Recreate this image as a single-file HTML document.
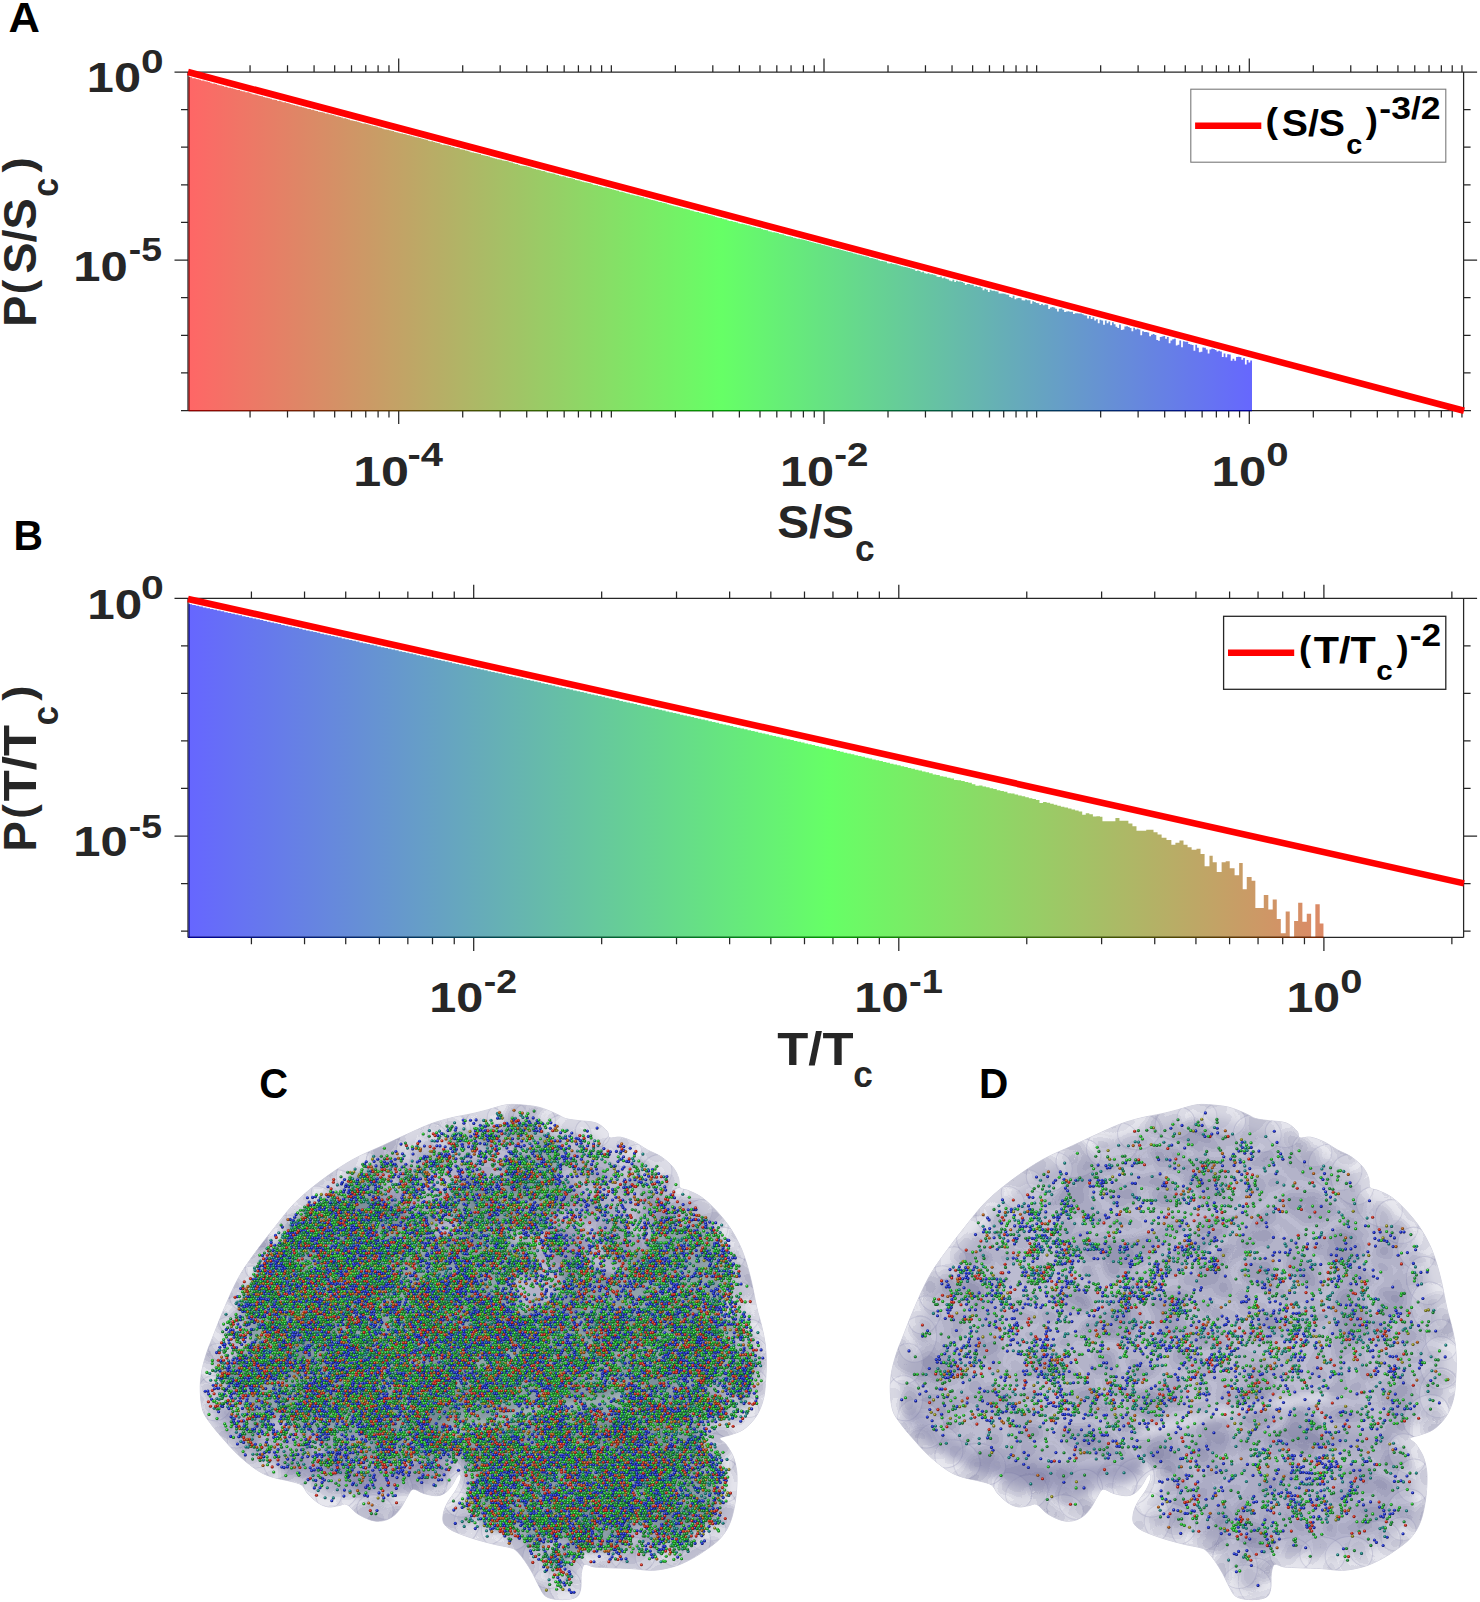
<!DOCTYPE html><html><head><meta charset="utf-8"><style>html,body{margin:0;padding:0;background:#fff}svg{display:block}text{font-family:"Liberation Sans",sans-serif;font-weight:bold;font-kerning:none;letter-spacing:0}</style></head><body><svg width="1480" height="1602" viewBox="0 0 1480 1602"><defs><linearGradient id="gA" gradientUnits="userSpaceOnUse" x1="188" y1="0" x2="1256" y2="0"><stop offset="0" stop-color="#ff6666"/><stop offset="0.5" stop-color="#66ff66"/><stop offset="1" stop-color="#6666ff"/></linearGradient><linearGradient id="gAe" gradientUnits="userSpaceOnUse" x1="188" y1="0" x2="1252" y2="0"><stop offset="0" stop-color="#990000"/><stop offset="0.5" stop-color="#009900"/><stop offset="1" stop-color="#000099"/></linearGradient><linearGradient id="gB" gradientUnits="userSpaceOnUse" x1="188" y1="0" x2="1470" y2="0"><stop offset="0" stop-color="#6666ff"/><stop offset="0.5" stop-color="#66ff66"/><stop offset="1" stop-color="#ff6666"/></linearGradient><linearGradient id="gBe" gradientUnits="userSpaceOnUse" x1="188" y1="0" x2="1470" y2="0"><stop offset="0" stop-color="#000099"/><stop offset="0.5" stop-color="#009900"/><stop offset="1" stop-color="#990000"/></linearGradient></defs><path d="M188.6 410.6V76.99H190.37V77.36H192.14V78.13H193.92V78.25H195.69V79H197.46V79.37H199.23V79.65H201.01V80.39H202.78V80.58H204.55V81.29H206.32V81.54H208.1V82.03H209.87V82.7H211.64V83.41H213.41V83.46H215.19V83.99H216.96V84.7H218.73V85.36H220.5V85.61H222.27V85.97H224.05V86.79H225.82V86.7H227.59V87.66H229.36V87.79H231.14V88.18H232.91V88.63H234.68V89.21H236.45V89.99H238.23V90.08H240V90.79H241.77V91.3H243.54V91.61H245.31V92.18H247.09V92.36H248.86V92.83H250.63V93.39H252.4V94.14H254.18V94.46H255.95V94.87H257.72V95.5H259.49V95.89H261.27V96.27H263.04V97.04H264.81V97.45H266.58V97.65H268.36V98.32H270.13V98.76H271.9V99.44H273.67V99.82H275.44V100.03H277.22V100.91H278.99V100.87H280.76V101.52H282.53V102.19H284.31V102.3H286.08V102.97H287.85V103.17H289.62V104.02H291.4V104.55H293.17V104.9H294.94V105.55H296.71V105.69H298.48V106.39H300.26V106.8H302.03V107.26H303.8V107.66H305.57V108.36H307.35V108.89H309.12V109.08H310.89V109.66H312.66V109.77H314.44V110.63H316.21V111.07H317.98V111.74H319.75V112.11H321.52V112.26H323.3V112.79H325.07V113.43H326.84V113.51H328.61V114.25H330.39V114.54H332.16V114.98H333.93V115.42H335.7V116.31H337.48V116.4H339.25V116.94H341.02V117.5H342.79V118.26H344.57V118.25H346.34V118.95H348.11V119.48H349.88V120.15H351.65V120.58H353.43V121.08H355.2V121.2H356.97V121.75H358.74V122.19H360.52V122.97H362.29V123.49H364.06V123.47H365.83V123.96H367.61V124.46H369.38V124.93H371.15V125.56H372.92V126.09H374.7V126.36H376.47V126.68H378.24V127.4H380.01V127.84H381.78V128.43H383.56V129.13H385.33V129.44H387.1V129.81H388.87V130.34H390.65V130.85H392.42V130.94H394.19V131.92H395.96V132.32H397.74V132.85H399.51V133.27H401.28V133.5H403.05V133.97H404.82V134.27H406.6V135.06H408.37V135.18H410.14V135.66H411.91V136.21H413.69V136.66H415.46V137.23H417.23V137.53H419V137.97H420.78V138.53H422.55V138.97H424.32V139.6H426.09V139.87H427.87V140.85H429.64V141.16H431.41V141.35H433.18V141.89H434.95V142.41H436.73V142.9H438.5V143.22H440.27V144.13H442.04V144.68H443.82V144.84H445.59V145.32H447.36V145.55H449.13V146.03H450.91V146.65H452.68V147.07H454.45V147.88H456.22V147.95H457.99V148.34H459.77V149.36H461.54V149.58H463.31V149.82H465.08V150.53H466.86V150.69H468.63V151.46H470.4V152.2H472.17V152.61H473.95V152.98H475.72V153.19H477.49V153.72H479.26V154.07H481.04V154.9H482.81V155.23H484.58V155.85H486.35V156.05H488.12V156.46H489.9V157.28H491.67V157.86H493.44V158.25H495.21V158.69H496.99V159.17H498.76V159.59H500.53V159.75H502.3V160.4H504.08V160.77H505.85V161.05H507.62V161.52H509.39V162.14H511.16V162.6H512.94V163.33H514.71V163.96H516.48V164.12H518.25V164.89H520.03V165.39H521.8V165.84H523.57V165.95H525.34V166.34H527.12V166.81H528.89V167.26H530.66V167.74H532.43V168.46H534.21V169.1H535.98V169.53H537.75V169.79H539.52V170.36H541.29V170.92H543.07V170.96H544.84V171.78H546.61V172.4H548.38V172.79H550.16V173.24H551.93V173.55H553.7V173.84H555.47V174.68H557.25V174.88H559.02V175.63H560.79V176.2H562.56V176.33H564.33V176.8H566.11V177.6H567.88V177.93H569.65V178.07H571.42V178.52H573.2V179H574.97V179.93H576.74V180.34H578.51V180.41H580.29V181.29H582.06V181.85H583.83V182.13H585.6V182.42H587.38V183.01H589.15V183.23H590.92V183.63H592.69V184.67H594.46V184.95H596.24V185.35H598.01V186.06H599.78V186.23H601.55V186.96H603.33V187.41H605.1V187.51H606.87V188H608.64V188.5H610.42V188.94H612.19V189.62H613.96V189.89H615.73V190.46H617.5V190.75H619.28V191.69H621.05V191.83H622.82V192.36H624.59V192.91H626.37V193.57H628.14V193.75H629.91V194.52H631.68V194.74H633.46V195.23H635.23V195.7H637V195.86H638.77V196.59H640.55V196.9H642.32V197.27H644.09V198.21H645.86V198.31H647.63V198.96H649.41V199.58H651.18V199.95H652.95V200.28H654.72V200.87H656.5V201.36H658.27V201.97H660.04V202.03H661.81V202.78H663.59V203.06H665.36V203.55H667.13V204.32H668.9V204.63H670.67V205.13H672.45V205.72H674.22V206.28H675.99V206.47H677.76V207.04H679.54V207.45H681.31V207.92H683.08V208.5H684.85V208.83H686.63V209.35H688.4V209.79H690.17V210.54H691.94V210.86H693.72V211.44H695.49V211.95H697.26V212.01H699.03V212.66H700.8V213.36H702.58V213.77H704.35V213.82H706.12V214.28H707.89V214.94H709.67V215.19H711.44V215.76H713.21V216.13H714.98V216.96H716.76V217.5H718.53V218.04H720.3V218.06H722.07V218.87H723.84V219.31H725.62V219.47H727.39V220.38H729.16V220.9H730.93V220.93H732.71V221.84H734.48V221.97H736.25V222.5H738.02V223.27H739.8V223.65H741.57V223.71H743.34V224.35H745.11V224.87H746.89V225.23H748.66V225.62H750.43V226.16H752.2V226.87H753.97V226.92H755.75V227.71H757.52V228.12H759.29V228.33H761.06V228.99H762.84V229.64H764.61V230.04H766.38V230.24H768.15V231.27H769.93V231.62H771.7V232.2H773.47V232.15H775.24V232.72H777.01V233.05H778.79V233.97H780.56V234.13H782.33V234.52H784.1V235.16H785.88V235.93H787.65V236.34H789.42V236.48H791.19V236.88H792.97V237.82H794.74V238.08H796.51V238.63H798.28V238.73H800.06V239.15H801.83V239.62H803.6V240.09H805.37V240.56H807.14V241.03H808.92V241.51H810.69V242.01H812.46V242.45H814.23V242.97H816.01V243.4H817.78V243.86H819.55V244.37H821.32V244.93H823.1V245.36H824.87V245.81H826.64V246.26H828.41V246.87H830.18V247.16H831.96V247.9H833.73V248.35H835.5V248.73H837.27V249.06H839.05V249.57H840.82V250H842.59V250.52H844.36V250.96H846.14V251.41H847.91V251.89H849.68V252.36H851.45V252.84H853.23V253.39H855V253.78H856.77V254.39H858.54V254.78H860.31V255.32H862.09V255.79H863.86V256.13H865.63V256.62H867.4V257.03H869.18V257.88H870.95V258.01H872.72V258.44H874.49V258.99H876.27V259.42H878.04V260.14H879.81V260.89H881.58V260.98H883.35V261.45H885.13V261.84H886.9V263.26H888.67V263.47H890.44V263.16H892.22V263.88H893.99V264.31H895.76V264.6H897.53V265.19H899.31V265.76H901.08V266.16H902.85V266.67H904.62V266.99H906.4V267.57H908.17V268H909.94V268.53H911.71V269.03H913.48V269.45H915.26V270.97H917.03V270.4H918.8V270.94H920.57V272.35H922.35V271.74H924.12V273.33H925.89V273.84H927.66V273.25H929.44V274.36H931.21V274.32H932.98V274.74H934.75V275.19H936.52V276.81H938.3V276.96H940.07V276.44H941.84V278.15H943.61V277.61H945.39V278.81H947.16V279.19H948.93V280.6H950.7V281.29H952.48V279.63H954.25V281.94H956.02V280.81H957.79V281.52H959.57V281.62H961.34V282.05H963.11V283.02H964.88V284.93H966.65V283.93H968.43V284H970.2V284.63H971.97V284.8H973.74V286.45H975.52V286.11H977.29V287.06H979.06V286.68H980.83V287.73H982.61V290.21H984.38V288.73H986.15V289.63H987.92V291.93H989.69V289.76H991.47V290.79H993.24V290.75H995.01V291.13H996.78V291.57H998.56V293.45H1000.33V293.5H1002.1V293.5H1003.87V293.77H1005.65V294.5H1007.42V294.8H1009.19V297.12H1010.96V297.69H1012.74V295.86H1014.51V299.29H1016.28V298.21H1018.05V298.08H1019.82V298.37H1021.6V300.33H1023.37V300.47H1025.14V299.53H1026.91V300.15H1028.69V300.32H1030.46V303.76H1032.23V301.22H1034V302.01H1035.78V303.07H1037.55V303.15H1039.32V304.94H1041.09V303.9H1042.86V305.3H1044.64V304.47H1046.41V304.81H1048.18V309.06H1049.95V307.62H1051.73V306.89H1053.5V307.6H1055.27V308.64H1057.04V311.55H1058.82V308.81H1060.59V308.47H1062.36V309.8H1064.13V311.92H1065.9V311.52H1067.68V311.15H1069.45V311.8H1071.22V311.66H1072.99V314.08H1074.77V313.21H1076.54V313.33H1078.31V313.58H1080.08V313.55H1081.86V314.26H1083.63V315.24H1085.4V315.55H1087.17V318.59H1088.95V315.99H1090.72V319.01H1092.49V317.29H1094.26V320.39H1096.03V319.31H1097.81V323.27H1099.58V319.85H1101.35V320.41H1103.12V324.81H1104.9V320.51H1106.67V323.29H1108.44V321.61H1110.21V325.22H1111.99V322.29H1113.76V324.35H1115.53V326.8H1117.3V327.95H1119.08V324.58H1120.85V329.97H1122.62V329.6H1124.39V326.57H1126.16V326.17H1127.94V326.95H1129.71V328.02H1131.48V331.18H1133.25V327.84H1135.03V329.4H1136.8V328.78H1138.57V329.4H1140.34V335.14H1142.12V331.13H1143.89V331.92H1145.66V332.1H1147.43V332.58H1149.2V336.17H1150.98V334.77H1152.75V333.91H1154.52V335.12H1156.29V340.1H1158.07V340.67H1159.84V337.08H1161.61V336.54H1163.38V335.95H1165.16V338.65H1166.93V336.89H1168.7V343.28H1170.47V340.38H1172.25V339.32H1174.02V338.69H1175.79V345.48H1177.56V344.75H1179.33V340.46H1181.11V347.29H1182.88V341.27H1184.65V341.85H1186.42V341.76H1188.2V343.91H1189.97V344.44H1191.74V344.91H1193.51V350.87H1195.29V344.82H1197.06V347.86H1198.83V352.19H1200.6V351.73H1202.37V347.57H1204.15V347.63H1205.92V349.43H1207.69V353.59H1209.46V349.43H1211.24V348.82H1213.01V349.07H1214.78V349.92H1216.55V351.54H1218.33V350.75H1220.1V351.47H1221.87V357.04H1223.64V353.57H1225.41V357.29H1227.19V354.13H1228.96V354.44H1230.73V360.67H1232.5V358.83H1234.28V360.8H1236.05V357.05H1237.82V356.72H1239.59V357.12H1241.37V359.81H1243.14V357.91H1244.91V364.45H1246.68V359.95H1248.46V362.47H1250.23V360.57H1252V410.6Z" fill="url(#gA)"/><path d="M188.6 937.4V604.2H192.16V605H195.72V605.79H199.28V606.59H202.84V607.38H206.4V608.18H209.96V608.97H213.52V609.77H217.08V610.56H220.64V611.36H224.2V612.15H227.76V612.95H231.32V613.74H234.88V614.54H238.44V615.33H242V616.13H245.56V616.92H249.12V617.72H252.68V618.52H256.24V619.31H259.8V620.11H263.36V620.9H266.92V621.7H270.48V622.49H274.04V623.29H277.6V624.08H281.16V624.88H284.72V625.68H288.28V626.47H291.84V627.27H295.4V628.06H298.96V628.86H302.52V629.66H306.09V630.45H309.65V631.25H313.21V632.04H316.77V632.84H320.33V633.64H323.89V634.43H327.45V635.23H331.01V636.03H334.57V636.82H338.13V637.62H341.69V638.42H345.25V639.21H348.81V640.01H352.37V640.81H355.93V641.6H359.49V642.4H363.05V643.2H366.61V643.99H370.17V644.79H373.73V645.59H377.29V646.39H380.85V647.18H384.41V647.98H387.97V648.78H391.53V649.58H395.09V650.37H398.65V651.17H402.21V651.97H405.77V652.77H409.33V653.57H412.89V654.36H416.45V655.16H420.01V655.96H423.57V656.76H427.13V657.56H430.69V658.36H434.25V659.15H437.81V659.95H441.37V660.75H444.93V661.55H448.49V662.35H452.05V663.15H455.61V663.95H459.17V664.75H462.73V665.55H466.29V666.35H469.85V667.15H473.41V667.95H476.97V668.75H480.53V669.55H484.09V670.35H487.65V671.15H491.21V671.95H494.77V672.75H498.33V673.55H501.89V674.35H505.45V675.15H509.01V675.95H512.57V676.76H516.13V677.56H519.69V678.36H523.25V679.16H526.81V679.96H530.38V680.76H533.94V681.57H537.5V682.37H541.06V683.17H544.62V683.98H548.18V684.78H551.74V685.58H555.3V686.39H558.86V687.19H562.42V687.99H565.98V688.8H569.54V689.6H573.1V690.41H576.66V691.21H580.22V692.02H583.78V692.82H587.34V693.63H590.9V694.43H594.46V695.24H598.02V696.04H601.58V696.85H605.14V697.66H608.7V698.46H612.26V699.27H615.82V700.08H619.38V700.89H622.94V701.69H626.5V702.5H630.06V703.31H633.62V704.12H637.18V704.93H640.74V705.74H644.3V706.55H647.86V707.36H651.42V708.17H654.98V708.98H658.54V709.79H662.1V710.6H665.66V711.41H669.22V712.22H672.78V713.04H676.34V713.85H679.9V714.66H683.46V715.48H687.02V716.29H690.58V717.1H694.14V717.92H697.7V718.73H701.26V719.55H704.82V720.37H708.38V721.18H711.94V722H715.5V722.82H719.06V723.63H722.62V724.45H726.18V725.27H729.74V726.09H733.3V726.91H736.86V727.73H740.42V728.55H743.98V729.37H747.54V730.19H751.1V731.02H754.66V731.84H758.23V732.66H761.79V733.49H765.35V734.31H768.91V735.14H772.47V735.96H776.03V736.79H779.59V737.62H783.15V738.44H786.71V739.27H790.27V740.1H793.83V740.93H797.39V741.76H800.95V742.59H804.51V743.43H808.07V744.26H811.63V745.09H815.19V745.93H818.75V746.76H822.31V747.6H825.87V748.44H829.43V749.27H832.99V750.11H836.55V750.95H840.11V751.79H843.67V752.63H847.23V753.47H850.79V754.32H854.35V755.16H857.91V756.01H861.47V756.85H865.03V757.7H868.59V758.55H872.15V759.4H875.71V760.25H879.27V761.1H882.83V761.95H886.39V762.8H889.95V763.66H893.51V764.51H897.07V765.37H900.63V766.23H904.19V767.12H907.75V767.99H911.31V768.81H914.87V769.68H918.43V770.54H921.99V771.41H925.55V772.27H929.11V773.14H932.67V774.55H936.23V774.89H939.79V776.26H943.35V776.64H946.91V777.87H950.47V778.6H954.03V779.94H957.59V780.15H961.15V781.05H964.71V781.92H968.27V782.81H971.83V784.16H975.39V785.82H978.95V785.48H982.51V786.55H986.07V787.27H989.64V788.17H993.2V789.07H996.76V790.3H1000.32V790.88H1003.88V791.78H1007.44V793.37H1011V793.61H1014.56V794.52H1018.12V795.43H1021.68V796.35H1025.24V797.27H1028.8V798.2H1032.36V799.12H1035.92V800.05H1039.48V803.04H1043.04V801.93H1046.6V802.85H1050.16V803.79H1053.72V804.73H1057.28V805.68H1060.84V806.63H1064.4V807.58H1067.96V808.58H1071.52V809.49H1075.08V810.45H1078.64V811.41H1082.2V814.67H1085.76V813.35H1089.32V814.32H1092.88V816.4H1096.44V816.28H1100V816.76H1102.43V821.3H1115.41V818.05H1119.46V820.81H1128.38V823.57H1132.43V826.16H1136.49V830.86H1146.22V829.73H1153.51V832.16H1157.57V834.59H1161.62V837.84H1166.49V839.95H1171.35V844.65H1175.41V842.7H1179.46V840.43H1183.51V844.65H1187.57V847.24H1191.62V849.68H1196.49V848.86H1200.54V854.05H1204.59V866.22H1209.46V855.68H1212.7V862.16H1216.76V871.89H1221.62V862.16H1225.68V861.35H1229.73V868.32H1234.59V875.14H1239.14V862.97H1242.7V889.24H1246.76V877.08H1251.62V880.81H1255.35V908.05H1263.78V895.08H1268.32V909.51H1272.7V899.46H1276.76V918.92H1280.81V933.19H1285.68V911.62H1289.73V937.4H1294.11V921.03H1298.16V902.7H1302.38V921.68H1306.76V913.73H1311.14V937.4H1315.35V904.32H1319.73V923.46H1323.46V937.4Z" fill="url(#gB)"/><path d="M188 72H1477M188 410.6H1471M188 72V410.6M1463.6 72V410.6M398.7 410.6v13.5M398.7 72v-13.5M824 410.6v13.5M824 72v-13.5M1249.3 410.6v13.5M1249.3 72v-13.5M250.06 410.6v6.8M250.06 72v-6.8M287.51 410.6v6.8M287.51 72v-6.8M314.08 410.6v6.8M314.08 72v-6.8M334.69 410.6v6.8M334.69 72v-6.8M351.52 410.6v6.8M351.52 72v-6.8M365.76 410.6v6.8M365.76 72v-6.8M378.09 410.6v6.8M378.09 72v-6.8M388.97 410.6v6.8M388.97 72v-6.8M462.71 410.6v6.8M462.71 72v-6.8M500.16 410.6v6.8M500.16 72v-6.8M526.73 410.6v6.8M526.73 72v-6.8M547.34 410.6v6.8M547.34 72v-6.8M564.17 410.6v6.8M564.17 72v-6.8M578.41 410.6v6.8M578.41 72v-6.8M590.74 410.6v6.8M590.74 72v-6.8M601.62 410.6v6.8M601.62 72v-6.8M611.35 410.6v6.8M611.35 72v-6.8M675.36 410.6v6.8M675.36 72v-6.8M712.81 410.6v6.8M712.81 72v-6.8M739.38 410.6v6.8M739.38 72v-6.8M759.99 410.6v6.8M759.99 72v-6.8M776.82 410.6v6.8M776.82 72v-6.8M791.06 410.6v6.8M791.06 72v-6.8M803.39 410.6v6.8M803.39 72v-6.8M814.27 410.6v6.8M814.27 72v-6.8M888.01 410.6v6.8M888.01 72v-6.8M925.46 410.6v6.8M925.46 72v-6.8M952.03 410.6v6.8M952.03 72v-6.8M972.64 410.6v6.8M972.64 72v-6.8M989.47 410.6v6.8M989.47 72v-6.8M1003.71 410.6v6.8M1003.71 72v-6.8M1016.04 410.6v6.8M1016.04 72v-6.8M1026.92 410.6v6.8M1026.92 72v-6.8M1036.65 410.6v6.8M1036.65 72v-6.8M1100.66 410.6v6.8M1100.66 72v-6.8M1138.11 410.6v6.8M1138.11 72v-6.8M1164.68 410.6v6.8M1164.68 72v-6.8M1185.29 410.6v6.8M1185.29 72v-6.8M1202.12 410.6v6.8M1202.12 72v-6.8M1216.36 410.6v6.8M1216.36 72v-6.8M1228.69 410.6v6.8M1228.69 72v-6.8M1239.57 410.6v6.8M1239.57 72v-6.8M1313.31 410.6v6.8M1313.31 72v-6.8M1350.76 410.6v6.8M1350.76 72v-6.8M1377.33 410.6v6.8M1377.33 72v-6.8M1397.94 410.6v6.8M1397.94 72v-6.8M1414.77 410.6v6.8M1414.77 72v-6.8M1429.01 410.6v6.8M1429.01 72v-6.8M1441.34 410.6v6.8M1441.34 72v-6.8M1452.22 410.6v6.8M1452.22 72v-6.8M1461.95 410.6v6.8M1461.95 72v-6.8M188 72h-13.5M1463.6 72h13.5M188 260.11h-13.5M1463.6 260.11h13.5M188 109.62h-7M1463.6 109.62h7M188 147.24h-7M1463.6 147.24h7M188 184.87h-7M1463.6 184.87h7M188 222.49h-7M1463.6 222.49h7M188 297.73h-7M1463.6 297.73h7M188 335.36h-7M1463.6 335.36h7M188 372.98h-7M1463.6 372.98h7M188 410.6h-7M1463.6 410.6h7" stroke="#262626" stroke-width="1.25" fill="none"/><path d="M188 598.3H1477M188 937.4H1463.6M188 598.3V937.4M1463.6 598.3V937.4M473.7 937.4v13.5M473.7 598.3v-13.5M898.8 937.4v13.5M898.8 598.3v-13.5M1323.9 937.4v13.5M1323.9 598.3v-13.5M251.42 937.4v6.8M251.42 598.3v-6.8M304.54 937.4v6.8M304.54 598.3v-6.8M345.73 937.4v6.8M345.73 598.3v-6.8M379.39 937.4v6.8M379.39 598.3v-6.8M407.85 937.4v6.8M407.85 598.3v-6.8M432.5 937.4v6.8M432.5 598.3v-6.8M454.25 937.4v6.8M454.25 598.3v-6.8M601.67 937.4v6.8M601.67 598.3v-6.8M676.52 937.4v6.8M676.52 598.3v-6.8M729.64 937.4v6.8M729.64 598.3v-6.8M770.83 937.4v6.8M770.83 598.3v-6.8M804.49 937.4v6.8M804.49 598.3v-6.8M832.95 937.4v6.8M832.95 598.3v-6.8M857.6 937.4v6.8M857.6 598.3v-6.8M879.35 937.4v6.8M879.35 598.3v-6.8M1026.77 937.4v6.8M1026.77 598.3v-6.8M1101.62 937.4v6.8M1101.62 598.3v-6.8M1154.74 937.4v6.8M1154.74 598.3v-6.8M1195.93 937.4v6.8M1195.93 598.3v-6.8M1229.59 937.4v6.8M1229.59 598.3v-6.8M1258.05 937.4v6.8M1258.05 598.3v-6.8M1282.7 937.4v6.8M1282.7 598.3v-6.8M1304.45 937.4v6.8M1304.45 598.3v-6.8M1451.87 937.4v6.8M1451.87 598.3v-6.8M188 598.3h-13.5M1463.6 598.3h13.5M188 836h-13.5M1463.6 836h13.5M188 645.84h-7M1463.6 645.84h7M188 693.38h-7M1463.6 693.38h7M188 740.92h-7M1463.6 740.92h7M188 788.46h-7M1463.6 788.46h7M188 883.54h-7M1463.6 883.54h7M188 931.08h-7M1463.6 931.08h7" stroke="#262626" stroke-width="1.25" fill="none"/><path d="M188.6 410.6H1252" stroke="url(#gAe)" stroke-width="1.4"/><path d="M188.6 937.4H1323.5" stroke="url(#gBe)" stroke-width="1.4"/><path d="M189.1 410.6V76.6" stroke="#8a0000" stroke-width="1"/><path d="M189.1 937.4V603.6" stroke="#00008a" stroke-width="1"/><path d="M188 72L1464 410.8" stroke="#ff0000" stroke-width="6.6" fill="none"/><path d="M188 599L1464 883.4" stroke="#ff0000" stroke-width="6.6" fill="none"/><rect x="1190.8" y="89.2" width="255" height="73" fill="#fff" stroke="#7a7a7a" stroke-width="1.1"/><path d="M1195.1 125.7H1261.3" stroke="#ff0000" stroke-width="6.4"/><rect x="1223.6" y="616.3" width="222.2" height="73" fill="#fff" stroke="#262626" stroke-width="1.3"/><path d="M1228 652.7H1294.2" stroke="#ff0000" stroke-width="6.4"/><text transform="translate(86.83,92) scale(1.1485,1)" font-size="42.4" fill="#262626">10</text><text transform="translate(140.99,72.6) scale(1.2297,1)" font-size="33" fill="#262626">0</text><text transform="translate(73.31,280.9) scale(1.1555,1)" font-size="42.4" fill="#262626">10</text><text transform="translate(128.84,261.4) scale(1.1314,1)" font-size="33" fill="#262626">-5</text><text transform="translate(353.13,485.9) scale(1.1859,1)" font-size="42.4" fill="#262626">10</text><text transform="translate(407.44,466.2) scale(1.2089,1)" font-size="33" fill="#262626">-4</text><text transform="translate(779.93,485.6) scale(1.1485,1)" font-size="42.4" fill="#262626">10</text><text transform="translate(834.2,466.2) scale(1.1671,1)" font-size="33" fill="#262626">-2</text><text transform="translate(1211.61,485.7) scale(1.1578,1)" font-size="42.4" fill="#262626">10</text><text transform="translate(1266.21,466.1) scale(1.2170,1)" font-size="33" fill="#262626">0</text><text transform="translate(87.29,619) scale(1.1649,1)" font-size="42.4" fill="#262626">10</text><text transform="translate(141.08,599) scale(1.2425,1)" font-size="33" fill="#262626">0</text><text transform="translate(73.31,856.2) scale(1.1555,1)" font-size="42.4" fill="#262626">10</text><text transform="translate(128.84,837.5) scale(1.1314,1)" font-size="33" fill="#262626">-5</text><text transform="translate(429.14,1012.4) scale(1.1461,1)" font-size="42.4" fill="#262626">10</text><text transform="translate(483.83,992.8) scale(1.1372,1)" font-size="33" fill="#262626">-2</text><text transform="translate(854.31,1012.4) scale(1.1578,1)" font-size="42.4" fill="#262626">10</text><text transform="translate(909.01,992.9) scale(1.1535,1)" font-size="33" fill="#262626">-1</text><text transform="translate(1286.46,1012.4) scale(1.1368,1)" font-size="42.4" fill="#262626">10</text><text transform="translate(1340.22,992.8) scale(1.2106,1)" font-size="33" fill="#262626">0</text><text transform="translate(777.23,538.4) scale(1.0363,1)" font-size="46" fill="#262626">S/S</text><text transform="translate(854.92,560.6) scale(0.9403,1)" font-size="37.5" fill="#262626">c</text><text transform="translate(777.23,1064.9) scale(1.1050,1)" font-size="46" fill="#262626">T/T</text><text transform="translate(853.22,1086.8) scale(0.9403,1)" font-size="37.5" fill="#262626">c</text><text transform="translate(36,326.72) rotate(-90) scale(1.0141,1)" font-size="46" fill="#262626">P</text><text transform="translate(33.12,294.27) rotate(-90) scale(1.0416,1)" font-size="41.84" fill="#262626">(</text><text transform="translate(36,273.85) rotate(-90) scale(1.0208,1)" font-size="46" fill="#262626">S/S</text><text transform="translate(58,196.82) rotate(-90) scale(0.9020,1)" font-size="37.5" fill="#262626">c</text><text transform="translate(33.12,172.54) rotate(-90) scale(1.0925,1)" font-size="41.84" fill="#262626">)</text><text transform="translate(36,851.55) rotate(-90) scale(0.9911,1)" font-size="46" fill="#262626">P</text><text transform="translate(33.12,818.67) rotate(-90) scale(1.0416,1)" font-size="41.84" fill="#262626">(</text><text transform="translate(36,801.37) rotate(-90) scale(1.1079,1)" font-size="46" fill="#262626">T/T</text><text transform="translate(58,725.15) rotate(-90) scale(0.9184,1)" font-size="37.5" fill="#262626">c</text><text transform="translate(33.12,700.84) rotate(-90) scale(1.0925,1)" font-size="41.84" fill="#262626">)</text><text transform="translate(1265.53,133.45) scale(1.0906,1)" font-size="34.44" fill="#000">(</text><text transform="translate(1281.77,136.1) scale(1.0523,1)" font-size="37.3" fill="#000">S/S</text><text transform="translate(1346.17,153.7) scale(1.0287,1)" font-size="28.1" fill="#000">c</text><text transform="translate(1365.86,133.45) scale(1.0598,1)" font-size="34.44" fill="#000">)</text><text transform="translate(1379.31,118.6) scale(1.1647,1)" font-size="30.5" fill="#000">-3/2</text><text transform="translate(1298.98,660.61) scale(1.0532,1)" font-size="34.65" fill="#000">(</text><text transform="translate(1313.84,662.6) scale(1.1086,1)" font-size="37.3" fill="#000">T/T</text><text transform="translate(1376.25,680) scale(1.0506,1)" font-size="28.1" fill="#000">c</text><text transform="translate(1396.46,660.61) scale(1.0532,1)" font-size="34.65" fill="#000">)</text><text transform="translate(1409.72,645.8) scale(1.1576,1)" font-size="30.5" fill="#000">-2</text><text transform="translate(8.62,31.8) scale(1.0145,1)" font-size="42.9" fill="#000">A</text><text transform="translate(13.47,549.9) scale(0.9517,1)" font-size="42.9" fill="#000">B</text><text transform="translate(259.26,1098.3) scale(0.9305,1)" font-size="42.9" fill="#000">C</text><text transform="translate(979.08,1098.1) scale(0.9464,1)" font-size="42.9" fill="#000">D</text><defs><clipPath id="bclip"><path d="M504.9 1105.1C510.1 1104.2 512.8 1104.3 518.4 1104.7C524.0 1105.1 532.3 1105.7 538.6 1107.2C544.9 1108.7 551.7 1112.0 556.2 1113.9C560.7 1115.8 561.9 1117.5 565.7 1118.6C569.5 1119.7 574.1 1120.0 579.2 1120.7C584.3 1121.4 591.6 1121.3 596.2 1123.0C600.8 1124.7 604.8 1128.6 607.0 1131.1C609.2 1133.6 607.5 1136.8 609.7 1137.8C612.0 1138.8 616.5 1136.5 620.5 1137.2C624.5 1137.9 629.5 1139.8 634.0 1141.9C638.5 1144.0 643.1 1147.5 647.6 1150.0C652.1 1152.5 656.8 1153.9 661.1 1156.8C665.4 1159.7 670.3 1164.0 673.2 1167.6C676.1 1171.2 677.5 1175.0 678.6 1178.4C679.7 1181.8 678.4 1185.8 680.0 1187.8C681.6 1189.8 684.5 1188.9 688.1 1190.5C691.7 1192.1 697.1 1194.1 701.6 1197.3C706.1 1200.5 710.6 1204.8 715.1 1209.5C719.6 1214.2 724.5 1219.9 728.6 1225.7C732.7 1231.5 736.6 1238.5 739.5 1244.6C742.4 1250.7 744.2 1255.9 746.2 1262.2C748.2 1268.5 749.8 1274.8 751.6 1282.4C753.4 1290.0 755.1 1300.6 756.8 1307.8C758.4 1315.0 760.1 1319.7 761.5 1325.6C762.9 1331.5 764.3 1337.5 765.1 1343.4C765.9 1349.3 766.2 1355.3 766.3 1361.2C766.4 1367.1 766.1 1373.1 765.7 1379.0C765.3 1384.9 765.0 1391.5 763.9 1396.8C762.8 1402.1 761.1 1406.8 759.1 1411.0C757.1 1415.2 754.8 1418.5 752.0 1421.7C749.2 1424.9 746.0 1427.8 742.5 1430.0C739.0 1432.2 734.5 1433.3 730.7 1434.7C727.0 1436.1 720.8 1436.7 720.0 1438.3C719.2 1439.9 723.7 1441.2 725.9 1444.2C728.1 1447.2 731.3 1452.1 733.0 1456.1C734.7 1460.1 735.5 1464.0 736.2 1468.0C736.9 1472.0 737.1 1474.6 737.0 1480.0C736.9 1485.4 736.5 1493.6 735.4 1500.5C734.3 1507.4 732.9 1515.4 730.5 1521.6C728.1 1527.8 725.1 1532.9 720.8 1537.8C716.5 1542.7 710.0 1547.0 704.6 1550.8C699.2 1554.6 693.8 1557.8 688.4 1560.5C683.0 1563.2 678.2 1565.4 672.2 1567.0C666.2 1568.6 659.5 1570.0 652.7 1570.3C645.9 1570.6 638.6 1569.0 631.6 1568.6C624.6 1568.2 616.7 1568.1 610.5 1567.8C604.3 1567.5 598.6 1567.5 594.3 1567.0C590.0 1566.5 586.8 1563.4 584.6 1564.5C582.4 1565.6 582.0 1569.3 581.3 1573.5C580.6 1577.7 581.6 1585.7 580.5 1589.7C579.4 1593.8 578.5 1596.2 574.9 1597.8C571.2 1599.4 563.5 1599.8 558.6 1599.5C553.7 1599.2 548.9 1598.4 545.7 1596.2C542.5 1594.0 541.4 1590.3 539.2 1586.5C537.0 1582.7 535.1 1577.8 532.7 1573.5C530.3 1569.2 527.3 1564.3 524.6 1560.5C521.9 1556.7 518.9 1553.0 516.5 1550.8C514.1 1548.6 513.7 1548.7 510.0 1547.6C506.3 1546.5 499.6 1545.6 494.3 1544.3C489.0 1543.0 483.5 1541.6 478.1 1540.0C472.7 1538.4 466.6 1536.4 461.9 1534.6C457.2 1532.8 453.1 1531.2 450.0 1529.2C446.9 1527.2 444.6 1525.4 443.5 1522.7C442.4 1520.0 442.8 1516.4 443.5 1513.0C444.2 1509.6 445.6 1506.2 447.8 1502.2C450.0 1498.2 454.3 1493.2 456.5 1489.2C458.7 1485.2 460.3 1480.9 460.8 1478.4C461.3 1475.9 460.4 1474.3 459.7 1474.1C459.0 1473.9 457.8 1475.5 456.5 1477.3C455.2 1479.1 454.0 1482.4 452.2 1484.9C450.4 1487.4 448.2 1490.6 445.7 1492.4C443.2 1494.2 440.6 1495.5 437.0 1495.7C433.4 1495.9 428.0 1494.6 424.0 1493.5C420.0 1492.4 415.9 1488.8 413.2 1489.2C410.5 1489.6 409.9 1492.5 407.8 1495.7C405.7 1498.9 403.0 1505.0 400.3 1508.6C397.6 1512.2 394.9 1515.2 391.6 1517.3C388.4 1519.4 384.5 1520.7 380.8 1521.1C377.1 1521.5 373.7 1521.0 369.7 1519.7C365.7 1518.4 360.8 1515.9 356.9 1513.3C353.0 1510.7 349.6 1505.6 346.6 1504.3C343.6 1503.0 341.9 1505.2 338.9 1505.6C335.9 1506.0 332.0 1507.3 328.6 1506.9C325.2 1506.5 321.8 1505.2 318.4 1503.0C315.0 1500.8 310.9 1497.0 308.1 1494.0C305.3 1491.0 304.7 1487.2 301.7 1485.1C298.7 1483.0 294.8 1482.5 290.1 1481.2C285.4 1479.9 278.3 1478.9 273.4 1477.4C268.5 1475.9 264.9 1474.6 260.6 1472.2C256.3 1469.8 252.1 1466.6 247.8 1463.2C243.5 1459.8 239.2 1456.0 234.9 1451.7C230.6 1447.4 226.2 1442.3 222.1 1437.6C218.0 1432.9 213.7 1427.9 210.5 1423.4C207.3 1418.9 204.5 1415.9 202.8 1410.6C201.1 1405.2 200.5 1397.7 200.3 1391.3C200.1 1384.9 200.5 1378.5 201.6 1372.1C202.7 1365.7 204.9 1358.4 206.7 1352.8C208.5 1347.2 209.3 1345.8 212.3 1338.3C215.3 1330.8 220.1 1317.9 224.5 1307.8C228.9 1297.7 233.6 1286.5 238.7 1277.4C243.8 1268.3 248.8 1261.5 254.9 1253.1C261.0 1244.7 268.4 1235.2 275.1 1226.8C281.9 1218.3 287.6 1210.2 295.4 1202.4C303.2 1194.6 312.3 1187.2 321.8 1180.1C331.3 1173.0 342.1 1165.6 352.2 1159.9C362.3 1154.2 372.9 1150.2 382.6 1145.7C392.3 1141.2 402.3 1136.4 410.3 1132.8C418.3 1129.2 423.8 1126.5 430.5 1124.0C437.2 1121.5 444.0 1119.7 450.8 1118.0C457.6 1116.3 465.0 1115.2 471.1 1113.9C477.2 1112.6 481.7 1111.4 487.3 1109.9C492.9 1108.4 499.7 1106.0 504.9 1105.1Z"/></clipPath><filter id="sblur" x="-10%" y="-10%" width="120%" height="120%"><feGaussianBlur stdDeviation="4"/></filter><filter id="ublur" x="-5%" y="-5%" width="110%" height="110%"><feGaussianBlur stdDeviation="3"/></filter><filter id="bblur" x="-5%" y="-5%" width="110%" height="110%"><feGaussianBlur stdDeviation="5"/></filter><filter id="mottle1" x="0" y="0" width="100%" height="100%" filterUnits="objectBoundingBox" color-interpolation-filters="sRGB"><feTurbulence type="turbulence" baseFrequency="0.022 0.026" numOctaves="2" seed="7"/><feColorMatrix type="matrix" values="0 0 0 0 0.46  0 0 0 0 0.46  0 0 0 0 0.6  1.5 0 0 0 0"/><feComponentTransfer><feFuncA type="discrete" tableValues="0.04 0.17 0.30 0.43 0.56"/></feComponentTransfer></filter><filter id="mottle2" x="0" y="0" width="100%" height="100%" filterUnits="objectBoundingBox" color-interpolation-filters="sRGB"><feTurbulence type="turbulence" baseFrequency="0.022 0.026" numOctaves="2" seed="14"/><feColorMatrix type="matrix" values="0 0 0 0 0.46  0 0 0 0 0.46  0 0 0 0 0.6  1.5 0 0 0 0"/><feComponentTransfer><feFuncA type="discrete" tableValues="0.04 0.17 0.30 0.43 0.56"/></feComponentTransfer></filter><radialGradient id="rgg" cx="0.42" cy="0.38" r="0.62"><stop offset="0" stop-color="#90ec90"/><stop offset="0.45" stop-color="#1eb42a"/><stop offset="1" stop-color="#064806"/></radialGradient><marker id="mg" markerWidth="4" markerHeight="4" refX="2" refY="2" markerUnits="userSpaceOnUse" overflow="visible"><circle cx="2" cy="2" r="1.55" fill="url(#rgg)"/></marker><radialGradient id="rgG" cx="0.42" cy="0.38" r="0.62"><stop offset="0" stop-color="#70c880"/><stop offset="0.45" stop-color="#1a8c36"/><stop offset="1" stop-color="#083a0c"/></radialGradient><marker id="mG" markerWidth="4" markerHeight="4" refX="2" refY="2" markerUnits="userSpaceOnUse" overflow="visible"><circle cx="2" cy="2" r="1.55" fill="url(#rgG)"/></marker><radialGradient id="rgt" cx="0.42" cy="0.38" r="0.62"><stop offset="0" stop-color="#70c8c0"/><stop offset="0.45" stop-color="#1a7e7a"/><stop offset="1" stop-color="#033638"/></radialGradient><marker id="mt" markerWidth="4" markerHeight="4" refX="2" refY="2" markerUnits="userSpaceOnUse" overflow="visible"><circle cx="2" cy="2" r="1.55" fill="url(#rgt)"/></marker><radialGradient id="rgb" cx="0.42" cy="0.38" r="0.62"><stop offset="0" stop-color="#7080f4"/><stop offset="0.45" stop-color="#1c30c4"/><stop offset="1" stop-color="#000650"/></radialGradient><marker id="mb" markerWidth="4" markerHeight="4" refX="2" refY="2" markerUnits="userSpaceOnUse" overflow="visible"><circle cx="2" cy="2" r="1.55" fill="url(#rgb)"/></marker><radialGradient id="rgr" cx="0.42" cy="0.38" r="0.62"><stop offset="0" stop-color="#f08070"/><stop offset="0.45" stop-color="#c42a1c"/><stop offset="1" stop-color="#580600"/></radialGradient><marker id="mr" markerWidth="4" markerHeight="4" refX="2" refY="2" markerUnits="userSpaceOnUse" overflow="visible"><circle cx="2" cy="2" r="1.55" fill="url(#rgr)"/></marker><radialGradient id="rgo" cx="0.42" cy="0.38" r="0.62"><stop offset="0" stop-color="#e0a060"/><stop offset="0.45" stop-color="#aa5a1a"/><stop offset="1" stop-color="#482400"/></radialGradient><marker id="mo" markerWidth="4" markerHeight="4" refX="2" refY="2" markerUnits="userSpaceOnUse" overflow="visible"><circle cx="2" cy="2" r="1.55" fill="url(#rgo)"/></marker><radialGradient id="rgy" cx="0.42" cy="0.38" r="0.62"><stop offset="0" stop-color="#d0d070"/><stop offset="0.45" stop-color="#8c8a20"/><stop offset="1" stop-color="#383800"/></radialGradient><marker id="my" markerWidth="4" markerHeight="4" refX="2" refY="2" markerUnits="userSpaceOnUse" overflow="visible"><circle cx="2" cy="2" r="1.55" fill="url(#rgy)"/></marker><radialGradient id="rggd" cx="0.42" cy="0.38" r="0.62"><stop offset="0" stop-color="#90ec90"/><stop offset="0.45" stop-color="#1eb42a"/><stop offset="1" stop-color="#064806"/></radialGradient><marker id="mgd" markerWidth="4" markerHeight="4" refX="2" refY="2" markerUnits="userSpaceOnUse" overflow="visible"><circle cx="2" cy="2" r="1.55" fill="url(#rggd)"/></marker><radialGradient id="rgGd" cx="0.42" cy="0.38" r="0.62"><stop offset="0" stop-color="#70c880"/><stop offset="0.45" stop-color="#1a8c36"/><stop offset="1" stop-color="#083a0c"/></radialGradient><marker id="mGd" markerWidth="4" markerHeight="4" refX="2" refY="2" markerUnits="userSpaceOnUse" overflow="visible"><circle cx="2" cy="2" r="1.55" fill="url(#rgGd)"/></marker><radialGradient id="rgtd" cx="0.42" cy="0.38" r="0.62"><stop offset="0" stop-color="#70c8c0"/><stop offset="0.45" stop-color="#1a7e7a"/><stop offset="1" stop-color="#033638"/></radialGradient><marker id="mtd" markerWidth="4" markerHeight="4" refX="2" refY="2" markerUnits="userSpaceOnUse" overflow="visible"><circle cx="2" cy="2" r="1.55" fill="url(#rgtd)"/></marker><radialGradient id="rgbd" cx="0.42" cy="0.38" r="0.62"><stop offset="0" stop-color="#7080f4"/><stop offset="0.45" stop-color="#1c30c4"/><stop offset="1" stop-color="#000650"/></radialGradient><marker id="mbd" markerWidth="4" markerHeight="4" refX="2" refY="2" markerUnits="userSpaceOnUse" overflow="visible"><circle cx="2" cy="2" r="1.55" fill="url(#rgbd)"/></marker><radialGradient id="rgrd" cx="0.42" cy="0.38" r="0.62"><stop offset="0" stop-color="#f08070"/><stop offset="0.45" stop-color="#c42a1c"/><stop offset="1" stop-color="#580600"/></radialGradient><marker id="mrd" markerWidth="4" markerHeight="4" refX="2" refY="2" markerUnits="userSpaceOnUse" overflow="visible"><circle cx="2" cy="2" r="1.55" fill="url(#rgrd)"/></marker><radialGradient id="rgod" cx="0.42" cy="0.38" r="0.62"><stop offset="0" stop-color="#e0a060"/><stop offset="0.45" stop-color="#aa5a1a"/><stop offset="1" stop-color="#482400"/></radialGradient><marker id="mod" markerWidth="4" markerHeight="4" refX="2" refY="2" markerUnits="userSpaceOnUse" overflow="visible"><circle cx="2" cy="2" r="1.55" fill="url(#rgod)"/></marker><radialGradient id="rgyd" cx="0.42" cy="0.38" r="0.62"><stop offset="0" stop-color="#d0d070"/><stop offset="0.45" stop-color="#8c8a20"/><stop offset="1" stop-color="#383800"/></radialGradient><marker id="myd" markerWidth="4" markerHeight="4" refX="2" refY="2" markerUnits="userSpaceOnUse" overflow="visible"><circle cx="2" cy="2" r="1.55" fill="url(#rgyd)"/></marker></defs><g transform="translate(0,0)"><path d="M504.9 1105.1C510.1 1104.2 512.8 1104.3 518.4 1104.7C524.0 1105.1 532.3 1105.7 538.6 1107.2C544.9 1108.7 551.7 1112.0 556.2 1113.9C560.7 1115.8 561.9 1117.5 565.7 1118.6C569.5 1119.7 574.1 1120.0 579.2 1120.7C584.3 1121.4 591.6 1121.3 596.2 1123.0C600.8 1124.7 604.8 1128.6 607.0 1131.1C609.2 1133.6 607.5 1136.8 609.7 1137.8C612.0 1138.8 616.5 1136.5 620.5 1137.2C624.5 1137.9 629.5 1139.8 634.0 1141.9C638.5 1144.0 643.1 1147.5 647.6 1150.0C652.1 1152.5 656.8 1153.9 661.1 1156.8C665.4 1159.7 670.3 1164.0 673.2 1167.6C676.1 1171.2 677.5 1175.0 678.6 1178.4C679.7 1181.8 678.4 1185.8 680.0 1187.8C681.6 1189.8 684.5 1188.9 688.1 1190.5C691.7 1192.1 697.1 1194.1 701.6 1197.3C706.1 1200.5 710.6 1204.8 715.1 1209.5C719.6 1214.2 724.5 1219.9 728.6 1225.7C732.7 1231.5 736.6 1238.5 739.5 1244.6C742.4 1250.7 744.2 1255.9 746.2 1262.2C748.2 1268.5 749.8 1274.8 751.6 1282.4C753.4 1290.0 755.1 1300.6 756.8 1307.8C758.4 1315.0 760.1 1319.7 761.5 1325.6C762.9 1331.5 764.3 1337.5 765.1 1343.4C765.9 1349.3 766.2 1355.3 766.3 1361.2C766.4 1367.1 766.1 1373.1 765.7 1379.0C765.3 1384.9 765.0 1391.5 763.9 1396.8C762.8 1402.1 761.1 1406.8 759.1 1411.0C757.1 1415.2 754.8 1418.5 752.0 1421.7C749.2 1424.9 746.0 1427.8 742.5 1430.0C739.0 1432.2 734.5 1433.3 730.7 1434.7C727.0 1436.1 720.8 1436.7 720.0 1438.3C719.2 1439.9 723.7 1441.2 725.9 1444.2C728.1 1447.2 731.3 1452.1 733.0 1456.1C734.7 1460.1 735.5 1464.0 736.2 1468.0C736.9 1472.0 737.1 1474.6 737.0 1480.0C736.9 1485.4 736.5 1493.6 735.4 1500.5C734.3 1507.4 732.9 1515.4 730.5 1521.6C728.1 1527.8 725.1 1532.9 720.8 1537.8C716.5 1542.7 710.0 1547.0 704.6 1550.8C699.2 1554.6 693.8 1557.8 688.4 1560.5C683.0 1563.2 678.2 1565.4 672.2 1567.0C666.2 1568.6 659.5 1570.0 652.7 1570.3C645.9 1570.6 638.6 1569.0 631.6 1568.6C624.6 1568.2 616.7 1568.1 610.5 1567.8C604.3 1567.5 598.6 1567.5 594.3 1567.0C590.0 1566.5 586.8 1563.4 584.6 1564.5C582.4 1565.6 582.0 1569.3 581.3 1573.5C580.6 1577.7 581.6 1585.7 580.5 1589.7C579.4 1593.8 578.5 1596.2 574.9 1597.8C571.2 1599.4 563.5 1599.8 558.6 1599.5C553.7 1599.2 548.9 1598.4 545.7 1596.2C542.5 1594.0 541.4 1590.3 539.2 1586.5C537.0 1582.7 535.1 1577.8 532.7 1573.5C530.3 1569.2 527.3 1564.3 524.6 1560.5C521.9 1556.7 518.9 1553.0 516.5 1550.8C514.1 1548.6 513.7 1548.7 510.0 1547.6C506.3 1546.5 499.6 1545.6 494.3 1544.3C489.0 1543.0 483.5 1541.6 478.1 1540.0C472.7 1538.4 466.6 1536.4 461.9 1534.6C457.2 1532.8 453.1 1531.2 450.0 1529.2C446.9 1527.2 444.6 1525.4 443.5 1522.7C442.4 1520.0 442.8 1516.4 443.5 1513.0C444.2 1509.6 445.6 1506.2 447.8 1502.2C450.0 1498.2 454.3 1493.2 456.5 1489.2C458.7 1485.2 460.3 1480.9 460.8 1478.4C461.3 1475.9 460.4 1474.3 459.7 1474.1C459.0 1473.9 457.8 1475.5 456.5 1477.3C455.2 1479.1 454.0 1482.4 452.2 1484.9C450.4 1487.4 448.2 1490.6 445.7 1492.4C443.2 1494.2 440.6 1495.5 437.0 1495.7C433.4 1495.9 428.0 1494.6 424.0 1493.5C420.0 1492.4 415.9 1488.8 413.2 1489.2C410.5 1489.6 409.9 1492.5 407.8 1495.7C405.7 1498.9 403.0 1505.0 400.3 1508.6C397.6 1512.2 394.9 1515.2 391.6 1517.3C388.4 1519.4 384.5 1520.7 380.8 1521.1C377.1 1521.5 373.7 1521.0 369.7 1519.7C365.7 1518.4 360.8 1515.9 356.9 1513.3C353.0 1510.7 349.6 1505.6 346.6 1504.3C343.6 1503.0 341.9 1505.2 338.9 1505.6C335.9 1506.0 332.0 1507.3 328.6 1506.9C325.2 1506.5 321.8 1505.2 318.4 1503.0C315.0 1500.8 310.9 1497.0 308.1 1494.0C305.3 1491.0 304.7 1487.2 301.7 1485.1C298.7 1483.0 294.8 1482.5 290.1 1481.2C285.4 1479.9 278.3 1478.9 273.4 1477.4C268.5 1475.9 264.9 1474.6 260.6 1472.2C256.3 1469.8 252.1 1466.6 247.8 1463.2C243.5 1459.8 239.2 1456.0 234.9 1451.7C230.6 1447.4 226.2 1442.3 222.1 1437.6C218.0 1432.9 213.7 1427.9 210.5 1423.4C207.3 1418.9 204.5 1415.9 202.8 1410.6C201.1 1405.2 200.5 1397.7 200.3 1391.3C200.1 1384.9 200.5 1378.5 201.6 1372.1C202.7 1365.7 204.9 1358.4 206.7 1352.8C208.5 1347.2 209.3 1345.8 212.3 1338.3C215.3 1330.8 220.1 1317.9 224.5 1307.8C228.9 1297.7 233.6 1286.5 238.7 1277.4C243.8 1268.3 248.8 1261.5 254.9 1253.1C261.0 1244.7 268.4 1235.2 275.1 1226.8C281.9 1218.3 287.6 1210.2 295.4 1202.4C303.2 1194.6 312.3 1187.2 321.8 1180.1C331.3 1173.0 342.1 1165.6 352.2 1159.9C362.3 1154.2 372.9 1150.2 382.6 1145.7C392.3 1141.2 402.3 1136.4 410.3 1132.8C418.3 1129.2 423.8 1126.5 430.5 1124.0C437.2 1121.5 444.0 1119.7 450.8 1118.0C457.6 1116.3 465.0 1115.2 471.1 1113.9C477.2 1112.6 481.7 1111.4 487.3 1109.9C492.9 1108.4 499.7 1106.0 504.9 1105.1Z" fill="#dfdfe9" stroke="#cdcddb" stroke-width="1"/><path d="M504.9 1105.1C510.1 1104.2 512.8 1104.3 518.4 1104.7C524.0 1105.1 532.3 1105.7 538.6 1107.2C544.9 1108.7 551.7 1112.0 556.2 1113.9C560.7 1115.8 561.9 1117.5 565.7 1118.6C569.5 1119.7 574.1 1120.0 579.2 1120.7C584.3 1121.4 591.6 1121.3 596.2 1123.0C600.8 1124.7 604.8 1128.6 607.0 1131.1C609.2 1133.6 607.5 1136.8 609.7 1137.8C612.0 1138.8 616.5 1136.5 620.5 1137.2C624.5 1137.9 629.5 1139.8 634.0 1141.9C638.5 1144.0 643.1 1147.5 647.6 1150.0C652.1 1152.5 656.8 1153.9 661.1 1156.8C665.4 1159.7 670.3 1164.0 673.2 1167.6C676.1 1171.2 677.5 1175.0 678.6 1178.4C679.7 1181.8 678.4 1185.8 680.0 1187.8C681.6 1189.8 684.5 1188.9 688.1 1190.5C691.7 1192.1 697.1 1194.1 701.6 1197.3C706.1 1200.5 710.6 1204.8 715.1 1209.5C719.6 1214.2 724.5 1219.9 728.6 1225.7C732.7 1231.5 736.6 1238.5 739.5 1244.6C742.4 1250.7 744.2 1255.9 746.2 1262.2C748.2 1268.5 749.8 1274.8 751.6 1282.4C753.4 1290.0 755.1 1300.6 756.8 1307.8C758.4 1315.0 760.1 1319.7 761.5 1325.6C762.9 1331.5 764.3 1337.5 765.1 1343.4C765.9 1349.3 766.2 1355.3 766.3 1361.2C766.4 1367.1 766.1 1373.1 765.7 1379.0C765.3 1384.9 765.0 1391.5 763.9 1396.8C762.8 1402.1 761.1 1406.8 759.1 1411.0C757.1 1415.2 754.8 1418.5 752.0 1421.7C749.2 1424.9 746.0 1427.8 742.5 1430.0C739.0 1432.2 734.5 1433.3 730.7 1434.7C727.0 1436.1 720.8 1436.7 720.0 1438.3C719.2 1439.9 723.7 1441.2 725.9 1444.2C728.1 1447.2 731.3 1452.1 733.0 1456.1C734.7 1460.1 735.5 1464.0 736.2 1468.0C736.9 1472.0 737.1 1474.6 737.0 1480.0C736.9 1485.4 736.5 1493.6 735.4 1500.5C734.3 1507.4 732.9 1515.4 730.5 1521.6C728.1 1527.8 725.1 1532.9 720.8 1537.8C716.5 1542.7 710.0 1547.0 704.6 1550.8C699.2 1554.6 693.8 1557.8 688.4 1560.5C683.0 1563.2 678.2 1565.4 672.2 1567.0C666.2 1568.6 659.5 1570.0 652.7 1570.3C645.9 1570.6 638.6 1569.0 631.6 1568.6C624.6 1568.2 616.7 1568.1 610.5 1567.8C604.3 1567.5 598.6 1567.5 594.3 1567.0C590.0 1566.5 586.8 1563.4 584.6 1564.5C582.4 1565.6 582.0 1569.3 581.3 1573.5C580.6 1577.7 581.6 1585.7 580.5 1589.7C579.4 1593.8 578.5 1596.2 574.9 1597.8C571.2 1599.4 563.5 1599.8 558.6 1599.5C553.7 1599.2 548.9 1598.4 545.7 1596.2C542.5 1594.0 541.4 1590.3 539.2 1586.5C537.0 1582.7 535.1 1577.8 532.7 1573.5C530.3 1569.2 527.3 1564.3 524.6 1560.5C521.9 1556.7 518.9 1553.0 516.5 1550.8C514.1 1548.6 513.7 1548.7 510.0 1547.6C506.3 1546.5 499.6 1545.6 494.3 1544.3C489.0 1543.0 483.5 1541.6 478.1 1540.0C472.7 1538.4 466.6 1536.4 461.9 1534.6C457.2 1532.8 453.1 1531.2 450.0 1529.2C446.9 1527.2 444.6 1525.4 443.5 1522.7C442.4 1520.0 442.8 1516.4 443.5 1513.0C444.2 1509.6 445.6 1506.2 447.8 1502.2C450.0 1498.2 454.3 1493.2 456.5 1489.2C458.7 1485.2 460.3 1480.9 460.8 1478.4C461.3 1475.9 460.4 1474.3 459.7 1474.1C459.0 1473.9 457.8 1475.5 456.5 1477.3C455.2 1479.1 454.0 1482.4 452.2 1484.9C450.4 1487.4 448.2 1490.6 445.7 1492.4C443.2 1494.2 440.6 1495.5 437.0 1495.7C433.4 1495.9 428.0 1494.6 424.0 1493.5C420.0 1492.4 415.9 1488.8 413.2 1489.2C410.5 1489.6 409.9 1492.5 407.8 1495.7C405.7 1498.9 403.0 1505.0 400.3 1508.6C397.6 1512.2 394.9 1515.2 391.6 1517.3C388.4 1519.4 384.5 1520.7 380.8 1521.1C377.1 1521.5 373.7 1521.0 369.7 1519.7C365.7 1518.4 360.8 1515.9 356.9 1513.3C353.0 1510.7 349.6 1505.6 346.6 1504.3C343.6 1503.0 341.9 1505.2 338.9 1505.6C335.9 1506.0 332.0 1507.3 328.6 1506.9C325.2 1506.5 321.8 1505.2 318.4 1503.0C315.0 1500.8 310.9 1497.0 308.1 1494.0C305.3 1491.0 304.7 1487.2 301.7 1485.1C298.7 1483.0 294.8 1482.5 290.1 1481.2C285.4 1479.9 278.3 1478.9 273.4 1477.4C268.5 1475.9 264.9 1474.6 260.6 1472.2C256.3 1469.8 252.1 1466.6 247.8 1463.2C243.5 1459.8 239.2 1456.0 234.9 1451.7C230.6 1447.4 226.2 1442.3 222.1 1437.6C218.0 1432.9 213.7 1427.9 210.5 1423.4C207.3 1418.9 204.5 1415.9 202.8 1410.6C201.1 1405.2 200.5 1397.7 200.3 1391.3C200.1 1384.9 200.5 1378.5 201.6 1372.1C202.7 1365.7 204.9 1358.4 206.7 1352.8C208.5 1347.2 209.3 1345.8 212.3 1338.3C215.3 1330.8 220.1 1317.9 224.5 1307.8C228.9 1297.7 233.6 1286.5 238.7 1277.4C243.8 1268.3 248.8 1261.5 254.9 1253.1C261.0 1244.7 268.4 1235.2 275.1 1226.8C281.9 1218.3 287.6 1210.2 295.4 1202.4C303.2 1194.6 312.3 1187.2 321.8 1180.1C331.3 1173.0 342.1 1165.6 352.2 1159.9C362.3 1154.2 372.9 1150.2 382.6 1145.7C392.3 1141.2 402.3 1136.4 410.3 1132.8C418.3 1129.2 423.8 1126.5 430.5 1124.0C437.2 1121.5 444.0 1119.7 450.8 1118.0C457.6 1116.3 465.0 1115.2 471.1 1113.9C477.2 1112.6 481.7 1111.4 487.3 1109.9C492.9 1108.4 499.7 1106.0 504.9 1105.1Z" fill="#bfbfd3" clip-path="url(#bclip)" stroke="#e4e4ec" stroke-width="24" filter="url(#bblur)"/><rect x="190" y="1095" width="590" height="507" clip-path="url(#bclip)" filter="url(#mottle1)"/><g clip-path="url(#bclip)" fill="#ffffff" fill-opacity="0.14" stroke="#8a8ab0" stroke-opacity="0.28" stroke-width="1"><ellipse cx="507.0" cy="1116.8" rx="19.9" ry="15.9" transform="rotate(-10 507.0 1116.8)"/><ellipse cx="534.3" cy="1119.3" rx="21.2" ry="17.0" transform="rotate(12 534.3 1119.3)"/><ellipse cx="567.4" cy="1133.5" rx="23.8" ry="19.0" transform="rotate(9 567.4 1133.5)"/><ellipse cx="592.6" cy="1132.9" rx="17.6" ry="14.1" transform="rotate(20 592.6 1132.9)"/><ellipse cx="622.1" cy="1150.1" rx="20.1" ry="16.1" transform="rotate(18 622.1 1150.1)"/><ellipse cx="645.3" cy="1167.2" rx="27.5" ry="22.0" transform="rotate(25 645.3 1167.2)"/><ellipse cx="662.5" cy="1179.7" rx="25.9" ry="20.7" transform="rotate(65 662.5 1179.7)"/><ellipse cx="689.3" cy="1206.7" rx="23.9" ry="19.1" transform="rotate(27 689.3 1206.7)"/><ellipse cx="706.8" cy="1221.6" rx="23.8" ry="19.1" transform="rotate(47 706.8 1221.6)"/><ellipse cx="726.5" cy="1249.1" rx="22.7" ry="18.2" transform="rotate(64 726.5 1249.1)"/><ellipse cx="736.2" cy="1280.4" rx="24.2" ry="19.4" transform="rotate(76 736.2 1280.4)"/><ellipse cx="741.2" cy="1307.0" rx="25.1" ry="20.1" transform="rotate(78 741.2 1307.0)"/><ellipse cx="752.0" cy="1339.8" rx="20.5" ry="16.4" transform="rotate(79 752.0 1339.8)"/><ellipse cx="750.6" cy="1362.8" rx="26.2" ry="20.9" transform="rotate(90 750.6 1362.8)"/><ellipse cx="749.6" cy="1392.9" rx="24.7" ry="19.8" transform="rotate(100 749.6 1392.9)"/><ellipse cx="736.2" cy="1416.4" rx="24.6" ry="19.7" transform="rotate(143 736.2 1416.4)"/><ellipse cx="717.0" cy="1453.9" rx="21.4" ry="17.2" transform="rotate(56 717.0 1453.9)"/><ellipse cx="723.8" cy="1481.0" rx="21.9" ry="17.6" transform="rotate(92 723.8 1481.0)"/><ellipse cx="716.2" cy="1514.8" rx="26.3" ry="21.0" transform="rotate(109 716.2 1514.8)"/><ellipse cx="708.6" cy="1533.9" rx="18.9" ry="15.1" transform="rotate(140 708.6 1533.9)"/><ellipse cx="684.6" cy="1544.1" rx="27.2" ry="21.7" transform="rotate(151 684.6 1544.1)"/><ellipse cx="658.9" cy="1555.4" rx="23.8" ry="19.0" transform="rotate(171 658.9 1555.4)"/><ellipse cx="632.5" cy="1555.1" rx="22.6" ry="18.1" transform="rotate(-176 632.5 1555.1)"/><ellipse cx="600.9" cy="1554.9" rx="21.0" ry="16.8" transform="rotate(-177 600.9 1554.9)"/><ellipse cx="567.0" cy="1581.6" rx="23.3" ry="18.7" transform="rotate(90 567.0 1581.6)"/><ellipse cx="556.9" cy="1584.7" rx="24.3" ry="19.5" transform="rotate(-172 556.9 1584.7)"/><ellipse cx="545.0" cy="1563.5" rx="26.1" ry="20.9" transform="rotate(-120 545.0 1563.5)"/><ellipse cx="505.5" cy="1531.8" rx="24.2" ry="19.4" transform="rotate(-169 505.5 1531.8)"/><ellipse cx="480.0" cy="1524.2" rx="26.1" ry="20.9" transform="rotate(-163 480.0 1524.2)"/><ellipse cx="458.7" cy="1518.4" rx="26.5" ry="21.2" transform="rotate(-95 458.7 1518.4)"/><ellipse cx="443.6" cy="1481.9" rx="24.6" ry="19.7" transform="rotate(-61 443.6 1481.9)"/><ellipse cx="465.7" cy="1492.6" rx="25.8" ry="20.7" transform="rotate(123 465.7 1492.6)"/><ellipse cx="427.2" cy="1481.7" rx="20.3" ry="16.3" transform="rotate(-160 427.2 1481.7)"/><ellipse cx="390.5" cy="1494.5" rx="26.0" ry="20.8" transform="rotate(119 390.5 1494.5)"/><ellipse cx="375.1" cy="1509.8" rx="18.4" ry="14.7" transform="rotate(-167 375.1 1509.8)"/><ellipse cx="336.8" cy="1492.7" rx="21.6" ry="17.3" transform="rotate(161 336.8 1492.7)"/><ellipse cx="322.6" cy="1490.9" rx="20.4" ry="16.4" transform="rotate(-141 322.6 1490.9)"/><ellipse cx="289.6" cy="1464.9" rx="26.2" ry="21.0" transform="rotate(-168 289.6 1464.9)"/><ellipse cx="267.5" cy="1459.8" rx="23.6" ry="18.9" transform="rotate(-151 267.5 1459.8)"/><ellipse cx="250.2" cy="1445.8" rx="24.7" ry="19.7" transform="rotate(-138 250.2 1445.8)"/><ellipse cx="231.0" cy="1423.8" rx="26.3" ry="21.0" transform="rotate(-130 231.0 1423.8)"/><ellipse cx="214.3" cy="1398.3" rx="22.6" ry="18.0" transform="rotate(-96 214.3 1398.3)"/><ellipse cx="216.2" cy="1363.9" rx="20.6" ry="16.5" transform="rotate(-74 216.2 1363.9)"/><ellipse cx="227.1" cy="1339.3" rx="23.5" ry="18.8" transform="rotate(-69 227.1 1339.3)"/><ellipse cx="234.2" cy="1314.9" rx="19.5" ry="15.6" transform="rotate(-67 234.2 1314.9)"/><ellipse cx="248.8" cy="1288.6" rx="23.6" ry="18.9" transform="rotate(-63 248.8 1288.6)"/><ellipse cx="260.7" cy="1263.5" rx="17.9" ry="14.3" transform="rotate(-54 260.7 1263.5)"/><ellipse cx="284.8" cy="1234.5" rx="20.6" ry="16.5" transform="rotate(-52 284.8 1234.5)"/><ellipse cx="310.3" cy="1210.1" rx="26.5" ry="21.2" transform="rotate(-43 310.3 1210.1)"/><ellipse cx="332.0" cy="1189.0" rx="22.1" ry="17.7" transform="rotate(-36 332.0 1189.0)"/><ellipse cx="359.2" cy="1172.4" rx="23.9" ry="19.2" transform="rotate(-29 359.2 1172.4)"/><ellipse cx="388.4" cy="1158.3" rx="23.1" ry="18.5" transform="rotate(-25 388.4 1158.3)"/><ellipse cx="422.6" cy="1144.9" rx="26.9" ry="21.5" transform="rotate(-25 422.6 1144.9)"/><ellipse cx="449.1" cy="1131.9" rx="21.8" ry="17.4" transform="rotate(-15 449.1 1131.9)"/><ellipse cx="484.9" cy="1122.8" rx="19.9" ry="15.9" transform="rotate(-14 484.9 1122.8)"/></g><g clip-path="url(#bclip)" fill="#6e6e9a" filter="url(#sblur)"><path d="M212 1418C240 1450 290 1478 340 1488C380 1496 420 1492 452 1478L452 1458C420 1470 380 1472 340 1466C290 1456 250 1436 222 1402Z" fill-opacity="0.32"/><path d="M300 1440C350 1465 400 1470 450 1455L455 1470C405 1485 350 1482 298 1458Z" fill-opacity="0.15"/><ellipse cx="600" cy="1505" rx="125" ry="45" fill-opacity="0.10"/><path d="M455 1455C520 1430 600 1425 700 1438L705 1450C600 1440 520 1445 460 1470Z" fill-opacity="0.18"/><ellipse cx="560" cy="1575" rx="18" ry="20" fill-opacity="0.08"/></g><path clip-path="url(#bclip)" d="M445 1436C500 1418 560 1405 640 1396" stroke="#ececf3" stroke-width="7" fill="none" filter="url(#sblur)" opacity="0.9"/></g><path d="M325 1458L326 1462L344 1461L339 1454L327 1454ZM584 1202L589 1207L594 1208L598 1206L595 1200ZM654 1176L650 1176L644 1181L629 1178L627 1183L630 1186L652 1185L656 1182ZM447 1153L435 1153L425 1156L421 1160L415 1175L403 1177L401 1186L404 1192L409 1196L418 1196L420 1194L420 1181L428 1170L443 1167L448 1161ZM500 1130L495 1127L486 1126L478 1130L473 1136L461 1132L453 1132L446 1135L445 1140L453 1144L462 1144L474 1137L479 1139L489 1149L498 1138ZM293 1221L279 1243L257 1269L250 1284L242 1294L241 1309L244 1318L251 1325L248 1333L251 1345L237 1357L231 1366L224 1365L220 1370L220 1378L233 1395L245 1399L250 1404L247 1414L253 1424L248 1427L242 1427L243 1435L248 1442L253 1441L257 1427L269 1426L273 1418L280 1414L295 1428L312 1430L319 1445L323 1448L326 1446L329 1434L333 1429L337 1429L340 1432L343 1440L347 1440L352 1435L371 1440L374 1447L370 1451L356 1453L353 1462L358 1464L382 1463L396 1468L412 1457L432 1459L438 1456L449 1457L459 1454L477 1470L477 1478L468 1499L468 1506L487 1526L502 1532L522 1532L531 1546L539 1549L547 1540L565 1537L570 1541L571 1546L568 1550L550 1551L544 1554L544 1560L554 1569L562 1567L569 1560L571 1554L577 1550L598 1548L608 1552L622 1552L630 1527L638 1522L657 1526L656 1538L651 1547L652 1550L656 1550L666 1540L670 1542L674 1549L683 1547L689 1541L693 1532L714 1519L716 1506L723 1493L725 1477L717 1457L704 1444L700 1435L700 1427L707 1420L726 1417L731 1410L723 1398L708 1393L703 1387L709 1382L721 1380L726 1389L738 1397L739 1407L743 1407L746 1403L748 1389L753 1376L754 1361L749 1347L746 1346L738 1351L726 1336L728 1333L744 1336L746 1329L739 1314L729 1322L725 1322L721 1317L719 1309L724 1303L724 1297L733 1285L733 1274L730 1258L718 1236L703 1221L693 1217L690 1223L683 1227L672 1219L664 1219L654 1232L648 1248L632 1258L624 1257L617 1243L614 1240L610 1240L604 1247L604 1251L621 1264L622 1272L619 1275L608 1275L593 1266L583 1266L576 1257L567 1255L565 1259L565 1273L561 1280L559 1293L548 1303L533 1303L528 1314L521 1312L518 1307L523 1301L514 1291L512 1281L517 1276L535 1273L535 1251L529 1238L519 1243L514 1243L510 1239L510 1233L517 1228L524 1230L529 1235L545 1230L549 1235L551 1247L562 1251L564 1248L562 1237L551 1228L550 1223L558 1216L559 1202L571 1195L560 1185L560 1141L545 1134L530 1122L510 1123L503 1128L503 1130L513 1134L539 1137L540 1140L530 1154L517 1153L503 1163L500 1180L495 1186L488 1185L477 1175L471 1175L455 1185L449 1194L441 1199L439 1203L440 1212L454 1216L460 1224L460 1229L449 1237L437 1237L432 1233L434 1221L432 1214L420 1210L407 1218L399 1207L389 1206L384 1202L380 1194L383 1185L382 1176L388 1167L397 1168L398 1164L396 1162L368 1168L357 1177L349 1180L340 1194L323 1198L308 1206Z" fill="#336a55" fill-opacity="0.3" filter="url(#ublur)"/><path d="M502.3 1118.1l-16.8 2.6l28.9 4.8l1.4-.2l-18.6 2.4l32.3 2.7l25.8-.1l1.5 0l-86.8 1.1l-18.5 6.9l11.2-2.1l44.4 2l3.1 0l38.8-1.9l-64.9 2.6l39-.2l24.7 0l-54.7 2.8l51.8-.1l8.2 1.5l-3.7 3.3l-119 5.1l-.3 4.9l23.5 2l139.9 .6l-221.1 .3l70 2l71.1 0l35.7 0l-65.5 .9l46.1 2l-102.8 2.1l34.9-2l8.7 1.8l48.2-.1l8.6-1.7l23.3 .3l-130.2 4.5l100.4-1.7l10.7 0l82.6 1.6l-39.4 2.6l-224.6 .8l3.6-.2l21.8-.1l98.8 2.1l53.6-.5l21.9-1.6l26.3 2.2l39.6-2.2l32.2 2.2l-289.4 2l1.1-1.7l56.6 0l167.1-.1l45.2 1.7l-266.2 2.9l49.3-2l185.6 2.3l-194.5 .5l24.6 1.9l29.3-1.7l17 1.3l48.5 .1l64.7-1.8l-226.5 2.5l19.4 2.1l61.5-.2l43.4 .3l64-.4l64.1-1.5l-168.5 2.5l3.8 1.9l-49.2 .4l144.5 2.5l11.4 1.9l108.1-1.5l-341.6 4.4l56.5 .1l4.3-.3l85.2-2l17.1 2.4l46.7-.6l122.2 .1l-248.7 3l147.3-.3l22.5 .2l-162.8 .5l40.4 .1l45.3 2l35.1-.6l8 .1l58.6 .4l-96 2.1l41.4 .5l42.4-1.9l-239.1 2.5l54.6 1.6l109.7 .3l6 .1l130.9-2.2l-294.1 2.9l52.5 1.8l73.4-.5l30.8 .2l40.5 0l-229.3 .9l58.3 .1l4.3 1.3l90.4-1.4l66.8-.3l54.5 1.9l83-1.8l-368 4.7l1.1-1.8l6.7 1.6l25.6 .2l109.3-.6l219.2-1.4l16.3 2.1l-334.4 .6l76.4-.4l147.3 2.1l-254 2.2l181.5-1.4l-197.8 4.1l262.4 .2l84-.3l34-1.8l-164.9 4.4l6.5 0l3.7-1.6l93.9 1.9l38.6-.4l14-1.6l-369.1 2.8l14.3 1.3l22.1-1.6l13.6 1.8l27.2 .3l42.4-1.9l54.6 1.4l160.3-1.4l52.2 1.5l-184 .7l152.2 2.3l-318.4 2.1l8.2 .3l98.4-2.1l-102.2 5l-12.3 .4l19.8-.2l61.4 .2l-117.2 4.4l226.6-.2l-117.9 2.9l91.3-.3l8.8-1.7l-195.4 2.7l37.7 1.2l2.5 .6l.9-2l83.3 1.8l19.3-2l23.1 .1l-198.4 2.6l144.1 1.5l3.5-1.7l6.5 2.1l112.4-.4l-184.1 3l2.1-.2l47.2-2l35.7 .4l32.2 1.3l48 .5l-165.2 2.2l120.8 .1l34.3-1.9l130.8 2.2l-351.5 .6l2.5-.2l14.5 1.8l10.4-1.8l70.1 2l40.6-2l66.3 .1l8 1.6l104.7 .4l26.4-2.2l11.3 0l18.6 2.3l-346 .4l24.2 .4l65.1 1.5l29.3 .3l65.7-.5l102.7-1.5l12 1.5l87.1 .6l-318.1 1.9l118.2-1.5l4.9 1.6l12.3 .1l69-.1l32.1-1.8l-293.1 4.4l21.3-1.7l173.9 1.7l136.9-1.7l29.7 1.9l-291.9 2.2l78.3 .7l35.6-.3l35.7-.1l98 .2l-381 .7l96.4 1.9l23.4-1.8l45.4 1.8l51.9-2.3l28.7 .4l38.7 1.7l24.4-1.9l-262 4l133.5-1.3l14.5 2.1l167.7 0l64.2-.4l-429.6 2.7l78.3 .2l83.3-2.1l36.6 1.7l39-1.5l53.5 1.5l63.4 .1l26.3-1.6l-394.6 4.1l87.3-2l2.1 2l294.1-1.6l-362.3 4.3l9.7-1.7l0 1.3l92.7 .2l48.2-.2l97.4 0l-232.4 .7l34.7 2.3l39.8-.4l48.3 .2l40.2-1.8l40 1.8l8.1-1.9l140-.2l21.3 .2l29.7 2.3l-447.9 2.4l49.8-1.8l42.5-.5l85.4 2.2l158.5-.4l10.9-1.3l52.1-.2l3.5 1.5l60.4-1.5l-455.1 3.9l135.8 .8l177.8-2.2l-250.7 4.3l45.5-.1l81.7 .2l89.3 0l37.4-1.9l48.6-.2l-365 4.6l124.7-.3l52.6-1.3l34.6 1.7l106-2.2l75 2l-409.2 3l53.4-.2l92.6-1.8l173.9 0l-267.8 4.6l20.4-.3l26-.2l5.7-1.5l358.8 1.6l-407.6 2.4l3.4-.2l107.8-1.3l52.1 1.7l-219.6 2.7l60.5-.1l67-.4l40 .4l18.8 .3l12.8-2.4l93 2.2l65.1-1.9l84.2 1.6l-354.1 2.4l45-1.7l79.8 1.8l27.7-1.6l138.9 2l102.7-1.9l-382.7 4.2l204.9 .1l-226.3 2.2l114.1-1.6l17.9 1.7l47.8-1.4l93.5 1.5l-337.2 .6l43.1-.1l4.6 1.9l5.2 .3l27.4 .1l297.2-2l17 1.8l-378.9 2.3l96.7 .4l12.9-.2l287.6 .2l38.5-.4l16.8-1.4l-443.2 3.9l2.6 .6l1.5-.2l18 0l26.5-1.9l149.5 2.1l5 0l14.6-2.1l146.4 1.7l-344.9 3l46.1-2.3l68 1.9l102-.2l53.9 .6l131.4-2.4l-455.4 2.9l331.7-.3l90.7 2.4l26.8-2.3l-414.6 2.8l12.9 0l29 1.5l77.2-1.9l4.9 2l95.2-1.7l-233.5 2.6l233.4 1.5l159.9 0l7.6-1.4l1.1 1.2l-438.3 2.6l90.9-1.4l223.4 2l133.5-2.3l11.1 .3l-386.3 4.3l6.2 .1l127.4-.3l45.2 .1l38 .5l36.8-.3l17.7 .3l15.5 0l37-.4l80.3-.1l22 .5l-286.5 2l191.7 .1l101.8-.3l-491.5 3.2l16.9-2.2l118.8 1.5l49 .7l16.6-.5l29.5-1.4l9.4 1.6l46.4 .3l16.8-.6l-291 2.7l27.4 .5l114.1-2.2l110.8 1.6l23.2 .6l28-.3l18.6-1.8l9.9 .2l107.6-.4l-437.9 2.8l9.9 0l51.8-.4l11.8 1.8l47.2-1.6l14.3 .1l58.3 1.5l122.6-1.3l108.9 1.8l8.4-.4l28.1-1.7l-484.7 2.4l50.6 .3l24.5 1.5l35.1 .1l51.1-.2l50.6 .7l2.7-.5l69.8-.1l105.5-1.6l-358.6 2.8l8.6 1.9l16.1 0l100.7-2.4l42.2 2l9.1 .4l10.4-.2l128.5-2l37.5 1.9l127.6 .4l-312.4 1.9l35.8-.1l14.6-1.7l12.7 .4l47.5 0l8.8 1.9l120.3-.5l18.8-1.4l-313.9 4.5l8-.7l3.3 .2l5 .1l14.9 .3l168.9 .2l-341.6 .2l97.5 1.9l88.5-1.7l117.5 2l48.3-2.2l46.9 2.2l74.7-2.2l-428.7 4.9l53.4 0l46-.5l18.8 .4l71-.4l125.6-.1l8.2 2.9l25-.5l43.3-1.4l-423.2 2.3l58 2.2l85.2-1.8l297.6 1.4l-443.8 .8l32.3 .1l46.2 .1l49.9 1.7l41.6-.1l34.3 .4l43.1-2.1l3.5 1.6l-206.5 .9l212.1-.1l156.4 2.4l-355.1 1.8l26.2-1.4l62.6 2l196 0l-368.9 .4l30.6 2.2l54.4-.3l178.1-.3l15.9 .1l58.7 0l17.1 .3l15.6-.3l113.4-1.7l-468.7 4.8l221.6-.3l85.1-1.9l-263.7 2.5l38.7-.2l39 2.3l67.4-1.9l52 2.1l50.1-2.4l33.3 0l119.6 .2l12.2 2l-396.9 2.7l9.9-.6l45.1-1.6l93.5 .2l81.5 .1l-242.9 2.4l40.5-.1l21.2 2.1l22.9 .1l9-.6l24.3 .3l4.9-1.7l1.8-.1l105.7 1.4l-194.6 3l13.3-1.7l162.2 1.9l56.6-.5l153.2 .2l-447.3 2.7l74.5-2.2l15.2 .2l50.4 1.6l194.2-1.6l24.5 1.8l8.5-1.8l133.7 .2l-535.4 4.5l128.5-2.2l50.7-.2l26.2 2l108.2 .4l-237 1.9l23.7 .4l56.5-.2l115.5-1.9l148.4 .1l-372 2.8l29.1 2l109.3-2.2l77.5 1.9l235.6-1.9l-426.7 2.7l33.4 .1l159 1.7l53.9-.2l15.5-1.5l36.1-.4l97.8 2.2l11.8-1.8l-267.7 3.8l8.5 .2l9.2 .2l220-.2l11.9-1.9l-323.9 4.8l83.6-.4l15.1 0l46.1 0l-286.7 2.7l45-1.7l124.9 2.1l9.7-2.2l36.2-.2l46.9 1.9l2.2 .4l212.2-.3l-460.9 2.6l55.3-1.8l57.7-.1l45.9 1.8l2.5-1.9l308.1 2l8.8-1.7l-380.8 2.4l51.2 2.1l7.2-2.1l38.6 1.9l35.3-1.9l1.1 1.9l30.2 .1l45.6-.5l9.9-1.3l2.6 0l194.5 1.8l-511.1 2.1l75.6-1.4l77.1 2.1l63.4-.1l161-.4l20.3 .3l-387.2 .3l114.9 0l29.5 1.9l12.5 .1l44.6-1.6l212.5 2l-102.8 2l11.7-1.9l14.3 2.1l-337.2 .9l118.6 1.4l8.2 0l39.5-1.5l51.6 2.1l114.1-2.2l-262.2 2.7l46.1-.1l93.6 2.2l36-.4l29.8-.2l14.5-1.9l182.8 .3l-347.8 2.5l105.9 2.2l20.4-.2l39-.4l15.1 .4l32.8-.5l45.8 .5l18.7-2.2l-233.9 4.9l130.4-.3l.5-1.8l37.6 1.4l10.4-1.4l5 2.2l35.8-2l-341.5 4.2l193.5-1.9l83 1.7l-321.3 .8l32.2 .2l145.7 0l79.5-.3l92.4 1.8l12.5 0l11.3-1.8l30.8 .2l26.2-.2l-290.2 2.6l136.9 1.6l14.8 .3l45.2-1.8l49.7 1.5l36.8-1.7l-216.2 4.7l-177.4 2.4l239.1-.3l25.1-1.2l12-.4l19.3 1.7l23.1 .1l45.9 .2l21.2-1.6l-418.1 4.4l295.4-.7l28.8 .2l111.6 .4l-320.1 2.2l25.3-1.7l47.1 1.6l50 .6l108 0l-343.5 1.9l183.2 .3l26.3-.1l51 0l119.8 .2l10.4-.4l11.3-1.6l14.6 0l20.2 .1l14.7 1.7l4.1-1.6l-387.4 4.5l35.3-.5l14.5-1.8l17.2 .1l60.8 .4l19.9 1.3l42.7 .4l79.9-.2l-186.5 .7l106.1 1.8l27.7 .4l23.6-2.2l96.3 2l-348.8 .8l103.6-.4l160.5 .1l14.1 1.9l47.3-1.9l50.1 2.3l12.9-.2l-387.7 .6l22.7-.2l32.1 1.8l58.7 .1l113.5-2l49.6 2.2l42.2-2l78.4-.2l-419.2 2.9l61.4-.2l47 2.3l194.5-.5l75.5-.2l23.6 .3l-356 3l8-.7l153.9-1.7l56 .4l24 1.4l81.7 .4l41.6-.2l-375.6 .5l36.6 2.1l161.4 .2l-192.2 2.2l171.5-1.8l83.8-.2l117.7 0l-301.8 2.6l69.9 2.3l88.9 .1l17.6-.2l46.7 .2l68.8-.1l37.7-.5l-378.3 2.5l15.6 .7l40.1-.5l78.1-1.8l134.8 .2l41.6 0l-334.9 3.9l35.8 .1l136.1 .6l108.9-.6l69.4 .5l-167.8 2.7l155.4-2.1l42.3-.3l-366.6 4.7l197.9-2.2l3 1.9l34.8-1.5l22.3 2l108.4-.5l-210 2.9l24.5-2.3l7.7 .1l69.6 2.3l55-2.1l-66.9 2.7l32 2l11.6-2.4l74.9 2.1l-110.1 .4l41.5 2.5l-40.3 .5l-245.2 4.2l145.3-.1l19.2-1.8l111.8 1.8l101.2 .3l-5.8 2.7l5-.5l-348.7 3l92.3 0l10.1-.7l3.6-1.3l52.9 1.8l110.8-2l28.5 0l-90.8 2.7l-118.9 2.4l4 1.5l1.8 .4l78.5-1.8l9.1 1.9l32-1.9l15.4-.3l46 1.8l10.6 .4l56.3 .1l-89.1 .3l-149.8 2.9l7.9-.2l63.2 1.8l17-.2l38-1.7l41.2 2.3l-180.5 .5l54.8 1.9l61.5-.1l50.2 .1l41.1 .1l18.9-2.1l-76.9 4.6l52.8-2l-116.7 4.5l1.2-2l16.1 1.8l7.9-.2l53 .2l79.7-.2l-91.5 2.4l10.8 .7l-136.4 2.5l42.6-2.2l33.9 1.9l47.8 0l8.4-.3l82.7 3.2l-225.8 2.1l90.8-1.9l21.7 1.9l-36.4 .7l144.2 2.3l10.1-.6l-108.4 .9l91.8 1.8l-75.7 .9l2.8-.1l26.1 1.7l14.4-1.5l37.3 2.6l-45.9 4l-105.4 .8l102.7-.1l-119.4 3l130.8-.5l-35.9 5.2l-47.5 2.7l37.2 2.2l50.2 2.4l-116.4 2.2l6.2-1.7l.8 4.5l-2.7 16.1l5.2 14.3l-16.5 .7" fill="none" marker-start="url(#my)" marker-mid="url(#my)" marker-end="url(#my)"/><path d="M497.4 1113.4l1.1 1.8l22.5 .1l-21.1 2.8l23-.7l-39.2 3l7.3-.1l24.3-2l-60.7 4.4l64 2.8l3.2-.1l3.1-1.6l9.6 1.6l-50.9 .7l-54.2 4.5l19.3-1.9l15.2 .2l15.8-.2l35.8 0l4.1 .1l47.4 1.4l-127.5 .9l20.2 1.9l45.3 .3l4.8 0l25.5 0l-91.9 .7l9.3 1.7l3.8-1.9l51.7 1.7l36.6-.3l3.3-1.3l17.4 2.1l-125.9 .3l42.6 1.5l10.1 .7l58.3-.3l12.4-.1l-131 2.6l2.6 .3l22-2.2l6.9 1.5l70.5 .5l48.7-.2l12.1 .2l-83.9 .8l19 1.9l20.6-.3l-94.1 .7l30.3 .2l19.1 1.5l92.2 0l-190.5 2.5l9.5-1.8l70.3 1.7l5.2 0l64.1-1.7l23.3 0l2.6 0l11.1 1.8l-129.8 1l58.4-.1l5.3 0l13.8 2.1l6.8-2.1l16.9 2.3l12.4-.3l-122.4 .5l55.5 2.1l9.7-.1l11-2l8.4 0l.8 1.9l7.3 .3l35-2l14.6 1.8l23-.2l-246.6 3l30.4-.6l38.3 .7l10.8-.6l5.9-1.7l6.7 2.1l3.1-2.1l22.5 1.5l3.8-1.5l18.8 1.5l1.7-1.5l68.4 .1l58.8-.1l-179.3 4.3l134.4-1.6l34.6 1.7l-220.4 2.6l13.4-1.7l44.9 1.9l7.8-.5l46.6-1.4l1.3 1.8l75.7-2l18.2 0l13.7 1.6l-157.3 3.2l17.9 0l27-2.4l30 .4l6.2-.2l12.5 .2l39.6 1.8l-243.6 2.8l25.8-.5l4.4 .2l38.9 0l1.2-1.9l1.6-.3l44.5 .3l20.5 1.5l10.7 .6l22-2.4l22.5 .4l18.3-.4l38.8 1.8l30.5-.1l-290.7 3.3l84.8-2.1l17.5-.1l11.6 1.6l38.7 .2l1.6-1.7l1.1 1.6l9.2 .3l6.1-.4l25.8 .5l5.8-1.9l16.8 1.5l-205.8 2.4l22.1-1.7l24.6 1.6l9-1.6l8.2 1.7l4.2-1.5l72.6 1.9l38.5-.3l.4-1.6l39.2 0l2.2 .2l53.2-.1l5.6 0l-278.9 4.6l35.8-.5l16.7-1.8l87.8 2.1l24.1-1.9l8.6-.2l50.1 1.6l45.8 .5l-271.8 2.2l43.6 0l13.8-1.9l91.6 .1l11.2 1.7l26.4-1.8l35.1 2.5l75.7-.1l-311.1 2.1l7.9-1.7l13.8 1.6l30.6-.1l73.4-1.4l17.3-.2l2.2 1.8l19.5 .1l29.8-1.6l4 2l91.4-.3l12.2-2.1l-298.8 4.9l1.8-.2l54.4 .3l41.2-.1l43.3 .1l3-2.1l18.9 1.8l10 0l8.2 .3l2.5-.4l7.2-1.6l19.6-.3l51.2-.1l-244.5 4.6l5.6-2.1l59.2 .4l13.9 1.3l2.1 .1l3.2-.1l56.2 .6l27.2-.2l14.8-2.1l13.2 .1l13.6 1.9l19.5 .2l23.5 0l20.8-.5l6.1-1.3l-314.3 2.5l27.4-.4l27.9 .1l4.7-.1l15.1 2l47.3 .4l18.1-.4l1.7-1.9l45.9 .1l10.1 .1l11.9 1.5l16.7-1.7l22.1-.1l73.6 .1l-306.8 2.5l9.5 2.3l69.6-2.2l4.2 2l16.2-1.9l5.5 .2l3.4 1.9l3.1-.2l15.2-.2l9.6-.2l8.7 0l28.3-1.6l3.3 .3l34.1 1.5l23.5 .3l9.6 .1l31.5-2.2l-277.7 4.4l3.3-1.5l41.7-.3l18.5 2.3l6.2-2.1l25.1 1.9l25.5-.4l17.7 .3l4.7-.3l10.1 .6l2.5-.2l28.7 .2l30.9-2l1.9 2l2.3-.6l81.8 .4l-301.8 2.7l24-2.3l11.9 1.7l30.6 .5l38-.3l10.6-.1l46.8-1.4l38.6 1.9l132.6-.4l-244.3 1l80.1 1.9l13.5 .1l-211.8 .3l14.6 0l14.9 1.5l14.7 .4l57-1.8l29.2-.2l1.1 1.9l57.7 .1l30.4-1.6l11.2 1.2l3.1-1.6l51.5 .2l24.5 1.6l-298.9 .6l19.3 1.7l13.2 .3l31.4-1.9l88.2 2.1l15.4 .2l126.8-.2l41.3 .1l-347.4 .6l11.6 1.9l1.3-2.1l3.6 1.7l3.3 .6l7.7-.2l21.1-2.2l2.2 2.1l87.7-1.7l18.1-.2l74.2 2l17.6-1.7l75.5-.2l25.4 .1l-350.8 4l11.6-1.9l.7 2.3l64.8-2.1l30.8 .1l26.3 1.8l3 .1l89.7-.3l9.8 .1l45.6 .1l6.8-1.7l-300.6 4.2l37.4 .1l63.6 .2l32-2.3l66.1 .3l30 1.6l9.6 .1l21 .2l10.4-.1l21.9-2.1l2.7 1.7l15.1-1.5l-284.1 4.4l10.6 .2l20.5-.4l19.6-1.8l9.6 .2l74.1 .1l18.9 2l122.3-.1l8.9-2.1l60 1.8l-371.5 .7l57.1 1.7l2.3 .3l16.3-2.1l10.2 .1l4.8-.1l3.1 .2l24.1 1.8l71.9 .2l10-.1l17.6 .3l9.6-2l56.1 .1l14.1 1.8l-285.8 .7l6 1.4l7 .1l13.3 .1l29.3-1.8l19.4 2l6.7-2.2l11.4 2.1l10.4 .1l6.4 .2l6.4-.6l18.6-1.8l5.1 .4l9.9 0l8.8 1.4l4.2-1.8l1.2 2l54 0l5.2-.2l11-1.5l30.2-.4l39.7 2.1l7.1 .4l16.7-.2l29.8-.6l-368.8 3l4.1-2l8.7 1.8l67.1 0l6.7 .2l49.3-.4l13.6-1.5l2.9-.2l2.6 .5l43.9 1.7l21 .1l17.9 .1l1.8-.7l58.5 .6l80.4-2l22.1 1.8l-414.6 2.7l2.6-.2l3.5-.4l20 .7l13.7-2.1l24.2 2.1l12.6-.2l13.7-2.1l3.9 2.3l3.8-.3l25.7-1.6l55 2l3.3-.2l20.8-2.2l18.2 .4l21.9 2l9.3-.1l19-.5l12.5 .3l32.2 .1l6.5 .2l2.9-2l23.5 0l33.5 1.7l-382.8 2.5l22.5 .1l9.4-1.9l25.8 1.4l16.8-1.4l48.4 .1l65.5 1.9l3.8-2.3l2.4 0l10.9 1.7l24.2 .7l7.7-.6l11.4-1.5l10.3 0l23.1 2.1l64.8-.6l83.6 .4l-418.3 .8l14.2 1.5l52.9-1.7l58.9 2.2l48.6-.4l18.4 .4l2.9-2.1l55.5 1.8l63.4 .3l6.8-2.2l31.4 2.2l14-2.2l25.9-.1l10.7 2.2l-415.1 .6l29.4 1.6l45.5 0l18.7 .2l34.6-2l25.3-.1l67 1.8l20.1 0l8.6 .2l2.9-1.7l17.5 1.4l99.6 .3l-382.3 2.7l20.4-.4l10.8 0l14.6 .3l133.6 0l10.9-2.1l35.1 2l27.1 .1l26.8-1.9l20.9-.3l31.8 1.9l41.7-1.4l15.2 0l44.6 1.5l7.9 .2l-437.3 2.1l15.1 .4l4.2-1.9l9.8-.1l22.9 .3l7.1 1.8l4-1.9l8.5 1.9l3.5-1.8l8-.4l17.6 .3l30.7 0l61.9 1.6l5.4 .4l7.4-.4l15.3 .3l10.9-.1l23.5 .2l1-1.9l34 1.6l21.1-1.8l9.6 1.9l12.6-.4l12.2 .4l61.7-.3l-408.4 2.5l4.5 .5l33.7-2l29.5 1.5l18.9-1.6l14.1-.2l8 2.3l50.8 0l6 0l19.9-.2l10.9-.1l22.4 .5l5-.5l29.4-1.9l26.6 1.7l7.9 .3l42.8 .3l14.3-2.2l12.3 2.1l57.9 .2l3.3-2.5l-429.7 4.7l13.3-2.1l42.9 .2l2 2l23.3-1.8l3-.4l37.9 1.9l98.7 .4l1.5-2.1l106.7 .2l11 1.9l39.3-.1l27.4-.2l3 .4l1.4-2.2l4.8 0l-361.7 4.6l28-.2l9.2-1.7l.2 1.3l15.5 .6l31.6-2.2l2.3 2.3l72.9-.6l15.2 .7l57.9-2.5l35.1 2.5l2.9-2.5l13.8 .2l46.9 1.7l2.3 .5l25.3-.1l40.9 .1l-443.1 2.3l8.7 .3l19.5-.5l24 0l6.6 .2l2.8 .2l5.9 .1l2.1 0l15.6-.2l1.9-.1l46.2-.1l31.3-.1l37.2-.2l13 .6l.7-2.1l19.1 2.2l77.2-.4l-287.3 2.7l8.5 0l32.7-.2l118-1.5l12 1.9l100.7-2.2l23.8 2.1l56.3-.2l2-2.1l6.9 .1l23.7 .4l21.5 1.2l-446 1.1l9 1.7l10.3 .1l16.4-1.7l8.2 1.6l7.3 .1l8.1 .2l13.9-1.7l2.5-.2l40.4 1.9l7.3-.3l9.6-.1l6 .4l3.5-1.8l22.2 1.8l105.9 .1l67.4-.2l4 0l42.3-1.6l17.6-.1l40.4 1.3l-425.1 3.1l6.3-2.2l8.6 2.3l68.5-1.9l16.7 1.4l10.3-1.7l13.2 .1l6-.3l49.1 2.3l23.7-2.2l7.3 2.2l6-1.9l10.1-.1l8.7 1.9l34.9-1.9l101 1.5l25.6 .4l3-2l41.9 1.5l-456.2 1.2l31.4 2.1l3-.5l23.3 .4l40-.3l20.7-.3l2.3 .3l20.2-1.8l36.4 1.6l37.9 .3l8 .3l2-.2l26.7 .1l40.3-.4l26.7-1.6l22.2 1.9l22.1-.4l4.4-1.4l36.4 1.6l27.8-.1l-428.8 2.5l2.1 0l13.3 .2l3.7-1.9l32.1 2.1l27.4-.2l17.9-.1l1.4-1.6l27.5-.3l6.9 2l13.8-1.6l33.2-.5l26.8 1.9l23.2 .1l7.8 .4l18.9-2.4l1.1 2l89.2 0l1.2-1.6l27.3 1.7l22.5 .1l15.3 .2l14.3-2.1l-421.9 2.7l6.5 1.3l11.1-1.4l11.5 1.9l12.2 .2l8.2-.1l3.1 0l1.1-2.3l4.2 .4l9.4 1.6l11.9-2l3.9 2.1l11-1.6l10.5-.4l10.3 .2l11.5 1.9l26.5-1.8l19.5 1.6l41.3-2l20.3 .2l3.7 1.8l50.8-.2l8.6 .3l10.3-.4l45 .7l18.3-.6l7.2-1.4l42.6-.2l22.5 .1l3-.3l-462.7 2.6l9.4 2.4l5.2-.3l60.5-.2l1.3-1.5l47.4 1.4l29.1-1.4l4.4 1.5l112.6-1.9l44.4 2.3l17.2-2.2l54.6 1.8l3.3 .1l61.9-2.1l-438.1 4.4l58 .3l17.6-.3l31.8-1.3l95.7 1.7l10.8-.4l7.5 .5l15.7-.5l20.1 .1l114.1 .2l2.9-.2l10 .2l19-1.8l13.3-.3l-435.5 4.5l33-.2l7.1 .7l26.3-2.1l10 1.5l12.1 .5l19.8-.5l6.5-1.4l22.7 1.6l119-.3l4-1.8l14.9 1.9l46.6-1.6l4.1 2.2l2.4-.6l2.4 .4l45.5 .2l2.3-2.5l8.9 .4l9.9 1.7l25.7-1.8l8.8-.2l25.8 1.9l3.1 .2l2.2-.2l10.6 .1l-473 2.2l16.5-1.3l6.7 1.4l1.6-1.4l59.6 1.5l5.5 0l29.2-1.7l57.6 0l1.1 2.1l9.6-1.8l3.9 1.8l1.6-2.3l43.5 2.2l28.5-.5l1.5-1.7l11.4 1.7l8.5-1.6l101.8 2.3l20.1 0l10.9-2l21.9 1.5l25.5 .2l5.1 .3l-452.2 2.6l6-2.5l15.9 0l16.4 2.4l2.2-.6l5.9-1.8l4.2 1.9l.8-1.5l6.2 .1l3.7 1.5l24.4-2l3.8 2.2l9.7-.4l12.9 .6l29.3-1.9l5.1-.4l24.5 2.2l4.8-.5l14.8 .2l1.3-1.8l14 2.1l50.9-.5l16.7-1.8l3.2 .2l2.5 .2l24.5 1.6l16.8 .1l1.2-1.6l25.1 1.2l19.4 .2l12.2-1.4l28.2-.5l18 0l9.2 1.7l29.9 .3l-479 .9l21.6 1.7l16.2-1.8l6.1 1.9l4.4-2l31.9 2.2l22.8-.5l6.8-1.6l30.7 2.2l36.7-.4l1.5 .1l1.4-1.8l64.1-.2l2.1 1.8l6.9 0l6-1.4l52.2 1.6l21.4-.4l28 0l27.6 .7l1.7-2.1l6.7 1.7l6.9 .3l33.2-.4l-427.1 2.5l4.3-1.7l6.6 2l1.8-.5l4.3-1.4l14.8 0l21.4 2l46.1-.5l4-1.8l31.3 2.5l2.2-2.2l24 1.6l67-1.9l39.5 2.4l6-.1l24.7 0l48.1-2.2l2.6 2.3l15.9-.3l2.1 .3l6-.6l1.8 .3l25.7 .4l11.3-2l8.9 1.9l9.2-1.9l-435.9 4l7.7 0l14.5 .2l5.8-.3l1.3-1.6l3-.1l25.7 2.2l4.3-1.8l11.8 1.8l.6-2.1l89.1 2l1.8-.5l10.3 .2l58.9 .1l2.3-.2l4.7 .3l9.8-2l58.4 0l6.8 .1l17.9 .3l78.2 1.2l12.9 .1l-405.9 1l25.6-.1l12.5 1.6l11.3-1.4l21 1.8l2.4 .1l3.7-2.3l4.1 2.2l8.4-2.1l2.3 1.8l3.7-1.8l7.3 .4l2.6-.4l6.5 2.2l38-.3l17.5-.2l6.9-1.6l8.5 1.8l11.2 .5l88.4-.4l63.6 .4l5.9-.6l33 .5l12.8 .1l33.4-.5l-422.6 2.8l28.8-.4l9.6 .3l35.5 .3l65.2-2.2l18.5 1.5l16.2 .1l20.8-1.6l25.4 2.1l33.8-2l28 0l13.9 1.9l21.4-1.8l6.2 0l4.4 .1l36.1-.2l4.8-.1l37.3 1.7l41.5-1.5l-486.2 4.4l1-2.3l1 2.2l32.5 .1l10.5-.4l24.9-1.4l26.5 1.6l31.8-1.9l1.8 2.2l11.8-.3l1.7-2l7.2 .4l31.1-.4l1.7 2.3l10.6-2.3l19.3 1.7l85.3-1.7l22.7 .2l64.2-.1l25.6 .2l.7 1.9l2.1-2.3l-384.7 4.3l9 .2l30.6-1.9l2.1 0l1 2.2l71.1 .2l35.9-.4l16.3-1.8l44.4 1.5l133.8 .1l76.2 .2l-439.5 .5l4 2.1l10.4-.1l28.7-.1l16.6-1.7l38.5 2.2l3.7-.2l6.1-1.9l1 2.1l16.7-2.2l.7 2.3l4.6-2.2l23.3 2l30.7-.1l56 .1l51.8 .2l11.4-2.4l8.2 .3l.6 1.4l9.5-1.7l69.7 2.2l-389.3 2.4l16.7-2l13.3 0l3.1 1.6l36 0l12.8 .2l20.7-.2l24.8 .5l4-2.2l49 0l6.3 1.9l4.1-1.7l39.5 1.8l9.1 .2l7.8-.3l7.8 0l14.6-1.4l24.1 1.5l51-.2l66.1 .4l5.7-.3l38.4 .2l-475.3 .9l10.2-.2l1.9 1.9l20.1-.2l52.8-1.9l21.2 2.3l3.3-2.1l1.3 1.5l13.4 .2l4.1-1.5l1.5-.1l5-.3l4.8 1.7l31.5-1.7l30.1 2.2l2.5-2.3l33.3 .4l22.3 1.3l42.3-1.2l87.1 1.2l11.8-1.3l9.6 2l12.4-.4l20 0l25.7 .2l26.1-1.8l-498.7 3.9l7 .7l13.6-.3l50.5-.3l31.7-1.4l1 1.4l3.9-1.8l68.6 .1l18.8 .2l13-.2l.9 2.1l1.2-2l4.1 1.5l34.9 .1l64.9-1.6l106.7 2.1l4.5 0l8.1-.4l35.9-.1l4.3 .5l10.5-.3l6.2-1.6l-494.3 3.9l1-1.6l7.6 0l22.6-.1l5.5 .4l13.9 1.3l22.5-1.5l17.4 .1l2.3 0l28.8 1.5l18.9 .1l.8-1.5l14.6 1.5l32.7 .1l20.2-.2l22.4-.2l9.8-1.7l96.9 .5l11.4 1.6l13.2-1.7l113.6 1.8l-473.1 2.6l10.7-.2l4.9-.3l8.2 .1l18.2 .5l7.4-.1l16.8-1.7l12.4-.4l8.5 2l29.2-1.7l2.3 1.3l8.5-1.7l86.7 .1l54.4 2.3l13-.5l41.4-1.7l90.6 1.5l2.5-1.2l6.2 1.5l-410.3 2.9l27.4-2.3l17 2.1l6.5 0l22.7-1.8l15 .1l6.3 1.8l18.2 .1l5.3-2.1l5.6 .2l23.7 0l13.1 1.4l2.4 0l27.6-1.5l31.6 2l5.4-.3l35.1 .2l8.6-.6l26.7-1.2l17.8-.2l32-.3l23.9 .3l8.5 2.2l13.2-.4l3.7-1.9l11 2.1l4.9 .1l-414.6 .6l5.7 2l3.3-.1l50.3-.2l57.3-1.7l2.5 .1l24.8 1.3l10.9-1.8l18.4 .3l2.9 1.7l15.1-1.7l.3 1.5l175.1-1.8l9.6 .3l2.9 .1l18.1 .1l29.9 1.2l6.8 .6l16.1 .1l-473.3 2.3l22.4-.2l40.3-2l23.7 2.5l32.1-2.2l4.2 .1l31.1 .1l11 1.9l52.4-2.1l29.1 0l2.8 1.5l21.1 .5l.5-2.3l11.6 2.5l46-.3l6.2-2l20 1.6l3-1.3l11.8 1.6l14.6-1.9l40.1 .3l4.4 1.7l34.9-.3l39.2 .3l15.8-1.9l-473.2 2.3l1.5 2.1l20.6 0l12.2-.2l1.2-1.5l1.7 1.7l31.7-1.9l1.2 2.1l53-1.9l24.1 1.5l54.7-1.8l52 1.8l3.1 .1l5.5 .4l2.5-.7l15.2 .5l30.6-.5l8.7-1.6l15.9 1.8l18.8 0l6.1-1.6l8.9 1.5l5.4 .5l2.9-1.9l4.3 1.6l6.6-1.8l16.8 1.6l6.7 .6l34-.1l5.3-1.9l-480 2.2l37.9 .1l9.8 .2l17.3 1.4l2.4-.1l8.1 .2l5.5-1.7l43.2 1.8l48.5 .4l10.5-2l11.3-.1l8.4 1.5l8.7-1.8l1.2 2l22.1-1.5l5.5 1.5l3.4-.1l6.1-1.6l4.8-.3l45.5 2.2l1.8-.3l13.9-1.6l9.2 1.7l52.9 .3l14.1-1.9l38.7-.3l40.5-.1l-422 3l14.6 1.3l65.6 .4l28.6 .3l1.9-.1l61.4-.4l20.2-.2l4.2-1.3l55.6 2l72.3-2.2l9.6 .1l3.3 0l28.7 2l6-.5l28.6-1.5l10.7-.2l5.2 .4l7.7-.4l6.2 2.1l3.2-1.7l15.2-.4l2.9 .2l-493.7 2.2l9.2 2l12.8-.1l2.8 0l11.8-.1l74.3 0l6.1 .4l14.1 .2l12.6-2.2l26 1.7l11.3-1.4l8.5-.3l9.5 .3l3.4 1.6l4.3-1.7l13.8 1.9l3.4 .1l17.9-.5l.7-1.5l34.7 1.5l4.6 .3l31.8-2.2l6 .5l26.9 1.4l14.1 .2l9.2-2l5.5 0l47.9 .1l34.2 1.8l-448.9 2.9l11.8-.5l36.8-1.6l10.5 .3l7.9-.1l45.3 1.7l21.4-1.7l22.2-.3l61.4 0l8.4 .3l1.2 1.8l25.2 0l29.8-2l11.5 0l1.6 1.7l11.8-1.8l3.2 1.9l23.4 .1l2.7 .2l4.1-2.3l19.5 1.7l33.6-1.7l21.6 1.7l10.9 .5l14.4 0l12.1-2.1l-457 4.6l13.3-.4l4.9 .2l20.1-.2l35.3-1.3l31.6 1.3l13.7-1.6l4 2.3l2.4-.4l13.3-.3l2.2 .7l8.8-2.3l10.9 1.8l14.1-2l17.6 .5l22.9 1.5l16.7 .1l17-1.9l17.4 1.6l17.5 .3l1.9 .1l20.5-.2l60.9 .5l2.6-.4l11.4-1.9l21.8 1.8l5.9 .1l14.8 .4l16-.3l10.8-1.9l35.2 1.5l-501.8 3.2l2.7-.6l23.7-1.8l13.2 .2l4.1 1.6l6.9 .1l28.6 .4l1.8-.2l4.6-2.1l1 1.8l20.7 .2l16.8-2l13 .2l3.5 2.1l37.6-.1l27.3-2.1l3.5 1.7l10 .2l31.3-.2l18.6-1.7l49.6 2.3l3.2-.4l84.2 0l34.9-.1l33.2-.2l7.3-1.3l.8 2l-445.6 1.9l10-1.7l7.3 .1l17.5 0l14.1 2l5.8 .1l1.8-.2l60.4-1.6l1.2 1.8l39.3-2.3l24.3 1.8l23.3-.1l2.4 .3l20.5-.1l11.7-1.7l3 2.3l.9-2.2l35 1.8l20.2 .2l21.2-.3l14.1-2l31.6 2.1l9.3 .1l45.9-.4l13.6 .4l6.8-.2l12-1.6l31.1-.2l-518.9 2.4l.8 2.4l2.3-.1l36.9-2l24.3 1.6l8.6-1.6l30.6-.1l9.5 1.8l3.2-2l2.7 .5l39-.2l1.6 1.5l24.8 .3l10.4-.1l20.7-.3l120.5-1.3l8.4 2l5.8 0l29.8-2l46 1.3l25.5 0l18.2 .2l8.7-1.5l24.2-.1l-485.5 4.2l64.3-.1l30.4 .6l8.9-2.4l6.4 2.2l1.5-1.9l28.9 1.4l15.7 0l7.3 .2l17.6 .3l2-1.9l41.6 2.1l25.7-.2l35.2-.1l20.8 .3l55.5 0l24.6-2l25.6-.2l60.4 1.6l4.5 .4l15.8-.6l-524.9 2.8l36.6 .3l11-1.7l6.2 1.4l2.8 .1l14.3-2l4.4 1.9l19 0l20.3-1.8l44.5 2.1l24.4-1.9l22.7-.3l1.5 2.2l12.9 .2l19.2-.2l22.1-2l13.5 1.9l5.9-.4l13 .7l3.2-2.3l5.3-.1l12.8 .4l20.3-.3l20.4 .3l6.7 2l6.8-2.4l5.2 2.3l22.2-2.1l2.8 0l12.1-.1l24.3 1.6l12-1.2l6 1.6l-375.2 .7l9.1 1.5l10.6 .3l3.9-1.9l1 1.6l7-1.6l3.4 2.1l32.2-2.1l85.8 .1l1.6 1.4l4.6 .7l22-2.2l8.6 .2l30.4-.2l6.3 1.5l2.6 .4l116.5-.1l75.2-1.6l17.2 2l-447.4 2l10.3 .1l56.5-1.7l43.6 .2l10.4-.4l1.6 2.4l.3-2l7.7 1.5l16-1.6l5.9 2.1l1.5-2.2l19.9 .1l17 1.9l45.9 .1l81.8 0l19.8-2l.5 1.6l1.5-1.9l29.7 2.2l27.8 0l15.9-2l26.6 .2l-467.9 4.2l6.3 .4l6-2.4l6.2 2.3l5.1-.3l23.9-2.1l7.5 0l35.5 2.1l7.7-1.6l19.4 1.8l17.6-.3l5.4-.1l11-1.5l29.6 1.6l1.9-1.7l8.2 .2l4.5-.2l6.9 1.7l7.1 .2l14.8 .1l2.8-.4l3.1 .5l7.4-.5l20.5 .2l9.6 0l7.4-2.1l21.9 .4l9.2 1.3l6-1.5l31.1 .3l5.9 1.8l66.9-.4l4.5 .2l14-1.7l17.4 1.8l1.5-1.7l-501 2.5l1.2-.4l19.5 2.1l18.2 0l8 .3l3.1-2.1l62-.3l2.8 1.9l2.3-1.5l10.7 1.4l13.7-1.5l5 2l.9-1.9l1.1 1.4l6.4-1.6l16.6 2.1l3.2-2.1l12.5 1.5l20.6-1.7l43.7 .4l6.9 1.4l10.3 0l13.5-1.8l10.7 .1l13.7 2.1l63.9-.3l4.5-.2l8.4 .1l33.4 .1l.4-1.5l20.6 0l10.7-.4l3.7 1.9l33.3 .5l21.7-2l2.7-.1l8.9 1.6l15.3 .5l-490.3 .3l5.7-.1l24.4 2l63.3 .1l1.8-.4l3.5 .2l2.1 .5l2.1-.5l5.6 .1l2.1 .4l21.7-2.1l22.4 2l1.9 .1l4.2-2.2l4.9-.1l17.7 0l6 0l7.6 .2l12-.3l18.9 1.6l16.3 .4l16.7-1.6l8.1 1.7l6-.1l4.8 .1l10.4-2.2l3.3 .5l19.8-.3l1.4 1.6l14.8-1.3l18.6 1.9l29-2l12.2 1.9l38.7 .2l3.2-2.1l33.7 2.1l-499.8 .1l6.6 2.4l30.7 0l10.5-.2l5.3-.1l2.7 .2l5.3-.2l6.1-1.9l44 1.5l47.4-1.6l42.8 1.8l17.6-.2l41.6-1.3l11.4 1.3l37.8 .5l10.6 .2l23.8-.6l7.2 .2l13.6-1.9l2.2 0l4.5 1.7l2.2 .2l38.9-.3l12.6 .4l2.9-.2l27.8 .1l12.1 0l35.4-1.6l-462.5 4.3l44.4-1.7l30.7-.1l21.4 0l1.7-.1l13.1 .1l3.4 2.1l16.6-2l2.2 1.3l23.3-1.3l36.4-.1l23.8 1.5l12-1.7l.3 2.2l9.3-2l30 1.8l7.6 0l51.3-1.9l9.4 1.5l8.7-1.4l6.7 2.1l23.1 0l2.9 0l1.4-2l1 1.4l16.5-1.6l42.7-.1l46.9 1.6l-534.1 2.8l7.1-1.8l16.9 2.1l20.4-.5l23.6-1.7l21.5 2.2l31.1-.6l16-1.5l4.2 2l30.3-.4l49.3-1.4l1.5 1.7l85.2-2l11.4 1.6l1.7-1.5l16.9 1.6l23.6 0l6-1.5l13.6 1.9l20.8-.5l43.5 .7l25.1-.3l26.1 .3l3.3-2.3l28.1 .3l4.3 2l1.2-.1l-529.6 .3l28.5 .3l13.3 2l9.4-1.9l5.5 1.6l32.4-1.6l52.7 1.6l10.1 .4l1.7-.3l5.8-.5l6-1.5l4.5 1.5l7.9-1.5l6.4 1.9l23.7 .1l15.8-1.7l18.2-.3l6.4 2.3l19.6-2l21 1.3l7.4 0l6.8-1.3l11.5 1.5l35.2-1.9l21.6 1.8l1.3-1.8l41.2 2.1l26.2 .2l19-2.4l17.7 .2l32.7 .1l12.7 .1l-521.9 4.1l27.2 .2l28.3 .1l9.7-1.9l4.2 .1l26.6 2l77.7-2.2l9 2.1l20.5-.4l67.9-1.8l20.7 .3l24.7 1.8l7-.3l6.8-1.8l1.2 2.1l10.3 .1l56.7-2l4.5 2.1l69.4-2.2l2 1.7l61.5-1.7l-542.9 4l37.4-1.5l.7 2.2l20.2-.1l13.2 .2l12.9-.4l10.3-.3l4.3 .6l25.7-.6l12.9 .4l20.6-.2l24-1.9l29.6 2.3l30.1-2.4l34.6 .1l76.2 2.4l12.6-.7l89 .1l59.2-1.6l15.3-.1l-531.1 2.6l59.3 .2l3.9 1.3l8.3-1.4l36.8 2l6.8-2.1l62.2 1.9l11.3-1.8l.8 2l6.4-2l9.7 1.4l19.3-1.3l11.1 1.7l41.4-1.8l5.2 1.6l6.7 .4l4-2.2l23.9 2.3l13.2-.6l86.2 .2l28.8-.1l62.7-1.4l9.5-.3l3.3-.2l15.1 .2l1.2 2l-542.8 .6l46.2 2.2l1.5-2l16.4 1.7l58.3-2.2l3.8 2.4l33.3-2l8.8 1.5l5.6 .6l5.6-.8l11.8 .3l7.9 .5l46.3-.4l34.9-1.9l2.6 0l8.8 1.7l22.4 .5l14.9 0l9.8-1.9l68.1-.4l5.8 .4l5.9 1.9l11.4-1.9l16.3 2l18.2-.2l10.7 .2l45.1-.5l13.2-.1l-526 2.6l9.9 .1l5.1-.1l7.5-.1l12.2-.1l73.3-1.4l4.6-.3l11.9 2.4l50.8-.2l.8-2.2l9.7 1.7l10.8-1.5l25.1 1.6l13.6-1.7l26.1 2.1l23.5 .1l7.4-.4l9.5-1.8l56.4 1.8l20.7 .3l9.4-2.1l13.8 1.9l17.8-.3l2.6 .1l33.9 0l20.9-1.7l-484 4.4l10.3-.1l8.6-1.9l14.1 1.8l9.9 .7l20.8-.6l63.1 .1l20.3-.1l5.1 0l34.2 0l27 .4l37.2-1.8l15.1 0l17.9-.5l4.9 .3l7.7 .1l2 1.7l8.6-1.6l4.3 1.4l10.6-.2l4.6 .6l18.9-1.9l65 1.9l1.9-2.1l18.6 1.7l6.8-1.8l68.8 .4l6.9-.1l6.1-.1l8.3 1.5l-521.6 3.2l87-.5l68.5 0l1.7-1.7l12.3 0l3.6 1.7l1.2-1.7l9.3 1.5l8.4-1.6l32.3 1.6l8.1 .7l23.2-.7l7.1 0l1-1.2l2.2 1.4l2 .5l15.6-.3l15.4 0l27 .2l22.4-2.3l14.6 .2l9 1.8l5.3-.2l15.7-.1l67.8-1.4l1.3 2l33.8-1.9l16.1-.1l-495.1 4.5l.7-1.9l40.4 1.5l17.6-.1l9.2-1.4l26.2 1.4l3.1 .2l103.6 .1l29.2 .2l11.3-1.9l13.5 1.8l20.6-.4l4.5 .1l3.6-.1l18-1.6l8.8 1.8l12.7-1.8l45.6 .3l54.3 2l23.7-.3l.6-1.7l4.8-.4l29 0l3.6 2l19.6 .3l-457.5 1.9l74.6 .7l12.1-.1l14.9-1.9l3.1 1.4l30.7 .1l3.6-1.8l2.2 2.2l48-.2l23.5-1.6l5.3-.4l1.4 1.7l19.5-1.8l4.5 .4l28.7 0l1 1.8l5.1-.4l10.8 .1l56.8-1.5l33.9 1.8l3-.4l2.9 .1l32.4 .4l25.4-.6l3.1 .3l5.8 .1l-494.1 2.8l16.6-2.4l2.7 .5l17.6 0l16.4 1.9l2.4-.3l31.8-1.8l14.9 1.7l2-.1l17.6-.2l2.6 .2l51.7-.1l5.1 .3l13.5-2.1l5.9 1.9l19.4-1.6l46.7 .2l44.8 1.5l4.3 .1l7.3-1.8l35.1 0l1.4 2.2l18-.1l30.1-.1l18.2 0l17.7 .1l7.4-.6l5.3 0l11-1.4l38.7 0l-471.7 4l5.8 .5l2.3-.6l37.4 .4l6.6-1.9l16.9 1.7l43.9-1.8l31.4-.1l11.3 2.1l4.4-2.1l17.7 0l11.8 .3l23.1-.1l7.3 1.7l1.2-1.8l15.7 2.3l8.4-.4l33.9-1.9l8.8 2l4-1.9l38.3 0l19.3 1.8l10.4 .3l22.5-.2l28.8-.2l8.3-1.8l42.7 .2l-515.6 2.3l25.4 .4l17 1.6l9.1-.1l39.8-1.8l61.7 0l20.8-.2l5.2 .2l28.8 1.7l7.6 0l7.5 .3l3.9-2.1l49.3 2.4l2.7-.2l6 .1l120.3-2l14.6 1.5l39.6-1.7l51.8 2.1l17.8 .1l-531.5 2.5l6-2.1l12.4 1.8l34.8-.3l12.7 .2l21.3 .5l2.2-.7l2.9 .3l.9-2l3.1 2.2l1.7-1.8l24 1.7l3.5-2l24.1 .2l34.6 .2l7.8-.3l35.9 .1l58.3 1.4l19.3 .1l17.8 0l9.7-1.4l6.5 1.6l2.8-1.6l35.2 1.7l101.2-.2l20.4 .5l25.4-.5l-522.3 1.1l68 1.2l31.9-1.6l22.8 0l34.9 2.2l9.3-.3l31.6-1.7l11.4 2.2l3.6-.1l46.2-2l5.7 0l5.4-.1l54.2 1.8l2.4-.3l34.2-1.5l33.2 1.6l7.3 0l30.4 .3l30.8 .2l6.8-2.2l23.6 1.8l-434.2 2.4l57.9 .6l17.7-.4l21.3-.3l25.4 .4l13.6-1.8l6.2 1.6l16-1.6l36.3-.3l8.3 .2l22.8 .2l2.7 1.9l8.6-.1l23.1 0l15.4-.5l30.7 .4l57.7 .1l1.6-1.8l2-.4l9.2 2.1l25.9 0l12.2-.3l29.8-1.3l18.2-.1l4.3-.2l-500.4 2.4l3.7 2.4l30-.5l29.2-1.5l15.2 1.8l17 .2l2.6-.1l35.9-.3l20.8 .2l42.9 .1l4.8-.6l8.7-1.4l2.7 0l10.4 0l21.6 1.5l50.6-1.9l22.1 0l41.5 0l42.2 2l1.4-1.5l.9 1.7l17.6 0l6.9-1.9l28.7 1.4l34.1-1.7l-522.4 4.4l13.5-1.5l36.4 0l8.1 2l5.6 0l18.2-.4l6.1-1.5l22.4-.4l3.6 .4l17 .1l8.7 1.4l3.5 .1l6.7-1.8l16.8 .2l11.3 1.6l7.9 .2l53.2-1.9l2.8 1.6l18.3 .5l5.4-.6l121.9 .3l13.1-.3l48.5-.1l10.3 .7l9.3-.5l7.1-1.9l2.9 .1l1.5 .3l5 2l18.5-2.1l17.3-.1l-480.4 2.4l45 2.4l7.6-.4l16.5-1.9l27 1.8l30.1 .5l30.7-.3l13.4-.4l4.8 .6l80.8-.5l41.8-.2l11.5-1.2l8.4 1.3l27.2-1.6l66.8 2.1l29.8-2.2l-430.7 4.4l5.7-1.8l23.6 .1l10.7-.2l8.9 2.3l9.4 0l20.9-.5l9.7 .6l44.8-2.3l34.1 2.2l10.7-.2l7.9 .2l7.7-.1l86.1-.4l16.4-1.8l54.8 2l14.2-1.9l17.9 .4l20.8-.3l16.1 1.7l30.5 .5l8.7-1.9l8.8-.4l12.5 .2l.6 1.5l-504.4 1.2l57.6 1.3l9.8 .2l15.4 .4l32.8-.4l117.4-.2l17-1.5l26 2l1.4-2.2l16.4 1.7l3.4 .1l21.6-1.4l27.7-.4l16.5 2.1l19-2.2l8.7 2l9.5-1.7l8.3-.2l6.4 .2l29.3 1.7l11.5-1.9l20.2 2.3l27.1-.3l-513 2.2l6.5-1.2l47.2 1.6l9.3-.3l69.9-1.8l5.4 .5l12.4-.2l30.2 1.4l2.6 0l22.9 .4l19.3-1.8l48.2-.3l9.4 0l6.3 1.8l8.5 .5l1.6-2l.2 1.5l25.5 .4l10.4-.2l44.3-.2l2.8-1.6l7.8-.2l35.1 1.8l56.3 .6l12.9-2.4l1.6 2.4l3.5-2.3l8.3 .1l-488.9 2.5l2.9-.2l6 2.2l2.5 0l63.6-2l6.3 1.7l28.2-1.9l33.9 .5l8.2 1.6l1.6-2.1l106.1 2.5l.7-2.5l4.9 2.2l26.5-2l47 2l50.2-1.9l.4 2.2l35.9-.4l42.6-2.1l-430.7 4.4l.8-1.6l23.1 .1l71.8 2l2.5-2.2l19.2-.1l58.2 1.7l.8-1.5l113.8 2.2l12.1-.4l29.7-1.7l19.5 1.8l38.4 0l-434 .6l46.2-.2l15.8 1.8l29.2 .3l68.7 .3l3-2.3l1.8 2.3l47.1-2l1.3 2l39.6-1.9l21.5 1.3l8.4-1.3l18.7 0l17.7-.1l18-.4l10.6 2.4l25.8-.5l2.2-1.5l11.5 1.7l72-1.6l22.7-.4l-425.6 4.7l3-.1l19.2-1.7l15 .1l51.6 1.7l73.7-1.8l51-.3l120.7 1.7l4.9 .2l51.1-.2l23.1 .1l-459.8 2.6l5.7-1.5l27.6-.2l17 2.2l13-.3l14.7 .3l5 0l8.2-.1l4.9-.7l44.2-1.2l10.7-.1l8.4 1.6l22.1-1.9l6.1 1.7l24.7-1.6l35.6-.2l9.7 .5l2 1.8l7.3-.1l13 0l15.2 .1l45.6 0l48.9 .2l14.7 0l6.3-2.1l7 1.5l23.1 .5l1.7 0l-460.4 .5l36.9 1.6l95.1-1.6l16.7 1.6l13.8-1.6l2.8-.2l15 .3l8 .1l58.7-.1l9.2 1.6l13.3-1.9l5 0l27.8 .3l34-.4l1.1 2l19.8 0l28-2l7 .4l45.3 1.9l2.7-1.9l3.9 1.3l-439.3 2.5l39.6-1.4l40.3 .2l49.9 1.3l60.6-1.3l3.9-.3l10.1 1.9l17.7 0l41.9-2l.4 2l7.4-1.8l46.1 1.7l7.7 0l26.2-.2l10.6 .6l4.6-.7l10.4 .4l8.8-2.1l3.1 1.9l24.8-1.9l9.2 2.1l4-2.1l7.4 .2l16.1 1.7l13.7-1.7l-453.6 4.6l67.3 .1l63.7-.1l4.6 0l.7-1.8l13.3 .1l17 1.6l13.3-1.7l16.8 2l5-.3l2.8 .3l2.7-.6l19.8 .4l17.8-.3l6.1 .2l47.2-.2l41.2 .3l6 0l22.1 .1l70.8-1.9l-449.4 4.1l45.1-2l37.2 .4l3.6-.2l8 1.6l6.8-1.6l87.5 1.8l1.4-1.6l4.5 2l3.2-2.2l45.2 1.8l10.5-.3l4.7 .5l2.5-.4l35.3 .5l1-2l3.9-.3l73.1 .3l6.8 1.4l9.4 .2l6.3 .3l5.7-1.7l10.6-.4l13.7 1.8l26.9-1.9l3.4 1.8l-447.1 3.1l65.1-2l47.8-.1l8.5 .3l85.7-.3l37.8 2.1l74-.5l1-1.7l55.8 .4l18.6-.1l6.8-.2l32.4 2.2l5.7-2.2l13.6 0l11.8 2.1l-468.7 2.6l2.2 .1l19.5-2.1l39.5 1.9l45.8-.3l26.8-1.9l4.5 2.3l15.3-.6l7.6 .3l8.7-2l2.2 .1l9.1 1.5l6.1-1.7l6.5 1.8l15.2 .7l31.1-.1l17.5-.1l3.3-2.3l8.4 .1l3.1 2.1l35.1-2.2l11.7 2.4l4.6-.3l.9-2l25.9 .2l47 1.6l14-1.7l33.3-.2l5.5 .2l18.7 2.1l-380.2 .6l15.9-.2l18.9 2.3l6.9-2.3l48.7 .3l13 2l57.9-2.3l1.4 2.1l8.8-2.1l16.5 2.1l17.8-.1l.5-1.6l15.6-.5l1.2 1.7l9.7-1.6l30.8 .1l19.9-.2l15.1 .1l61.6 .4l-437.4 2.2l26.3 1.6l42.1-1.7l4.5 2.3l53.4 .1l34.1-2l3.4 1.4l7-1.6l20.6 .1l39.9-.4l43.6 .2l3.6 .3l33.9 1.7l55.5 .3l1.9-2.5l4.1 2.1l10.5-1.9l30.5 0l4.7 2l1.6-2.2l3.2 1.9l13.3 .6l-442.5 2l51.8-1.7l86.5-.2l17.4 1.8l6.4 0l12.5-1.7l15.6 .3l50.2-.1l25.1 2l13.2-1.9l9.6 1.5l17.3 .5l19.6-2.1l73.1 .1l21.9 1.7l-344.1 .7l27 2.2l9-2.1l23.1-.4l18 1.9l12.2-1.9l17 1.9l3.8-1.5l10.5 1.4l46.9 .3l11.2-1.6l6.7 1.4l45.9 .3l63.9-.3l11.8 .6l10.3-.2l9.7-.3l26.8-.1l10.1 .1l22.6 0l-376.7 2.9l35.4-1.9l7.6 1.9l20.9-.1l6.5-2.2l18 .3l6.7 1.8l38.2 .2l1.3-1.9l19 1.5l4.6 .4l24.4-2.1l22.8 .1l3.2-.2l56.9 2.3l3.4-2.1l5.9 0l14.5-.1l19.6 1.8l13.3 .3l50.7 0l8.2-2.1l7.1 1.8l-463.6 .7l5.6 1.6l52.3-1.6l20.4-.1l12.1 0l13.1 .4l24.7 2l36.1-.3l2.6-.1l4.3-.2l12.3-1.6l22.4-.3l13.5 2.4l17.6-.2l30.7-.4l7.8 .4l16.5-2l7 1.6l24.3-1.6l6.8-.2l6.6 1.8l2-1.3l13.5 1.4l5.6 .3l30.5 .3l18.7-2.4l4.9 0l-387.3 4.7l9.5-1.9l6.3 1.4l31.9-1.7l8.7 2.2l1.9-.2l33.7 .3l30.5-.4l74.9-1.7l3.4 0l99.9 1.6l16.1 .2l14.4 .4l3.9-2.2l3.8 1.5l6.2-1.7l7.8 .3l9.3 1.8l24.6-1.7l38.6 1.4l4.4-1.5l-364 4.5l15.2-.5l18.8-1.3l36-.5l1.4 2l6.3-1.6l5.2 2.1l28.8-.4l24.8-.1l52.3-1.5l3.7-.1l.8 1.8l19.9-.1l7.5-2.1l19 2.3l9.7-.3l9.6 .4l34.2 0l11.6-.1l5-.5l5.6 .4l2.6 .1l.7-1.9l8.9-.3l2.2-.1l31.3 2.2l-383.1 2.3l7-.2l103-1.3l25.5 1.5l14 .2l10.3 .2l4.8-1.9l34.1 1.3l3.2-1.6l17.8 .3l47.4 1.7l43.3-.3l46 .3l10.6 0l1.2-1.8l19.1 1.6l7.1 .2l-388.7 2.3l3 .5l23.1 .1l55-2l16.8 1.3l83.9 .6l26.3-2.3l37.3 2.2l14.5-.3l2.7-.2l12.1-1.5l18.5 2.1l7.4 .1l18.4-.5l-262.6 .8l89.1 .3l53.2 1.9l12.8-.5l1.2 .4l2.6-.4l21.4 .3l42.3-2.1l8.5 1.8l7.4 .3l19.9 0l49.1-.3l22.6 0l-411 .9l51.8 0l5.1-.1l55.2 2l7.1-.4l48.6 .6l2.2-.3l7.6 .1l12.9-.5l1.7-1.6l11.5 1.7l26.2-1.3l3.2-.4l17.8 .3l16.7 1.4l1-1.5l3.7 1.8l7.5-.1l12.9 .3l10.5-.2l15.4 .4l24.6-.7l8.7 .2l1.4 .3l2.5-1.9l7.6 1.3l23.5 .5l11.5-2.2l8.9 2.2l-406.9 2.6l56.9-.1l114.3 .3l23.4-.7l16.1-1.7l21.5 2l6.8-1.6l1.6 1.6l71 .2l15.1-.4l5.6 .3l2.8-1.7l1.5 1.6l12.1-1.6l2.8 1.5l3.4 .4l3.6-2.1l2.1-.1l8.7 .3l7.1-.2l24.5 1.5l-385.6 1.3l159.7 1.5l30.3 0l15.6-.3l3.3-1.4l9.9 1.6l10.5-1.5l16.6 2.1l36.6-.2l30.5-.2l22.6-.3l33.8-.1l-341.7 3l134.9-1.9l1.5 1.8l39.8 .2l10.8 .1l66.6-.4l33.8-1.8l30.1 2l34.3-2l1.1 2.3l.6-2.2l-382.6 4.7l46.8-.2l61.3-2l40.8 1.6l8.5-1.5l1.5 1.7l4.9 .2l17.7 .2l7.6-.6l4.3-1.6l13.8 2.3l12.4-.2l9.6-1.9l10.2-.2l20.6 1.6l16.2 .7l4.8-.8l10.2 .4l12.5-.1l12.3-1.6l2.8 1.5l35-1.4l2.1-.3l-345.9 4.1l162.6 .1l4.2-1.5l90.7 1.4l7.7 .4l93.2-.2l-377.5 .7l31.8 .4l156.4 1.4l30.5 .4l15.3 .1l2.9-.5l11.9 .4l12.9 0l16.4-1.8l7.2 1.8l45.4-.3l33.9 .2l7.6 .3l29.4-.2l-190.3 .6l9.7-.2l1.4 2.2l4.4-.4l30.9 .1l40.9 .2l4.9 .1l11.2-.1l22 .2l2.7-.4l1.1-1.7l5.4-.1l16.8 1.5l24.5-1.3l4.8-.2l8.4 1.8l10.2 .3l-403.7 2.4l8.2 .1l59.8-2.2l110.8 1.9l18 .2l64.8-2.1l8.2 1.9l4.2-1.5l24.4 1.5l13 .5l10.2-.7l18.9-1.3l16.7 1.6l19.2-1.8l3.5 1.8l-218.4 2.5l40.9-.1l1.8-1.9l2.5 0l14.1 1.7l20.2 .3l9.4-1.9l1.3 2l36.8-1.7l3.4 1.6l41.5 .2l2.6-.5l1.6 .3l10.8 .3l5.7-2.1l-176.3 2.3l11.6 .4l5.8-.2l4.3 2l46-.2l6.8 .1l6.6-1.7l20.8-.2l21.8 1.5l2.8-1.5l9.6 1.7l17-1.7l65.4 .3l-218.1 2.4l27.5 1.4l5.4-1.5l99.3 1.9l7.3 .2l50.8-.3l6.4-1.8l12 2l-162.4 2.5l13-.2l3.6-2l16.9 2.1l32.8-.2l40.2 .6l6.7-2.4l3.3-.1l20.9 2.1l-212 .6l20.2 2.1l33-.1l57.4-1.9l32.4 .3l11-.1l49.5 1.9l5.4 0l8.7-2.2l-215.8 2.6l67.4 2l5 .1l2.3-.2l50.7-2l6.9 .2l18 .1l6.5 1.6l35.6 .2l26.4-1.7l9.7 1.3l-215.6 2.6l15.9-1.5l5 2l19.1-2.3l.1 2.3l11.9-2.2l39.5 1.7l1.8-1.5l7.6-.2l29.5 1.6l1.7 .1l8.2-.1l5.1 .1l7.5 .6l12.8-.2l24.9 0l5.5 .2l7.1-2l-181.9 3.9l5.8-.1l2.7 .7l35.8-.2l3.7-2.2l32.1 0l18.7 .5l52.9 0l-192.5 2.4l2 1.9l6.2-1.8l15.3-.2l1.6 .1l5 2.1l82.6-1.9l5.1-.4l2.1 .3l59.1-.3l24.3 2.3l5.5-.4l10.4-1.5l24.9 1.2l2.7 .3l-254.8 1l22.1-.5l40.1 1.8l15.5 .4l8.1-1.9l3 0l12.2 .2l1 1.7l15.8 .2l5.8-.4l20.2-.1l24.4-1.5l9 1.6l35.4-.1l28.4 .3l16.5-1.9l3.3 1.8l-236 2.9l9.6-2.1l123.6 2l8-2.1l12.6 .2l32.9 1.5l19.7-.1l-229.2 .9l13.1 .1l19.1 1.8l11.4-1.9l33.5 1.9l4.6-2l19.2 2l45.3-.4l55.3-1.3l9 1.8l2.3 .2l25.4-.4l-215.9 2.6l21.1 .2l38.5-.2l53 .1l63.4 .1l12.8 .2l15.3-.6l9.3-1.8l9.2 2.4l-190.7 2.5l23.8 .1l58.9 0l47.4-.5l9.3-1.9l34.1 1.6l7.5 .6l-212.2 2.6l40.7-.1l5.6-.2l9.4 .1l28.9 .2l3.2-2.2l36.4 .4l8.3 1.7l47.4-1.8l-108.5 2.3l9.9 0l46.5 0l2.9 2.2l33.2-.4l28-.2l10-1.7l-110.8 2.6l64.7 2.3l41.1-.4l3.8-.1l-150.1 1.1l1.1 1.7l69.1-.3l7.9 .5l52.8-2.4l32.7 .3l-124.4 2.5l95.3 .3l3.4 1.2l13.8-1.7l-125.1 4.8l4-2l13.4-.3l9.6 .3l2.6-.2l44.9 1.8l43.7 .4l-143.8 .6l5-.1l77.4-.2l37.2 2.4l29.7-.2l-134.1 2.2l59.1 .2l32.3-1.9l14.7 .2l16.2 .1l-129.7 2.6l19.5 1.3l88-1.7l-120.5 2.4l14.3 .3l14.2 2.2l-9.4 .1l.2 2.4l1.3-2.1l9.5 1.8l63.4 0l33.9 .3l-109.9 5l5.7-1.9l2.3 2l5.5-2.1l-19.5 6.6l26.6 5.2l-22.6 3.2l11.4 2.3l6.7-2.3" fill="none" marker-start="url(#mt)" marker-mid="url(#mt)" marker-end="url(#mt)"/><path d="M527.3 1117.8l5.9 .1l-70 2.2l7.3 .1l5.6-.3l21.5-1.7l15.7 1.9l23.9 .5l-30.3 2.6l12.6-.1l9.4-1.9l1.1 2l8.4-.5l12.5 0l-87 .6l9.9 .1l6.5 1.9l16.3 .2l11.7 .3l17.9-.2l16.6-1.8l12.2 1.5l-99 2.6l29.5-1.7l13.3-.3l37.3 1.8l14.2 .6l46.8-.2l-149.1 2.5l7.4-.3l20.1 .4l5-.5l5 .2l25.4-.2l12.8 .1l10.4 .2l2.7 .2l3.5-2.2l-56.6 3l14.5-.2l3.2-.3l38.5 0l20.7 1.7l11.2 .3l15.6-1.9l-149.7 4.5l4-2.1l13.6 1.8l5.4 0l13.8-1.3l3.4 2l8.4-.5l4.6-.1l4.7 .6l25.4-.7l48.8 .7l-122.3 .3l23.3 0l17.1 .1l59 .1l18.7 1.7l10.6 0l12.1-1.8l-150.9 4.5l17.1-2.3l5.8 2l27.2-1.6l.7 1.6l11 .3l13.4-2.2l9.2 2.3l33.3-.3l5 .2l10.5-.6l7.9-1.6l1.8 1.8l-160.8 .7l56.1 .1l4.4 2l57.9-.4l43.2 .3l-180.1 .9l23.4 1.9l12.5-.3l3.1 .2l22.1-1.7l10.7 1.8l11.7-2.1l11.8 2.1l19.6-.1l2.5-.2l5.8-.1l7.8 .5l15.7-1.9l29-.3l11 1.9l5.9-1.7l24.7 2l-173.1 .7l5.6 1.6l11.8-1.9l5.9 .2l38.4 1.3l13.9-1.3l24.3-.3l14.3 .1l1.9 1.7l4.6 .3l3.4-2.1l14.8 2.1l19.8 .1l19.9-2l6.4 1.7l-217.6 .7l43.8 .2l15.6-.1l8.1 2.1l16.4-.3l1-1.6l36.8 1.6l10.4 .2l7.9 0l4 0l67.3-.5l-228 .9l6.6 2.3l38.8-.1l11.3-2.1l27.1 1.9l6.6-1.9l22.6 .1l2.1 .2l1.2 1.5l20.3 .2l33.5-.3l25.2 .3l10.2 .2l9-2l6-.4l4.6 .2l13.5 1.8l-221.5 .6l11.5 2.4l13.1-.4l6.8 .2l1.3-1.9l3.2 .1l18.8 1.6l38.3 .3l10.5-.1l18.2-.1l27.6 .3l2.4-.2l12.5 .2l10.8-.7l21.1-1.3l-206.7 4.4l20.7-.5l4.2-1.5l20.1 .1l8.6 1.8l14.9-1.8l10-.1l4.2 1.5l.9-1.6l40.9 .2l14.3-.2l15.3 1.7l7.6 .3l2.6-.4l4.3-.1l52.5-1.4l-249.4 4.7l3.6-2.3l13.5 2l4-1.9l24.3 1.5l43 .4l17.9-.2l19.8-1.5l5.5 1.4l2-1.7l35.8 .1l21.3 1.7l16.6-1.7l11.4 1.7l25.2 .5l3.8-2.5l4.9 2.4l-260.4 .3l18.1 .1l3.1 1.5l5.2 .7l24.6-2l12.9-.1l2.3-.1l1 2.1l1.6-2.3l32.2 .4l12.6 1.5l29.4-1.9l10.3 .5l.1 1.7l11.9-2l10.2-.1l2.3 .3l84.6-.4l3.3 2.2l-267.5 .3l11.5 1.8l9.8-1.6l9.3 0l10.8 0l26.2 1.7l15.1 .6l8.7-.6l54.8-1.9l4.5 .4l22.6 .1l3.4-.4l3.4 2.2l4.6-.1l11.1 .1l1.1-2.2l11.7 2.2l18.5-2l22.3 1.9l-232.2 .6l20.4 .1l16.8-.2l10.8-.1l19.6 1.7l17.5 .7l33.4 0l36.8-2.2l23.7 2.1l17.7-.1l18 .1l25.9 .1l1.7-2.1l-252.8 4.2l48.1 .3l30.1 .1l1.5-2l7.2 1.3l1.9 .4l1.6-1.6l11.2 1.2l4.3-1.3l38.8 1.8l11-.4l5.8-1.7l19.8 1.6l29.4-1.4l10.4 1.6l25.7 .1l30.5-.2l4-1.5l-251.7 4.3l58.9 .2l47.8 .1l5.2-.2l.9-1.9l11.4 2.2l14.7-2.3l41.6 1.8l16.1 0l61.2-.2l-296.5 .8l1.8 2.2l30.9-2l3.8 2.1l28.4-.2l5.3 .1l3.2-2.1l13.5 .1l12 2l6.6-.1l17.4-1.6l16.2 1.4l10.6 .3l8.8-2l9.4 0l24.6 2.1l3.9-1.8l1.5 1.8l1.8-.3l5.8 .1l4.6 .3l4.9-.5l38.5 .3l23.3-.2l5.8-1.5l3.9 1.5l18.3 .2l-289.6 2.3l16-1.8l19.5 1.7l2.2-1.7l.2 2.3l5.3-.6l10.3 .1l33.9 .4l7.2-.6l3.1 .2l8.4-1.8l9 1.8l33.6 .2l2.6-2l13.9 0l13.8 1.8l49.5-1.8l-261.3 2.5l13.1 .3l18.1 1.5l15.5-.2l26.4-1.3l10.8-.2l4.5 0l10.5 .3l18.1-.4l13.9 2.1l7.4 .2l3.7-2.4l20.3 2.4l1.1-1.9l5.6 1.6l3.3 .1l5.8-2.1l36-.1l1.5 2l43-.3l7.1 .2l14 0l.6-1.4l5.1 0l5.1-.2l4 2.1l6.8-2.1l11.3 2.1l-315.6 2.1l.9-1.7l14.5 1.5l14.4-1.7l28.4 1.9l13.5-.1l4.4 .3l5.8 .3l6-2.2l15.4 .1l22.5 0l2.3 2.1l7.9-2.1l23.3-.2l45.4 1.8l10 .4l2.9-.2l35.3-.4l12.2 .5l34.7-1.8l17.2-.4l-330.5 4.7l17.6-.3l.6-1.7l2.5 1.8l12.8 .3l6.4-.2l7.3-1.9l.7 2.3l3.4-.4l43.1 .4l1.5-.8l10.2-1.3l30.9 1.8l9.5-2.2l16.2 2.2l5.4 .2l1-2.4l1.7 2.1l15 .1l56.7 .3l1.6-.7l58.7 0l16.4-1.6l17.6 2.2l-296.9 1.9l7.6 .6l38.3-1.9l15.3 1.4l15.2 .6l1.3-.5l5.1 0l3.9-1.6l8.8-.1l5 .2l12.8 0l5.5 1.4l5.8 .6l7-.3l12.3-1.8l1.3 1.9l11.3-1.9l79.6 1.9l8.6 .1l11.1-1.9l2.2-.1l29.8 2.1l-312.2 2.4l.9-2.2l4.7 .4l10.5-.3l5.4 .1l43 0l8 .1l1 1.7l5.9-1.7l9.2 1.5l5.9-1.8l46.8 0l42.8 .2l46.4 .2l26 1.8l65.7-1.8l-332.9 2.1l15.5 .3l3 1.4l8.3 0l9.8 .6l37.1-1.9l13.7 1.6l39.2 .4l17.5-.4l9.5-1.6l6.1 1.3l34.7 .6l5.8-.6l50.1-1.4l29.8-.3l12.9 0l2.2 1.7l6.7 0l22.1-1.4l-341.4 4.3l12.8-.2l28 .3l17.1-.3l29.7-1.8l10.7 .2l41.7 2l9.9-.3l8.2 .1l30.7 .2l1.5-.6l41.8 .2l.3-1.4l8.7 1.9l8 0l24.5-2.3l10.9 2.2l3.9-2.3l3.6 0l8.6 2.5l55.1-2.5l-363.7 3l5.2-.3l31 1.9l7.9 .4l1.7-2.3l3.2 2.2l4.9-2.2l13 1.6l4.2-1.4l23.3 .2l1.1 1.9l11.8-2.4l21.8 2.2l30.4-.5l11.6-1.3l11 1.5l23.7 .2l2.1 .2l15.2-.6l26 0l6.9 .1l15.6 .3l23.4 0l72.1-1.7l-365.3 4.4l9.6-1.8l7.5 0l11.7 1.5l42.1-1.6l3.8 1.9l8.3-2.1l9.6 1.5l22.3 0l10 .8l21 0l3.8-2l15.9-.4l16.8 2.1l4 .3l21.4 0l2.2-.2l6.9-.3l8.7 .4l20-.2l6.8-2l15.4 2.2l6.4-2.1l1.6 1.5l6.7-1.4l20.8-.2l10.3 0l7.9 2.2l28.6-.3l-345.3 2.7l16.2-1.9l10 .1l9 1.4l7.1-1.5l15.6 1.8l3.3-.1l1.6-2l2.7 1.9l43.1-1.5l17.3-.4l8 .3l3.5 1.7l12.5-.3l47.3-1.2l21.8 1.8l28.2-.1l25.7-.2l51.2 .2l45 0l-372.6 .8l9.6 1.7l27.6-.5l35.2-1.4l3.2 1.5l1-1.7l4.1 2.2l22.8-.3l20.3-.1l7.1-1.4l1 1.4l3.2-1.7l1.7 2.2l19.3-2l10.6 0l11.7 1.7l10.8-2.1l3.3 .3l29.1 1.8l5.5-1.6l12 1.2l36.2 .2l2.6-1.5l7.7 1.9l9.9-.6l15.9-1.3l1.1 2.1l38-2.3l2.6 .3l.4 2l-344.7 1.9l2 .6l2.5-.4l1.3-1.9l9.9-.1l3 .3l15.8 1.6l15.2-1.6l4.3-.3l17.6 2l19 .4l1.8-2.1l15.4-.2l5 .1l13.4-.1l18.9 1.9l32.4 0l21 .2l4.6 .2l8.1-.5l2.2 .4l1.9-2.1l90.4 1.8l43-.1l6.4-1.5l13.9 1.9l5.5-.4l2.2 .2l-380.3 .9l13.6-.2l2.7 .1l8.7 2l7.7-.4l10.5-1.7l17.7 1.9l2.7-.1l22.7-.1l46.5-1.7l2.3 .1l38.2 1.4l4.9 .1l5.6-1.6l17.4 2.1l12.9-.1l28.4-2.3l12.7 0l11 0l5.3 0l13.3 1.9l4.8 .1l13.3-.3l30.9 .7l5.1-.6l23.5-1.6l-382 4.4l14.4 0l21.5-.3l3.6-1.3l.8 1.7l17.3-1.9l2.9 1.7l3.7-1.9l34.6 1.7l17.6 .4l6.3-2l2.1 1.8l16.4-1.6l8.5 1.5l19.7-1.6l5.3-.1l25.6 .4l1.5 1.6l21.7-1.7l15.3 1.3l7.2-1.4l.9 1.7l24.9-1.9l3.7 2.1l8.2-2.1l87.1 .2l7.7-.2l19.2 2.1l-399.1 2.4l22.1-.3l18.6 .5l16.9-2l15 0l4.2 2.2l3.1-2.2l4.7 .1l5.6 0l1.8 1.9l10.1-.2l15.4 .2l1.7-.3l19-1.5l1.5 1.5l7.8 .3l1.3-2l17.6 .2l2.4 1.6l28.7-1.8l64.3-.1l10.6 1.6l8.5 0l4 0l25.3-1.5l11.9 .1l5.1-.4l5.1 .1l-336.8 4.2l20.4 .1l38.1 .2l9-.3l4.5 .1l1.8 .6l3.7-.7l10.7-1.7l2.2 2.3l7.7-2l20.1 1.4l16.5-1.7l14.2 1.8l24.7 .6l25-2.2l1.5-.1l19.7 2l20.4 .2l10.2-.4l6.9-1.4l16.8-.5l32.9 2.2l1.3-2.1l8.4 2.2l5.9-1.8l52.8 1.8l1.9-.4l1.5-1.6l17.8 .1l4.9 1.9l2.5-.6l4.2 .6l-405.2 .3l11.2 2l5.9 .3l9.4-.7l21.3-1.2l5.1 1.5l6.4-1.8l1.5 .1l7.2 2l8-2.2l31.8 2l19.2-.1l6.2-1.9l.1 2.3l13.6-.5l10.6 .2l9-1.6l11.9-.3l6.2 1.6l21.4 .7l12.3-.1l34.8-.2l75-.5l5.4 0l17.9 .8l16.3-2.5l3 1.9l15.5 .1l24.1-1.9l6.2 1.8l-417.1 3l3.8-.4l2.9-1.5l3.2-.2l22.5-.2l4.7 1.7l1.2-1.4l8.3 1.6l1.9 .4l35.5-2.1l28.8 1.8l22.5-.3l32.1-1.3l9.8 2l21.5-2.3l14.8-.1l29 1.8l16.6-1.3l81.2 1.3l12.3 .6l3.2-2.3l4.9 2l22.4-.2l29.9-1.8l.4 1.9l9.7-2l-433.3 4.3l15.4 .1l22.2 .4l2.3-.2l5.9-.3l3-1.5l21-.1l2.5 .3l3.6 1.7l5.4-.3l8 .3l3.8-1.8l7.3-.3l5.9 1.9l3.8-1.8l2.4-.2l2.3 0l3.2 .2l5.7 1.7l9.1-1.6l8.9 1.5l29.3-1.6l17.4 1.5l20.6 .7l26.4-2l12.7-.4l.6 2.1l5.4-.3l15.2 .3l23 .2l30.6 .2l20.7-.4l15.7 .2l16.6-1.8l3.6 1.2l25.7 .2l1.1-1.4l16.7 1.5l7.2-.1l-409.2 3.1l28.3-.1l4.1-2.2l1.4 0l1.8 1.9l3.3 .3l2.2 .1l1.2-2.4l4.9 0l1.5 2.3l1.7-2.1l.4 1.5l1.9-1.6l9 2.1l5.2-.5l2.5 .7l17.7-.6l25.8 .3l1.3 .3l20.5-.4l4.8-2l15.5 2.3l28.2-.6l5.1 .5l8.6-.2l.8-1.9l7.5 .4l1.2 1.3l13.7 .3l2.7-1.9l11.7 1.6l11.3-1.8l42.8 1.9l54.5-1.9l23.6 .5l.7 1.9l3.7-1.9l22.4 1.8l15-.3l-419.4 2.3l7.9-1.6l5.1 .2l1.9 1.7l19-1.7l2.3-.2l22.1 2.2l17.7-.2l2.9-.4l4.8-.1l9.6 .2l19.6-1.9l7.1 1.8l19.9 .6l8-.6l16.5-1.4l5 0l3.8 2.1l15.6-.8l17.5 .6l27.5-.3l15.8 .2l86.4-.4l25.8 .7l4.6-.2l8.3 .1l12.9-.2l4.9-.3l9.1-1.4l-418.6 4.5l12-1.9l2.1-.2l1.1 1.7l3.9-1.8l.8 1.5l13.9 .5l8.9-.4l14.5-1.7l5.6-.1l13 2l15.8-.2l7.6 .4l31.9-2l3.2 .2l17.3-.1l2.4-.3l20.3 .1l1.7 1.8l22.1-1.6l50.1 .2l2.1 1.8l8.8-1.8l21.2 1.3l2.6 .2l2.7-.3l5.3 .5l23.9-2.2l24.2 2.4l30.7-.1l1.2-1.9l52.7 1.9l8.3-1.9l-418.1 4.5l2.6-.4l16 .1l4.6 .2l5.5-.1l6.4-2.1l4.9 .1l5.9 2.3l10.7-.5l22.9 .1l3-2.1l22.6 2.4l20.6-2.2l5.8 0l6.2 2.3l3.1-.1l4.8-.1l6.3-1.9l31.1-.1l8.4 2.1l3.4-2.3l2.6 .3l22.5 1.4l19.2-1.8l17.9 2.1l9-.2l1.9 .2l7 .3l17.5-2.4l11.7 2.4l17.2-.4l33.5 .4l47.9-.5l-398.7 3.1l18.3 0l1.4 0l1.9-2.2l1.7 1.5l3.8-1.5l5.3 0l12.5 .2l15.8 1.3l4.9-1.4l1.3-.3l3.7 .5l11.5 1.5l2.4 .3l10.2-.2l10.5-2l3.2 0l16.8 1.6l14.1-1.3l1.4 1.4l15.3 .4l10.6-1.8l3.5-.1l2-.1l32.8 0l42.6 1.6l8.5-1.7l3.1-.1l3.1 2.1l11.3 .3l6.3-.4l13.4 0l18.7-1.5l1.8 1.3l64.2 0l22.7-.1l24.9 .1l8.6 .2l1.4 .3l-457.6 2.2l16.5-1.8l4.2 1.8l7.4 0l2.2-1.6l16 2.1l16.4-2.1l11-.1l12.8 .2l3.6 1.7l9.3-.4l12.4-1.3l1.6 0l10.6-.2l7.3 .2l19.3 1.2l7.5 .6l26.1-.2l16.4-1.8l15.7-.2l18.4 2l35.6-.1l1.7-1.9l56.3 .1l1.5 2l12.4-.5l10.7 .3l5.6-1.6l39.8 2.1l47.9-.3l-442.5 2.4l4.7-1.8l19.2 2.1l16.3-1.8l23.2-.2l19.3 1.5l8.4-1.5l9.7 .1l8 0l4.9-.1l1 1.9l9.2-1.8l26-.3l1.1 1.9l1.6-1.9l9.4-.1l11.5 1.9l48.2-1.4l16 1.9l15.7 0l15.1-.4l4.7 .2l10.9-.5l5.2-1.6l3.8 2l21.2 .2l58.8-.6l33.3 .6l7.1-.5l8 .4l2.6-.4l15.7-1.6l0 2l4.2 0l-427.6 2.2l3.6 .4l4.3-.1l5.1-.4l5.4 .5l2.3 0l2-2l3.6 1.6l2.7 0l10.1 .6l1.7-2.2l3 1.9l.9-2l14.8 2.2l2.4-.2l.9-2.2l6 .5l12.8-.5l.8 2.5l1.9-.4l4.9-1.6l6.5 1.4l1.6 0l9-1.8l7 1.6l3.8-1.7l2.7 0l13.3 1.9l10.9 .3l1.1-1.7l.5 1.3l40-1.7l2.6-.1l7.9 .2l7.6-.2l1.5 1.7l4.1 .5l3-.4l76.2 .1l10.1 .3l2.4-1.7l73.6-.4l11 2.1l7.1-2.1l39.1 2.1l5.8-1.9l-456 4.4l43.2 .2l7.2-1.9l22.3-.4l.6 1.8l12.5-1.7l13 2.3l7.1-2.3l17.9 .2l15.1 .2l27.4 1.4l27 .5l1.3-2l6.2-.3l76 .4l8.4 1.4l7.3-1.8l46.9 2.1l2.3-.5l45.9 .2l7-1.9l14.5 .2l2.8 .3l11.4 1.6l25.6 .2l-444.8 2.2l6.7-1.5l34.3 1.6l5.3-1.9l14.1 2l6.9-1.7l4.5 1.3l2.5 .5l5.6-1.8l1.1 1.2l4.3-1.2l2.2-.4l11.5 2.3l3.4-.3l2.1 .3l6.1-2l8.9 1.5l13.4-1.9l6.5 2l15.5 .1l4-1.8l16.1 1.4l8.9-1.7l53.7 .4l30.2 1.7l6.1-1.8l20.5 .1l5.7 2.1l12.6-2.4l35.4 .3l33.6 2.1l4.3-2.3l3.2 .3l8.3 1.4l7.6 .2l20.2-.3l4.6-1.5l8.6 2.1l8.1-2.3l5.1 1.7l-466.2 2.9l20.3-.1l2.4-.1l7.4-1.6l16.5 1.7l23.5-1.8l12.1 2.2l15.3-.4l2.3 .2l1.8 .2l8.2-.7l21.5-1.5l9.6 1.6l.9-1.5l22.1 1.7l1-1.8l.9 2l8.4 .2l28.1-2l2.5 .1l14.5 1.7l6.9-1.9l16.1 2l20.5-.1l1.6-1.9l19.4 1.8l4.7-.3l11-1.8l17.5 .4l15 1.3l4-1.4l8.4 2.1l41.5-.3l27.6 .2l7.9 .1l.6-1.9l2.8-.2l9.2 1.8l10 .2l1.2-2l2.7-.1l9.1 1.7l3.3-1.6l-447.4 2.3l6.1 2.4l8.2-.7l33.9-1.3l9.2 1.4l14-1.4l1.2 2l6.4-2.5l26 .2l56.3 2.2l12.9-.1l3-.2l4.2-2.1l1.6 2l14.5-.2l20.5 .1l55.4-1.6l16.9 0l10.7 .1l3.1-.4l3.4 1.8l34.8-1.3l5-.1l1 2l27.3-.5l9.7-1.7l6.1 2l10.1 .1l28.2-.5l8.2 .6l11.5-2.4l3.6 1.9l4.2 .1l2.7 0l-468.5 .7l6 1.7l6.3-1.6l35.1 2l38.1-.4l1.5-1.6l21.8 2.2l3.7-2l6.8-.3l15.3 .1l18.2 .1l3.7 1.6l31.1 .1l10.2 0l20.7-1.8l1.8 2.2l2.2-.3l3 .1l35.9-.4l7.6-.1l52-1.2l16.2 1.6l49.5-.2l2.2-.2l6.1-1.2l2.6-.5l.6 1.9l21.2 .5l12.4 0l8.7-2l1.8 1.4l1-1.7l8.6 1.8l11.3-.2l-464.4 1.2l.7 1.9l9.5-1.9l.4 1.6l1.1-1.8l4.3 2.2l9.6-1.9l26.9 1.6l10-.1l4.8 .1l1.3-2.1l13.2 .4l1 1.5l7.5 .4l2.7-.2l3.7-2.1l4.8 .3l25.8-.3l27.8 .4l5.9 1.7l2.8 .4l5-.2l3.7-1.9l7.9 0l3.6 1.7l1.1-1.7l5 1.6l5.7-1.9l3.8 1.9l4.2-2l13.2 2.2l18.2 0l2-1.7l5.8 1.7l.7-1.7l8.1-.2l2.5 .2l9.2 1.5l5.1 .3l33.3 0l13.7-2l33.2 .2l23.8-.5l12.2 .5l5.7 2l5.5-.4l7-1.9l.3 2.2l1.8-1.9l46.5 1.6l8.9 0l-466.2 2.8l2.8-.5l8.6-1.7l4.5 2.1l2.8-.1l1.8 0l14.9 .3l5.5-.6l25.6 .6l10.4-.3l7.6 .1l9.1-2l.7 1.6l4.9 0l19.3-1.8l19.5 2.2l22.9-.3l40.3 .3l7.4-1.9l2.4-.3l7.1 .4l3.3 1.3l32.6-1.5l11.3 2.1l9.7-.1l5.1-1.8l30.4-.2l7.6-.1l4.9 .3l17.5-.4l34.2 1.9l7.1-1.8l13.9 2.2l8.8-2.3l15.1 .1l30 2l1-1.8l17.3-.1l4.3 1.9l1.4-1.8l-469.2 4.5l5.7-2.1l6.3 1.9l7-1.8l1.7 1.8l29.9 .4l37.6-.7l14.3-1.3l21.3-.4l18.1 2.4l20.8-.5l1.7-1.5l21.9 2l5.7-2.1l1.3 2l7.2 0l3.4 .1l11.2-2.3l13.9 1.6l10.7 .5l23.4-2.3l6.6 1.8l6.4-1.5l9.4 2.1l10.3-.2l7.9-1.9l1.4 1.7l8.2-.1l1.9-1.4l2.4-.4l8 1.6l1.9-1.4l27 2.1l20.4 .1l4.3-.1l27.2-2.2l6.7 1.5l7.7 .6l29.6-1.9l-455.8 2.2l1.7 2l7.8 .3l4.8 .1l8.9-2.2l.8 2l28.6 0l5.2 0l10.4-1.7l2.4 1.9l7.7-2.4l28.1 2.2l5.4-2l1.5 2.1l15.8-.5l1.6-1.8l3.4 1.7l7.7 .5l64-.1l6.9 .3l18-.1l107.8-1.9l4 1.6l3.1-.2l49.5-1.6l11 0l32-.1l21.8 2l5.7 0l-458.7 2.3l3.7 .3l49.6-2.1l9.3 1.8l8.8 .1l3.8 .3l.1-2.3l5.3 0l20 1.8l11.1-1.3l2.5 0l1.8 1.9l2.1-.3l8.2 .4l22.3-.8l13.5-1.4l29.4 1.7l1.7-1.7l27.5 1.9l12.5-.4l6.5-1.4l12.6-.3l3.4 1.9l14.9 .1l24.1-2.1l55.3 1.9l7 0l14-1.6l6.5 1.7l21.5-.2l17.7 .1l12.5 .2l10.3 .4l24.6-2.3l3.6 1.6l-462.4 1.2l23-.2l1.8 2l21-.1l24.4-.2l2.3-1.6l16.4 2.1l.8-1.9l10-.2l5-.1l1.7 1.7l10.2 .5l12-2.1l10.8 1.7l2.1-.3l35.8 .6l3.3-.5l10.8-1.6l4.4 1.9l14.6-.3l44.5 .4l15.3-.5l1.6 .7l4.6-2.2l7.8-.1l14.9 .4l33.6-.2l23 1.6l27.4-1.8l39.3 2l7.7-.4l10.8 .7l1.9-.1l9.6-1.9l4.9 0l1.7 0l9.1 1.7l-482.7 2.8l20.8-2.3l7.2 2l6-1.9l16.7 1.7l7.9-.2l10.8-1.6l18-.1l11.7 1.7l2-1.5l.2 1.6l3.7 0l14.5 .6l4.8-.4l3.6-.1l1.8-.2l3.4-1.7l38.3 .5l9.4 1.5l6.1-1.7l3.9 1.7l17.5-1.9l1 2l2.8-.3l2.3 .2l4.1-.1l12.2-1.9l21.6 2.1l3.1-.1l17.6 .4l6.7-1.9l58.3 0l19.5 1.5l7.5 .3l30.7-2.1l15.5 0l7.8 0l6.1 1.6l2.5-1.4l7.6 0l28.5 1.6l-466.8 .9l7.6 .1l49.3-.3l5.3 1.9l12.4-1.5l17 1.8l35.2-.4l12 .3l25.2-2l41.4 1.9l10.8-.4l5.2 .5l1.9 0l4.7-.3l4.2-1.6l55 1.5l31.3 .3l9.6-.4l15.8 .6l11.5-2.1l20.9 1.9l4.7 .1l5.4 .1l13.4-.6l12.7 .5l5.2 .2l8.7-2.4l-423 4.3l24.4 .6l6.3-2l.1 1.5l13.7-1.6l6 1.5l2.8-.1l5.4 .8l13.8-2l.7 1.4l2.5 .3l4.7-.3l6.3 .6l5.3-.5l39.9 .3l12.3-2.1l1.1 1.7l8.7-1.5l5.5 1.8l25-1.9l2 0l2.4 2.1l3.1-2.2l8.3 1.6l10.3 .1l5.8-.2l4.8 .8l20.4-.8l8.9-1.5l6.8 2.1l11.2-2l11.5 1.5l27.5-1.7l21.2 2l21.8-1.6l23.3 1.7l19.5-2l.8 1.8l20.8-.1l29-1.8l-445.8 4.5l7.6-.1l14.3-1.8l4.2 1.9l4-.2l3.7 0l3.4-1.5l4.3-.2l1.8 2.1l3.6-2.1l9 2l24.8-1.7l4.3-.3l10.1 1.7l2.3 .2l2.6 .1l2.4 .1l11.1-1.9l17.1 2l1.2-2.1l6 1.9l30.6-.3l1-1.6l22.9 .2l61.3 0l3.2-.2l30.8 2.1l23.2-.4l4.8-1.5l6.1 1.6l13.2 .3l.3-2l11.4 1.4l18.8 .3l4.4-.1l15.8 0l33.7-1.4l2.9-.1l22.5-.4l6.1 .4l.1 1.3l2.6 .7l10.8-.7l12-1.4l9.9-.3l-500.4 4.5l19.2-1.7l6 0l3.9-.1l11.6 2.2l8.7-.6l6.2-1.6l4.6-.1l6 1.6l5.4 .4l5.3 .2l7-.2l18.1 0l10.8 .1l11.9-.5l1.2-1.5l8.9 1.8l3 .2l3.6-1.7l1.4 1.6l3.8-1.8l3 .2l11.2 1.4l3.6-1.7l4.9 .1l4.2 1.9l5.3 .1l1.6-1.8l6.7 2l.6-2.1l1.7 1.5l14.9 .2l5 .1l12.2-.5l4-1.6l30.4 1.9l7-.1l8 .3l51.3-.3l4.6-.1l5 .1l11.1-1.5l11.1-.2l5.6 1.9l4.1-1.6l4.5 1.8l14.4 .2l4.5-2.4l4-.1l2 2.4l13.3-.7l12.8-1.2l9.4 1.9l4.2-2.3l2.6 0l.3 1.8l39.4 .4l11.8 .1l-468.3 .6l5.3 2l24-.3l4.8 .3l6.7-2l35.1-.4l10.3 0l5.8 0l13.6 2l6.1-1.6l40.2-.2l1.5 2.1l4.9 0l16-.2l6.1-1.9l2.2 1.5l7.1 .3l7.6 .3l3.6-2.1l1.3 2.2l4.7-.5l5.4 .4l5-.2l6.4-1.7l19.4 1.3l15.4 .2l28.5 .2l.3-1.7l8.4 0l14.8-.3l10.9 .1l11.7 .3l7.3 1.2l22 .4l38.6 .3l8.1-.1l3.3-2.3l3.5 2.3l16.9-1.9l5.5-.3l1.2 1.6l12.5 0l2.8 .6l3.4-2l12.2 1.7l-475.6 2.8l15-.2l3.2-2.1l12.7 .4l4.5 1.3l25.2 .1l4.5-1.4l3.6 1.5l6.3-1.9l2.1 0l6 0l1.4 2l8.4-1.6l7.9-.2l7.1-.2l3.7 2.3l1.7-2l11 2.2l3.4-.1l12.6-.2l14.3 0l5.3 0l7.6 .1l4.2-1.8l2.4-.4l4.7 1.8l13.1-1.5l6.8 2l5.8-2l1.5 1.5l4.2-1.4l1.3 2l8.8-2.1l3.6 1.8l11-.1l16.5-.4l4.6-1.6l3.9 1.6l31 .6l6.5 0l55.9-2.1l21.3 2.3l22.7-.3l5.3-.1l5.6-.2l.9-1.9l10.5 0l12.8 .1l18.5 2.3l8.4-.5l4.4 .5l-480.2 2.6l10-.1l2.3 0l13.5-2.2l19 1.9l12.9 .4l6.8-2.1l12.1 2l19.1-2.3l8.7 2.3l2.2-.2l5.6 .2l8.3-2l11.5 1.4l66.1 .6l26.1-.3l17.3-.3l7.9 .4l64.2 .2l19.8-.5l8.4 0l3.3-1.7l22.9 .3l11.1 1.9l3.7-.2l4.9-.2l4.1 .1l26.3-.3l16.8 .2l6.4-1.5l7 1.8l3.2-2l13.4-.1l11.9 1.6l14.3 .5l-470 2.7l1.7-1.9l1 1.6l2 .2l10.1-.3l6.5-2l6.8 1.8l16.1 .4l5 .2l4.5-.5l3.4-1.6l3.6 1.9l16.9-2.1l1.6 2.4l25.4-.5l58-2l.3 2.4l9.2-2.2l1.7 2.1l4.2 0l2.2-1.8l16.5 1.7l10.5-.1l4.8-.2l2.9 .5l3.8-1.9l13 1.8l1.7-2.1l14.5 2l8.1-2.1l3 0l9 2.3l15.3-.2l15.4 0l5 0l3.5-2l10.4 .2l7-.3l0 2.1l15.8-2l1.3 1.5l6-1.4l26.2-.2l7 .3l1.7 1.9l11.4-1.9l6.2 1.8l12-2.2l24.7 1.7l1.6 .3l5.9 .5l19.2-2.2l-455.8 2.6l2.2 0l7.3 1.5l17.6 .6l2.1-.4l3.3-.3l7 .3l10.2-.1l4.7 .4l1.9-2l35.7 0l1.9 .1l4.2 1.4l2.6 .3l17.3 0l15.5 .3l6.5-2.4l22.2 2l28.5-1.8l2.1 1.9l8.6-1.8l23.8 1.5l28.8 .2l30.2 .1l20.5 .1l18.5 .1l5.3-2.3l9.9 2.1l13.3-2.1l14.1 2.4l4.6-2l7.3-.1l18.2 2l20.6 0l36.4 0l-470.5 2.5l9.3-.2l2.6 0l24 .3l9.2-.1l7.1-1.8l12.5-.5l4.6 .2l2.2 1.9l4.5 .1l22.3-2.2l7.4 .2l3.1 .3l1.8-.5l14.5 2l23.4-1.8l8.2 .2l10.4 0l2.9 1.8l5.1-2.1l8.2 2.3l7-2.4l16.2 2.4l5.7-2.4l8.3 .2l4.7-.2l6 1.9l2.6-1.8l.8 1.8l1-1.5l18.6 2l4.7-2l3.9 2l2.7-.1l25 .2l13.5-2.2l1.2 2.2l17.8-.2l3.6-.5l6.4-1.3l32.1-.2l22.6 1.4l9.9 .6l3.8-1.8l6.9 1.5l7.1 .5l4.1-2.4l36 .3l3.3 1.9l17.3-.3l5.4 .3l2-2l3.2 1.6l-496.6 1l3.9 1.5l3.3-1.7l.9 1.6l3.8-1.2l3.2-.1l18.3 1.9l2.1-2.3l31.4 1.8l13.1 .2l9.3-2l6.2 1.8l2.9-1.6l8.8 1.6l1.6-1.4l1.4 1.6l13.6-.2l.5-1.7l24.1 2.2l2.9-.2l5.6-.4l3.5-1.6l5.2 .3l5.8 1.7l49.8-1.7l30.7 0l.6 1.3l4.6-1.4l3.8 2.1l4.5-.3l30.2-1.7l32.1 .1l6.7 1.6l19-2l14.7 1.7l5 .5l21.6-2.1l15.8 .3l2.3-.5l3.6 1.9l11.4-1.9l16.6 2.1l2.4-.3l7.1-1.7l10.8 2.1l7.7-.4l12.2 0l8.5 .6l-487.6 .1l18.8 1.9l5.4 .1l6.8-1.8l17.5 .2l13.6 1.4l14 .5l10.5-2.3l4.3 2l38.4-.2l11.2-1.4l6.4 1.9l3-.1l12.7-.3l13.3-1.7l8.4-.1l2.8 .3l11.4 1.5l7.2 .5l7.8-.3l15.9-1.6l34.6 1.9l31.8-2.2l5.6 0l56.5 1.8l3 .3l7.6 .1l4.9 0l5.5-.3l15.4-.3l38.1 .1l3.4 .6l7.9-2.1l7.6-.4l14.4 2.4l6.1-2.2l3.4 .3l1.3 2l6-2.4l-486.7 2.5l2.5 2l2.6-.3l13.8-1.6l20.2-.1l2.5 .1l.6 2.3l28.5-.4l4.6-1.6l9 1.7l1.2-2.1l14.7 0l10.7 .1l4.1 .1l11.5 1.5l4.9 .5l3-.1l6.1-1.9l16-.1l11.8 0l4.4 2.2l5.3 0l10-.5l35.6-.1l11.3-1.3l3.6 1.3l6.8-1.4l6.8 1.6l11.8 .2l2.4-1.8l.7 1.9l3.4-.1l24-1.9l1.1 1.8l21.7-1.9l7.2-.1l11.3 2.4l15.6-.2l20.2 .1l22.3-2.1l5.7 1.7l8.5-.1l9.1 .3l32.8-1.8l14.2 .2l10.5-.2l3.2 .1l14.1 1.5l3.4-1.7l-482.5 4l14.1-1.3l7.3 1.8l2.3 .3l.8-2l8.6-.3l34.1 1.5l2.4 0l5.9-1.2l14.8 1.6l10.4-1.6l3.1-.3l4.1 1.5l29.2-1.3l4.4 .1l13.2-.4l12.2 2.4l11-2.3l7.2-.2l30.7 .1l2 2.1l2.9-1.8l3.7 .1l7.6 0l6.3 1.5l6.5-.2l6.1 .4l9-2l5.7 2.1l18 .2l2.2-.8l20.6 .4l3.8-2l19.4 1.8l18.6-1.9l7.3 2l6.9 .3l2.5 0l3.9-2.2l1.1 2.4l2.8-.5l6.5-2l5.1 .4l5.4-.3l9.4 2.2l9.1 0l5.5-.4l.9-1.7l6.4 2l3.5-.2l1-1.6l1.7-.4l4.3 1.9l36.8-1.8l4.3 1.9l8-.2l9.6 .5l-503.2 2.3l17.9 .2l.7-2.2l3.8 2.2l2-1.7l.2 1.3l13.9 .6l37.6-.7l28.7 .7l1.5-.6l10-1.5l5.1 1.5l9.7-1.8l2.5 0l13.3 .4l11.6 0l15.1 1.9l11.5-2l2.9 1.8l4.6-1.9l2.6-.1l8.2 2l9.3-2.1l58.9 .1l11.5 2l7.9-2l3.1 .4l7.6 0l14.2 1.6l7.5 .3l1.9-2l2-.2l21.8 2l14.6-.2l19 .1l32.9-.2l13.8-1.9l16.1 1.7l9.4-1.3l2.1-.1l21.5 2.1l6.1-.4l4.3-.3l15.5 .3l-495.3 .9l1.9 1.4l33.9-1.8l5 2.3l24.7-.5l22.3-1.3l5.6 1.8l12.5-1.9l3.9-.2l2.5 1.7l3.1-1.7l4.2 1.8l4.3 .4l2.2-1.9l1.3 1.3l22.1 .5l33.9 .1l7.7-.3l15.7-1.6l3.7 1.7l11.5-2.1l4.8 2.3l20-.7l13.6-1.2l2.2 1.8l22.2 .2l11.4-2.3l1.6 1.9l1.9-1.8l4.7-.3l3.5 2.2l7.8 0l8.5-2l2.7-.2l9.1 2l14.7-.2l11.4 .3l8.8-2.1l7.8 .4l26.6 1.8l5.4-2l18 .3l15.5-.3l18.2 .3l21.8 1.3l2.1 .2l13.5 .4l-508.5 .3l13.7 .3l17.9 .1l19 1.5l7.3-.1l4.2-1.7l25.3-.2l13.4 2l36.8-.1l2.6-1.8l16.2-.1l1 2.2l13.2 .2l5.7-2.3l26.1 .2l8.1 1.8l13.8-1.9l2.8 .2l5.3-.4l24.1 2.4l1.6-2l1.3 1.5l18.9-1.5l4.3 1.6l4.7-.2l8.2 .1l.8-1.6l17.1 2.1l2.3-.2l4.7-.2l20.2 .4l8.5-.6l2.4 .4l.6-2.2l10.6 .5l4 1.5l10.8-2l5.4 .3l7.6-.2l3 0l4.2 .1l12.7 1.7l4.8 .3l9.3-.3l20.4 .2l6.1-.3l6.6-1.5l14-.3l2.5 2l1.4-.3l26.4 0l-504.5 2.7l11 .2l5.4-1.9l9.8 2.2l15.8-.5l8.6-1.5l20.9 1.5l1.8-1.7l7.3 .1l9.7 1.8l14.9 .1l12.4-.3l3 .6l3.1-2.4l9.4 1.9l3.1 .4l7.8-2.2l17.4 2.2l21.8-2.2l13.6 2l12.6 .3l15.6-.7l16-1.7l24-.1l4.8 .4l2.8-.3l.1 2.4l2.6-.2l1.8-1.9l3.3-.2l.6 2.1l2.1 .1l2.7-.6l23.1 .5l3.3-2l12.4 2.1l11.5-2.4l1.1 2.2l4.5 .1l25.5-.2l17.9-.3l33 .2l14.1-1.5l23.8-.2l7.3-.2l14.8 2.4l6.3-.1l1.9-2.4l4.1 1.9l2.3 0l1.9 .2l3 .4l-495.4 2.4l6.5-2l15-.3l13.4 1.9l20.3 .3l7.4-2l2.3-.1l1.6 1.9l9-1.9l1.3 1.8l4-.1l9.5-1.4l3.4 1.6l4.3-1.7l11.2 1.5l10.1 0l14.9 .1l1.3-1.7l3.9 2.2l24.5-2.3l8.2 .4l.6 1.2l2.2 .3l62.1 .4l2-.6l8 .2l8.9-2l7.9 .5l4.8-.2l3.7 2.1l12.3-.1l9.1-2l10.2-.3l5.8 .5l5.5 1.6l20.5-.2l26.3 .3l43-.1l20.5 0l1.4-1.7l7.7 .1l4 1.5l2.7-.3l4.1 .4l12.3-1.7l4.1 0l7.5 1.9l7.7-.2l2.7-2l26.8 2.3l-520.3 2.2l25.1 0l8.5-2l5.4 .2l8.8 1.8l3.5-1.9l10.3 .3l12 1.3l8-1.3l3.4-.4l1.6 2.1l10.4-2l65.1 2.3l31.8-2.2l9.3 2.1l12-2.3l17.8 .1l15 .2l3.4 2l16.8-1.9l21.2 0l3.9 0l12.5 1.5l11.8 .1l6.5-2.1l22.6 2.5l16.4-2.1l13.7 1.4l13 .4l6.3-1.9l21.1 2l31.8-2.2l6.2 2l10.3-2l11.1 1.7l-472.3 .8l2.5 .2l34.3 1.9l17.1-2l1.6 1.7l7.5 .5l5.4-.1l7-.2l15.8-.1l4.8 .4l15.2-.6l9.5-1.3l17.8 2l26.4-.7l1.1-1.5l.8 2.2l6.2-1.9l2.4 1.4l10.8-1.5l10.9 .1l6.7-.1l24.9 2l4.2-2.1l.6 1.6l1.6-1.4l6 1.4l10.2-.1l6.9-1.7l3.3 1.8l12-1.6l.4 2l11.9-2.2l18.5 .1l13.4 2l4.6-.1l12.6-1.8l19.1-.2l23.8 .1l1.3 1.7l22.1 .4l17.8-2.3l5.6 1.7l17.4 .5l2.1-2.2l25.1 .1l5.9 1.8l45.4-1.4l-522.1 2.2l4.8 1.9l.6-1.8l16.2 1.5l19.8-1.7l22.3 2.3l3-2.2l11.4 2.1l3.8-1.8l37.4 1.6l3.1-1.8l23.6-.3l1.2 1.8l4.1-1.3l5.8 1.3l27.7 .1l11.5-1.7l11.8 1.9l12-1.7l1.7 1.5l1.4 .3l6 .1l5-.5l1.9 .5l32.8 .2l8.8-.8l3.3-1.4l1.5 2.2l10.3-.1l.8-1.9l1.8 1.9l4.7-.7l7.3 .3l1.4-1.6l30.2 1.8l40.2-.2l11.3-1.8l4.6 1.7l1.7-.1l2.2-1.7l2.9 2.1l34-1.8l15.8-.4l1.8 2.2l18.7-1.9l7.8-.3l3.4 2l21.9-1.7l-500.2 4.5l39.2-.2l13.3-2l1.7 2l5.7 .1l.3-1.9l3.5-.1l2.3-.1l17.6 .3l6.5 1.4l1.2-1.6l11.6 1.6l2.3 .3l1.4-1.8l13.2 1.5l3.8 .5l12.7-1.9l15.3 1.8l19.1 .1l6.5-.2l4.3 .3l1.3-1.9l1.6 1.6l.6-1.6l5.4-.3l22.5 2.2l17.1-.1l27.3-2l.4 1.6l4.3-1.8l9.1 2l20.1-.2l3.1 .6l5.8-2l.7 1.3l33.3 .5l2.4-2l26.8-.1l15 1.8l2.6 0l2.2 .3l1.9 .1l71.1-2.1l8.4 1.8l17.4 .2l18-.1l6.1 .1l2.5-.2l-513.8 3l16.5-2.5l45.2 .1l13.7 2.4l5.4-.3l1.7-1.7l16.7 1.6l3-1.8l9.5 2.1l31.4-2.1l29 0l8.1 1.6l11.6-1.8l6.9 2.3l20.7-2.4l2.5 .1l7.3 2.4l.7-2.5l11.4 2.3l4.8 .2l2.3-2.5l18 .4l4.9-.1l3.9 1.6l3.2-1.8l1 1.8l11.3-1.9l11.8 2.2l3 .3l3.7-2l27.6-.4l8.8 1.9l21.5 .4l2-.7l15.8 .2l17.5 .2l13.6-1.9l5.5-.2l26.1 .5l0 1.7l5.5 .2l7.4-.2l8.2 0l3.1-2.2l1.3 1.9l15.8 .3l3.3 .1l19.8-.4l-496 2.4l10 .3l7.8-.1l13.4-1.8l7.5 2.2l.2-2.2l8.9 .4l7.4-.5l13.7 1.7l15.9-1.3l2 1.4l16.7-1.4l1.3 1.6l13.9-1.8l3.2 1.9l21.9-1.9l10.5 .1l13.5 1.5l9.7-1.3l1.4 1.6l5.4 .3l3.5-2l.4 1.5l7-1.7l1.3 1.5l3.5-1.4l1.3 1.7l4.5-2l3.7 2.4l9-2.4l18.9 2.2l6.8 .1l8.1-.3l3.7-1.9l9.1 2.2l7-2.1l8.4 2.1l7-.3l5-1.9l.3 1.9l8.6-.2l8.8-1.8l12.4 .4l36.1-.1l1.9 .1l20.1 1.6l13.8-1.8l18-.1l7.7 1.6l9-1.6l22.5 2.2l2-.2l.9-2l4.7 1.7l18.2 .1l11.4-.1l-510.5 2.8l1.8-.3l4.1-1.4l12.6 1.5l10.5-1.7l34 0l4.8 .2l39.2 2l3.1-.3l3.4-1.9l2.1-.2l2.3 2.3l35.7-.4l.8-1.4l17-.4l25.8 .2l29.4 1.7l15.1 0l7.2-1.7l5.4 .2l1.3 1.4l2.2 0l2.2 .6l3.4-2.5l15.2 .2l55.9 1.8l.7-1.8l1.6 2l6.5-1.9l2.2-.1l2.2 0l14.4 1.8l22.1-1.7l4.1 .2l6.6 1.3l19.1-1.3l16.5 1.5l10.8 .2l4.5-.5l2.2-1.3l1.2 1.8l2.4 .1l1-2.1l7.9 0l17 0l4.3 1.7l21.2 .3l31.5-2.2l-537.8 4.7l4.7-.3l12 .5l12.9-.1l1.4-2.1l28.9 .1l.4 1.7l3.1 .5l2.1-.5l22.6-1.6l2 .2l8.3 1.2l5.6 .2l8.3-.2l5 .6l5.4-2.1l2.9-.2l2.3 0l1.4 1.7l5.4 0l7.7 .6l11-2l8.1 .1l5.5 .1l19.6-.3l22.8 .1l7.5-.2l2.2 1.9l15.1-.3l4.4 .4l8.3-.1l2.4 .1l1.5-2.1l20.6 .5l20.9 1.8l3.5 .1l3.5-2l1 1.5l15 .2l15.4-.2l19-1.5l8.6-.4l8.3 2.1l21-2.1l9.1 1.9l11.9-1.7l8.5 1.7l23.5 .1l5.7-.3l27 .3l3.4 .3l3.6-2l21.1 2.1l7.9-.6l-496.5 .8l19.4 .3l7.8 .1l2.8-.4l18.7 2.4l24.5-2.3l1.2 1.8l1.7-1.7l6.4 2.1l7.9-.4l4.4-.1l4.8 .2l12.6-2.1l6.3 1.9l.8-1.8l1.6 1.7l14.4 .1l7.5 .2l4.8-2l5.3 .1l28.8 2.3l5.5-.5l1.1-1.6l11.8 1.5l9 .3l23.4-.3l8.9-1.5l6.9 1.6l16.6-1.5l1.5 1.7l27.5-.2l12.1-1.8l8.4 1.6l7.7 .6l11.4-2.3l5 0l16.5 2.3l13.6-1.9l6.3 1.6l6.2-.2l11.4-1.5l7.8 1.4l11.6-1.3l12.9-.1l6.4 1.7l6.1 .2l7.1 .2l15.6-.7l12 .5l9.3-2l30 2.2l.1-2.1l7.7-.3l9.3 2.1l-544.5 2.7l32.8 .1l14.5-1.9l6.6 1.2l27.1-1.3l6.4 1.4l1.2-1.6l38.9 1.9l4.1-2l6.2 2.1l22.4 .1l27.9-2.1l9 1.5l3.5-1.2l23.5 1.4l9.6-1.6l5 0l11.2 1.7l8.1 .4l9.7-.2l30.2-2l7.7 0l8.8 2.1l4.7 0l2.3-.6l23.4 .7l1.2-2.1l11.5 1.9l.8-1.8l20.3-.1l13.9 1.8l12.2-1.9l24 1.5l8.1 .6l20.7-2.2l9.6 1.7l4.6 .3l18.1 0l8.1-.1l1.8 0l2.7-.3l12.5 .5l3.6-.4l-455.5 2.5l29.4-1.7l.3 2.1l19.5-2.2l4.4 2.2l9.2 0l3.8 .3l1.8-.1l.8-1.9l50.3 1.8l7.7 .1l4.4-2.2l4.1 .1l12.4 2.1l9.1-.3l3.7-.3l20.4 .2l10 .4l11.9-.1l3.3-.2l6.8 .4l6.2-.5l1.2-1.7l2.9 2l29.5-2.1l11.6 2.3l4.6 0l11.2-.2l14.7 0l56.5 .2l33.7-.3l2.5 0l1-1.7l9.6-.1l3 .1l3.2 1.4l2-1.7l56.4 .1l-499.7 2.7l2.1 1.9l6-2.2l8.5 2l4.4-1.9l25.2-.2l1 1.8l36.1 .4l5.1 0l4.7 .1l4.4-1.9l6.6 1.9l4.1-.4l5.9-.2l12.5 .1l5.7 0l10 .2l10.6-1.7l6.8 1.9l5.7 .1l16.5-2l5-.2l13.5 1.9l1.9-1.6l5.8 1.9l.9-2l3.9 2.1l38.7 0l6.3-2.3l7.3 .1l8.9-.1l5.1 1.7l7.8 .3l2.7 .3l10-.4l27.2-2l35.5 .4l19.2 1.3l18.2 .7l20.5-.6l5.3 .1l10.4-1.5l1.5 1.9l16.5-2.2l3.3 0l13.1 .3l2.4 .1l15.6 1.9l2.1-2.3l21.9 .1l-522.4 4.2l3.9-1.6l3.7 2.1l6.1-2.2l16.5 .2l11.4 2l12.8-.2l7.6 .3l6.9-.3l52.6-2.2l10.9 2.2l3-.1l23.8-1.9l2.5 2l63-.3l11.5-1.6l1.1 1.5l9.8-1.8l7.3 .2l1.6 1.9l20.8-1.9l7.4 .3l2.2 1.9l5.7-2.3l35.3 1.9l7.4 .1l6.6-1.6l6.3 1.3l8-1.3l5-.3l17.6 2l2.5-.1l22.6 .2l38.7-.6l4.8 .6l23.7-1.8l1.9 1.3l1.5 .2l7.1-1.6l19.5 2.1l9.6-.2l3.3-2l16.3-.2l-542.1 2.9l8.3 1.9l8.8-2l6.1 .2l3.1 1.5l4.6-2l19.7 .2l1.2 2l8.5-.1l7.5-.1l12.1-.2l11.9-1.4l3.5 2l8.7-1.9l1.8 1.6l1.8 .2l5.2-.6l2.8 0l2.4 .4l6-.4l.7-1.3l11.3 1.3l6.7-1.3l41.5 0l7.9 1.5l10.9-.1l6.5-1.5l8.7 1.5l13.1-1.4l7.8-.1l4.1 1.5l10.3 .2l15.7-.2l36.5-1.6l8.5 1.6l4.9-1.4l3 1.4l4.8 .4l38.3 .2l7.6-.1l4.1-2.3l5.5 .3l10.8 2.1l15.7-.3l3.4-2.1l11.7 2.2l5.7-.1l6.1-1.9l4.8 .1l2.9-.1l13.8 1.7l4.2-1.9l2 0l3 .2l10.5-.1l8.8 2.2l3.3-1.9l8.7 1.7l5.1-2.1l8.1 2l10.5 .4l-509.9 .1l5.5 0l19 2.5l.6-2.3l3.9 1.7l3-.1l20.8-1.5l6.8 1.5l3.7-1.5l8.7 1.7l27.5-1.9l5.8 1.7l12.2-1.3l2.6-.1l5.7 2l12.3-2.4l3.8 1.9l13.3-1.6l.9 2.2l12.3-2.1l49.3 1.9l2.9 0l2-.1l5.7 0l4.4 .1l3.6 .1l22.9-.5l25.8-1.8l12.2 1.8l24.4-1.6l1.4-.3l10.1 1.9l3.2-1.4l7 1.9l9.3 .1l6.6-2.2l14.4 2.2l19.2-2.2l8.2 1.9l12.8 .3l35.8-.2l6.7-2.1l4.6 .1l5.1 .2l27.7 2l23-.4l-520.1 .7l.4 1.8l14.5-1.9l1.7 .4l2 1.8l9.9-.1l8-.1l10.6 .1l3.4-1.9l7.9-.1l5.6 1.8l9-1.9l1.6 2.2l27.3-1.9l4.5-.1l24.7 1.5l10 .4l8 .1l36.3-2l9.2 1.6l.6-1.6l20.5 .2l7.4 1.7l18.3-2l21.6 2l19.9-2l12.2 0l2.6 0l4.1 2.1l14.3-2.1l15.4 2l7.3-1.9l4.6-.1l14.7 1.8l61.6-1.9l2.6 .3l17 1.5l1.6-1.5l6 1.4l10.9-1.7l2.4 1.8l1.7 .3l4.3-2.2l6.5 2l2.1-.2l26.9-1.8l4.2 2.2l20.9-2l-528.1 2.4l.5 2.2l10.5-.2l13.2 .1l6.8-.1l2.6 .1l38.2-.1l20.3-.1l13.8-.2l2.7-1.8l2.7 .3l1.4 1.8l2.1-1.6l1.5-.5l5.7 .3l7.8 .1l4.1-.2l7.7 2l10.2-2.1l7.6 1.9l3.6-1.7l6.3 1.5l17.4 .5l29.3-1.8l8.8 1.5l19.1-1.9l13.1 .4l13.7 1.8l35.3 .1l3.8-.5l1.2-1.9l3 1.8l2.2-1.6l35-.2l5.3 .5l11.5 1.2l4.9 .1l3.1 .4l29.5-2l7.9 2l19.1-1.8l8.9 1.3l8.9-1.3l2 1.5l1.7-.1l6.3 .2l8-1.7l6.1 1.6l3.5 .1l2.5 .3l5.5-2.1l2.8 .1l22.6 1.5l3.2-1.3l1 1.5l1.4-1.7l1 1.9l-525.4 .6l11.3 .1l4.1 0l5.2 .1l29.4 2l11.1-2.3l1.8 2.2l3.1-.4l18.6-1.7l6.3 1.6l18.3 .5l16.4-1.8l1.5 1.4l1.4-1.4l17.1-.4l13.6 .4l7.7 1.2l1.4-1.6l29.6 1.8l5.8-.2l.3-1.7l10.8 0l2.9 0l11.7 .3l4.8 1.4l2.3 .4l1.6-1.7l7.5 0l6.5 1.9l1.1-2l28.4 1.7l4.2-1.9l1.9 2.3l10-.1l7.9-.1l1.6-1.8l38.2 1.8l2.6-2.1l2.8 2.2l7.5-.5l2.2-1.4l23.2 1.4l4.6-1.5l21.2 2.1l13.4-.6l16.7-1.8l5.8 2l13.4-.3l36.6-1.7l.4 2.1l28.7 .1l5.5-.5l-522.5 3l11.7-1.8l13.2-.3l7.1 0l1.4 2.4l5.2-.3l11.1-.4l27.9 .1l8.9-1.7l7.2 .2l16.2 1.9l5.7 .2l2.6-.2l14.6-.4l7.3-1.4l2.9 1.6l4.9-1.9l.1 1.9l4.4-2.1l9.8 .3l7.6 .1l3.2-.2l2.9-.1l0 1.8l16.4 .4l4.4 .1l4.6-2.2l6.8-.1l4 1.6l1.5-1.6l16.5 1.8l7.2 0l4.4-1.9l7 0l5.3 0l16.4 2.4l36.7-.2l8.3-1.7l1.5 1.9l11.7-2.2l19.5 .2l15.3 .1l1.7 1.4l9.7-1.5l3.9 0l3.8 1.4l3.8 .1l1.7-.2l5.4 .1l5.1 .6l18.9-2.2l3.4 2l16-.1l3.4-1.7l2.5-.4l11.3 2.4l6.2 0l.2-2.3l2.2 2.4l7.4-.1l9-2l8-.4l10.2 .1l1.4 .3l6.4 0l4.5-.3l3.5 2.3l8.1-.3l-528.9 2.7l24.5-.2l3.4 .4l2.4-.4l15.5-.2l5 .5l.5-2.2l15.1 2l3.1-2l12.2 1.6l9 .2l4.1-1.5l6.6 2l6.4-2.1l1.5 2l7.7-.2l1.7-.2l2.6-1.9l13.9 2.4l9.5 0l2.8-.7l9.5 .3l13.9-.2l33.2 .2l10-.3l3.7-1.7l14.1 1.7l4.8 .4l4.4-1.9l12.7-.1l.7 1.8l6.2-1.5l40.5-.1l4 1.9l8.6-.1l14.8 .3l8.2-2.2l46.1 .1l27.8 1.8l2.8-1.9l1.1 1.8l4.3-1.6l16.4 1.6l50.6 .4l2.9-.3l2.2-2l2.2 0l13.4 2.3l13.2-.3l2.7 .3l6.9-.5l-527.1 .6l10.9 2.1l15.9 .2l18.3-.4l5.9-1.5l2.6-.1l40 .2l9.4 1.8l28.7 0l16.3-1.9l13.1 1.5l12.2-1.9l3.9 1.9l4.9 0l2.2 .6l4.7-2.5l19.3 2.5l10.6-2.4l3.1 0l3.3 1.7l2.2 .5l4.6-2.1l4.1-.2l8.3 .1l2.8-.1l6 2.5l11-.7l8.9 0l1.8-1.7l3.5 1.9l15.8 0l3.2-1.6l9.8 2.1l5.4-.8l3.9-1.6l2.6 1.7l9.9-1.4l23.1 0l12.1-.1l15.1 .2l4.3 1.6l7.7 0l3.5-1.6l62 0l4-.1l1.3 1.9l1.1-2.2l7.1 1.7l33.5 0l8.4-1.6l8.7 2.1l1.1-2.3l7.6 .4l-522.1 4.3l2-.3l8 .3l1.3-1.9l17 1.9l3.9-2.1l3.9 1.8l42.3 .6l3.4-.1l2.2 .1l.8-2.3l2.1 1.8l5.6-1.7l5.1-.1l8.7 .2l18 1.7l4.9 .3l3.9 0l2.2 .1l2.6-.5l9.4 .2l15.4 0l28-.1l3.6 0l5.1 .1l15.6-1.8l16.1-.3l1.1 2.3l28.1-.6l2.5 .7l15-.3l10.1 .2l20.9 0l2.2 .1l20.5-.3l2.5-.4l41.1 .1l33.9-1.5l29.9 1.4l18.9-1.2l11.2 1.3l16-1.8l5.1 2.2l22.7 .1l3.3-2.2l-532.6 4.2l22.7 .4l1.5-2.2l.9 2.5l5.9-.2l5.1-.4l2.6 .6l27.6-.8l14.9 .6l12.2-.1l15.1-2l3.8 2.1l3.9-2l3.5 1.9l9.5-.1l9.8-1.9l.5 1.8l6.2 .5l14.7-.3l13.9-2.1l15.9 .4l2.8 1.7l26.6 .3l6.5-.3l8-.4l18.9-1.7l9.3 2.3l9.8-.5l1.4-1.8l10.2 .1l6.1-.1l8 2.3l30.4-.2l8.4-.5l12.9 .5l8.3-2.1l34 2l23.2 .2l1.1-2.2l2.3 2.1l1.5 0l2.5 .3l25.6-.4l7.6 .4l13.5-.1l10.5-.5l7.1-.1l8.4 .1l14.5 .5l14.1-2.4l6.9 1.9l5 .1l.9-2l-532.3 4.7l1.3 .1l10.2-1.9l13.8 2l7.6-.3l1.6 .2l7.5-2l44.7 1.5l2.2 0l5.5-1.4l5.4-.3l2 1.7l3.1-1.5l2.1 1.6l25.1 .3l7.5 .3l3.3-.7l12.4 .7l11-2.1l5.7 0l22.2 0l1.4 1.6l4.7 .4l4.5-1.9l4.9 0l2.9-.1l10.6 1.4l2.7 .2l2-1.8l10.7 1.7l25.9 .3l1-1.8l2 1.5l1.9-.1l19.8-1.4l19.4 2l19.2-.1l1.9-2.1l.7 2l11.9-1.8l12.1 2l22.6-.4l30.9 .3l12.9-.2l1.3-.3l9.2-1.6l6.9 1.7l18.1 .2l14.3-.2l13.1 .6l2.3 0l21.6-2.4l8.8 2.3l7.6-.2l6.4 .2l-533.4 .4l10.7 1.7l1.5-1.7l18.9 1.9l5.8 .3l14.4-2.4l7.8 .1l5.9 1.8l28.9-1.9l4.1 2.5l8.6-2.2l6.8 1.5l5.5 0l2.5 .5l5.7-2.1l11.1 .1l9.3 .2l2.3 0l9.9 1.7l1-1.8l7.5-.3l18.4 2.2l28.7-.5l58.7 .6l42.9 .1l3.1-.4l1.9 .4l6.5-2.3l7.6 .3l23.8-.1l12.9 .1l14.2-.4l33.1 .2l7.2 1.8l2.6-.1l6.4-1.8l1.4 2l4.8 0l27-1.9l21.1 1.7l21.1 .1l11.7 .4l2.7-.4l8.3 .3l1.3-2l-544.8 2.3l2.7-.1l26.4 1.8l8.6-1.7l10.6-.1l5.3 0l16.7 1.7l7.7 .2l23.2-.1l7.4 .6l16.9-1.9l.2 1.8l13.3 .1l4.1-2.1l3 1.7l1.8-1.6l2.9-.3l.4 2l23 .1l16.8-1.8l4.3 1.9l11.9-2.1l30.7 1.5l4.2-1.6l47.4 2.2l9.8-.6l33 0l44.5 .7l13.4-2l34.7 1.5l2.9-1.5l41.5-.2l2.3 .3l12.1 1.8l4.7-.4l4.2-1.6l20.1 .2l31.3 1.5l5.1 .2l-545.7 .6l15.7 .1l7.1-.1l6.4 0l10.3 1.9l9.4-1.7l19.2 1.8l9.2-2.1l9.2 2.1l2.9-2.3l18.8 .2l31.1 2.1l1.2-2l12.5-.2l16.6 2.2l4.9-2.1l1.3 2.2l2.6-2.2l26.2 .1l6.3 1.6l11.4-1.6l5 .1l1.5 1.5l26.6-1.6l16-.3l1.1 2.3l3.8-2l12.1-.3l16.9 1.9l14.3-1.6l9 1.6l88.7 .5l4.9-.1l17.5-.5l2.5-1.6l.3 1.7l10-1.7l21.5 2.1l20.6-.4l3-1.7l21.3 0l3.8 0l6.6 1.8l-507.4 .6l1.3 1.8l8.3-.1l26.9-1.4l11.1 1.7l11.7-1.7l15.2-.2l6.4 1.8l13.1-1.9l13.2 .5l30.9-.1l11.7 1.8l2.9-.3l3.3-1.9l6.4 2.1l3-2l4.7 2l7.8 .1l2.8 .2l4.6-.1l24.6-2l7.6-.3l3.8 1.7l7.7 0l14.3 .1l1.4-1.7l22.5 2.2l1.6-.4l6.6-1.7l14.4 1.6l41.8-1.5l7.6 .2l5.7-.3l1.4 2.1l44.8-2.3l8.4 1.8l2.3 .4l2.1-1.7l3.8 1.9l1.6 0l1.9-1.9l28.2-.1l4.7-.1l.6 1.6l2.3-1.5l12.3-.4l8.9 1.7l41 .3l3.7-1.9l13.5 1.6l-545.3 1.3l29.1 2l6.4-2.2l10.1 .1l18.9 2.1l31.5 0l18-.3l2-.2l15.1-.3l1.5-1.2l3.6 1.4l21.3 0l8.8-1.4l19.8-.5l15.3 0l12 2l27.7-.3l2.4 .7l11.1-2l21.2-.1l6.4 2.2l16.2-2.3l5.7-.2l9 .4l11.9 1.3l2.1-1.4l12.1 0l63.2 0l20.4 .1l7.9-.4l10 .4l10.6-.4l1.9 2.1l18.9-2l7-.1l4 1.8l2.5 .2l23.4 .4l4.2-.4l8.1 .4l23 0l-528.5 2l11-1.5l8.3-.3l3.7 2.2l11.6-1.7l.1 1.3l17.4-1.3l33.5 1.5l11.2-.2l25.8-1.8l7.8 .5l16.2-.2l11.7 1.5l23.8-1.6l10.2 .2l14.5 1.6l90.8-.3l10.3 .5l7.7 0l37.4-1.8l30.8-.3l11.7 0l14.7 1.9l25.8-.3l15.4 .7l7.8-.1l3.8-2l12.8 1.9l5.6-.4l17.7 .6l17.5-.1l-522.8 2.3l10 0l1.9-.1l50.2-1.5l12.3-.4l2.7 .2l2.7-.3l13.7 2.4l3.1-.3l9-1.6l3 1.8l6.1-.2l16.4-1.7l5-.1l2.3-.2l18 0l6.6 1.6l4.2 .6l8.5 0l10.9-2.1l10.4 .2l3.9 1.6l2.5 .2l4-1.8l7.3-.3l10.2 .3l15.7 0l4.2-.4l7.8 .4l4.8 1.3l20.5 .2l18.4-1.7l1.6 2l1.5-2l11.7 1.7l11.8 0l21.4 .6l17.9-.3l1.9-.1l14.5-1.6l32.8-.5l.7 2l6.9-1.7l13.6 2.1l2.7-.3l54.6-1.6l-488.4 2.1l6.2 2.2l13.5-.2l14.3-1.6l2.8 1.6l9.6-1.9l16.5 1.8l13 .5l2.8-.3l3.1-2l7.8 0l4.5 2.2l4.6 .1l13.3-.4l2.8-1.6l27.7 1.7l11.8 .3l5.5 0l3.5-2.1l1.2 1.4l2.6 .2l5.7-.1l1.9 .3l8.4-.2l50-1.7l3 1.8l26.3-2l9.7 2.2l32.2-1.7l22.9-.3l5.4 1.8l6.3-1.5l.1 1.8l6.5-.4l3.7-1.7l11.7 1.9l26.1 .3l14.6 0l26.2 0l5.2 0l12.5-.2l10-.2l7.6 .4l29.5-2.2l8.4 1.9l-454.7 2.3l13.5 .6l26.9-.3l1.5-2l6.6 2.1l4.6-.5l15.2-1.4l18.2 1.4l18.5 .1l1.4-1.8l11.2 1.9l14.5 .3l8.5 .1l4.3-.4l18.9-1.9l35.6 2.1l.4-1.8l4.9 1.9l28.4-2.2l4.4 1.8l27.1 .5l15.1-2.2l9.6 .3l28.6-.2l6.8 .2l1.9 1.2l1.5-1.6l16 1.9l3.4-1.9l11.7 1.8l5.4 0l7.7-.1l3 .5l3-1.8l14.9 1.2l8.8-1.3l1.6 1.7l5 .4l2-.7l28 .1l.7-1.4l29.4 2l14-2.5l-533.1 2.9l47.9-.1l6.2 1.8l19.1-1.8l10.3 .2l16.9 1.9l5.5-2.3l3.1 .4l9.7-.3l24-.1l1.1 1.9l3-1.6l6.4 1.4l41.3 .3l12.7 .2l5.9-2.1l13.1 .2l42.9-.1l9.1 2.2l20.6-.4l4-1.5l33.2-.4l24.4 1.8l2.4-.2l22.8 .6l10.9-.3l4.1 .1l4.7-2l13.8 2l10.2 .2l6.1-1.8l20.4-.3l25.3-.1l10.5-.1l1.9 0l5.9 .4l5.4 0l.4 1.3l19.2-1.3l-496.2 2.3l7.6 .2l2 2l2.8-.1l6.9-.1l4.8-2.2l10.4 2.4l3.6-.5l11.1-1.5l19 1.9l4.9 0l3.3-.2l4.9 0l11.4-2.1l.5 2.4l12.9 .1l8.4-.7l7.1 .1l6.8-1.5l5.4-.1l5.7 2.2l2.2-.5l5.1 .4l2.4-.5l4-1.5l3.6 1.8l5.9-.3l125.2 .1l17.1-.1l10.9 0l1.7-.1l3.4 .5l9.4 0l5.7-.2l3.2-1.6l6.3 1.8l19.2-1.9l42.9 1.6l9.6 0l1.5-2l4.9 .3l14.7 2.2l4.5-.5l18.9-1.6l1.4 1.6l9.6-1.7l-488.5 2.4l3.1 2.1l66.5-.4l30.7 .3l7.9-.1l15.7-.1l23.7-1.9l.7 2l3.3 .4l15.8-2.4l26.3 0l3.5 2l18.8-1.6l47.5 1.8l30-2.2l20.2 .4l2.1-.3l.9 1.7l6.3-1.6l9.1 2.1l13.5-.4l14.8 .3l27.6-2.2l1 1.7l10 .2l4.6 0l20 .2l13.8-.4l9.6 .7l13.3-.4l6.3-1.8l10.4 .2l4.7-.2l19.7 1.5l-499.1 3l5.1-.1l4.9-.3l21.7-1.8l3.3 2l12-1.9l34.2 1.8l19.6-1.9l8.2 2.4l9.4-1.9l8.7 2l9.5-2.3l7.1-.1l1.7 2l1.8-.1l10.6 .1l17.5 .4l8.9-.6l5.8-1.6l2.4-.2l34.3 2.2l75-2.1l4.9-.1l4.1 2.3l2.9-.3l12.7-.2l.7-1.4l2.3 2l41.5-2.2l14.2 1.8l14.7-1.9l13.3 2.2l.6-2l28.3-.4l10.1 1.8l2.3 .1l4.2 .4l48.8-.2l-505.9 2.2l46 .2l24.8 .4l6.1-.5l10.9-1.7l2.9 .2l3.3 2l8.1-.2l15.4-.2l1-1.9l6 1.8l18.6 .6l10.1-.6l7.2 .2l23.3-.1l.9-1.8l3.9 1.6l4.6 .7l8.3-.6l37.6 .4l13.9-.4l20.4-1.3l14.4 1.3l14-1.4l12.9 0l9.3 1.3l7.1 .6l16.4-1.9l31.8 1.3l8.6 .2l1.4-1.6l7.6 .1l2.9 1.4l4.9-1.6l8.8 2l11-2l8.2 0l23.1 1.7l9.4-1.8l2.6 0l5.5-.1l7.8 0l-479.3 4.8l7.6-.2l12.9-.2l8.5-1.6l5.2-.2l2.7 .4l12.6-.3l11.1 2.3l7.2 0l20.8-.1l19.1-2.3l3.3 2.2l9.7-1.8l5.9 1.5l2.8 .5l1.6-2.1l3.3 1.3l2.2 .2l7.7-.1l40-1.3l1.2 1.7l3.5-2l19.9 1.8l4.6 .3l20.9 0l5.1-.4l5.1 .2l13.3-1.8l10.8 .1l14.7-.4l7.3 2.4l17.8-.4l12.1-.3l4.7 .5l8.9-.2l4.8 .3l1.5-.4l5.1 .5l12.5-1.9l18.5 1.8l2.7-.1l4.8 .3l5.6-.3l1.7-2.2l5.9 1.7l41.6-1.3l5.7 .1l8.7 1.6l-435.1 2.5l11.6-1.8l42.4 2.1l10.3-.4l2.8 .4l19.3-2.3l16.9 0l2.6 .4l17.2 1.6l35.2 0l8.3-.3l2.6 .5l6.4-1.9l1.2 1.9l11-2.1l9.1 2.2l34.5-2.3l5.7 2.4l31.7-.3l5.9-2l8.1 1.8l8 .3l3 0l2.6-.2l1-1.5l7 1.6l1.3-2l7.7 .2l9 1.6l4.7 .4l12.2-.3l3.5 .3l17.7 0l4 .1l2.7 0l6.2-.7l4.6 .1l10 .1l29.8-1.6l21.9 1.8l10.2-.4l-457.3 1l5.1 0l9.6 2l11.6-1.8l12.3 .1l24.7-.5l10.2 2.3l38.3 .1l4.6-.6l36.9-1.3l43.7 0l5.2-.4l9.2 .4l20.9-.4l65.2 2.3l16.9-2.1l15.6 1.9l5 0l33.1-.1l31.1-.3l58.7 .4l4.5-.2l-451.6 2.3l4.8 .2l10.7-1.6l3.6-.3l36 2.4l10.2-.2l2.2-2.1l1.2 2.1l1.8-.3l31.4 .3l2.2-.5l31.2-1.5l17.1 2.1l7.2-.5l7.8 0l7.6 .2l4.7-1.9l20.3 .1l5.8 1.9l7.9-.3l2.3 .1l29.4-1.7l34.7 1.7l7.8-.1l17-1.6l6.2 2.2l22.5-.4l1.9-1.9l9 2.3l7.9-2.2l4.6 2.2l9.1-.4l1.6-2l13.9 2.4l6.2-.1l2.7-2l17.4 1.4l-435.1 2.8l8 .3l1.6-2.1l49.3 2.2l4-2.2l23.7 2.1l2.7-.2l21.8-1.8l3.1 1.9l7.7-.4l20.7 .2l2.1 .1l40.4-2.1l59.8 2.5l11.2-2.2l4.3 2.1l5.8-2.2l3.8 2l12.4-.5l2.5 .1l7.7 .7l9-2.5l16.5 2l5.9 .1l6.9 .4l23.3 0l2.2-2.3l11 2.3l8-.5l.3-1.5l3.7 1.5l19-.1l9.7 .6l13.4-2l20.2 1.2l22.7 .8l6.1-2.5l-427.5 3l3.3-.1l28.8 2.1l19.4-2l3.1 0l18.8 1.7l4.3 .1l2.4-.1l7.9 0l33.7 0l1.7-1.6l3 1.4l14-1.4l8.7 1.9l2.5-.4l2.4 .1l34.5 .2l19.3-.5l2.3 .2l26.8-1.7l4.7 1.4l3-1.4l10.1 1.9l5.8-1.8l7.7-.3l1.3 2.3l4.8-.4l13.1 0l8.8-2l14 2.4l5-.2l10.9-1.8l22.6 1.6l3.5-1.9l14.2 1.7l1.8-1.4l4 0l25.3 2l27.6-.2l.6-1.9l-412.4 4.3l6.5-2.1l16.2 2.1l11.1-1.9l44.4 0l.7 1.6l12.1 .6l20.3-2.3l7.1 .2l9.8-.3l4.3 1.8l7.1 .1l28.7 .1l5 0l17.4 0l10.7-.2l2.2 .4l22.3-1.7l5.1-.3l42 1.7l5.9-1.8l4.7 .1l61.4 0l6.2 1.8l8.5-.3l31.4-1.6l3.3 2.4l7-2.4l3.3 .2l-454.4 4.2l6.2-1.5l11.8 1.8l11-2.1l39 2.3l3-.5l37.8 .2l36-.1l3.8-1.5l4.5 1.4l2.9-.2l1.7 .1l14.8 .2l2-1.5l9.5 1.6l2.2 .1l4.2-.2l4.4-1.9l13.7 1.9l7-1.9l3.1 1.8l53.4-1.6l1.7 0l7.3-.2l4.8 2.2l9-2l25.6-.3l3.8 0l5.4 .1l38 .2l21.7 1.6l7.6-.2l14.6-1.3l6.2 1.5l15.6-.1l6.3-1.6l9 1.6l1.6-1.8l23.8 1.8l-400.9 2.9l10.4-2.2l19.4 1.9l18.4 .5l22.5-.5l21.7-1.9l19.4 2l21.8-2l23.4 1.9l11.3 0l1.6 .2l17.9-.3l4.5-1.8l17.7 .1l9.3 1.9l15.2-.2l1-1.6l20 .2l8.9 1.9l5.8-.4l12.7 .2l1.7-.3l41.8-1.4l1.9 1.7l1.3-1.9l1.9 .1l5.7-.2l11.3 2.4l10.2-.7l2.7 0l.7-1.5l26.9 1.5l-421.4 3.1l63.7-.2l3.2-1.8l16.8 1.6l21.1 .3l4.5 .2l7.1-2l16.7-.4l2.6 .1l27.8 2l10 .1l1.3-2.1l8.2 2.3l15.3-.2l5.1 .2l6.9-2.3l6.6 1.7l9.5 .6l25.3-.4l13.4-.1l10.8-1.9l12.8 1.9l7.3 .2l13.3-1.7l3.1-.1l17.1-.3l13.7 .3l7.9 .2l6.3 1.9l12.8-2l19.1 1.3l17.7-1.7l4.8 0l7.6 .3l1.2 1.7l2.4 .4l-431.9 2.3l5.4 .3l26.9-2.5l26.7 2.5l18.5-2.5l31.2 .2l7.1 0l5.1 .1l3.7 1.7l6.5-1.7l13.1-.2l11.3 1.8l5-.1l1.5-1.3l4.2 1.5l7.8-2l1.7 2.5l45.9-.6l8.3 .3l4-2.1l8.8 2.2l9.7-.4l29.4-1.6l2.9 .2l3.1 1.7l11.1-2l2.9 .1l12.7-.1l3.5-.1l.9 2.4l1.8-.6l6.7-1.4l2.9-.1l4.3 1.4l3.6-1.8l3.8 2.5l5.4-2.2l5 2l2.9-2.3l4.4 2.1l7.1 0l3.9-1.7l6.5 1.6l7 .2l6 0l4.2 .2l7.6-2.1l19.3-.2l-430.1 4.4l4.1-1.6l33.4 1.8l18.1 .1l3.1-.2l2.8 .3l11-2.2l3.9 1.8l.5-1.7l2.4 1.5l.1-1.4l10.2 .1l3.1 .1l4.8-.5l26.8 2.1l5.3 .2l36-.5l22.1 .4l10.4 .1l1.6-1.9l4.4 1.5l2.8-1.9l17.1 2l8.4 .3l4-.1l15.3-.4l5-1.3l20.8 1.7l17.6-.2l11 .1l23.1-.4l2.2 .1l15.1 .2l12.6-.2l13.4 .5l1.6-.5l21.4 .1l43.1 .5l4.7-.3l5.9 .1l-464.3 .4l18.5 1.8l12-1.5l.5 1.3l16.6-1.4l14.8 1.5l5.2-.1l4.2 0l4.8 .2l13.8 .4l8.8-1.8l2.6-.3l96.5-.2l32 1.9l11.2-1.5l8-.2l6.7 1.9l22-.3l4-1.7l3.5 .2l1.6-.2l1.2 2.1l8.4-.1l7.8 .2l2.4-.6l9.1-1.3l.5 1.5l1.2-1.9l1.1 2.4l4.8-2.1l.4 1.5l11.3 .6l6.7-.1l3.3-.3l12.8 .3l7.8-.1l29.8-.3l2-1.8l1.1 2.2l3.8-2.1l11.3 1.6l5.3 .7l19.8-.7l6.8-1.4l19.6 .1l1.3 1.9l-424.5 1.9l5.5 .3l9.1-1.9l34.2 1.7l9.5-1.8l5.7 2.4l7.6 0l19.3-2.4l5.9 2l56.1-1.7l24.7-.1l13.7 1.6l9.7-1.8l13.6 2.1l3.5-1.7l1.6 1.5l13 .5l7.8-.7l7.2 .3l18.8-1.8l9.5 1.7l10.8-1.4l1.9 1.6l39-2.1l14.4 1.9l19-1.7l30.2 1.9l6.3 .3l5.8-.4l25.5 0l-388.6 3l6.6-2.1l12.3 0l6.8 1.5l9.8 .6l9.5-.2l16.3-.4l10.5-1.6l5.7 .2l6.1 1.7l40.4 0l23.6-.4l23.3 .4l1.2-1.9l16.4 1.9l23.8-2.2l2.2 .4l5.7-.2l3.9 2.1l6.5-2.1l19 1.5l6.2-1.5l22.1 1.5l8.2-1.7l4.6 2.1l14.1-1.7l16.8 1.7l9.5-.1l9.2-1.7l1.2 2l12.5-.6l.9-1.3l9.9 1.9l16.9-.6l12-1.2l-443.7 3.8l64.4 0l7.9-1.4l8.4 0l42.6 0l18.6-.2l8.3 2l4-1.9l57.2 1.6l5.3 .2l7.5 .3l5.5 .1l10.4-.7l5.3-1.2l6.4 1.5l18.2 .3l1.9-2.3l4.2 .4l11.4 1.3l10.5 .2l17.6 .2l18.9 .3l12.4-.1l5.8-2.1l4.1 1.6l1.4-1.4l1.3 1.9l2.4-.3l5.4 0l12.9 .4l9.8-.1l7.3-.6l24.6-1.3l13-.4l3.8 2.2l-434.9 2.3l5.6-.1l49.7-1.4l10.8 2l15.8 0l11.8-.2l21.5 .2l4.2-.3l3.3-.2l7.9-2l27.5 1.9l35.6 .2l1.3-1.9l16.4 2.3l5.5-.2l2.2-.2l20.2 .1l3.3 0l2.3-.4l1.2-1.6l21.4 1.6l7.7 .4l1.5-1.8l1.9 2l2.6-2.1l7.8 .2l6.9 1.3l8.2 .4l5-2.2l6.3 .1l10.3 .4l6.9-.3l17.5-.1l4 2.4l13.7-.3l1.7 .2l33.2-.5l3.7-1.7l14.5 1.6l1.2-1.6l7.3 .2l1.2 1.8l-428.3 .4l26.1 .2l4 2.1l3.4-1.9l2.9 0l.9 1.5l30.8 .5l27.7-.2l5.8-.4l40.8-1.7l3.5 .3l2.9-.4l13.5 1.7l43.7 .6l22.6-.2l1-1.8l9.7 1.8l12.6-.4l2.7 .4l3.7-1.7l2.2-.2l21.6 1.6l6.5-1.7l6.8 2.2l3.5-1.8l18.2-.3l4-.1l9.4 2.2l11.4-2.3l4 2.1l2.4-.1l4.8 .2l2.4-.4l22.5-1.8l11 2.1l.8-1.7l12.7 1.6l3.8-1.9l2.9 1.6l4.3-1.7l18.8 2l-404.8 1l24.8-.4l11.7 1.8l10.6 .3l14.1-2l24.3 1.6l3.7-1.4l.9 1.3l1-1.5l6.7 2.1l49.1-2.1l36.6 0l8.9 1.6l2.8 .5l2.1-.1l.4-1.9l4.4 1.6l28.4 0l2 0l7.8 .2l27.9-.3l6 .1l3.8-1.8l6.2 2.3l12.6-.3l8.2-1.7l7.2 2.1l4.8 0l6.1-2.3l12.8-.1l3.4 2.2l3.5 .2l1.6-2l8.1 1.4l11.6-1.4l4.3 1.7l6.9-.4l15.5 .5l5.3-.3l10.7 0l1.4 .2l3.5-.1l-424.3 .9l75.2 1.9l24.5-1.9l4.4 1.3l19.9 .5l21.1-.2l42.3-2l1 2.4l12.1-.3l1.4-1.7l19.9 1.3l3.5-1.2l2.1-.3l20.4 .1l7.3-.2l12.3 2.3l2.9-2.2l7 1.5l2.5 .5l9.4-1.9l1.9 0l13.6-.1l7.3 .1l1.7 1.5l8.7-1.8l5.8 2.1l9.3-2l.4 1.7l8.1 .5l5.4-.5l5.1 .6l2-.2l15.8-.1l1.3-1.9l38.1 .2l6 1.3l-370.6 2.8l1.2-2l24.2 2.2l19-2l4.5 2.2l11.6-2.3l13.4 2.3l70.6-2.3l.5 2.4l8.7-2.5l7.5 .2l1.5 2l1.7-2.2l2.9 .1l15.9 1.9l23.5 .1l.8-1.9l15.3 .1l1.6 2l14.2-2.1l16.9 2.1l6.2-2.1l23.5 1.9l3.5 .1l3.5-1.7l.6 2l2.3-2.1l0 1.8l3.4 .1l24-2.1l8.4 2.2l2.4-2.2l6.7 .1l4.2 1.5l3.1 .5l2.7-2.3l14 2l9.3-1.8l-413.3 4.2l14.2-1.3l2.1 1.7l50.7 0l11.2-1.9l32.8-.1l19.4 1.9l3.2-.2l35.6 .4l5-.2l3.8-1.6l.6 1.6l9.2-2.1l2.1 .1l1.1 1.7l26-.1l8.1 .4l13.6-1.8l18.7-.3l6.3 2l5.7-2l27.4 2.1l8.3-1.8l1.7 1.8l17.8-.4l4.4 .4l2-1.9l18.9 1.9l2 .2l2.9 .1l7.1-2.2l48.2 0l6 1.8l-408.4 .6l6.3 2l65.2-2.1l34.4 2.2l53.5-.1l2.9-.1l7.4 0l11.7-1.9l.9 1.8l5.6 .4l6.8-2.1l31.2 1.5l13.6-1.5l22.8 1.9l1.7-.4l7.4 .7l19.1-.3l7.5 0l4.7 .4l3.1-2.4l8.3 0l6.1 1.7l2.4 .3l31.8-2l21.7 2l23.8-.2l3-1.9l1.7 2.2l5.9-1.9l-373.8 4l.9-1.6l14.3 2.3l5.2-.4l15.1 .3l45.9-.3l34.1-1.9l8.4 2.2l10.8-.2l7.7 .1l2.2 .1l10.8-.1l5-.2l.5-1.8l2.2 1.5l6.8 .1l17.2-1.4l5.3-.2l5.5 1.7l10.3 .5l2.4-.5l20.2-1.9l3.5 1.8l2.9 .3l3.5-1.9l2.7 0l2.8 1.7l6.3 .3l1.9-.1l17.5 .1l10.3 .2l3.3-.3l2.5-.3l24.6 .2l19.5-1.7l-370.3 4.7l5.7-.1l45.8-.4l107-.1l20 .6l12-2.3l6.2 2l3.5 0l14.5-.2l21.1 .4l16.6-.3l9-2l15.5 .4l7.3 1.4l2.6 .5l19.5-.5l11.2-1.8l2.5 1.6l13.7-1.6l3 2.4l10.9-.3l2.6-.5l4.8 .7l25.3-.6l22.7 0l-372.9 2.9l51.9-1.7l74.8 1.6l3.7 0l5.3 .1l9.2 .3l3.2 0l3.1-2l30.9-.1l36.1 0l1.7 2.1l9.9-.1l9.1-.4l24.1-.1l5.3 .5l2 .1l.7-2l2.2 1.5l4.5-.1l9.9 .6l23.9-.5l15.1 .3l9.2-2.1l1.2 2.1l4.7-.4l11.2-1.4l3-.1l-321.3 4.6l101.4-.4l4.9 .2l1.7-2.1l.9 2.2l5.3-.1l5.3-.3l5.8 .5l23.9-2.2l3.9 1.9l15.4 .4l21.9 0l9.1-2l10.5-.5l6.1 1.8l2.9 .6l3.2-.6l30.3 0l19.3-1.4l7.6-.3l17.5-.1l22 1.7l17.4 .8l7.6-.2l-358.2 2.5l23.4-.2l7.3 .4l81.8 0l9.8-.2l4.7-.1l5.1 .1l5.8-.4l2.8 .3l6.1-2l3.1 1.7l8.6 .1l24.8 .1l3.4 .2l2.6 .1l1.7-.2l1.7-1.9l1.2 1.5l13.5-1.5l21-.1l10.9 2.1l8.4 .1l.7-2.3l14.8 2.1l13.7-1.7l11.9 0l3.3-.2l3.6 1.6l13.4 .4l4.7 .1l7.5-.1l2.1 .1l21.5 0l8.9-2.1l-374.6 2.8l23.7 0l16.2 1.8l84.3 .1l3.4-1.9l1.6 1.7l4.9 .1l16-.5l23.6-1.5l26.1-.2l.3 1.9l8.4 .5l7.4-.3l3.4-1.8l3-.1l11.1 1.9l2.9-.2l2 0l7.1-1.6l3 1.4l8.5 .4l7.1-.1l12.5 .1l28.2 .3l12.9-.4l7.5-.2l2.2-1.7l23.1 1.9l28.9-.1l-248.2 2.8l68.3-.5l5.3 .3l1.6-1.7l11.6-.2l17.7 2.1l2.1-.4l6.1-1.8l2.3 .3l24 1.5l5.6 .2l12.9-.2l1.5-1.6l22.4 .1l11.6 1.7l46.2 .1l.9-1.7l-383.3 2.1l127.9 2.4l16.2-.3l15.6-.2l1.4 .1l3 0l2.2 .5l9.2-2l6.1 1.7l9.2-2l2.3 0l1.4 1.6l6-1.8l5.5 0l12.1 2.1l8.7-1.9l21.4 2.2l7.5-.3l13 .3l17.3-.1l7.2-1.9l3.3 1.3l11.7-1.3l6.1 2.1l2.2-2.4l1.4 .4l9.2 1.3l3 .1l35 .5l2-2.2l2.9-.1l1.5 .3l20 1.6l-256.1 2.9l.2-2l32.4 2l5.5 0l10.3-.4l9.7-.1l36.7-1.6l6 2.2l5.1-2.3l9.1 0l11.4 2.1l18.7 .1l17.1-.5l14.8-1.5l1.4 1.7l10.6-1.9l1.8 2.3l8.5-2l4.8 1.4l.2-1.8l6 .1l2.2 .3l1.8-.4l11 0l-230.3 4.2l16.9-1.7l1.6 2.2l20.3 .3l1.3-2.2l1.9 2.2l5.1-.5l24.1-1.5l7.9-.3l.3 1.8l31.6-1.9l7 2.2l10.1-.5l12.2 0l2.5-1.3l2.6 1.9l1.6-2.3l4.7 1.9l12.4-.2l5.6-1.8l1.4 2.3l3.3 .2l1.8-.2l8.2-.2l3.3-1.9l4.5 2.2l23.2-.6l24.8 .6l-325.4 2.3l76.8-.4l35.6 .3l3.8-1.5l12.9-.3l32.4 1.8l25.5-.1l15.4 .3l8.1-2.1l35.4-.1l7.4 2.3l.7-2.3l18.9 2.1l1.8-1.7l11.5 1.8l2.4-.5l33.9-1.3l4.9-.4l5.2 2l3.5-1.9l4.6 .1l-234.9 4.4l2.8 .3l17.6 .1l7.1-2.2l8.5 1.9l14.8-1.8l12.3-.4l1.3 2.1l3.3-1.7l9.5 1.7l5.4-2l3.8 .1l26.3 1.7l2.3-.2l16.5-1.4l6.6 1.8l1.5-2.1l4.1 1.8l5.9-1.3l10.3-.2l5.7 .1l2.9 1.9l9-2l6.6 2.2l10.1-.2l2.1-.2l33.5-.2l-241.1 3l26.4-.2l4.7 0l11.2-1.7l17.2-.4l3.1 0l2.4 .3l6.4 2.1l26.8-1.9l14.4 1.7l15.3 0l2.7-.2l10.2-.1l1.8 .4l26.6-2.2l6.9 2l16.9-1.8l10.3 .1l14.3-.3l6.7 1.9l3.1 0l16.5-1.9l4.3 1.7l-233.3 2.9l26.1-2.1l10.7 0l26.7 2.1l5.9-2.2l4.6 .4l5.7 .1l2.4-.4l1.5 2l7.4-.2l9.3-1.9l19.2 2.1l12.2-.2l4.9 .5l5.5-.5l35.4 0l9.2-1.4l4.5 2l4.1-.3l18.7 0l9-2l-228.7 2.5l10.1 .4l23-.2l4.2 2l11.6-2.3l2.7 2.3l20.4-1.9l16.1 2l7.5-.3l16-1.7l10.1-.1l2.1 1.7l4-1.7l3.9 2l2.8-2l10.5 .2l27.5 1.4l2.7 .1l-200.6 2.8l51.9-2l6.9 1.9l6.8-1.8l9.8 0l13.4 1.9l9.2-2.3l2.6 0l6.2 2.2l7.5-.3l20.3 0l7.3-1.5l2.7 0l0 1.6l10.4-.2l6.2-1.8l2.4 1.8l4.2 .3l1.2-1.8l20.7-.1l3.1 .2l28.3 2.1l3.1-.2l13.7-2.2l2.5 .3l5.9 .1l14.1 1.6l-230.5 .6l9.6 1.8l8.2 0l.9-1.8l.8 2.3l16-.6l1.5-1.6l10.6 1.6l17.2-1.3l5.3-.4l17.4 0l10.6 2.3l21.7-.3l3.2-1.8l4.1 1.8l3.7-1.8l4.8 0l1.6 1.5l39.3-1.3l6.8 1.4l-193.2 3l17.8-.4l31.5 .2l3.8-1.9l15.2 0l11.7 2l6.6 .1l7.3-2l1.2 1.4l3-1.4l1 1.4l11.4 .4l17.8 .3l25.7-2.5l17.5 1.9l15.5-1.8l22.4 2.1l4.3-1.8l5.7 1.3l14.3-1.4l-218.3 2.6l38.6 0l5-.2l36.6 1.7l19.1-1.3l2.1 1.9l29.1-2l7.5-.3l8.4 1.8l3.6 .4l18.8-2l-154.6 2.2l34.3 2.2l7.4-.2l14.1-1.5l17.8 0l4.1 1.9l2.2-.5l1.5-1.9l6.2 2l28.6 .5l2.6-.2l29.7-1.9l5.9 1.5l5.1-.1l8.4-1.8l7.9 .4l23-.4l-198.9 4.7l15 .1l10.2 0l23.8-.1l.8-1.9l19.1 1.9l17.4-.1l5.1 .4l16.2-.5l5.3 .5l6.4 0l1.5-2.3l3.9 1.7l45.4-1.8l4.6 .3l22.3 1.5l-182.4 2.5l35.6 .2l1.8 0l16.3 0l7.8-2l11.7 2.2l7.1-2.1l23 .4l36.9 1.8l12.7 0l-162.5 2.2l17.6-.2l9.7-1.4l3.4 1.4l3.8-1.7l6.9 2.4l4.7-.1l24.9-.4l3 .2l4-2l4.2 1.9l7.9-.3l7.4 .2l1.6 .4l2.8-.5l9.7-1.6l42.2-.1l22.6 1.7l18.3 .1l-170.1 2.7l9.2-1.7l29.4 1.7l5.6-2.1l9.2 2.4l29.2-2.1l5.8 1.7l25.6 0l5.2 .2l5.6 0l1.7-2.1l1.8 0l15.4 0l1.6 2.3l2.2 0l13.2-.5l7.1 0l-142.3 .9l8.1 0l31.5 1.9l29.4-1.9l16.8 1.5l7.1 .1l10.6 .6l1.6-.1l-106.4 .4l18 .2l25.5-.2l-71.6 4.1l24.8-1.4l41.5 1.6l17.1-1.5l1.5 0l7.3 1.6l23.7-1.8l3.9 1.7l8.6-1.5l2.7-.2l2.6 .2l-132.6 3.9l13.6-1.8l22.9 2.3l12.8-2l27.7 1.7l8.2-1.5l2 1.6l-63.6 2.4l19.1 0l4.9 .3l20.1-.1l52.1-1.9l-112.6 4.8l10.5 0l23.7-.6l37.1 .6l2-2.4l9.3 2.1l4.6-.2l26.5-1.6l25.2-.1l-120.4 2.3l36.7 2.3l-34.9 2.2l2.1-1.6l9.4 1.4l-26.9 3.1l17.6-.5l3.7 2.8l-18.3 .9l22.5 1.6l.8 2.4l-12.2 3.5l1.8 2.7l4.1 2.6l1.2 2.3l4.4 4.8l2 2.5l2.7-.2" fill="none" marker-start="url(#mb)" marker-mid="url(#mb)" marker-end="url(#mb)"/><path d="M520 1112.6l7.9 .9l-15.7 4.6l14.3-2.1l-61.3 4.7l60.8-.2l12.9-.5l10.9 .1l-57.8 2.9l49.2-.3l-54.6 .6l17.7 1.9l7.3 .2l11.6-2l7.9 1.7l13.8 .7l2.9-2.5l-73 4.9l7.4-.2l30 .2l-62.2 1.9l26.4-1.6l14.9 1.8l5.3 .5l9.9-.6l21.6-1.5l34.5 1.5l-126.1 2.5l24.5 .6l16.7-2l14.6 1.6l20.8 .3l2.6-2.2l49.4 .4l-141.9 2.6l22.5 1.8l8.5-1.8l10.6 1.3l18 .1l7-1.4l36.1-.4l57.3 2.2l-103.4 2l14.8 .4l11 .1l22.4 .2l1.6-2.1l2.8 1.5l20.4-.1l18.9 .1l19.4 .1l-132.3 .8l6.8 1.8l1.9 .5l3.6-.8l55.6 .4l13.7-1.9l8.6 1.7l23 .6l26.2 0l-148.1 .5l44.9 1.6l40.5-.3l30.8 .7l22.2-.7l-89 1.1l-115.1 4.2l27.9-1.4l6.4 1.8l80.7 0l33.9 .1l3.6-2.1l14 2l1.2-2.1l2.4 .1l-110 4.6l3.1 0l13.9-2.3l1.2 1.6l60.7 .1l17.5-1.3l4.8-.4l18.1 .3l16.7 2.1l1.5-2.2l-34.7 2.5l7.9 .3l33.9 1.6l10 .1l-212.1 2.1l47.1-1.6l49.5 2.1l1.1-2.3l64.6 2.4l5.9-.1l.2-1.8l13.4-.4l13.3 2.4l11.4-.4l2.3 .2l6.9-.2l31.6 0l-243.8 2.2l10.2 .3l19.9-.1l9.7 .3l11.5-.2l71.1 .4l7.7-.2l.7-2.2l8.5 1.7l9.7-1.7l10.7 1.8l9-.1l46.1-1.7l12.9 .2l-237.2 4.8l55.8 0l13.5-.1l39.1-2l14.9-.3l62.6 2.1l56.6-.5l15.3 .3l-207.6 2.6l24.1-2l10.8 2.2l3.4-.4l29-1.7l9.3 1.7l5.1-.1l4.2 .6l5.6-.3l1.3-1.7l1.2 1.5l7.3 .5l64.6-.3l8-1.7l-241.1 4.3l5.9-2.1l20.8 .4l26.9 1.8l7.6 .3l20-.7l5.3 .2l42.4-.2l11.6-1.5l12.6 2.2l11.9-.4l9.8 .1l2.8-.3l4.7 0l23.6 .5l72.1-.2l.2-2.2l-211.5 4.4l27.8 0l9.4-1.4l5.3-.2l6.6 2l31.2-2.2l1.4 2.1l124.9 0l17.8 .3l-293.1 .4l16.3 2l3.4-.3l5.2-.3l13-1.2l6.1-.1l11.6 2l23.1-2l29.6 2.1l59.1 0l53.1-.2l20.8-.5l1.7 .3l2.4-1.8l28.2 1.7l16.6 .2l-290.9 .4l29.9 .5l16.6 1.7l26.4-1.9l5.3 .1l3.2-.1l3.5 1.9l21.7-2.2l69.3 .1l7.6 .3l6.7 1.4l8.9-1.5l26.8 1.9l30.4-.1l-253.4 .6l7.1 1.9l21.5-1.6l23.9 1.9l52.6-2.1l4.2 1.6l31.8-1.6l29.6 0l10.2-.1l25.9-.1l32.4 2.1l10.6-1.7l4.7 1.3l3.2-1.5l-271.8 2.6l14.8 1.5l17.1 .1l9-1.9l48.3 .4l45.8 .1l5.2-.2l3.8 2l53.9-.1l54.2-.1l9.2-.1l22.7-1.8l7.4 0l-287.9 4.1l14.5 .1l12.5 .3l7.7-.4l12.6-1.8l2.7 1.9l5.8 .2l8.1 .1l14.6 .3l44.4-2l3.9 1.5l5.1 .5l19.4-2.4l8.2-.1l1.5 .5l16.7 1.5l13.6 .2l43.3 .2l4.6-.2l-207.9 2.4l30.9-.3l5.3 .7l21.6-1.9l66.7 1.7l86.7-2.1l1.7 .1l6.7 1.5l57.6-1.3l-310.2 2.2l4.2 1.7l7.2 0l30.2 .7l7.9-.3l5.6-.2l42-1.8l21.7 2.1l14.9-.6l72 0l7.3 .3l12.3 .1l60.3-1.7l6 1.4l5.4 .6l7.7 .1l19.3-2.4l-317.7 2.9l19.7 1.5l11.5-1.5l24.1 1.7l20.5-.1l22.7-.2l15.1 0l59.7-1.7l16.2 2.2l13.7-.1l53.7 .1l3-2.2l42.8 1.7l-330.2 2.5l5.3 .6l4.6-.6l20.5 .5l24.2-2.2l11.8 2l66 .1l13.2-2.2l60.8 2.1l5.2 .4l2.6-.4l6.8-.3l1.4-1.5l4.8-.1l10.5-.1l22.1 2.2l34.8-1.9l6.3 1.6l1-2l16.6 2.2l-292 2.1l8.5-1.7l2.4 .2l7.9 .1l33 .1l21.9 1.6l9.6-.2l32 .4l21.8 0l1.7-1.8l9.2 1.6l7.2 .4l16.9-2l8.5 1.7l7.4 .2l11.4-2.3l1.4 2l3.4 .3l20.1-.5l33.3 .1l10.3 .2l18.7-1.8l17.1 1.5l-344.5 .9l16.3 2.2l9-2.4l2.8 .4l.7 1.8l74.4-.3l5 .2l8.3-.3l24.4 .3l31.1 .3l2.8-.4l11.6-1.5l7.7-.4l7.9 .1l53.9 1.9l26 .2l70.7 .2l2.8 0l-350.7 2.3l3.2-.3l33.6-1.7l82.8 1.8l7.5 0l19.1-1.5l1.9 1.9l2.9-.5l10.8-1.8l12.4 1.9l34.2-2l13 .5l10.9 1.6l27.9 .2l12.8-.6l95.2-1.7l-364.6 4.5l21.1 .1l14.1-1.7l50.8-.3l7.5 0l69.1-.1l34.3 2.4l1.8-.4l23-1.6l110.1 1.5l-339.6 2.9l8.9 0l15.4-.2l47.7-1.7l10.6-.3l8.9 2.3l9.5 0l4.8 0l14-1.9l12.6 1.6l30.9-1.6l1.9 1.9l2.7 0l22-1.9l7.5 0l6.3 1.9l5.2 .1l17.2 0l2.1 0l2.5-2.3l12.7 .2l5.1 1.7l9.7-1.9l36.7 2.2l9-2.2l-313.6 4.8l8.1 .1l8-2.2l3.9 1.5l16.3 .4l1.6 .3l8.6 0l22.9-.3l12.1-.2l28.3-.3l5.4 .6l6.6-1.9l27.4-.3l22.7 .3l12.3 1.5l2.3 .4l.9-1.8l6.4 1.4l15.7 .1l12.5-.1l39.3-1.7l85.6 2.1l18.5-.3l-363.9 2.5l1.8-1.6l2.5 .1l13.7 2l40.9-.5l1.6 .2l25.7 .3l9.3-2.2l11 1.5l18.9 .7l35.2-.4l9.4-.1l29.9-1.5l30.1 .1l10.2 1.9l56.1-.5l39.4-1.5l5.3 1.5l7.1-1.7l5-.1l29.8 1.7l-391.1 1l14.2 2.1l7.7-.6l42.1-1.7l15.1-.1l40.6 0l2.4 2.2l7.9-1.9l18.9 1.6l34.1 .1l3.2-1.8l3.3-.1l4 .1l7.6 2.2l6.1-2.4l13.3 1.8l49 .2l15.4 0l65.7 .3l6.2-1.9l11.5 2l3.2-.2l8.7-1.9l3.7 1.5l-386.8 .9l3.5 1.6l12.9 .1l3.5-1.4l7 1.9l2.5-.3l1.4-.2l29.9-1.3l15.3-.2l42.2 1.6l11.8-1.8l7.6 .3l25.1-.1l7.5 0l58.2 .1l1.8 1.5l2.9 .2l16.8-1.7l15-.3l27.2 1.6l5.1 0l-287.9 2.5l26.6-1.2l19.7 1.4l20 .6l14.7-2.1l29.1 1.7l1.6-1.7l20.3 0l1.2 2l38.5-.6l38.2 .6l6.9 .1l3.2-.2l13.2-2l4.2 1.4l40.9 .2l26.3-1.7l33.2-.2l-343.9 4.4l33.2 .5l4.2-1.9l.5 1.3l7.1-1.5l11.9 .2l1.8 2l16.8-2.2l13.9 2l5.7-.3l17.4 .4l7.1 0l25.3-.5l16 .5l25.3 .1l5.1-.5l1.8-1.6l9.2 2.1l4.7 0l9.7-.7l16.1 0l35.6 .4l26.7-1.7l19.8 0l6 2l19.3-2l6.6 1.3l35.8 0l-348.3 2.9l11.4-1.7l6.9 1.8l56.6-1.7l40.9-.2l26.3-.2l2.8 1.7l23.1 0l15.3 .3l4.3-1.6l108.4 1.5l8.3 .3l49-1.8l-377.3 4.4l7.1 .1l14.1-2.3l1.9 2.1l2.8-.5l9.5 0l4.8-1.4l13.5 1.6l12.8 .2l1-2.1l28.8 .4l14.8-.3l14 2.1l22.3-.1l24 .2l9.1-.6l31.3 .7l27.5-.7l8.6 .4l18.2-1.8l2 1.6l3.7-1.5l51.1-.1l20.6 .1l24.3 1.5l6.4-1.9l27.6 .3l-417.8 4.3l4.1-.2l6.1 .2l19.3-1.9l18.7 1.6l13.2-1.7l9.9 2.1l10.3-.2l38.2 .1l3-1.8l4.7 2.1l4.3-.4l39.1 .5l2-.4l7-1.7l.7 2l5.1-.4l29.3-1.8l6.9 2.1l4.5 .2l12.4-.4l7.2-1.9l2.2 .2l3 1.3l20.8 .6l1.5-2l12.2-.2l19.2 2.4l13.3-.7l23.5 .1l22.7 .5l6.2-2.4l-362.8 2.9l11.9 .2l.8 1.9l24.9-2.3l8.1 0l25.7 2.3l33.8-.3l3.1-.2l25.1-.1l10.6-1.7l4.1 2.1l28.5 .2l4.4-2.3l5.6 1.8l5.1 .4l11.3-2.2l12.8 .3l103.6 1.8l12.4-.5l4.9 .3l34.2 .2l36.7-1.9l6.5 2l-432.3 2.2l23.3-1.6l7.1 1.9l1.9 .2l3.5-.7l14-1.6l8.9 1.9l19.1-1.7l18.8 1.9l17.3-.3l3.3-.2l2.7 .2l15.5-1.7l2.8-.3l41.9 .2l30.7 2.2l12.9-.7l46 .6l23.8 .2l26.8-.2l19.9-2.1l39.6 2.1l7.8-.1l9.3 .1l1.5-2.3l20.6 .5l-392.9 4l5.3 .4l22.7-.1l21.3-.2l37.1 .1l10.4-.1l10.9 .3l36.9-1.9l5.5 .1l36.4 1.3l17.2-1.4l4.7-.1l64.5 2l24.4-2.2l17.1 2l13 0l14.1 0l3.1-.4l1.1-1.7l3.9 2.4l27.5-.5l6.2 .1l5.7-2l6.9 2l2.4-.2l4.7 .6l8.5-.3l-437.3 .9l2.7-.3l10 1.5l2.1 .6l.7-2l13.6-.1l12.2-.2l21.2 .2l17.1 .2l1.6 1.9l17.2-.3l20.1-2l3.7 2.1l9.9 .3l16.3-2.4l17.1 2.1l7 .3l34.6-1.9l19.4 1.4l41.8-1.4l5.8 1.3l73.9-1.5l33.8 1.4l2.4 .4l15.4 0l4.6-.3l6.9-1.3l9 1.8l4.9 0l8.2-.4l.3-1.5l-438.4 4.3l17.8-.1l10.7-.2l41.1 .4l26.5-1.9l5.6 0l18.8 1.5l22.2 .1l20.4 .1l42.5-1.5l9.7 1.7l.7-2.2l24.5 1.9l13.1-1.5l48.4 0l6.9 1.4l26.9-1.6l9.5-.2l29 .3l18.9 2.1l1.3-2.3l23.6 2l13.7-.4l13.1-1.3l-422 2.4l6.2 2.1l10.3-.6l8.4 .6l2.9 0l5.1-2.1l0 1.8l10.3-1.7l2.5 1.9l2.1-.2l13.7-2.1l4.2 2.5l17-.5l4.4-2l6.5 2.5l1.2-2.2l16.9 1.7l4.3 .4l20.2-.3l1.3-1.9l5.8 .3l31.9 1.8l21.8-1.9l8.9 1.7l24.4-1.6l.6 1.9l14.5-2.4l5.6 .1l6.1 2.2l.9-2.1l1.7 2.3l4.1 0l5.1-.1l19-1.9l6.6 1.2l8.6 .8l20-.5l.7-1.7l34.4 1.9l3.1 .2l2.1-.6l11.3-.1l13.1-1.3l4.7 1.8l5.7-2.2l1.4 2.3l-414.5 2.1l.8-1.6l33-.2l17.2 1.8l6.5-1.7l58.6 .3l5.4 0l18.6 2l5.2-.7l67 .2l6.5 .3l12-2.2l3.8 1.9l6.3-1.9l1.8 2l2.4 0l2.3-.3l4-1.3l15.2-.4l3.2 .5l3.6 1.4l49.8-1.5l9.4-.3l11.2 1.6l1.6-1.5l15.1-.2l1.8 2.4l22.5-.6l17.3-1.4l2.8 2l12.7-.6l3.1 0l8 .6l-448.4 1.9l5.4 0l10.7 .3l31.2-2l7.9-.1l4.5 2l10.1 .2l23.7-1.8l2.8 0l1.4 1.7l8.8-2l8.9 1.9l7.3-.3l1.9-1.5l2.7 .2l3.6 1.8l13.2-2l1.8 1.5l5.6 .3l23 .4l7.7 .1l13.4-2.2l16.2 1.8l11.2 .2l11-1.8l3.3 1.8l10.9-.1l79.5 0l14.5 .1l3.3 .2l24.8 0l14-2.1l8.8 2l10-.5l52.2-1.9l4.8 2.5l-451.1 2.2l5-2.1l7.5 0l43.5 1.8l21.5 .5l26.6-1.9l3.5 2l7.8-.1l25.9-.6l39.2-1.7l4.6 .1l11.3 2.2l19.3-2l4.1 2.1l16.8-1.9l11.1 1.2l18.4 .2l10.5-1.5l6.7 1.9l58.2-2l31.2 1.9l3.8-1.9l2.5-.3l12.2 1.7l47-1.3l-419.2 2.6l26.5 1.3l5.7-1.7l12 2.1l5.5 .1l6.3-2l11.6 2.2l7.5-.3l35.5 0l4.4 .3l23.4-.2l11.7-2l25.5 .2l9.2 1.4l47.6-.1l2.5 .1l14.2-1.6l22.6 .1l13.5-.1l4.8 .1l30.7-.1l5-.1l7.2 0l6.3 .2l8 1.4l7.7 .5l10.7 0l52.2-2l2.4 .2l-456.9 3.8l26.6-1.7l6.8 1.7l3.7-1.4l1.5 2l36.7-1.8l3.5 1.8l3.6-.5l65.3 .3l35.2-2l27.6 .1l16.8 1.7l47.4-1.8l24.7 0l67.5 0l4.2 .1l2.3 .1l24.2-.1l5.4 1.8l7.5 .3l16.3-.4l39.8 .1l4.8-2l-450.4 2.9l15.7 2l15.9-.2l1.8-2l17.3 .3l2.9-.4l2 .1l4.7 2.2l1.9-.2l2.6-.1l3.2-1.9l2.7-.1l32.3 2l12.3-2.1l15.7 2l19.1-1.5l2.6-.2l6.6 2.2l3.2-2.1l2.3 1.8l24.8-.3l1.1-1.7l3.2 .1l2.4 .1l18.8 1.6l16.3-1.9l2.1 1.9l37.3 .3l21.2-.1l13.1 .3l7.4-.3l3.1-1.8l12.5 1.5l22.5 .6l13.2-.2l.1-1.9l6.3-.3l7.7 2.1l20.6-.2l29.3-2l-424.1 2.9l1 1.6l32.8-1.7l9.9-.2l10.4 .4l19.2 1.9l15.2-.1l10-.4l2.1 .2l10.1 .4l2-2l59.8 1.4l1.7 .1l20.8 .1l4.9 0l4.3-1.5l11.5 1.7l12.6-.3l10.3 .5l10.6-.7l45.1 .2l35-1.9l59.3 1.9l2.9 .1l7.1-.1l-385.5 2.6l4.6 .3l6.1-1.8l2.1 1.5l14.2-2l6.4 2.1l9.8-.1l9.3-1.8l.5 1.9l15.6-.3l5.3 .7l4.4-.6l10.2-.1l3.5 .4l16.1-2l4.7 0l7.8 .2l14 1.9l28.3 0l13.3-1.8l7.6 1.5l26.1-1.8l11.4 2.1l46.5-.2l3.2-2.1l8.2 .1l3.1 1.8l13.6 .4l8.4-2.1l11.3 2l16.2 0l14.3-.4l53.1-1.7l-429.3 4.8l18.7-.5l2.1 0l2.8 0l7.4 .5l6.2-2l13.7 1.4l10.8 .2l18.1 .4l20.6-2l27.6 2l15.7 0l22.9-.5l6.7 .2l6.6-1.9l22.5 1.6l28.4-1.7l19.4 1.7l2 .4l17.9-2l66.3 1.7l32.9-1.8l15.5 .4l19.1-.4l11 .5l33.5-.4l14.6 .2l6 1.6l-469.2 2.3l25.9-1.4l4 2.1l2.4-.5l3 .2l6.7-.4l2.5-1.2l5.8 1.5l2.2 .5l3.7-2.3l22.6 1.5l5.5-1.5l4.1 1.8l1.8-1.5l5.3-.1l5.5 1.7l7.4 .1l2.7 .2l4.2-2l2.2-.2l17.1 1.8l1.9-.2l31.6 .7l3.4-2.4l33.1 .1l9.1 1.6l6.9 .2l14.9-1.7l4.3 .1l11.7 1.4l19.3-1.4l29.1 1.3l46.7 .5l6.6 .3l9.5-2.1l72.8 1.7l28.5-.4l5 .6l-473.2 2.4l89.3-.3l9.1-1.5l19.3-.2l2.3 1.8l33.9-1.4l1.6 1.9l17.9-.3l17.9 .2l7.7-.6l.2-1.7l7.3 2.1l5.4-1.6l4.4 1.4l4.2-1.6l6.9-.1l8.7 0l.6 1.7l14.8-.1l7.6 .4l40.5-1.7l6.7 1.7l14.6 .1l36.4 .1l28.1-2.4l2 2.4l5.3 0l11.7-2l31.9-.3l2.1 2.3l9.6-.6l5.6 .5l8.4-2.2l-445.6 4.7l9.6-.5l15.4 .1l9.1-1.8l4.5 2l15-.3l4-1.7l20.8 2l30.8 .2l41.5 .1l40.9-.4l16-1.7l39.5 1.6l18.9-1.7l30.5-.1l4 1.7l8.3 .4l11.8-.5l32.2-1.2l3.6 1.4l20.5 .4l2-2.1l2.8 1.9l8.4 .4l37-2.3l-452.7 2.8l10.1-.4l11.7 2l6-2l24 1.8l2.3-.1l24.3 .1l4 0l13.2 .3l2 .1l1.8-2.1l2.3-.1l19.8 2.1l4.3 .3l12.6-.5l6.1 0l27.2 .3l1.1-1.8l19.7 1.8l21.3-2.1l2.1 2.2l4-2l28.4 1.7l31.1-.1l55.4 .1l4.1-1.9l19.3 2l9.6 .3l8.1-.4l48.6 0l47.8-2l8.5 2.2l-474.6 .7l7.5 .1l3.6 1.5l6.1 .5l11.6-.7l23.2 .7l21.9-2l29.4 1.9l6.8-2.3l21.8 2l4.1 .1l2.7-.5l25.1-1.4l19 1.7l15.9-2l3.8 2l10-.1l31.4 .5l17.4-.1l66.9-.3l44.3-2l6.5 2.3l9.6-.1l11.2 .1l6.5-.5l18.2 .6l33.7 0l9.3-.1l-446.9 2.6l14.8-.4l10.2 0l11.6-1.9l2.6 .2l31 .2l1.6 1.5l4.8 .2l14.1-2l10.8 2.3l23.2-.3l15.6 0l11.8-1.8l2.7-.3l1.1 2l16.6-1.6l11.3 2l32.2-2l2.6-.2l27.2-.2l25 1.9l1.1-1.5l16.1 1.3l17.1-1.5l17-.1l35.3 1.7l21.9 .3l13.5 .3l55.9-.4l-468.5 .6l5.2 2.1l2.4 .2l5.1-2l11.1 1.8l13.3-1.7l16.3-.5l9.3 .1l1.8 1.9l25.2 .5l10.3-.2l10.2 .2l3.5-2.5l16.6 2.1l41.9-1.8l2.4 2l20.1-.3l34.1-1.5l12 1.4l.4-1.7l57.9 1.7l27.3 .6l6.7-2.2l68.1 1.6l2.2 .4l27.7 .2l19.9-2.4l21.9 .3l-483.3 4.3l22.2 .3l32.8-2.4l3.5 1.9l4.7 .1l65-1.7l25.4 0l26.9 1.7l50.2-1.7l14.1 1.7l1.6 .3l23.4-.1l10.7-.5l9-1.4l69.2 1.9l47.7-1.8l32.3 1.8l8.6-2.2l22.5 .5l3.9 1.3l3.1 .4l9.1-1.8l10.6 1.7l-483.4 2.4l10.2 .2l1.8-1.7l18.3-.1l8.1 1.4l56.5 .6l30.1-.2l20-2.2l9.5 0l18.4 .1l.9 2.3l3.6-2.4l16.2 .5l10.5 1.9l10.4 0l45.5-.7l9.6-1.5l26.1 2l90.6-1.8l31.7 1.8l22.8-1.9l17.2 .2l11.1 1.3l-483 2.6l17.8 .4l41.2-.5l25 .5l11.2 0l15.9-1.9l38.1-.2l4.4 1.7l7.2 .5l4.7-.4l8.8-.1l8.4-1.7l10.1 .3l10.7-.1l1.2 1.4l14.5 .2l12.6 .5l13.2 0l21.5-2.4l25.9 0l19.7 2.1l7.3-.1l41.7-1.9l36.6 2.2l3.3-.1l36.3-2.1l16.6 1.7l19.7-1.8l1.6 1.7l-482.4 .9l10.7 .1l30.3-.1l20.5 .2l2.7 1.9l3.9-1.9l16.6 2l12.7 .2l1.9-2.5l35 2.3l.7-1.8l21.7 1.3l22.1-1.3l13.5 1.6l7.2 .1l8.1-.1l1-2.1l73.9 .5l34.8 1.8l3.5-2l7.4 0l55.5 1.5l27.1-1.3l12.5-.2l4 2l12.7 .2l15.6-.6l2.6 .1l39.8-.1l-500.9 3.1l18.4-.5l5 0l5.4 0l7.8 .3l22.9-2.1l13.6 .1l13.8 1.5l25 .3l8.1 0l18.2 .3l20.3-.3l31.9-1.7l16.8 1.7l22.5 0l104.8 .4l19.7-.1l9.6-2l14.7 0l58.6-.2l6.8 2l17.3 0l6.2-.2l-453.6 2.6l18.6 .5l.5-2l6.2 1.5l3.8-.2l2.2 .4l3.3-2.1l2.4 .3l2.3 2.1l.3-2.2l1.2 1.7l13.8-1.8l33.1 2.2l4.5-.1l19.8 .1l19.6-2.3l6.6 2.4l3.1-2.4l6.6 2l8-.1l18.6-1.6l24.3 1.9l8 .1l25.5 0l75.5-2.4l32.3 2.3l12.5 .1l5.3-.1l32-1.9l8.3 1.6l11.1-1.6l3-.2l2.3-.1l40.6 .2l-459.6 2.3l2.4 .1l1.2 2.2l3-.2l48 0l6-1.9l5.3 .2l9.9-.1l8.8 1.7l1.8-1.8l6.8 1.8l29.6-.2l2.3-1.4l25.4-.3l19.4 1.6l8.9-1.7l8.7 2.1l5.4-.4l23 .6l7.2-.1l15 0l6.6-2.2l2.2 .3l17.1 1.6l3.1-1.6l39.3 1.9l20.8 .2l49.1-.4l14.9 .3l2.4-.1l21.7-2l4.7 .2l2.3 1.4l7.6 0l28.2-.1l30.2 0l-472.1 1.1l20.5-.3l4.4 2.5l2.1-.3l7.5 .3l14.7 0l17.9-.2l4-2.1l4.7 1.8l5.3-.3l3.6-1.5l19.5 .1l9.1 2.1l1.9-2.3l30.2 .1l19.4 1.9l35.9 .2l22.8-.1l6-2.2l3 0l1.4 1.9l22.2 .1l23.8 .1l14-1.7l2.2-.2l8.4 1.7l18.7 .1l18.7-1.7l3.1 1.4l16.3 .5l4.1-1.9l22.6 .1l4.2-.2l19.8 1.7l16-1.7l1.2 2.3l2.6-.6l13.2-.1l10.3 0l9.1-1.6l15.7-.1l-485.7 4.9l6.8-2.4l19.5 2l4.3 .4l11.8-2l2.2 1.9l3.4-2l9.1 1.6l33.5-1.7l9.8 2l17.8 .1l25.5 0l3.9-2l5.2-.3l9.1 .3l2.2 2l14.1-1.8l8.7 1.6l1.7-1.8l10.3 1.6l10.7-.1l1.4-1.5l1.9 1.6l45.4-.2l6-1.5l14.8 1.9l12.9-.4l8.9-1.3l16.2 1.9l2.4-.3l7.3 .2l4-1.8l6.2 2l1-2.3l40.3 2.2l12.8-.1l47.8 0l.9-2.2l23.9 .1l-458 2.9l5.9 1.9l26.2-.1l2.1-.3l12.1-1.5l1.4 1.5l9.5 .4l7.2-1.9l12.7 1.5l33.9 0l13.1 .3l28.6-2l1.6 1.5l14.7 0l1.8-1.8l8.4 1.9l4.2-1.4l3-.2l8.7 2.2l9.6-.5l21.3 0l4-1.6l1.3 1.6l1.3-1.8l1.1 1.8l11.4-1.9l2.9 0l10.6 2.4l8.6-.1l3.8-.5l7-1.7l1 1.6l17.2-1.6l20.6-.2l2.7 .5l7.3-.4l3.2 2.1l6.1-1.7l7.9-.5l45.4 1.9l11.6 .6l3.1-.2l15.2-.2l8.7-1.6l30.4 2l14.5-.4l-492 .5l8 .1l7.3 .2l1.5 2.1l21.8-2.4l47.9 0l51.6 0l14.4 .4l17.6 1.7l4.8 .3l11-2.3l15.9 .3l3.6 1.7l15.8-1.8l14.3 1.7l1-1.6l3.9 1.6l2-1.6l15.6-.3l12.4-.1l42.1 1.8l45.2 .4l23.2 .2l14.7-2.2l6.9-.1l6.7 2.2l26.9-2.3l3.5 1.9l2.4-.2l25.8 .7l25.9-.3l-503.8 2.8l15.7-.1l10.1-.1l17.5-.1l10.1 .2l4.6 0l1.5-2.3l14.6 2.4l4.8-.4l4.3-1.8l13.9 1.6l6.1-1.4l24.8-.3l2 1.7l35.6 .2l2 .4l6.9-2.2l25.9 .1l3 1.6l2.8 .4l7.1-2l4.4 .2l4.1 1.2l25.1 .6l11.6-2.2l7.2-.1l11.6 2.3l2.4-.5l31.2 .2l35.1-1.8l12.2-.1l5.8 1.9l5.7 0l5.5-.2l1.5 .4l11.4-2.1l48.5 .2l27 1.7l4.8 .3l5.3-.3l20.2-1.6l-483.3 2.5l10.2 0l40.8-.1l20.8 2.2l9.1-2.3l3 .4l4.8-.3l37.4 1.9l6.4-1.8l13.2 1.8l3.5 0l9.2 .2l5.5-.1l.8-1.8l3.2 .1l19 1.2l4.1-1.3l7.2 0l18.7 0l11.3 1.6l25.2-.2l5.3-.1l34.8 .3l17.7-1.8l3.9 0l41.8-.1l25.8 1.7l8.6 .1l5.6-1.5l20.2 0l1.9 1.5l16.8-1.7l21.1 1.7l5 .5l33.1-.3l7.7-.3l-506.4 2.6l20.9 .4l4.2-2.1l1.5 1.5l.4-1.6l13.7 .4l.6 1.6l37.1-1.6l19.3 1.9l4.7-.5l5.1 .2l5.1-.4l22.4-1.7l2.5 0l10.2 .1l15.7 1.9l13.6 .3l1.3-1.8l.7 1.3l1.4-1.8l.8 2l3.1 .5l12.1-2.1l12.7 1.9l14.4-1.8l2.9-.5l10.3 .2l1.7 1.9l2.6-1.6l6.7 1.9l25-2.2l5.5 1.8l3.3 .5l27 0l3.8-.5l5 .2l6.1-1.9l2.1-.3l18.6 .1l19.3 1.8l5.3-1.7l25.2 1.9l10.8-2l10.3 .3l1.7 1.5l18 .4l9.7 .1l11.3-2.3l19.6 1.7l-489.2 2.7l5.1-.2l3.9-1.4l45 2.1l2.3-.4l8.4 .3l26.5-1.9l10.7 1.5l5.8 .2l27.5 .3l25.9-.6l40-1.5l4 .2l36.9-.1l43 0l13 0l3 1.8l1.6-2l1 1.5l16.1 .6l9.1-.2l37.4-1.9l13.9 2.1l4.2-1.9l.6 1.6l26.1 .4l3.8-2.2l3.2-.1l32.1-.1l25.5 .4l2.5 1.4l40.4 .5l1.7 0l-525.6 2.1l4-1.7l37.8 .3l1.8 1.4l9.5 .6l1.5-2.2l6.5 1.5l7.6 .2l4.7 0l2.5 .1l20.9 .2l5.7-2.2l2.3 0l24.2 2l34.7-1.6l7.2 1.6l21.1-1.6l.9 1.4l8.7-1.6l15.4 1.6l9.9 .6l23.6-2.5l8.1 0l23.3 2.5l32.8-2.3l3.7 2.2l13.2 0l10.5-2.3l2.1 1.6l16.8 .3l31.6-.2l6.4-1.7l14.3 0l22.2 2.3l25.1 .1l14.3-2.1l7.1 1.5l13.1-1.7l20.7 .3l4.7-.3l4.3 1.9l-447.7 2.4l17.5 .2l22.5-1.9l14.4 1.8l2.6 .2l5.5-1.9l35.2 1.5l23.7-1.6l9 2.1l7.2-.6l6.8-1.7l6.3 2.2l26.8-1.7l19.2 1.6l9.6-.3l26.3 .1l7 .2l46-.2l17.9 .2l2.5 .3l6.1-2.4l15.7 .2l9.3 2.1l4.7 .1l9.8-.5l25.2-1.8l36.9 1.6l10.9-1.5l9.3 1.5l6.3-1.7l3.1 1.7l-507.3 .9l6.8 1.8l13.4-.1l12.8 .3l15.4-1.9l9.5 2.1l12.8 .2l10.6-.7l45.4 .4l18.4-.1l16.7 0l19.7-2l4.8 .2l2.9 .1l24.5 1.5l22 .3l50.8-1.8l3.8 1.9l.6-2.1l1.2 2.1l1.5-2.3l18.4 0l21.6 1.9l13.1-1.5l13.5 0l17.3 0l5.7 0l6.3 1.9l4-2.1l.3 2l9.2-2.2l2.2 2.3l8.6-1.9l3.9 1.4l4.6 .3l4.1-2l6.7 2.1l9.9-.1l4.5 .3l3.4-.5l6.1-1.7l19.5 2.1l37-2.2l-503.7 2.9l78.1-.3l24.1 .2l.1 1.4l4.2-1.5l12.8 .1l1.3 1.8l5-.4l11.6-1.3l18.7 1.4l15.4 .1l22.2-1.8l5.4 .4l24.9-.4l9.5 1.6l15.1 .2l37.7 .3l8.5-.5l5.2-1.3l.1 1.9l17.8-.1l49.2-2.1l11.9 2.3l57.8-.4l5.5 .4l5.6-2.4l1.4 1.9l3.7 .1l5.4-2l15.3 .2l-488.7 4.1l11.7-1.7l30.1 .2l31.7 1.4l9.8 .6l6.1-.1l12.7 .3l28.6-2.2l5.9 1.6l39.8-1.4l2.3 1.5l13.2-2l17.3 2.1l1.6 .4l11.3-2.3l6.7 2.1l8.5-2.1l7.5 2.1l12.2-.1l4.7-.3l4.3-1.9l17.5 .5l12.8-.3l11.9 2.2l15.1-.3l22.4 .3l10.4 .1l6.6-2.3l5.8 .1l18-.1l10.2 1.9l12.3-2l14 2l5.2-.1l2.7 .3l4.5-.5l3 .7l2.4 0l21.6-2l28.8 2l19.3-2.3l7.7 .1l-523 4.2l38.4 .2l6.3-2l18.2 .1l16.5 1.5l13.1 .5l30.8-.4l11.3-1.8l4.7 0l3.5 2l3.9-1.9l15 2.1l56-.2l12.7-.3l13.3-1.5l12.8-.2l19.9 1.7l6-1.6l4.4 .3l30.5 1.9l1.3-.5l1.3-1.6l7 2l7-2.2l2.4 .4l8.6 2l42-2.4l7.5 .3l6.4 1.7l8.9-2l15 .3l13.4 .2l6.6 1.5l2.5 0l13.2-1.9l6.3 2.2l26.8-2.1l6.8 1.8l10.8-.1l7.1-.1l-521.1 2.7l26.9-1.6l18.2 1.4l8.8-1.5l3.1 0l.7 1.9l8.2-.2l17.9 .1l9.3-2.1l10.1 .4l2.2-.2l5.7 1.7l7.2-1.4l3.4 2l10.3-.7l2.9 .3l16.3-2.1l15.7 0l1.7 0l20.3 .4l2.2 1.6l26.8-1.9l.7 2.1l18.2 .3l7.2-.1l5.9 0l18-.1l2.3 0l28.5-2.2l2.4 2.4l22.5-.6l31.4-1.9l28.8 .3l1.7 .1l20 1.4l15.1 .7l2.9-.2l30.7-1.8l6-.2l11.5 1.6l10.2-.2l26.9-1.5l-495.3 4.1l50.8 .2l26.4-1.9l1.5 2.3l5.2-.5l21.7-1.6l10.9 .2l3.6 1.7l3.9-2l19.7 .2l13.6 0l9.4 0l6.8 1.7l25 .1l2.6-.4l26.8-1.7l3.6 2.2l26.8 .2l.2-2l12.4 1.7l28-.4l5.2 .7l7.7-2.3l7.2 2l4.6 .3l43.7 0l9.6 0l2.9-.3l2.5 .3l27.8-.2l3.1-.4l4.2-1.6l9.1 2l1.1-2.1l1.6-.1l22.6 2.4l2.5-.4l2.9 .4l19.9-.4l8.9-1.5l2.8-.2l1.1 2.1l4.4 0l17.8-.3l-500.9 2.5l24.5-1.6l2.8-.5l17.8 .5l60.9 0l29.9 1.5l6.2-1.7l11.4 1.7l6.9-1.5l2.6 1.7l41.9 0l7.8-2.1l27.8 2.4l14.8-.5l17.4 .1l5.4 .2l4.7-1.9l6.2 1.8l2.1-.4l3.2-1.6l11.7 2l18.8 .2l7.5 .1l.2-2.4l1.3 2.2l23.7-.3l10.1-.2l11.4-1.5l8.8 2.2l10.6-.8l4.7 .8l5.7-.2l52.8-.4l1.7-1.5l8.3 2l18.8-.2l-493.8 2.4l22.3 .2l5.9 .1l1.3-2.2l41.6 2.2l18.2-.5l8 .3l21-1.7l15.1-.1l4.8 1.8l4.5 .2l4.5-2.1l1.9 .1l1.2 1.8l3.9-1.7l2 1.8l7.1-.5l.9-1.6l2 2.1l1.4-.5l12-1.2l9.7 1.5l7.6-.3l1.2-1.3l.4 1.9l20.4-.6l9.3-1.5l6.6 2.1l13.6-1.9l33.9 1.6l17.8-2l2.8 2l17.5-1.9l26.9-.1l20.6 .3l6.9 1.8l23.5-2l12.3 2.2l4.4-2l7.7 1.9l14.6-1.8l4.9-.1l64.2 0l7.1 .1l-531.1 2.6l13.9 2l1.9-.2l4.9 0l14-.3l12.1-.1l14.2-1.4l12.2-.1l1.6 1.3l7.2 .7l27.9-.2l6.2-.4l2.1 .2l33.2 .4l12-2.2l6.9 0l7.4 .1l22.7-.1l1.3 2.1l6.2-.6l2 .1l3 .7l17.2-.2l16-.5l8-1.5l1.8 1.7l3.8-1.6l1.9 1.5l5.7-1.9l13.5 .3l33.5 1.4l27.5-1.5l7 .1l1.1 1.9l7.5-2.1l15.2 2.4l7.5-2.5l36.8 2l8.4-1.6l8.8 1.8l40.6-.1l14.4-1.6l3.9 1.7l9.9-.3l1.2-1.8l1.1 1.9l1.3-1.9l16.3 0l-524.7 3l30.8-.5l24.1 2.2l14.3-1.8l22.9 0l13.6 1.9l51.3-.1l3.3 .1l2.1-.3l12.4 .3l3.1-.1l6.4-2l8.2 2.2l7.7-.1l10.2-.5l24.7-1.3l18.3 1.5l13.8-.2l1.9 0l3.5 .2l34.1-1.6l6.6-.3l9 2l2.5-.3l18 .5l10.9-.6l24.9 .4l14.6-2.1l7.2 .4l4.2 1.9l54.5-2.2l22.5-.1l8.3 0l7 0l4.9 2.3l-494.9 .5l40.3 0l2.7-.1l2.7-.1l3.4 2.1l1.4-2.1l14.2 2.2l18.6-2.3l6.5 2.2l3.3-.3l34.4-1.5l2.6 0l6.7 2l3.4-2.4l6 2.2l14.7-2.1l46 .4l8.9 1.9l6.3-2.1l73.9-.2l30.1-.1l32.2 1.9l21.7-1.5l.6 1.3l8.7-1.6l11.1 .1l21.1 1.9l36.8-2l11 .4l.4 2l7-2.3l.7 1.6l28.1 .1l9.5-1.6l.5 2.2l5.2-.7l-527 .8l12.4 .2l2.9 0l17.6-.2l8.2 .1l1 1.8l.5-1.7l46.9 .1l12.9 1.5l25.3-1.8l5.5 2.1l23.2 .2l9.6-2l2.2 0l11.3 1.5l7.4 .1l19.8-1.7l2.5-.2l18.6 1.9l1.6-1.6l4.2 2.1l4.6-.5l51.4 .5l3.3-2.3l2.3 .1l6.3 2.1l33.3-.3l2.7 0l4.7-.1l3.8-1.6l9.9 1.8l23.2-.2l3.3-1.9l20.4 .3l1.6 1.6l8.7-1.8l4.4 .1l30.2 1.6l44.4-1.4l11.8 1.5l5.9-1.5l1.4 1.8l-524.8 2.8l46.1-.4l5 .2l15.1-2.2l16.6 .2l5.1 1.5l4.4 .1l13.2-.2l12 .1l11.2-1.6l8.3 0l1.7 1.9l1.8-.3l2.9 .1l20.5 0l13.1 .4l9.1 0l11.5-2.1l7.6-.2l49.9 2.4l6.3-2.3l16.9 2l12.8-.2l1.7-1.7l4.1 2.2l7.3-.4l4.3-1.5l.7 1.8l12.5-.4l1.4-1.4l15.8-.2l1.2 1.8l30.7-.3l7.1 .3l10.9 .2l8.6-2.2l9.1 2l12.2 0l18.7-2l39.8 2.2l4-2.1l12.1 .3l5.4-.4l3.6 2.2l9.3-2l15.3-.3l5.1 .3l-494.8 4.7l10.7-.7l1.3-1.3l4.3-.3l12.6 1.8l19.8 .1l39.8-1.9l9.9-.1l19.5 2.1l3.5-2.1l2.9 .3l5-.1l15.9 2l1.7-1.9l34.6 2.1l14.2-2.1l77 2.1l24.3-2.2l28.9-.2l3.2 2l9.9 0l7.3-1.6l39.2 1.8l3.1-1.8l2.9 0l13.5-.3l15.6 1.6l3.6 .6l22-.5l17.3-1.6l16.4 1.7l1.3-1.4l9.1 1.9l6.4-2.4l5 0l8.3 1.9l-547.3 1.1l28.8 2l33.4-.4l1.7 0l7.5-.2l33.8-.2l22.4 .5l3.2-.2l8.1 .2l8-1.8l4 1.8l7.5 .2l14.3-2.4l37.2 2.3l7.3 .2l5.7-.5l16.5-1.6l5.9 2.1l3.9-2.4l10.6 .4l21.5 1.3l.8-1.8l21.3 .3l21.7 2.2l8.6-2.2l11 1.7l7.1-1.8l1.9 .3l11.8 1.8l4.6-.5l7.7 .5l2.7 .2l4.8-.7l6.8-1.3l4.2 1.3l1.9-.1l5.2 .4l42.1-1.6l5.5-.5l13.7 2.1l12.7 .2l12.2-.1l9.8-1.9l26.3 2l2.7-.1l-524.4 2.3l6.4-1.6l11.1 .1l51.8 2l11.3-2l1.2 1.7l13.8-1.7l6.7 2l28.3-.7l1.9-1.7l25.8 2.4l11.3-2.1l11.6 1.7l3.7-1.8l10.1-.2l24.7 2l13.2 .3l12 0l66-.6l5.5 .5l12.3 .2l13.4-.4l5.6 .4l5.3-.5l46 .1l9.3 .4l20.1-.3l3.3-.1l4.7 .1l9.8 .1l5-1.8l12.3-.1l4.3 1.4l26.5-1.6l22.2 0l19.3 2.1l-533.1 .8l14.4 1.5l10.7-.3l.5-1.3l2 2.1l1.7-.7l20.8 .6l15.8 0l7.4-.6l23 .3l12.4-.4l1.1-1.3l2.6 0l33.1-.2l26.5 1.9l2.3-.2l8.6 .2l4.5 0l3.8-1.7l12.1 1.6l19.5-1.6l28-.4l10.8 2l1.2-1.5l1.5 1.8l23.6-2.3l6.9 2.3l3.5-2.1l30 2.1l7.5-.2l7.6-.3l9.3-1.6l.1 2.1l16.6 0l2.2-.1l6.9 .1l1.7-2.1l14.1 1.6l3.9-1.7l3.1 2.3l14.8-2.4l1.2 2.2l17.2 0l8.3 .3l2.7-.6l2.3 .5l7.1-.4l12.7-1.5l6.2 1.2l20.1 .3l11.4-1.9l16.5 2.1l-533.9 2.1l68.6 .7l33.6-.4l40.5-.2l3 .1l2 .2l4.5 0l11.9-2.1l2.4 0l35.2 1.9l6.8 .1l11.6-1.8l16.2 1.6l2.9 .1l21.2-1.8l28.3 0l8.7 .2l7.4 .1l4 1.4l5.3-1.5l3.7-.3l11.5 2.1l12.7-1.9l35.2 1.9l1.5-1.6l47.6-.5l6 .1l10.6 2.2l33.3 0l3-.5l24.1-1.7l7.6 .4l4.2 1.7l6.6-1.7l1.3 1.7l27.8-.4l-539.9 2.6l7.4 .3l16.5-1.7l4.6 1.3l3.9-1.4l.4 1.5l3.9-1.5l8-.3l19.2 2.1l38.8 .3l19.2-2.5l13.1 2.5l12.4-2l19.7-.1l11.4 2.1l20.7-.3l12 .2l5.5-.2l15.5-.2l38.8-.1l14.5-.1l2.8 .4l3.2-1.9l3.9 2.2l9.9-2.1l6.8-.3l11.5 2l16.6-1.6l15 1.9l4.2-.2l5.1 .3l27.3-2.1l5.3 .1l12.8-.1l7.7 .1l.6 1.2l1.7-1.2l18.3-.3l6.9 0l16.7 2l16.4-1.8l5 0l14 1.8l2.5-.4l2.8 0l8.2 .1l18.8-1.7l3.1 2.2l-508.4 2.1l.9-1.6l12.1 1.9l8.5-1.8l16.8 2l37.9-.7l15.6 .1l12.8 .6l12.9-.5l3.1 .3l3.5-1.8l2.3-.4l16.1 1.7l16.4 .1l16.8 .1l3.7-.2l9.6 .3l10.9-1.9l41.9 2l9.2-2l29.6 2l14.2-2l6.2 2.3l9.4-2.1l6.3 1.8l32-2l55.6-.1l7.3 .5l22.5 1.4l15-.2l-475.3 2.7l20.8-1.7l14.8 2l5-.1l3.5-1.8l37.3 2l52-2l1 1.7l5.4 .3l5.7-.2l13.6-1.9l23.6 .2l14 1.7l.7-1.8l1 1.6l14.8-1.5l2.9 1.5l11.1 .5l3.6-2.2l41.4 2l2.9 0l8 .2l4.8-.2l1.2-2l6.5 2.1l28.8-2l15.1 1.8l4.2-.1l8.5 .3l3-2.2l1.1 1.7l11.2 .4l15.4-1.9l8.7-.2l36.7 1.9l19.8 0l47 0l11.8 0l24.3-1.7l4 1.6l4.8-.2l5.5 .7l-537.8 .4l5.3 .3l9.6-.5l14.6 2.2l9.5-.2l7.7-.1l4.7 0l31.4 .1l17.9-.1l20.6 0l5.1 .5l61.2-.5l4.9 .5l23-.5l34-1.9l4.2 1.8l5.7-1.6l30.3 1.7l26-1.5l7.2 2l6-2.3l4.2 .1l24.7 2l17.7 .1l1.7-2.1l46.2-.1l23.6 2l3.7-1.8l20.5-.1l9.8 0l27.9 2.2l3.1-2l12.4 1.9l-498.1 .7l10-.2l29.9 2l7.1-.4l2.7 0l46.5-.2l2.5 .1l18 .2l2.1 0l11.6-1.7l17.1-.1l11.3-.2l4.9 .3l1.4 1.4l1.7 .4l10-2l10.8 1.9l40.8 .5l26.3-2.4l5.2 .3l22.6 1.4l3.9 0l17.8-1.6l4.6 0l7.2-.2l19.8 2.2l10.2 .2l15.2-.3l2.5 0l4.1-1.6l21.3 1.7l.7-2.1l43.8 0l1 1.8l12.1-1.5l14.2 2l28.9-2.1l12.8 0l-466.6 4l28 .4l22.1-1.6l3 1.3l17-1.4l14.9-.3l27.2 2l5.1 0l5.5 .3l.8-2.2l29.9 2.2l3.7-2.4l6.8 .1l1.7 2l2.5-.2l19.8-.1l3.1 0l13.4 0l2.6 .4l2.9-2.1l6.3 1.8l23.9-1.6l13.2 .1l27 2l23.5-2.1l19.6 1.5l45.1-1.5l41.6 1.8l-451.1 .9l11.1 2l28.9-.1l43.8-2.1l40 2.1l54.1-2.1l13.9-.3l23.1 2.1l13.5 0l7.2-.1l16.1-.1l11.7 .6l12.5-.4l19.2 .3l15.6-2.3l6.7 2.4l13.2-.1l39.8-2.4l7.5 1.9l8.4 .4l.9-1.9l52.1 1.5l16.2 .1l15.5 .2l21.1-1.9l13.4 1.5l-520.9 2.5l1.7-1.7l8 2.3l2.5-.6l8 .2l11 .1l8.6-1.6l28.4 0l20.1-.3l21.7 1.7l64.1 .3l3.7-2.1l15.6 1.7l11.6-1.6l14.5 1.6l4.3-1.3l24.1 1.5l6.2-1.8l15.6 1.9l4-1.7l11.8 1.8l1.4-1.9l30 .1l9.8 1.5l10.8-1.7l2.1 1.7l22.6 .3l47.8-2l21.8 .1l20.2 1.6l9.7 .1l41.8-1.7l23.4-.2l-546.2 5l9.9-.3l1.9-1.7l4 1.7l12.2 0l28.9-1.9l6.7 2.1l14.3-2.2l20.2 .2l19.6 1.7l8.9-1.6l3 1.7l11.2 0l3.4-1.7l9.7 1.3l30.3 .6l.5-2.3l30.6 .4l3.6 1.9l9.5-2l15.1 0l19.7 2.1l12.5-.2l3.6-2.3l12.1 2.5l7-.4l15.5 .2l2.7-.4l19.6 .5l4.9-2.3l.9 1.9l2.7-.1l2.9 .2l6.3-2.1l1.7 .1l6.1 1.7l5.8 .7l7.5-.4l51.4-.2l3-1.6l4.7 1.8l21.6-1.6l30.3-.5l3.8 1.8l5.3 0l2.1 0l-439.8 2.9l7.1-.4l20.8 .6l20.6-.6l5.2 .3l2.9 .2l27.9-.4l6.3-1.8l8.2 2.2l2.9 0l4.2-1.9l17.6 .1l47.5 2l1.7-.2l16.1 0l25.8 .2l25.4-.2l4.4-.5l6.3-1.7l2.7 0l7.4 2l59.9 0l20.3-.2l50.5-1.4l7 2l37.9-.5l14.3-1.6l3.2 1.7l35.1-1.6l-543.5 4.5l1.5 0l16-.2l25.8 .1l8.4-2.2l33.3 0l3.3 1.8l17.8-.1l10.2 .1l24.9-1.5l2-.3l25.4 2l22.5-.3l18.1 .3l4.2-.4l19.4-1.7l1 1.9l2.2-1.5l34.2 1.9l32.5-.3l1.1-1.6l4.8 1.8l7.6 .2l11.8-.2l12.7-.1l2.6 .3l30.5-2.1l4.2 .2l46.8 1.6l9.8-1.7l1.7-.4l4.1 2.2l5.1 .3l18.5-.5l15.4 .1l1.5-2.1l8.9 1.8l2.7-1.7l4.7 1.8l20.4 .3l-514.2 2.1l9.2-1.6l11.6 1.6l9.6 .6l46.4-.4l18.4-1.6l3 .2l6.5 1.7l14.3-1.9l11 1.4l17.2-1.4l6 1.5l8.8-1.8l4.3 1.9l6.1-1.5l2.3 0l3.7 1.8l7.6 0l3.1 .2l17.9-.4l1.8-.3l16.5-1.7l28.6 .5l.9 1.6l23.5-.4l2 0l2.9 .3l14.5-1.7l4.6-.1l8.5 2.2l11.6-2.1l8.7 2l28.4-.1l26.5-2.2l19.3 2.1l7.4 .2l1.9-2l21.5 1.9l13.1 .1l1.4-2l12 0l5-.3l17.5 2.2l16.2-1.8l38.7 1.8l-511 2.8l16.3-.8l27 .3l6 .1l8.5-1.8l4.3 1.7l21.1-1.8l10.2-.2l2.6 .3l9.2 1.9l4.5 0l12.9-.2l3.9-1.6l7.5-.1l47.7 2.2l3.2-2.2l1.3 1.8l3.1-.2l4.2 .4l12.5-2.3l57.6 .1l32.1 2.4l53.5-.1l12.9 0l3.1-.6l12.4 .2l3.3-.1l17.3 0l14.2-1.6l47.9 .2l2 1.2l25.6 .6l-514.6 2.7l12.5-.6l6.2 .4l42.3-.4l10.2 .1l13.8 .4l48.7-2.1l13.5 .2l41.4 1.6l1.2-1.7l11.2-.1l.2 2.1l20.5 0l31.3 0l3.5-2.3l57.3 1.8l20.5 .4l25-1.7l34.8-.2l6 1.9l11.4-.1l.2-1.8l44.1 .1l19.3 1.7l5.3-1.8l11.9 1.6l2-1.9l12 .5l3.3-.2l-492.4 4l13.1-1.7l27.9 2l12.2 .1l19.5-2.2l9.6 .4l13.7 1.9l8 .1l7-2.4l24.1 2.1l7.7 0l5.2 0l35.7-.1l2.3-.1l1.5-1.6l14.2 2.2l.3-2.3l26.8 1.8l12-1.5l16.7 1.8l52.1-2l5.3-.3l28.2 .5l43.5-.2l60 1.9l7.1 .3l2.5-.8l5.5 .1l3.2-1.3l13-.1l1.7 1.5l25.7 .3l-489 2.7l4.4 0l3.2 .1l40.9-.1l20 .1l8.1-.7l4.3 .4l25.6-2.1l18.7 1.7l4.8 .5l6.3-1.9l59.5 1.8l18.5 .2l16.3-2.1l46.9 2.1l8.7-2.2l1.5 1.7l1.4-1.4l2 1.9l6.6-2l.1 1.6l23.7-.1l22.4 .2l25.2-1.6l4.1-.4l3.9 2.3l10.4-.3l12.7 .2l6.5-2.1l19.4 2.2l16.6-2.2l10.6 1.9l30.2-1.8l-527 2.7l34.8 1.6l1.2-1.5l5.6 1.7l11.3-.4l1.4-1.7l4 .4l15.9-.2l6.4 1.8l11.9 .2l28.8-.1l2 0l3.6-1.8l5.3-.3l1.5 2.4l13-.7l.8-1.8l10.9 .5l23.7 1.7l3.7-1.9l28.9-.3l42 2.1l4.2 0l30.6 .2l13.2-.5l23.7-1.7l11.6 2.4l4.2-2.4l5 0l5.7-.1l56.8 2.5l1.4-2.4l4.6 .4l4.2 1.7l17.7 .1l7.5-2.1l3 2.2l10.9-.2l7.6 0l6.5-2l8.8 1.6l3.8-1.4l24.7-.2l12.4 .3l2 1.7l-518.8 2.4l51.5-2l2.5 .4l17.6 1.5l14.9 .5l4.9-.6l5 0l21.8-1.8l11.5 2.1l.7-1.7l10.2 2l42.5-.3l12.1-2.1l5.9 1.9l8.4-1.6l13.4 0l47.8 2.1l37.9-.2l31.3-2.2l9.4 1.7l4.3-1.5l7.7 1.9l48.3-.1l2.1-1.6l13.3 0l10.2 1.9l14.5-2.2l14 1.6l22.9 .3l1.3-1.9l1.6 1.9l17.6 .2l-444.6 2.5l23.4-.5l17.5 .7l7.4-.7l40.4 .8l43.4-.4l10.1 0l33.2 .3l18.2-.6l18.8-1.3l29.1 1.5l25.4-1.6l5.2 2l42.2-1.9l4.9-.1l4.3 1.7l19.7-1.6l12.9 1.6l1.7-1.7l6.8 2.1l10.6-.8l6-1.2l3.4 1.8l1.4-2.1l7.4 0l-448.2 4.4l12.3-.3l9.9 .2l48.8 .3l27.9-.4l51.3 .4l13.5-2.1l70.2 1.7l44.4-1.7l39.5 2l13.2-.2l18.4 .1l59.3-1.7l17.2 2.1l10.4 0l8.6-2l14.5 1.5l5.2-1.8l5.7 .1l-469.2 4.1l5.3 .7l1-2l30 1.7l80.5 .2l10.4-.4l23.3-.2l55.8 .5l34.5-1.8l11.1 1.4l33.9 .1l23.5-1.7l15.6-.2l4 1.6l16.2-1.4l9.3 2.2l61.4 0l11.4-2l1.3 1.9l3.6-2.2l10.1-.1l5.2 .1l1.9 1.6l1.6 0l11.8-1.6l20 0l7.1 2.3l12-.3l-459 .5l13.9 .4l56.8 1.8l5.8-2.3l14.5 2.4l9.9-.5l2.5 .3l17.2-2l20.7 1.6l16.9-1.6l35.4 1.7l2.5-1.8l2.9 .2l4.9 1.7l14.6 .3l2.3-.5l26.5-1.5l9.7 1.6l53.7-.2l5.3 .2l2.9-1.7l1.1 1.9l23.8-.4l4.9 .1l11.9-1.7l43.9 1.9l13.2 .4l-459.4 .6l22 1.8l10.4 0l10.7-2l26.7 1.5l4.9 .5l22.8-1.8l5.5 1.8l5.1-.2l6.5-1.6l14.7 1.6l9.1-.2l8.2 0l3.3 0l4.5-.1l1.1-1.7l4.2 2.2l31.4-1.9l11.6 1.7l16-1.7l7.4 1.9l16.5-2.2l4.4 .2l4.2 1.5l2.6 .6l5.1-.1l13.5-2.3l63.9 .3l11.6 2.2l9.9-.5l6.4-1.5l6.2 1.5l6.6-1.7l5.1 .1l27.3 2.1l4.4-.1l25.5-.5l3.3 .3l6.9-2.2l25.8 2.4l-435.3 .7l11.5 1.2l8.1-1.2l48.2 1.8l34.5 0l1.4-2l29.2 1.7l4.2-1.6l8 0l8.1-.3l15.3 0l15.3 1.7l5-1.4l59.6 1.7l1-2l35.1 .2l7.7 1.6l4 0l1.2-1.4l48.1 1.4l7.2-.2l13.3 .3l1-2l1.2 1.7l23.5 .2l5.2-1.9l18.6 .3l2.9 1.8l7.6-2l11.6 1.8l-439.6 1l20.1 0l19.3 1.7l42-1.7l26.6-.2l7.8 2.3l17.3-2.5l4.9 .2l2.6 .2l17.2-.1l25.7 .1l2.1 2l10.9-2.4l4.6 2.1l4.1-.2l3 0l10 .3l2.2-.4l9.9-1.8l1.2 2.4l6.7 0l4-2l10.5-.1l4.9 .1l24.3 2.1l9.7-2.5l28 0l6.3 2.4l39.3-2.2l21.6 1.9l1.9-.2l5.7 .4l15 .2l14.5-2.5l23.7 2.5l-479 .5l42 1.8l2.3-.4l19.2-1.5l38.3-.3l21.2 1.8l21.9-1.7l1.5 2.3l5-.6l7.3 .6l6.2-2.4l9.7 1.7l13.9-1.2l4.9-.2l7.3 1.6l19-1.8l21.1 1.9l36.1 .2l10.9-1.7l13.6 1.5l20.6-.2l18.9 .5l12.5-.3l27-1.6l12.8 1.4l36.7 0l12.9 0l27.2 .2l-428.7 2.2l20.3 .6l6-2.1l5.9 2.3l29.9-2.2l4.2 2.1l4.1 .1l51.7-.7l17 .1l7.1-1.5l15.4-.1l13.3 2.1l1.1-2.2l12.6 1.8l1.7 0l7.4-1.6l.5 1.4l4-1.4l3.6 1.4l7.2-1.4l51.6 1.5l6.4-1.8l.8 1.7l3.6 0l14.2 .6l10.3-.4l29.4-1.5l7.1 2l88.7-.6l6.9-1.6l-426 4.7l23.8-2l29.8 2l13.3-2.2l6.6 2.1l7.1 .1l14.8-2l11.7 1.6l5.9-1.9l22.8 .3l5.2-.3l2.9 .3l.6 2l15.2-.3l7.7-1.9l13.2 2l13.5-2.1l7.7 1.9l1.4-.3l6.1 0l35.2 .3l3-.1l12.7 .2l.6-2.1l1.7 2l8.9-1.6l2.8-.4l18.9 2.4l7 0l5.8-.7l9.3-1.4l10.5 1.4l25.8 .4l28.9 .3l13.9-2.2l33.2 2.1l-447.9 .5l10.8 1.7l15.7 0l8.2-2l5.3 .2l22.1 1.8l7.3 .4l49.1-.7l13.2 .2l26.9 .6l10.9 0l2.3-.7l34.3-1.8l24.8 1.9l9.9 .5l15.5-.3l1.2-1.6l18.4 1.5l12.9 .4l29.7-2l25.7-.1l4.8-.1l15.2-.1l11.1 2.4l20.9-.5l36.7-1.6l14.5 1.4l-447.6 2.7l7.6 .3l1.6-2l21.2 1.8l74.8-1.7l43 1.4l18.1 .2l19.2-1.5l18.9 1.6l.6-1.6l42.8 1.7l12 .3l1.4-2.3l10.2 .2l2.1-.1l14.4 2l24.3-2.1l4.5 2.2l.6-1.9l34.4 1.8l14.2-2.2l20.6 0l1 2.2l7.9-.4l1.7 .1l3.5 .1l18.9-2l-436.6 4.3l34.2 .2l15.2 0l57.5-1.6l12.8 1.9l13-.4l26.3 .2l31.3-1.6l24.3 1.8l7.1-.5l5.3 .2l12.5 0l5.7-.3l12.5 .7l18.6-.5l21.9 .4l2.6-.4l15.8 .1l2.3 0l23.4-.2l7.1-.1l2.3 .2l10.2-.2l8.8 .8l31.6-2.2l38.7 .2l3.7 1.9l2.2-.5l17.5 .5l4-2.1l5.8 1.8l-371.9 .6l32.2 2.1l5.6 .1l9.4-.6l5.4 .5l19.2-2.1l56.6 2.2l36.1-.2l14.8-1.7l21 1.3l6.6-1.3l15.7-.1l5.7 2l5.8-.4l1.1-1.8l3.1 2l25.1-2l1.1 1.7l35.2 .5l27.4-2.1l25.4 0l17.6-.1l1.7 1.8l5.8-1.9l-455.9 4.5l7.7 .5l16.1-2.4l39.5 1.8l30.8 .5l29.8-.2l4-2.2l9.3 1.7l15.6 0l4 .7l12-2.4l1.8 2l31.3-1.9l2.1 2.4l6.2-2.4l5.5 2.4l3.3-.1l5.1-.1l13-1.9l15.4-.1l3.6-.3l13.5 1.9l16.7-1.4l17.6 0l5.9-.5l27.7 .4l1.2 2.1l12.7 0l3.8-2l7.8-.2l7.3 .1l12.4 .1l12.4 1.8l12.9 .1l-380.8 .6l20 1.9l.7-1.9l65.6-.4l8.5 .4l64.9 1.8l8.7-1.9l27.5 1.9l15.4-.5l10.9-1.4l.9 1.4l7.5 .5l5.6-.4l30.6 .1l4.9 .4l6.4-2.3l9.4 1.9l13.6-1.8l5.6 .2l8.1 1.8l22.3-1.7l1.7 0l16.8 1.6l3.6 .3l27.8-.5l6.4-1.8l17.5 .2l-438 2.3l62.4 2.1l1.7-1.9l17.2 1.7l8.1-1.6l14.1 2l22.9-.3l6 0l8.4-1.6l2.2 0l7.5-.2l53.4 1.6l10.8-1.6l2.2 .3l8.9 1.6l10.3-.1l8.6 .1l2.2-.3l14.8 .1l4-1.5l3.4 1.9l6.2 .2l5.1-.1l16.8-.3l6.2 .4l.7-2.3l1.7 2.2l.3-2l20.2 1.6l26.1-1.7l2 0l6.3-.2l15.4 .4l36.2 1.2l25.8 .3l3.4-1.9l-441.2 4.8l52.6-2.3l33.9 2.2l21.6-1.8l8.7-.3l11.2 2.1l4.4-.3l36.4 .4l10.6-.6l21.8 .6l28.4-.2l16 .1l14.1-2l32.5 0l22.3 1.6l14.1-1.5l13.2 2.1l8.5-.2l4.5-.1l16.7-1.8l13.4 1.8l25.5 .1l11.4-2l6.1 .2l-369.6 2.4l2.9 .1l14.9 1.9l7.4-.4l9.8-.1l17.2 .3l95.1 .4l30.9-.3l4.3-.1l23.5 .1l7.9-.2l22.6-.3l6.1-1.4l1.4 1.7l9.2-1.8l11.6 1.5l25.3 .5l15.9 .2l1.8-.2l20.8 .2l.9-2l12.1 2.1l12-.3l26.6-2.2l3.9 1.9l-418.4 1l13.7-.1l42.1 2l47.5-.5l33.7 .4l4.4-.2l45.8 0l2.7-1.9l2.3 .1l2 .4l2.7-.2l17.5-.2l10.6-.1l12.5 .4l19.8 1.5l2 .5l5-.2l18-.1l6.6-1.8l3.5 1.7l11.9-1.7l13.6 1.8l1.7-1.8l9.8 0l6.8 2.1l11.3-1.9l2.4-.1l16.9 1.6l4.2 .2l8.4 .1l9.9-.3l25.9 .1l4.9-.2l11.7-1.5l-449.6 4l48.5 .5l27.7-2.1l11.4 1.7l6.8-.2l12.9 .1l10 .2l32.8-2.1l41.8 1.9l27.8 .2l6.1-1.6l2.7 0l26.5 2l39.5-2.4l22.8 .3l12.9 .1l9.9 1.3l10.9-1.5l2 1.8l14.1 0l4.4-1.8l4.8 0l9.2 1.6l8.3 .1l1.2-1.9l.2 2l12.7-.3l7.5 .6l24.4-2.1l-416.1 2.6l32.5 .2l1.4 1.3l53.2 .6l87.5-.5l18.8-1.9l47.9 0l17.9 .1l26.7 1.9l64.3 .3l17.7-.4l35.3-1.4l-414.8 2.4l13.1-.4l19.4 .4l27.5 1.5l41.4-1.6l85.3 1.7l6.5-1.5l16.3-.5l34.8 .1l11.8 1.7l15 0l5.5 .1l29.8-1.8l6.4 1.8l30.2 .4l1-2l21.4 2.2l2.8-.6l23.9-1.9l27.6 1.8l10.2 .7l12.1-.6l-381.6 2.9l57-.5l1.1-1.7l13.3 2.3l31.5-.1l40.6 .2l16.6-2.4l20.9 .4l17.9-.1l22.9 1.7l22.5-2l20.9 .2l8.5 1.8l6.7-1.9l.3 1.9l8.5-.1l-304 1.1l29.2 1.7l11.1-.5l31.9 .6l88-2.2l2.8 .3l8.5-.3l3.6 1.8l5.4 .2l11.4-1.8l14.1 1.6l21.8 .2l2.6 .4l10.7-.8l15.9-1.2l12.7 1.4l6.5 .4l9.3-2.1l9.6 2l25.5 .2l7.8-.4l6.7 .2l2.9-.2l4.3-1.5l1.7-.5l14.6 1.8l8.8-1.8l12.9 .2l5.5 1.6l-378.4 3.2l7.4 0l125.9-.7l8.4-1.4l2.9-.2l18.4 2.3l39.5-.7l55.1 0l17.9 .5l16.1 .2l.3-1.9l22.9-.5l8.7 2l16.2-.3l3.4-1.6l31.1 0l11.5 1.8l1.8 .5l-404.5 .3l75.8-.1l101.1 1.9l2.9 .5l4.2-.7l12.5-1.7l3.5 2.1l20.6 .2l17.1 .1l15-.4l18.8 0l8.4-1.7l27.4 1.7l25.1 .4l2.3-.4l4.2-1.7l10.6 1.5l13.3 .6l16.7-2.3l1.4 2.2l11.3-2.1l-332.9 2.7l87.1-.2l9.3 2.2l27.7-.2l4.6-.2l8.1 .2l8.1 .2l9 0l25.9-.5l3.3-1.6l7.3 2.1l5.9-2.2l2.8-.1l11.5 2.2l17.5-.2l3.7-2.1l6.8 2.3l25.7-.4l3.6-1.6l4.5 1.6l6-1.5l6.9-.3l1.4 1.6l6.4-1.6l31.9 2.3l18.6-.3l-358.8 2.8l25.9-.2l83.9 .2l2.9-.2l4.1-1.8l.4 1.5l73-1.5l3.2 1.5l2.8 .6l3.2-.7l23.1 .3l11.4-1.9l16 1.8l2.4 .5l2.3-.2l2.8 0l6.1-1.8l8.1-.2l8.6 2.2l2.2-2l12.3-.1l8.8 1.8l46.6-1.8l-247.1 4.4l3.9-1.7l1.4 1.3l7.5 .5l25.1 .1l2.7-.2l7.1-2.1l1.8 .3l7.1 1.6l2.7-.1l51.1-.1l2.5 .1l9.5 .4l13.7-2.1l4.2 2.2l1.7-2.2l17.6 .2l10-.2l1.2 1.7l10.8-.2l.7-1.6l11.2-.1l9.5 0l-317.9 2.8l134.5 1.7l5.7-1.9l7.5 1.9l25.1-.2l3.4-1.7l5.6 .3l11.6 1.8l13.9-1.9l10.4 .1l12.9-.4l17.7 .1l4.4 .2l19.9 2.2l4.3-.6l15-1.7l16.5 .3l5.7 0l26-.1l19.3 1.8l-250.9 .9l28.5-.5l19.4 2.2l13.3-2.2l36.8 2.1l7.4-2.1l.1 2.4l28.2-.6l5 .2l1.5-1.9l7.2 2.3l19-2.1l9.7 .2l3.8 1.3l16.3-1.7l5.7 .2l5.9 1.7l38 .2l-229.7 2.8l1-2.3l65.4 1.6l1.4-.1l11.3 .3l5.6-1.8l4.4 1.9l3-2l18 .3l13.8 2l31.2 .1l15.5-.3l26-.1l16.6-2l2.3 .4l32-.2l-362.3 2.8l98.5-.1l21.6-.2l10.9 1.8l12.7-.3l10 .4l13.8-1.7l8.2-.2l3.3 2l3.2 .2l17.6-.2l18-.5l4.5 .2l7.4-1.5l4.9-.2l12.9 .3l3.8 1.6l4.1 .3l1.7-2.3l3.4 1.6l2.6 .2l10.3 .1l2.8-.2l55.5-1.3l8.5 1.2l-230.9 2.6l1.1-1.7l16.1 1.9l5 0l58-1.9l12.1 2.4l35.5-.2l.3-1.8l68.7 1.5l4.5-.2l6.4-1.6l5.4 .3l-201.6 3.9l23 .2l13.1-.2l10.4 .2l.5-1.7l7.4 0l1.4 2.1l30.6-.6l2.4 .6l3.2-.3l17-1.7l5.3 1.4l42.9-1.7l51.5 2.3l13.7-.2l-237.2 .8l8.9 1.5l10 .1l2.6-.4l4.4 .7l4-2.2l.8 2.2l1.4-2.3l7 2.3l30.2-.2l32.8 .2l2.8-.4l3.1 .3l23.3-.4l4.1 .2l2.8 .3l2.6-.6l5.9-1.5l2.7 .1l4.4 1.6l17-1.8l4.3-.2l23.4 .2l26.1 1.5l-194.9 3l20.2-.1l16.3 0l2.3 .2l12 .1l11.3-2.1l2.6 .1l16.2 .2l23.2-.2l10.3-.1l25.2 0l45.3-.2l-192.1 2.6l13 .2l10.3-.2l5.5 2.4l3.9-2.4l8.1-.1l9.1 2.4l2.3 .1l1.6-2.5l.9 2l29.5-1.9l30.8 .3l20.2-.3l6.4 1.8l18.4-1.8l22.7 1.7l30.8-1.5l4.3 2.1l7.9-.4l-234.3 .6l5.3 .1l13.4 2l4.1-1.8l19.7-.3l19.6 1.7l12.1-1.6l28.7 1.9l14.2-1.5l10.6-.3l25.5-.2l4.4 .4l13.2-.4l38.3 .4l11 1.9l-228.8 1.9l25.6 .5l4.3-2.2l1.6 2.2l2.3 .3l2.4 0l14.1-2.4l12.1 .3l2.7-.2l2.9 .3l3.5 1.6l15.1-2.1l17.3 .1l28.7-.1l5.6 2.3l1.8-2.1l7.4 .2l12.4 .1l15.2-.1l1 2.1l-162.8 .5l4.6-.3l7.7 1.8l9.8 .4l19.3-1.9l9.1 2l3.5-2.4l9.9 0l1.9 1.9l3.9-1.6l.4 1.6l5.7 .5l1.9 0l22.4-2.3l76.6-.1l6.9 .4l11.8 1.5l7.8 .5l1.2-2.2l6.3 2.1l.6-2.2l3.9 1.8l-213.6 .7l16.2 2.2l7.5-.4l11.5-1.8l4.8-.1l21.5 .1l40 0l4.7 2l4.9 .4l5.8-2l19.1 1.3l24.3-1.5l1.9 2.1l3.2-2.3l9.3 1.8l4.8 .3l19.9 .2l-191.1 .2l10.3 .3l9.9 1.7l9.1 .4l13.7-.1l2.7 0l30.3-.6l23.9-1.3l18.2 0l3.5 2l15-.4l6.8-1.5l7.4-.2l19.7 1.6l12.9-1.5l25.8-.4l10.3 .4l1 1.7l-140.4 2.9l10.3-.3l13.3-1.8l28.2-.3l20.4 .2l11.7 2.2l14.9-.1l-154.8 2.2l14.9-2l13.4 2.4l6.3-2l2.9-.2l5.7 2.1l4.9-2.1l8.4 1.8l2-1.9l5.9 2.3l9.3-1.9l48.9 1.7l3.3 0l28.2-.1l-152 2.8l2.1-.3l3.4 .1l18.8-1.7l36 2l13.2-.7l2.3 .2l9.8-1.6l18.8 2l2-.4l42.2-2l8.7 .3l.9 2l-112.5 .4l38.2-.1l45.1 2.1l4.7-.1l4.1-1.8l4.8-.1l6.2 2.3l7.2-.1l4.5-1.9l9.4 1.4l-169.4 .8l32 2.3l33.5-.2l32.6-1.8l33.2 1.9l7.6-.6l10.6 .4l.9-2l11.4 2.2l-148.4 2.6l17.9-.5l9.4 .1l18 .4l14.4-1.9l9.2 1.8l1.8-.2l16.8-1.9l11.4 1.8l5.4-.2l30.5 .3l4.4-1.7l5.4 1.8l3-.1l-138.2 2.7l42.9 .3l7.3-.1l6-2.3l1.6 2.4l5.9-.2l21.8-.1l23.9-.2l9.3 .2l12.1-1.7l-144.6 2.6l25 1.9l29.1-2.2l51.7 2.2l8.3-.6l-79.2 .8l1.4 1.9l.7-1.5l1.4 1.7l7.3-.1l45-2l7.3 .2l31.1-.1l12 2l-97.2 .8l88.5 1.5l13.9-1.4l-103.5 2.3l72.8 1.6l6.3-1.8l25.9 1.8l-140.1 1l7 1.7l25.9-1.9l89.1 1.6l1.7 .2l8.6-1.9l-127.2 4.7l5.1-.1l14.1-1.8l2.6 0l3.4 2.2l-12.4 9.5l-6 3l9-1.9l-6.7 6.7l2.3 .6l-.4 2.9l1.8 0l-2.8 4" fill="none" marker-start="url(#mg)" marker-mid="url(#mg)" marker-end="url(#mg)"/><path d="M518.3 1120.4l-5.3 2.6l3.2-1.8l-11.7 2.1l-10.4 3l-6.1 4.5l5.4-.1l59.3 0l-76 2.7l64.9-2l-108.3 2.4l1.7 1.8l66.9-1.8l77.9 1.7l-103.8 1.1l21.1 1.8l87 0l-142.2 2.3l49.5 .4l38.4-2.3l-112 4.8l31.2-.6l19.8 .1l82.7-1.8l-145.1 4.3l45.2-1.6l2.2-.1l37.4 1.9l11.3-1.6l7.5-.1l8.2-.4l44.2 1.9l31.2 .5l26.8 .1l-190.3 .4l4 1.6l20.7-1.8l98 1.7l-109.2 1.1l31.5 1.9l1.6-2.2l18.3 .2l91.3-.1l21.7 2l13.9-2l-123.9 4.5l137.9-2.1l-142.8 4.3l81.7 0l30-1.4l-217.5 4.4l52-1.9l9.7 1.4l.9-1.6l88.1 2.2l3 0l88.2 .1l-181.6 2.1l37.8 .4l8.7-.6l17 .7l-87.5 2.2l3.2-2.1l44.7 1.9l99.4 .2l-133.2 2.9l4.1-.5l33.3-.2l25.3-1.8l45.2 .1l29.7 2l-206.9 .8l26.9 1.9l122.6-.2l35.4 .4l76.8-.1l-257.1 2.5l9.1-2l2.7 0l25.3 .2l85-.5l11.1 2.2l81.8 .3l-191.7 .1l6.7 2l45-1.7l14.7 .1l20.2-.2l18.9 2.2l29.9-2.3l-165.1 2.6l11.1 0l5.5 .2l6 1.4l46.1 .1l19.9 .5l24-2.1l1.6 2l36.2-2.2l7.7 2.4l7-.2l5.5-.1l92.8-2.2l31.3 2.5l-293.4 .2l12.9 .2l77-.3l194 0l4.9 .2l-323 2.4l14.8 1.8l21.6-1.5l3.9 1.7l27.2-.3l9.3-1.3l30.9-.5l107.8 1.9l3.5-1.7l114 1.8l-333.3 .9l72.3 1.6l49.7-1.9l6.7 2.2l19.6-.4l11.6-1.6l8.6 2.2l10.1-2.1l30.1-.1l43.8 .1l34.5 2.1l5.3-2.4l26.9 2.2l2.2-.4l-252 1.2l25 1.3l109.4 .6l42.4-.6l52.6-1.8l2 1.8l1.7 .3l-304.8 2.2l26 .7l61.6-.5l35.4-.1l5.2 .4l23.2-.2l20-.2l12.4 .5l85.1-2.2l-242.3 4.4l20.7-.1l10.1-.2l209.5 .4l10.7-.3l18.4-1.8l46.7 2.3l-347.4 2.7l26.1-2l2.3 1.6l9.1-1.9l40.6-.1l35.7 0l6.8 2.3l20.2-.1l34.3-1.9l18.5 1.9l45.1-1.9l1.1 1.8l61.8-1.7l33.5-.1l-330.5 2.6l17.6 1.4l2.6 .1l39.8-.1l56.9 .1l31.8-1.6l55.4-.3l41.4 .3l18.7 1.5l1.9-1.8l75.7 .4l-335.2 2.7l34.6 1.9l3.6-1.9l6.2 1.9l5.7-.6l57.2-1.6l1.8 2.1l17.5-.4l27.3 0l25.5-.2l17.9-1.4l122.9 1.4l7.7 0l-326 1l67.4 2l2.4 .2l17.5 0l66.2-.5l12-1.9l90.5 2.3l24.7-1.8l20.5 0l4.2-.2l22.9-.1l9.6 1.8l-362.6 .9l42.3 1.8l21-.3l7.4 .2l18.5-1.7l10.2 .2l72.3 1.5l54.5 .1l9-2l12.9 2.2l11.3 .1l61.4-.5l26-1.6l28.2 0l-381.8 2.4l76.2 2.3l54.2-2.4l53.2 .2l6.8 2l9.7-2.2l40 .3l109.8-.4l-346.1 4.4l21.7 .1l6.2 .4l22.7 0l37.9-.1l55.5 0l35.7-.2l11.7-1.8l15.9 0l7.6-.1l35.9 .2l48.1-.2l72.6 1.9l12.2-1.6l-324.6 4l27.4-1.5l6.6 1.4l36.7-1.3l33.3 1.7l3.2 .1l185.7-.5l1.7-1.4l-355.1 2.5l28.1-.3l8.2 1.7l35.3 .2l10.7-.1l56.5 0l40.7 .1l21.4-1.4l34.3 1.5l6.8-1.6l39.9-.3l-286.9 4.8l14-2.2l2.4 .3l44.6 1.7l14.5-.3l77.9-1.4l10.9-.4l55.9 .2l29.5 1.7l18.7-1.9l56.6 .2l.9 2l21.7-1.8l26-.1l17.6-.3l-393.2 4.4l25.9 .1l11.6-1.5l6.7-.4l8.6 .3l46-.4l2.7 .3l19 1.9l30.2-.5l61.1 .6l57.1-2.1l8.5 1.8l90.5 .1l7.5 .2l17-.6l-367.9 3.2l16.8-2.4l107.3 2l42-.1l19.4 .2l37.7-2.1l4 2.1l7.9-1.8l26.7 2.1l99.6-.7l12.9 .1l-362 1.2l3.1-.1l66.8 2l12.6-.1l94.3-1.9l15.4 1.5l128.8-1.6l-316.3 2.5l38.8 2.3l10.1-.4l32.2-1.6l34.4 1.7l27.9 .2l36.3 .1l104 0l15.4-.1l20.6-.2l16.1-2l12.4 .1l9.7 1.6l-395.7 .8l16.2 2l1.6-1.8l44.3 .1l34.6 .1l32.9-.1l60.2 1.3l6.4-1.4l25.5 .1l27.3 1.8l25.3 .2l95-.1l37.5-.1l-425.5 .5l8.9 2.1l1.2-1.8l12.9-.1l2 .1l42.2 1.5l17.3 .5l72.2 0l8.9-2.5l47.9 0l44.6 2.5l51.8-.1l3.3-2.3l87.5 .2l6 2.1l-401.7 2.2l28.7-1.8l26.6 1.6l14.6-1.8l13.7 2.1l10.4-.3l9.7-1.8l19.9 .1l24.9 .4l59.4-.4l48 0l112.5-.1l3.5 2.3l50.2-2.1l-439.2 4.2l55.8-1.9l72.5 2.3l116.3-.5l18 .2l6.8-1.7l32.3 2l16-1.8l18.1-.2l-280.4 4.1l39.4-1.4l64.9 1.7l17.3-.4l171.5 .1l22.3 .2l5.7 .3l2-.1l31.5-.2l14-1.7l6.8 .1l9.8 1.3l-373.4 2.9l24-1.6l23.9 1.2l2.6 0l50.9 0l11.6-1.5l11.7 1.7l67.6-1.5l44.5 1.4l57.7-1.3l69 2l-436 2.5l34.2-2.4l3.7 2.3l75.7-.3l3.3 .2l17.1-.2l58.5-1.7l8.7 1.5l8.4-1.5l146.9 1.9l69.7-2l29.4 1.7l-440.1 2.4l19.3-1.5l12.4-.2l7.7 .1l77.6 .1l3.9 1.5l24.9 .2l37-1.6l52.3 1.4l20.8 .2l40.7 .3l14.1-2.2l12.4 .4l93.1 1.7l-409 2.2l45.2 0l16.9-1.5l102.9 2l5.3-.3l53.7 0l38.7 .4l16.7-.3l6 .2l36.2-1.8l27.1 1.4l33.7-.2l11-1.5l14.3 2.1l25.4-.4l-458.3 .6l26 2.3l19.2-2.1l7.4-.1l3.8 2l23.9-1.6l20.1 1.6l34.2-1.9l33.6 1.6l2.9 .2l17.9 .1l18.7-1.8l20.2 2.1l27-.3l39.8-2.1l35.7 .5l8.6-.4l8.9 2.3l75.7 0l-424.7 2l43.2 0l8 0l9.9 .4l14.5-1.9l23.4-.3l21.9 0l4.1 2l23.5 .4l34-2l50.5 2l9-1.9l86.1-.5l31.7 2.4l1.1-1.9l24.8 1.6l-375.2 .6l42 1.8l45.6 0l11.2-1.6l40.4 2.1l37.7-.3l43.4 .3l7.4 0l17.9-.4l3.6-.1l25.8-1.9l47.2 1.9l49.1-.2l40.1 .2l32.8-1.8l-458.6 2.7l7.3 2.1l27.6-.6l3.8-1.4l56.7 .1l10.3 1.7l4.6-1.9l1.8 .1l91.7 1.8l152.2 .1l23.6-.5l82.5-1.5l-461.1 4.6l60.5-.7l6.2-1.5l7.6 .1l58.3 2.1l9.2-.1l87.4-.4l27.9 .6l21.4-2.4l45.8 .3l34.2 2l37.2-2.2l-370.1 2.9l51.6 1.3l51.3 .2l19.8 .4l1.4-2.3l70 1.9l7.7 .2l4.9 0l88.8-2l64.2 1.8l-384.5 1l75.3 1.8l7.8 0l34.9-.4l31.3 .3l108.8-.1l38.3-2.1l60.2 .2l14.9 2.2l16-2.3l-394.9 4.8l7.2-.6l28.2 .1l6.9 .1l33.4-.1l16.9-1.8l16.3 2l150.2-1.8l8.5 2l18.3-.1l82.1-1.9l21.5 1.5l-377.2 1.3l14.4 1.7l76.8-2.2l13.8 .5l206.3-.3l5.1-.1l5.3-.1l43.6 .5l11.6 1.3l3.8 .5l24.3-2l24.7 1.9l14.9-.3l24.1-1.9l-481.8 4.4l12.7 .4l7.1-1.8l33.8 1.7l12.1-2.1l22.2 .3l2.5 .2l17.3 1.6l2.5-.1l12.1-1.7l14.4 0l2.7-.3l10 0l9.5 2.1l37.4-.4l1.6-1.4l16.4 1.8l2.3 .3l11.4-.6l3.9 .6l24.4-2l2 1.7l57.4-1.6l9.2-.1l3.1-.1l32.2 1.5l7.7 .1l10.3-.1l3.9-1.7l.5 2.3l3.2-.2l22.9-.3l22 0l18.9 .5l12.3-.2l-468.5 2.6l14.1-2.1l54.7 0l5 .3l16.7 1.4l12.5 .4l137.4 0l64.8-2l46.4 0l2.9 1.8l6.4-.1l42.9-.1l9.9 .3l8.5-1.9l43.4 .1l-452.4 2.3l29.8 1.8l6.2-1.8l19 1.9l15.5 .3l4.3-.4l26 .5l89.6-.1l6.9-.6l45-1.3l29.1 1.5l23.5 .4l31.9-2.3l18.7 1.7l15.6 .6l38.7-.4l-419.2 1l23.1-.2l4.3 1.8l31.8-2l7.7 .3l1.5 1.4l15.7 .7l17.3-.5l3.7-1.4l5.4-.2l12.3-.2l22.6-.1l29.4 2.3l8.5-.4l33.2 0l85.8-.1l33.6 0l3.8-1.8l15.4 .1l11.5 2l8.3-2l-351.4 4.5l9.9 .4l38.6-.7l5.7-1.4l35.9-.3l79.7 .2l21.8 2.2l2.1-.6l9.4-1.5l165.7 0l6.7 2l39.8-.2l-439.9 2.3l12.9 .4l1.4-2.3l11.3 1.9l7.3 .4l29.5-1.9l25.8-.4l10.1 .5l2.2 0l19.1 0l.8 1.5l8.8-1.7l4.4 .1l21.4 .1l6.2 1.7l20.3 .2l19.6-2.2l11.3 2.1l2.3-.1l105.6-2.1l35.5 .1l7 1.7l72.6-1.4l21.9 1.4l-453.1 3l57.4-1.9l51.4-.1l17.1 .1l34.5 1.3l36 .2l142.1-1.7l8.2 2.2l18.6-.4l4.7 0l12.9-.1l25.5 .5l34.9-.3l-405.9 2.5l7.9 .4l12.7-2l15 1.3l14.4 .5l3.7-2l19.2-.1l1.5 .2l13.2 .1l1.8 1.2l11.4-1.5l89.6 2l23.1-.2l23.2 .5l20-.2l37.3-2.1l5.9 1.7l22.9 .3l6.3-1.7l67.3-.2l44.2 2l4.8-.3l-451.3 .9l7.8 .1l24.1 1.5l14-1.9l6.1 1.9l19.7-1.9l17.9 .2l39.9 2.1l9.4 0l6.9-2.3l1.4 2l1.5-1.5l30.5-.3l22.3 .3l21.3 1.2l9.7-1.3l13.3 2l55.1-2.3l12 2.2l24.7-2.2l14.3 .4l20 1.3l21.7-1.3l1.8-.3l19.9 2.1l30-.6l-489.1 1.3l95.1 1.8l8.9-2.2l22.6 .1l3 .2l13.7 1.4l35.2-1.6l6.6 1.8l22.1 .3l42.7-2.2l3.4 1.8l12.3 .1l6.5-1.5l4 1.8l136.5-2l27 2l-357.6 .3l75.5 2.4l88.3-2.1l116.1 1.4l4.7 0l37.2-1.6l16.9 2l84.9-1.9l1.2 1.9l8.4 .2l-493.1 .6l23.2-.2l87.8 2.1l3.1-.5l61.6-1.6l18.4-.1l24.7 1.9l17.6 .3l6.1-2.2l30.3-.1l56.7 .5l75.1 1.4l7.5-.2l6.6-1.5l29.5 1.7l-407.5 3.1l10.9-.4l52.7-1.9l6.4 2.1l4.8 0l11.7-2.1l8.7 2.3l3-2.1l29.8 1.4l1.8-1.3l29.3 1.8l32.6-.5l74.1 .3l99.6 .3l18.5-1.9l32 2l21.1-.3l-478.8 2.6l61.6-.1l12.5 .1l17.7 .3l16.3-2.5l6.5 1.8l31.4 .5l24.9-.6l10.5 .2l6.8-1.9l17.5 .5l25.7 0l6.3 1.8l8.7-1.9l29.9-.3l35.5 1.8l2 .4l15.4-.4l44.2-1.9l77 .5l-441.2 4.4l9.2-1.9l15.5 1.3l23.9 .1l2.2 0l35.8 .2l107.4-.2l42-1.8l42.1 1.9l2.5 .5l5.4-.3l2.7-.1l65.8 .3l81.5-.4l-431.6 3l10.9-2.3l11.4 1.8l1.2-1.4l10.9-.4l2-.1l11.8 1.8l6.6 .6l71.9 0l1.8-2.3l57.5 1.7l37.2 0l78.3-1.5l121.8 1.6l13.6-1.4l.7 1.3l11.1 .3l-466.5 2.6l51.5 .2l30.8-.5l29.1-1.8l53.3 .2l6.1 .1l18.7 1.8l5.3 .3l14.3-.1l16.9-2.2l25.1 2.3l26.9-.4l22.8-1.8l86 0l32.4 1.9l16.8-1.8l-410.8 4.1l20.4-.2l28.3-1.2l5.3-.1l7.5-.2l10.1 2.2l3-2.2l6.4 2.2l12.3-1.9l32.1-.1l45.2 2.1l40.1-2l24.9-.3l3.9 1.5l70.8 .7l14-2.1l13.5 .2l25.9 1.4l10.3 .6l13.5-.6l6.7-.2l13.6 .2l16.6-1.8l-468.7 4.6l3.7-1.7l19.3-.2l6.6 1.6l49.6-1.6l40.8-.1l6.1 1.6l12.6-1.4l46.8 1.4l40.6 .7l49.7-2.4l36.7 1.8l27.3-1.5l45 1.7l43.1 0l22.9-.1l26.5-1.7l1.4 2.1l-478.2 2.2l39.2-2l28.8 .4l7.4 0l5.4-.1l33.9 1.7l2-1.9l6.8 .2l29.6 1.6l23.3 0l14.3 .6l16.7-2.3l14.6 2.2l5.7-2.3l19.9 1.8l4.4 .3l12.6 .1l14.2-2l13.3 .1l62.5 2l12-2.4l3.7 1.9l23.1-1.8l26.2 .1l1.7 1.7l17.7 0l65.4 .2l8.8 .4l-473.9 2.5l18-.7l97.4 .3l22.9-.1l22.6 .4l30.7 .1l96.1-2.4l16.8 .1l32.8 2l7.9-1.9l25.8 .2l-403.2 4.6l62.3-.5l12.8-.3l4 .4l21.3-.3l6.3-1.7l20.4 0l1.6 1.8l50 .1l13.5 .5l19.9-.7l2.2 .3l43.4 .3l2.4-.5l4.1-1.4l57-.5l.3 2.5l11.7-2.2l27.4 2.2l10-.1l8 0l8.6-1.9l11.8 1.5l58.1 .1l12.3-.3l15.1-1.3l11.5 1.8l-471.6 2.1l11.1 .3l2.2 .2l.5-1.8l50.1 1.7l93.8-2.1l2.4 .1l2.9 2l5.5-.2l5.4-.3l2.2 .7l10.4-.4l8.4-1.9l14.1 2l2-1.8l23.9 1.9l20.3-.2l5.5-.1l25-.1l45.2-1.5l9.9 .2l40 1.8l26.6-1.8l71.2-.5l.8 2.4l-496.2 .2l33.7 2.4l82.3-2.5l20 1.8l37.1-1.3l23.9 2l27.6-.7l31.1 .3l38.3 .2l2.5-.3l42.7-1.7l14.4 .1l49.3 0l2-.2l23.7 1.7l8.5 .2l15.4-.4l2.6 .3l-462.6 .8l3.5 .2l17.5-.4l4.9 .4l3.1-.4l44.3 2.3l32.4 0l75.2-2.3l5 1.8l39.7 .3l5.9-.4l13.1 0l12.6 .6l96.9-.6l7.9 .4l3.4-2l9.3 .1l19.8 1.8l11.7-1.7l71.8 1.5l-487.4 2.4l12.2 .4l36.1-.1l21.4-1.8l43.6-.2l63.9 .1l8.6 2.3l19.3-2.3l42.3 2.3l.9-2.4l3.8 1.9l3.5-1.5l11.9 1.3l12.3 .4l71.6 .3l50.6-2.3l18.9 2l3.2-1.7l48.5-.4l2.5 .2l8.7 1.6l13.9-1.3l22.7 1.9l-486.6 1.9l1.5-1.5l75.2 1.8l93.2-1.8l128.2 2.1l66.7 0l5.9-.3l51.3-1.6l-465.4 2.3l11.3 2l53.4 .2l3.6-.6l106.3-.1l7.2-1.6l2.5-.1l13.1 1.7l7.2-1.4l48.7-.2l38.6 2.2l89.3-.4l6.2-1.7l29.3 1.6l3.6 .5l35.7-.2l11.6 .3l-454.9 2.5l23.8 0l10.4-2.1l2.2 1.6l20.2 .1l34.5-1.9l21.6 2.3l5.9-2l4.1 1.9l20.9-.5l25.6 .3l24-1.6l24.2 1.9l40.9 0l6.7 0l16.7-2.3l17.6 1.8l57.1-1.4l20.1-.4l55.7 .1l17.7 .3l1.8 1.7l2.2-.4l14.6-1.5l6.3 2.2l17.1-.7l1.9-1.7l-474.6 4.6l11.4-2.1l15.1 1.8l78 .5l27.9-.5l6.5-1.5l70.8 1.7l43.6-.3l16.6-1.6l65.6-.1l8.1 .2l7.5-.2l.9 2.3l17.7-.4l11.8-1.7l72.1 .1l17.1-.1l29.4 2.2l2.9-.1l-537.1 2.7l22.3-.3l16.9-2l29.3 1.7l17.8 .3l32.9 .2l33.1-1.9l48.8 1.6l13.1-.2l56 .6l107.7-.5l6.2-1.8l48 .2l44.7 1.7l33 0l-437.7 .7l28.9 1.7l59.1-1.4l9.7 1.9l25.6-.1l27.4 0l22-2.1l13.6 2.1l18.9-.4l30.3 0l31 .5l61 0l27.6-.4l26.1-1.6l68 1.8l5.2-.4l4.8 .1l-373.8 2.6l21.3-.1l6.2-1.6l19.5 1.7l7.8 .2l37-2l14 1.9l52-2l5.8 1.8l25.6-.1l37.7-1.7l30.5 0l14.4 .3l73.7 2.1l-504 2.5l5.2-.1l3.4-2.2l13.2 .1l16.8 0l21.9 1.6l56.3 .4l51.5 .1l22.1-.2l5.6 .4l10-.7l7.7 .2l9.8-2l20.8 2.2l39.8-2.1l42.8 .3l13.2-.2l27.1 2.1l86.3-.5l47.1-1.3l-484.4 4.3l19.9-.2l21.9-1.6l7.6-.4l6.3 1.9l17.1-1.9l1.7 2.2l31-1.9l21 0l13.6 2l8.2-.6l90.7-1.4l23.9 1.5l13.2 .3l1.1-2l13.4 1.7l12.8 .5l33.4-.3l21.8-2l66 0l21.8 1.9l27.6 0l-481 .9l26.6 1.5l14.8 0l148.2 .5l41.3-2.2l10.2 0l65.5 2.4l13.4-.3l1.7 .1l58.2-2.1l32.7 .3l2.5 0l1.4 1.7l30.1 0l18.7 .2l7.7-.2l15.3-.3l4.6-.2l7.7 .7l21.7-2.2l1.8 1.6l-512.3 3.2l19.1-2.3l14.3 2.1l18.2-.3l9.6 .3l84.7-.1l22-1.7l13.2 2l17.7-.4l49.4-.2l11.7-1.3l13.4 1.5l9.8-.3l9.3-1.5l20.3 .3l21.9 1.4l36.2 .3l63.1-.2l31.4-1.7l35.2 1.5l6.2-1.3l-462.6 2l24.8 .1l16.6 2.1l1.9-2.2l7 .4l39-.4l10.5 0l34.3 1.8l14.2-1.7l10.1 2.2l18.2 .1l14.9-2.4l15.9 1.7l8.7-1.3l2.9 .1l13.3-.1l.3 1.4l3 .7l33.8-2.1l57.8 1.8l18.6 .3l17-.1l30.4 .1l20.6-.4l-432.7 1l2.2-.1l31.3 1.8l7.8-.2l50.5 .3l2.2-2.2l3.3 1.6l10 .5l6.1-.3l3.7-1.8l38.2 .1l11.3 1.9l68.3 .1l13.7-.5l18.9-1.4l6.7 .2l25.4 1.7l11.4-2.1l29.7 .3l12.9-.4l31.1 .5l8.6 1.7l16-.5l2.5 .1l7.9-1.5l6.4 1.6l8.4 .4l.7-2.2l-477.3 2.6l4.7 .3l2 0l11.5 1.9l7.9-.1l17-2l82.1 1.4l8.5 0l6.6 .7l18.7-.1l24.8 0l3.8-2.2l12.4 2.2l15.8-2.1l8.7 1.8l39.5 .1l22.3-.3l28.7-1.3l24.7 1.3l99.3 .7l-438.9 .2l36.2 .3l4 1.5l6.4-1.4l157.1 1.8l84.9-1.9l48.1-.3l9.9 2.1l75.2-2.2l7.3 .3l50.5-.3l31.2 .3l2.1 .1l10.5 0l-509.8 4l104.4-.1l76.4 .4l20.3-.2l2.2 .1l8.9-1.7l15.9-.3l81.1 .1l1.9 1.8l19.3-1.7l45.9-.1l3.4 1.9l84.6 .2l2.8 .2l.7-2l-431.6 4.5l5.9-.7l4.3 .1l47.7-1.8l44.8 1.9l60-1.6l20.9 1.9l22.2-1.8l47.9-.1l36-.1l7.2 2l45 .1l9.7-2.1l7.9 2l11-.1l17.3 .3l3.6 0l37.6-.6l31.6-1.5l-517 4.4l30.3 .1l8.2 .2l32.4-.4l23 .4l27.4-.2l57.5-.3l4.1 .4l34.7-2.4l2 .2l8.5-.1l36.1 2.2l22.9 .2l45.7-2.4l6.6 2.1l20.4-.2l2.4 .3l19.4-.5l24.1 .1l42.5 .6l65.5-2.1l15.5 .1l-384.9 2.1l44.1 0l20.7 .1l6.1 1.7l18.1 .4l22.9-.1l7.5 .1l17.1-.5l18.1 .4l50.7-2l17.8 0l102.7 2l68.2-1.8l-541.9 4.2l24.1-.1l73.5 0l5.7-.2l18-1.3l5 2l7.1 .1l53.9-.5l22.4 .2l2.1-.4l21 .5l25.2-.2l21.1 .3l10.1 .1l4.3-.2l36.6-.3l34.6 .1l12.1-2.1l16 1.8l21.7-1.6l48.8 .2l5-.4l-428.5 4.9l11.3 0l43.4-2.3l14.7 2.4l2.2-.4l52.8-2l17.6 .4l43.3-.3l37.4 2.1l37.9 .1l35.7 0l8.8-1.9l130.6-.2l58.5 0l-532.2 2.5l29.1 1.7l2.6 .1l23.4 0l76.5-.1l62.7-1.7l2.8 1.9l6.7-2.1l48.9 .5l5-.5l10.2 .3l.9 1.8l56.1 .2l4.8-2.3l39.2 2.2l52.2-2l2.9 .3l9 1.3l50.2 .4l18-.4l17.8 .5l-490.1 2l64.2-1.3l10.6-.4l1.7 .3l27.3 2.1l12.9-.3l1.6-1.9l23.4 2.2l2.5-.1l2.6-.3l44-.3l44.4-1.5l167.3 2l35.6-.1l-453 2.1l5 .3l25.8-.1l28.8-1.6l5.2-.3l79.2 .4l154.8 2l48.2-.4l65.9 .3l67.4-2l19.4 1.9l-519.4 .8l31.7 1.6l27.1-.3l37-1.3l1.2 1.6l10.4 .1l17.9-.1l4.8-2l45.6 .1l56.9 2l7.5 .2l1.2-2.2l15.7 .1l3 .2l19.3-.3l3.6 .3l1.5 1.6l37.4 .3l30.1-2.3l.4 2.3l68.4-2.1l20.7 1.7l20.9 0l45.4 .2l2.4 .3l30.7-.4l5.4-.2l-544.1 3.2l6.9-.5l34 .3l58.5-.2l38.2-.4l16.4-1.5l8.7 2.2l29-.6l9.4 .7l26.7-2.3l32.2 1.7l68.3 .6l18.5-.3l24.8-2l70 1.8l7.4 .2l.3-1.7l4.2 2l21-.2l67.8-1.8l-537.2 2.1l143.1 0l8 2l4.7-1.8l32.1 2l11.3-1.9l85.3 1.8l5.2-.4l152.4 .3l17.5-.3l28.9 .3l5.7-1.5l11.8 1.5l-468.9 .9l23-.1l4.1 2.1l5-.2l11.8 .2l22.8-.5l57.2 .4l127.3 .1l4.5-.7l4.8 0l53.5 .2l24.3 .6l6.8-.5l12.9-.2l8.3 .5l12.8-2l7.9 .2l12.8-.2l12.4 1.5l.3-1.8l54.9 2.1l-366.7 .6l63.7 0l1.3 1.7l8.2-1.5l12.8 0l32.2 1.7l88.5-1.9l40 .3l32.8 1.5l35.1-.2l25.6 .6l17.5-.6l15 .4l-490.1 2.4l38.3 .5l17.3-.7l2.9 .7l13.9-2.1l79.9-.4l28.2 2.1l2.8 .3l31.3 .1l5.2-.2l21.8-.5l18.8 .2l59.8-2l38.5 .4l2.9 1.4l4.3-1.3l7-.3l63.7 2.2l27.2-.4l-450 2.4l3.3-1.7l9.3 2l54.1-.3l25.6-.1l21.6-1.5l42.8 0l97.4-.1l47.1 2.1l45.1 0l48-1.8l17.3-.1l22.4 1.4l1.6 .5l34.7-2.1l22.5 1.9l-501.1 2.4l5.9-1.9l45.3 .1l28.8 0l8.2 1.7l41.6 .5l5-.5l14.3-1.7l7.4 .3l10.3-.3l22.1 0l25.6 0l7.2 1.9l28.3-.2l15.9-1.6l21.9 2.2l24-2.3l4.3 1.8l22.8 .6l3.1-2.4l1.9 1.9l21.3-2l3.8 2.2l4-2.2l42.5 2.2l5.5-1.7l-405.5 4.4l116 .1l20.2-.2l9.6-.4l21.1-1.6l106.9 1.8l11-1.7l47.2 2.1l6.8-2.4l-356.8 4.5l55.6-.1l52.2-1.4l39.2 1.4l57.9-1.9l3.1 1.9l8.2-.1l51.8-1.6l1.8 2.2l27.9-.3l87.2 .3l45.3 .1l29.5-2.2l34.4 1.7l-448.9 .6l96.1 2.3l96.1-.3l8.1-.2l10.7 .6l2 0l43.8-.6l8.4-1.5l96 1.7l26-.1l34.9 0l-424.9 3l49.8-2.1l61.3 .2l39.8 1.8l55.5 0l2.8-.2l45.3-1.9l6.3 1.7l27.1 .5l37.1-1.9l2.2 1.4l10 0l5.5 .4l13.5-2.2l49.7 2.3l-325.9 .5l16.4 1.6l1.8 .4l3.3-.4l26.2-1.6l38.3-.3l34 1.7l7.8 .2l78.7-1.9l12.9 1.7l15.6 .6l8.5-.4l-336.9 .9l7.1-.3l20.6 0l21.2 .4l49.5 1.6l7.9-1.6l20.3-.3l22.7 2.2l11.7-2l5.3 2.2l3.3-.4l16.2-1.7l23.7 0l11.2 1.5l47.7 .5l15-.2l13.4 0l18.5-.2l25.6-1.8l12.9-.1l2.3 2.3l-380.5 .6l5.8 1.8l35.6-2l25.2-.1l6.5 2.2l69.8-2.3l60.6 0l19.3 2.3l3-.4l11.1-1.5l140-.1l14.8 1.9l1.1-2.2l-392 2.8l139.6 1.7l7.3-.1l49.6-1.4l27.5 2l26.2-2.5l9.6 2l18-1.6l36.5 0l10.6-.2l18.3 1.8l28.1 .4l1.3-2.1l6.4 2.2l9.7-.4l-382.4 .9l26.8 1.7l44.5-2l55.6 1.7l30.6 .4l23.4 .1l6.1-2l2.4 0l11.7 1.7l17.8 .2l22.7-.3l3.3-1.6l1.6 1.5l61.6-.1l2 .2l2.8 0l14.2-1.5l13.7 1.6l1.2-1.8l24.9 1.9l33.1 .2l5.6-1.9l38.2 .1l7.3 1.3l-449.6 1l46.5 0l90.8 2.2l47.9-.6l39.3-1.8l23.2 0l4.8-.1l3.7 2.2l29.1-2.2l14.1 2.4l10.1-.6l50.1-1.7l63.2 1.7l-413.1 1l130.3 2.2l18.3-.7l43.7 .1l20 .3l12.8-.3l37.7-1.6l.8 1.9l20.4 0l1.4-2.1l12.6 .1l18.6 1.6l23.5 .6l1.1-2l30 1.5l4.2-.1l28.9-1.3l19.7 2l-324.6 1.8l27.4 .3l17.9 .4l7.3 .1l44.6-2.2l41.3-.3l12.9 .1l14.5 2.1l12.8 .2l58-.7l24.8 .5l18 .2l43.4-.3l15.1-.2l4.2-1.9l-307 2.7l14.6 1.8l45.7-.1l38.9-1.6l3.9 1.5l3.3 .7l51.2-2.2l21.1 0l7.3 0l18.5 0l47.9 .3l4 1.9l-281.3 2.1l4.1 .4l96.3-2.2l38.9 1.5l8.7 .1l9 .1l3 .2l8 .2l75.3-2l65.4-.2l21.5 .2l-443.1 2.7l2.3-.3l67.3 1.8l36.1-.2l1.4-1.5l111.7-.2l15.9 .1l29.6 1.9l14.8-.3l41.5 .5l18 0l.6-2.2l23.7 .2l41.8 2l16-2l-409.4 2.6l8-.3l39.8 1.9l.8-1.5l19.7 2l39.1-2.1l3.9 1.6l55-1.9l54.9 2.4l21.2-2.1l21.5 2l9.9 .2l1.5-2l37 2l21.1-.2l4.4-.4l9.9-1.5l10.5 2.1l9.2-2.3l6.2 2.2l12.1-2.1l8.6 1.7l9.5-1.7l22.9 .1l10.4 2l-357.3 2.4l11.4-2l14.4 1.7l7.2 0l1.9 .5l6.2-.2l13.6-1.8l100.6 2l1.5-2.3l33.4 1.8l17-1.7l30.2 2l.4-2.2l54.9 2.3l11-1.8l32 1.5l10.5 0l6.8-1.8l-430.6 4.2l27.7 .6l13.4-2.2l69.8 2.2l3-.2l19.7-2.1l15.9 1.7l16.8-1.6l45.9 .2l2.8-.2l38.2 0l9.9-.1l18.5-.1l21.6 2l42.4-.2l5.8 .4l24.5-2.1l72.2 1.9l-382.8 .5l28.2 .3l27.3 1.5l16.9-1.7l38.9 2l29.8-1.7l26 1.3l39.1 .6l17.8-.1l67.3-1.8l24.3 1.6l3-2l9.5 1.9l26.8-1.4l-367.9 4.5l61.6-.2l131-.1l4.9-.4l5.4-1.8l4.9 2l29.3 .2l3.6-.5l39.9 .8l1.5-2l54.8 1.8l21.6-2.2l2 2.4l-351.7 .5l2.1-.1l21.3 1.9l124.6-1.8l2.6 1.4l4.5-1.7l44.1 2.3l5.8-.4l37.3-1.6l67.7 .1l16.8 1.3l37.6-1.4l15.7 1.3l3.3 .3l-288.8 .6l7.3 2l31-1.9l11-.1l37.3 2.4l8.3-2.3l44.9 2.2l2.4-.7l24.9 .3l5.5 .4l1.1-1.9l13.5-.2l5.7 1.7l2.8-.1l73.1-1.6l-386.4 2.7l191.5-.1l16.2 2l16.2-2.1l27.2 1.6l45.4 .1l35.5 .5l5.2-.5l12-1.5l65.9 0l-252.2 4.3l41.7-1.9l8.5 2.1l12.2-1.9l6.9-.3l27.9 2.3l2.8-2.5l2.6 .2l34.3 .3l14.1 2l32.5-.2l43.3-.4l25.3 .4l-336.7 .3l6.2 2l130.4-.1l2.4 .5l10.5-.7l27.1-1.3l3.3 1.7l2.3 0l32.5-2l8.4 2.2l9.2-2.3l31.8 1.9l-169.9 2.9l17.5-2.2l43.5 2.1l28.7 .3l9.3-2.3l42.3 2.3l3.4-2.4l94.9 2.1l-234.7 .4l20 2.1l23.3-.4l12.8 0l3.8 .3l11.3 .3l26.4-1.8l129.4-.3l-331.8 2.6l87.4 1.6l25.1-1.4l6.7-.1l6.3 1.4l40.9 0l31.4-1.4l44.6-.1l7.9 2l33 0l47.8-2l5.4 .1l-402.9 4.4l174.4-1.9l21.5 1.9l20.9-.2l11.7-1.8l89.4 1.7l42.4-1.8l53.7-.1l-255.5 4.9l79.3-.1l2.3 .2l8.8-.6l30.6-1.9l19.2 1.9l4-1.7l-142 4.6l28.4 .2l6.8-.1l6-.1l38 .2l17.2-.4l78.3-1.7l.3 2.1l24.2-2.1l-279.9 4.2l95.2-2l3.3 0l5.4 0l8.6 2.1l31.5-2l53.1-.1l2.3 2.3l3.3-1.9l13.4 .1l22.6-.3l2.3-.2l3.7 1.9l74.1 .2l-246.2 2.2l32.6-1.4l39.8-.2l42.8 2.2l15.4-.3l60.7 .3l8.4-.4l-213.1 2.8l21.5-1.9l9.2 1.9l33.5-2l6.8 1.8l7.8 .3l20.7 0l19.6 .2l20.3-.3l3.1 .1l22.6-.2l32.7-1.7l2.1-.2l4.3 1.6l30.8-1.7l-320.4 4.7l101.6-.4l27.1-1.4l48.6 1.6l19.7-1.8l4.5 .3l9.2 1.5l15.4 .3l7.6-.1l1.8-2.2l.5 2.1l5.2-.1l13.5 .3l47.1-2.2l44.6 1.7l-224.8 1l69.2-.2l31.1 2l43.7-.1l22.3-1.8l56.4 .2l-240.3 4.5l10.2 0l8.8-2.1l24.4 1.5l30.9 .6l25-.4l30.5 .5l20.5-.2l12.8 .2l55.8-.6l-194.2 3.1l7.9-2.4l143 .2l6.6 1.6l1.1-1.7l4.8 2.4l2.5-2.5l19.6 2.1l40.8 .4l-232.9 1.8l4.8 .3l27.3-2l35.6 .2l2 .1l32.3 1.8l74-.1l23.4 .2l-182.2 .8l24.9 2l60.4-.2l42-1.9l29.3 1.6l15.3-.1l16 .2l11.6-2.1l2.5 .1l-221 2.7l7 1.5l51.1 .5l7.7-.4l60.1 .5l17.5-2l61.6 1.7l5.8 .4l11.3-2.4l-208.7 4.3l6.8-.1l33.3 .7l8.2-.1l20.8 .1l6.3-2.3l13.5 1.6l52.1-1.5l2.6-.1l13.8 2l31.3 .1l-192.2 .4l10 2.3l4.5 0l31.4-2.2l12.5 1.7l29.6 .3l29.1 .3l37.8-.4l-155.3 .6l2.3-.1l1.2 2.3l48.4-.3l1.7-2l2.1 .5l16.7 1.2l3.8-1.4l4.8 0l46.2 0l9.4 1.8l20.1 .4l26.5-2.5l2.6 .5l11.8 1.7l-182.5 2.3l2.6 .4l20.3-.5l18.4 .5l11.1-2.1l50.9-.2l14.1 2.3l31.1-.3l27.6 .1l4.8 .1l-121.4 2.6l4.9-.2l9.3-1.9l6.4 1.6l62.7-1.4l10.4 0l.5 1.3l-129.2 1.3l49.9 1.9l12.9-.4l17.7 0l56.2-1.8l-83.9 4.3l8.7 .5l25.7-2.1l-97 4.1l81.6 0l5.9 0l-68.8 .7l14.7 .5l16.8 1.2l4.7 .7l30.3-1.9l35.7-.4l-56.6 4.5l71.5-.1l4-1.7l-113.5 2.3l8.6 2.3l105.9-2l-135.1 4.4l22.3-1.9l62.4 2.1l18.4-2.2l-87.3 2.7l-8 4.2l2.6-.2l12.4 .3l15.4 .1l17.1 .2l18 0l9-2.2l-85.1 2.9l17.9-.3l90.7 2.7l-84.4 4.6l2.8-.1l1.4 2.2l2.2 1l-8.9 2.2l14.9 4.4" fill="none" marker-start="url(#mr)" marker-mid="url(#mr)" marker-end="url(#mr)"/><path d="M514 1110.3l-14.6 2.2l23 .6l-10.8 8l-11.1 4.5l38.9 .2l-21.5 2.4l7.2-.1l32-1.8l-1.8 2.2l-37 7.4l9-.2l4.2 .4l-85.5 2.9l58 2.1l53.6-.1l10-.6l7.9 .9l23.6 2.2l22.6 .3l-205.6 4.5l114.3-.1l-110.2 2.6l.4-1.8l11.6 2.3l40.4-.4l99.4-.2l-174.8 3.1l58.8-.1l169.7-2.1l-151.4 2.6l63.1 1.5l-139 2.6l39.9 0l71.5 .6l-17.5 .5l8.8 1.3l15.3 1.3l66.7 0l-80.8 2.5l83.1 1.8l-214.1 .5l.8 2.3l219-.4l-202.8 2.4l30.1-1.5l100.1 1.7l3.3 .2l33.1-.6l90-1.4l-220.1 2.6l2.2 .1l106.6 1.3l6.7 .7l48.6-.2l43.7-.3l-206.5 1l2.8-.3l-3.3 4.7l53.8-.3l50.9 0l106.6-1.6l3.4 1.5l10.6 .6l-299.9 2.3l12-.3l25.2-1.8l114-.1l-76.2 4.7l38.7-.1l55.6-.2l22.5 .4l33 .1l21.5 0l18-1.8l-211.8 4l69.4 0l122 .3l-204.8 2.2l147.3-.2l1.8-1.2l-34.9 2.2l27.4 2.3l27.8-.8l-230.2 3.1l80.8 0l46.9-.2l-123.2 .9l28.8-.3l134.8 0l24 2.3l112.9-.2l-225.3 .7l8.5 .1l44.3 1.9l20-.2l121.4-1.6l15.5-.5l16.8 2.4l-82.8 2.2l85.7 .4l-293.5 2.1l86.2 0l99.2-.1l120.6 .3l-317.9 2.2l65.7 .4l31 .1l24-2.3l61.1 .4l38-.3l-37.9 4.6l-148.7 2.1l74.4 .5l93.3 .2l65.9-2.1l60.1-.1l-311 4.5l34.9-1.8l133.9 1.6l26.5-1.8l-228.7 4.6l23.9-2.2l14.8-.1l160.3 1.9l14.3 .2l170.1-1.8l6.8 2.1l-417.7 2l14.3-1.7l66.5 .2l67.4 1.8l61.3 0l23.2 .2l91.9-.4l-291.5 1.1l3.1-.1l13.9 1.4l20.8 .7l98.1-2.3l8.4 2.2l64.3-.2l38.1 .1l6.4-1.8l-258.1 3.8l125.7-1.7l35 1.7l25.2 .5l68.2-2.2l45.7 .3l11.4 1.9l33.1-.3l-330.6 2.3l29.6-1.4l2.1 2.2l11.4-2.4l23.1 1.7l115.3 .2l-192.9 2.6l55.1-2l22.4 1.7l16.1-1.2l54.9 1.6l4.6 .1l112-.3l31.1 .5l42.8-.6l5.9 .1l-271.2 2.7l34.3-1.7l58.4-.3l8.7 2.2l-44.5 2.3l51.4 .1l87.4-2l102.7 .1l-328.9 2.5l49.9 1.6l90.4-1.3l34.8 1.6l65.5-2l54.6 2.1l-371.8 2.5l37.5-2l25.7 0l91.8 0l26.9 1.6l78.8 0l-261.1 2.6l135.7-1.7l154.5 2l146.2-1.6l-426.3 2.2l6.6 2.1l19.7-.4l26.5-.1l111.7 .2l11.2-1.4l74.5-.4l7.1 0l65.6 2.1l60.9-.3l43.8 .2l-299.9 2.2l175.1 .6l6.8-1.9l75.9 1.8l-343.7 2l37.8 .4l77.3-.4l5.1 .5l103.4-2.2l45.6 .1l31.4 2.1l44.5 .2l8.7-1.9l-411 4.1l119.9-.4l85.4-1.6l7.1 .2l99.3 1.8l16.7 .2l5-.1l33.7 .2l20.6-.4l-396 .9l1.5 1.6l9.2-1.9l93 2.1l124.5-2.1l164.5 0l-231.7 4.8l10.9 .1l41-.1l100.5-2.1l31.4 2.3l-348.1 2.5l146.7-2.1l26.9 1.7l216.1 .1l-335.5 2.6l38.6-.2l29.7-1.7l46.3-.1l197.8 2.2l87.1-2.3l2.8 .1l-420.1 4.7l11.2-2.2l48.8 .3l44.9 .1l54.8 1.6l9.8-1.8l79.7 1.9l109.4 0l12.3-2.2l46.1 2.1l-397.9 2.8l35.7-.2l86.2-.2l55.4 .1l39.4 .1l61.7-2.1l115 .1l12.1 .1l-335 2.3l46.5 .4l86.9 .1l8.4 1.7l52.6-2.1l-302.7 2.6l83.9-.1l16.1-.1l24.4 1.8l24.8 .5l41.5-.3l35.9-1.9l-198.8 4.6l17.2-1.6l15.9 1.2l313.3-1.3l61.9 2l10.1-.6l-444.9 2.8l95.7-2.1l13.2 .4l55.1 1.9l195.9-.2l90.1-1.9l-462.9 2.4l67.8 1.7l52.1-1.2l52 1.4l129.2-1.5l-311.5 4.3l83.9-1.9l67.8 1.6l8.4-1.6l16.1 2l26.5-2l5.7-.1l11.2 1.8l36.8-1.7l6.5 1.9l56.9 .2l29.1-2.1l4 2l108.7-.4l-477 3.1l35.6-.2l129.3 .2l59-.2l41-.5l2.7 .2l38.4 0l15 .2l124.7-.4l38.3 .5l-485.6 2.7l32.5-.6l15.6 .2l9.1-1.7l34.6 1.7l78.6-.2l70.4-1.4l148.1-.3l-334.1 4.9l13.1-2.3l13.7 .2l51.6 2l18.4-.2l8.1-1.6l32.2 1.7l281.3 0l-458.1 2.1l16.4-1.3l37.8-.2l29.4 1.7l7.8-.1l30-1.5l37.2 2l75.9-.2l90.6-2.2l-338.3 2.6l7.9 .2l2.4 .1l97.8-.3l115.8 1.9l70.5-.2l185.9-1.4l-482.7 4.2l60-1.8l27.1 2l80.8 .2l159.4 .1l8.3-2.1l145.9 1.8l-464.4 2.5l27.8 .1l5.7-1.9l30.9 .1l34.9 1.3l63.3 .3l5 .2l48.3 .2l34.8-2.1l25.4 0l38.2-.1l111.5 1.7l7.9 .4l1.6-.6l-416.9 2.7l42.8-1.7l11.5 2l16.1-2l35.7 .3l33.2-.2l127.6 .1l4.1 1.5l4.6 0l-300.3 .7l11.2 1.8l44.4-1.8l18.3 .4l24.4 1.6l38.4-2l19.4 2l26.1-.2l114.8 .4l60.1-2.1l77.5 1.8l-452.2 2.6l74.5-1.5l66.4-.2l54 .1l137.2-.4l48.8 .4l52.9-.3l25.2 1.7l1.8 0l-452.2 3l28.3 .2l124-.4l34.2 .3l95-2.2l133.3 1.8l73.9 .1l-433.6 2.4l18.1-1.4l20.4-.4l46.2 .4l40.3 1.5l18.1-1.7l19.5 2l1.9-1.9l50.7-.1l99 .2l43.4-.1l55.2 1.6l-420 2.5l53.6 0l51.6 .5l30-.6l19.6-1.4l44 1.7l-219.6 .9l23.8 0l.9 1.4l29.3-1.4l7 1.5l21.4-2l54.5 2.3l95.2-.2l110.9-1.9l48.5 2l1.4-1.9l53.3 1.8l-463.1 2.2l45.2 .7l75.8-2.4l16.4 2.1l41.7-2.1l103.8 2l9.3-2l130.8 2.3l19-2.1l-454.6 2.7l44.1 1.5l64.5-1.4l21.4-.3l60.5 0l80 1.7l91.9-.1l26.5 .2l13.3-1.9l52 1.6l4.9-1.5l-298.6 4.4l30.1 0l7.5 .4l27.8-.3l18.8 .3l73.6-.1l35.7-.3l47.1-1.8l14.2 2.2l-373.1 2.5l124.2-.1l55.6-2l25.3-.3l4.1 2.5l45.4-.3l7.6-.4l4.6 .6l23.3 0l124.3-2.4l23.3 2.4l-385.7 2.3l60.2-.1l13.6-.3l71.8 0l24.2-1.7l21.3 2.4l-298.2 .1l52.3 2.1l62.8-1.7l42.1 1.4l17.2 .3l129-1.8l55.9 0l49.3 1.8l38.2-.2l68.7 .1l-479.9 2.4l213.3-.1l7.7 .7l200-.4l49.4-1.8l-413.7 4.1l52.1 .3l112.1 .3l41-2.1l18.2 .1l50.9-.3l41.7 1.8l-365.9 .9l99.4 .1l16.9-.2l74.9 1.6l46 .2l31.8-1.8l100.8 1.7l28.3 .2l-329.1 .5l230.7 2l111-1.8l20.4 0l3.6-.2l6.3 1.9l2.9-1.4l24.7 1.7l-497 .9l8.2 1.3l3.6-1.6l39-.1l22.6 .4l37.9-.1l9.4 1.9l156.6-2.2l71.3 .2l34.3 1.6l63.1-1.8l25.6-.1l-347.6 3l55.8-.1l139.1 1.5l33.8-1.5l27.6-.4l53.7 0l16.9 2l13.5 .5l-208.9 2.3l35.3-2l46.8 1.9l22.7 .1l42.1-1.8l51.5-.2l-369.6 4.8l66.8-2.5l11.4 2.4l39.9-2.2l.9 1.5l11.4-1.5l21.1 .2l32.4 0l8.9 2.1l5.6-.6l16.7-1.9l35.3 0l18.3 .1l.7 1.7l50.5-1.8l45 2.2l26.5-2.1l21 1.9l-521.5 2.3l34.3-1.6l14.8 1.7l177.5 0l14.4-1.6l171.8 2l41.4 0l10.8-.4l38.7-1.6l-472.2 4.8l32.3-2l57.7 1.4l73.7-.1l48.8 .7l58.3-.6l26.2 .4l26.7-2l6.9-.3l28.1 0l-289.3 2.6l24 2l109.4-2l21.8 0l177.1 1.8l63.2-1.7l3.9 1.8l-503.3 2.8l88.9 0l53.9 .3l35.5-.2l8.3-2l102.9 2l79.9 .1l43.8-2.2l-369 4.8l4.4-.4l57.1-.3l29-1.4l50.3-.3l50 2.1l10.4 .2l2.5-.1l22.3-1.9l8.2 2l168-.4l20.2-1.8l23.7 1.8l-467.1 .6l7.7 .2l11.2 .2l17.2-.2l.7 2.3l74.5-.8l9.7 .4l50.5-1.7l75.2 1.4l47.2-1.3l201.9-.2l-513.1 4.1l47.1-1.4l22.8-.1l47.7 1.6l8.4-1.9l83.7 1.9l107 .2l9.2 .3l97.3-.1l42.5-2l41 .2l21.9 0l-420.3 3.9l4.5-1.4l45-.1l49.4 2l64.3-.5l24.1-1.9l53.6 .1l5.9 2.2l7.6-2.3l112.1 2.5l-478.1 .6l36.2 1.3l36.7-1.3l13.8 1.3l74 .3l109.1-1.6l141 1.8l26.6-.6l46.5-1.3l6.6 1.7l24.7 .3l-468.8 .5l59.1-.1l21.6 2.1l46 .1l71-.5l23.8-1.6l3.1-.4l1.2 2l41.5-1.9l26.7 .2l29.3-.2l107.1 2.1l-430.4 2.7l102.3-.5l14.7 .4l-164 2.2l61.6 .2l336.4 .2l5.2 .1l-362.5 .4l1.7 2.2l207.8-2.3l49 1.7l53-1.7l30.3 .3l27.4 1.5l16.3-1.7l4.5-.2l89.3 .1l-390.6 4.8l16.1-.5l45.1-1.5l15.8 1.3l31.3 .2l40.8 .4l180.3-.2l23.7-.1l26-1.8l-474.2 4.4l64.6-1.6l50.5 1.7l11.2-1.7l130.1-.4l8.1 .4l26.4 2l44.3-2l54.5 1.4l-391.5 2.7l117.9 .5l50.4-2.1l35.9 1.6l87.2 .5l22.5 0l60.4-2.1l15.8-.2l76.8 2.2l-440.8 .4l51.6 .3l.2 1.4l21.8-1.6l11.6 1.8l30.2 .1l4.2-2.2l4.8 .3l10.1 0l7.4 1.7l7.1 .2l35.3-1.9l238.4 2.1l11.8-.5l27.1-1.7l-431.3 4.2l17-1.4l19.4 1.2l10.5 .5l9.1 0l75.1-.1l20.6-1.8l10.8-.3l28.7 2.3l45.2-1.8l16.9 1.7l55.4-.3l81.8 .6l7.7-.1l-363.6 2.5l18.4-.4l5.2-.2l166-1.4l11.9 2l169.2-2l-485 2.4l23.2 .1l58-.3l9.5 1.9l55.4-.2l67.6-1.2l24.4 2l20.8 0l5.2-.3l140.5-2.1l54.1 .1l31.4 1.8l-472.4 2.5l104.5 0l8.2-.2l53.1 .3l22.2-.2l244.7-1.5l9 2l-406.4 .4l59.5 .2l158.3 1.4l144-1.8l6.6 1.7l-348.3 2.9l62.1 .1l201.1 .2l-334.2 .4l32.1 1.8l33.9-2l6.7 2.3l33.3 0l43.8-.4l46.4-1.7l45.7-.2l49.5 .4l12.2-.3l6.6 1.8l130.8-1.4l-366.6 3.8l294.2-1.4l51.5-.2l19 1.8l51.5-1.6l-440.9 4.6l55.6-2.2l.4 2l8.3-.2l38.6-1.6l44.6 2l19.3-1.9l70 1.5l55-1.7l87.7 1.8l13.8 .2l13.1-2l-379.5 4.6l246.8-1.8l20.6 1.4l73.2-1.7l22.4 .2l7.4-.2l50.1 1.8l-244.4 .8l16.1 1.7l219.1-1.5l-480 3.9l49.2-1.5l40.4 2.1l86.1-.3l48.1 .1l101.1-2.2l64.6 1.8l28.8 .6l8.8-2.1l20.6-.2l-360.4 4.8l57.2 0l37.8-.6l46.1 0l27.6-.1l19.7-1.7l8.3 1.9l5.2 .5l-225.1 2.5l84.2-.5l51.2-1.4l61.2-.1l40.3 1.6l10.7 .3l15.2-.2l-307.3 2.6l184.2-1.8l16.7 2.1l92.7-2.4l34.4 1.9l-340.2 3.1l61.4-.2l133.5-1.7l36.1-.1l14.3 1.3l.6-1.3l115.9 1.9l24.1-2.2l-290.5 4.6l15 .3l47.3-.5l7.6-1.7l33.2 1.9l67.9-.2l104.8 .4l6.1-2.3l30.7-.1l49.6 1.8l-352.2 3.2l7.7-2.3l24.2 1.6l200.8-1.7l28.1 .1l-347.8 2.7l9.1 2.2l175.8-.1l6.9-.6l25.5 .6l43.4 0l12.4-.1l50.9-2.1l26.5 1.7l94.6 .4l-454 .3l199.4 2.2l15.2-.3l235.1 .5l-370.4 .3l30.5 1.6l19.4 .3l99.4-.3l20.3-.1l28.2 .5l15.2 .2l7.5-2.2l24.5-.1l58 2.3l26.3-2.1l39.6 1.5l-442.7 2.7l118.8-1.8l47.9 2.2l10.5-1.9l157.6 1.4l-256 3l65.1-2.2l5.5 1.7l249.5-1.7l-245.9 4.9l65.2-2.3l88.6 2.1l30.8 0l54.4-1.9l51.7 2l-297.1 1.9l68.4-1.3l44.2 1.8l69.3 .1l33.4-2.2l15.7-.1l44.4 2l-258.7 2.9l49.4 0l7.3 .1l102.5-2.3l12.8 .3l2.2 1.9l25.9-2l20.4 .1l21.5 0l3.9 1.6l-408.4 1l31.5 1.8l221.2-1.9l17.2-.1l3.6 2l27.8-.5l79.8 .4l-132.9 .7l3.3 1.4l6.2 .2l20.4 .5l41-.7l4.2 .6l135.2-.2l-302.5 2.7l77.3-.3l-59.8 2.3l113.7-1.2l17.9 1.6l4.5-2l49.8 2l63 .1l-322.2 2.7l254.4-2.1l1.3 2l-131 .8l207.8 1.4l21.4-.1l-355 1.2l131.2 1.3l208.4-1.4l-122.7 3.9l5.1 .7l83.6-.6l2.7 .4l-180.9 .6l40.7-.1l24 2.1l35.9 .2l15.9-.1l16.5-2.1l27.1-.1l53.5 4.5l-345.5 .5l165.9 2.2l149.8-2.2l-290.7 4.3l207.6-1.4l35.2 1.6l18.9-1.5l-146.2 3.7l8.6 .8l27.7-.5l156.8-2l-193.9 4.4l33.6 .5l140.4-2.3l25.7 .2l21-.1l-349.3 4.7l186 .2l31.2-.1l.1-2.3l49.6 2.3l48.1-2.3l-311.6 4.2l124.8 .7l212.3 0l-47.5 2.5l34.8-2.1l-185.8 2.7l67.2 0l60.1 1.3l26.1-1.3l35.2 1.3l-178.2 3.2l128.2-.3l57.8-.1l4.4-1.6l8.9 1.4l-225.5 2.6l3.8-1.8l29 2.2l151.3-.2l21.8 .2l-199.6 2.6l2.1 0l60.7-2l34.2 2.2l104.7-.6l-135.8 1.1l25.2 1.4l46.1-1.6l-123.6 2.8l51.4-.5l43.9 .4l-49.7 2.3l7.4 .2l75.8 0l-94.1 4.2l30.8-.1l90-1.6l-134.1 4.4l152.4 .1l13.3-.4l-210.1 1l19.9 2.1l173.8 3.1l-98.3 4.1l-78 2.4l62.1-1.5l53.1-.3l-45.9 4.6l32.8-1.8l-68 2.4l35.2 4.4l26.4 .1l2.4-.2l1.6 .1l48 7.9l-109.3 8.3l19.1 7" fill="none" marker-start="url(#mo)" marker-mid="url(#mo)" marker-end="url(#mo)"/><path d="M534.1 1111.1l-33.1 4.3l-12.7 9.8l40.7-.2l6.8-1.6l-88.8 2.7l3.8 2.2l1.3-1.9l93.7 1.4l-38 1.1l13.3 1.5l12.2-1.6l51.5 1.5l-99.9 2.5l35.9 .2l1.8-.3l-40 1.1l35.4-.1l72.8 2l-161.6 .5l9.7 2.1l27.7-.4l8.1 .6l14.8-.4l3.9-1.9l5.3 .1l19.5 1.9l40.9-1.9l1.4 1.5l-102.5 3.1l3.4-2.3l123.3 2.5l-179.3 2l68.3 .2l33.4 0l5.6 0l33.1 .2l-92.8 2.6l4.3-.5l19.4-1.8l26.9 1.8l-29.1 2.9l.5-2.2l64.3 .2l29.7 1.7l-114.8 .6l33.9 2.2l3.3 .1l23.8-2.2l1.4 2.4l19.6-.5l6.3-1.5l15.4 0l28 1.3l4.5 .5l2.9-.5l7.8 .5l-208.6 2l41.7-1.5l5 1.8l42.6-.3l7.7 0l24.2-1.5l12.6 0l23.6-.1l48.2 .1l9.3 2.2l-226.1 2.5l86-2.3l11.2 2l50 .2l29.8-1.8l9.7 1.9l22 .1l-205.5 2.3l76.7-.4l34.6-1.5l22.6 2.1l4.6-.1l30.9-.4l19.6 .3l23.3 .1l11.1-2l-206.7 4.3l35.3-1.9l3.9 2.2l6.4-2.4l86.9 2.4l20.9-.1l18.5-.5l2.6 .3l12.1 .4l-136.2 2.1l13 .2l82.8-2.2l15.7 2.2l5.4-.5l-205.8 1l19.2-.2l1.6 2.3l3.3-.2l24.6-.4l14.5-1.5l22.4 .3l44-.1l74.1 .1l19.6-.5l9.5 2.3l15.7 0l22.8 0l22.9-.1l-252.9 .4l34.5 1.7l5.1 .7l54-.3l17.7-.1l9.1-1.9l1.5 .2l9.9 1.8l47.5-.4l52.7-1.3l-260.4 2.4l30.7 2l3.6 0l101.1 .2l17.5-2.4l1.3 .3l25.7-.4l83 1.7l7.9 .1l-298.7 1.2l4.6 1.3l129.2 .4l42.2-1.6l105.3-.3l23.2 2l3.6-.1l-314.8 2.8l33.3-1.9l36.9-.1l14 1.6l16.5-1.6l8.3 1.3l41.7-1.2l6.8 1.7l18 .1l5.2-.5l1.3-1.3l20.4-.4l8.9 2.4l-185.2 2.5l17.6 0l21.6-2.1l108.2 .1l5.1-.2l14.8-.1l.9 1.6l9.3-1.5l54.2 1.5l-249.1 .9l22.2-.1l11.5 2.2l25.1-2.1l43.5 0l7.8 1.7l30.8 .1l17.5 .6l12.5-2l2.9 1.9l8.9-2.1l133.7-.3l-306.9 4.5l36.4 .5l92-.3l1.9-.4l2.7 .5l12.1 0l3-.2l18.8-1.5l7.5-.5l17.8 1.9l.4-1.9l11.2 .5l16.7-.2l26-.2l-255.9 2.7l19.4 .2l40.1 2l40.5-.5l67.3-1.7l1.8 1.4l16 .6l3.5-1.9l3.1 1.3l101.2-1.4l11.1 2.2l-272.3 .5l24.4 2l110.7-2.4l39.8 1.9l51.9-1.5l-256.3 2.1l3.1 2l16.1-.1l31.4-1.9l49.6 1.7l46.3 .2l21.1 .3l.3-2l4.6 2.1l14.7 .1l1.8-2.2l6 1.9l24.2-1.6l24.2 1.6l21-.1l-277.7 2.4l41.9-1.5l30.8-.3l11.2 0l1.6 .2l31.2 .1l1.9 .1l184.6 1.8l-278.4 2.5l64.4-2.2l7.8 .5l24.6 1.3l40.3 .4l8.7 .2l15.5-2.3l11.7 2.1l7.5 0l9.3-1.9l24 1.6l25-1.6l49.3 1.7l14.9 .1l-277.5 .8l97.1 0l10.5-.3l14.8 .2l38.4 .1l38.7 .1l8 1.3l41.4 .4l10.7-1.9l-321.1 4.5l7.1-1.9l8.1 1.6l11.1 0l7.6 .3l5.6-2.2l38.2 0l3 .3l20.9 1.8l4.5-1.6l10.8 1.8l127.3-2l26.6 1.7l-277.6 2.6l2.6-1.9l10.5 2.3l2-2.4l15.8 2.3l21.5-2l5 0l55.8 2.1l9.9-.2l9.1-1.7l15.4-.2l42.2 1.7l45.8-.1l36.6-1.4l6.7 1.8l18.1 .1l47.7-.5l-360.8 2.7l14.4-1.9l21.1 2.3l11.2-.2l19.9-.4l7.4 .3l19-2l22.6 1.7l17.2 .5l45.6-.7l40.8 .7l36.4-.1l20.8-2.1l-239 4.3l5.1 0l1.7 .2l3.1-.3l23.6 .4l26.8 .2l63.5-2.2l47 1.9l28.4-.1l91.1 0l-328.9 .8l4 1.9l17.8 .3l1.9-.6l3.2 .5l5.7-2l41.3-.3l10.6-.1l5.7 2.5l18.6-.2l31.6-1.8l1.6 1.3l13.5-1.8l43.7 .5l1.7-.3l4.9 2.3l45.7-.1l5.5-.1l12 .1l51.8-.6l11.2-1.7l3.4 1.9l43.8 .4l-374.1 2.3l42.7-2l18.6 2.2l16.2-1.8l23.6-.5l15.3 .3l6.2 2l49.9-2l56.7 1.8l112.8-.3l35.9 .4l5-.5l-385.1 1.2l13.4 1.5l13.2 .3l8.4-1.8l3.5 0l14.7-.3l1.9 2.3l15.5-2.1l29.8 1.6l64.7-1.6l11-.1l.6 1.8l27.9-.2l107.2 .4l36.4-.3l7.7 .6l4.2-.1l4.9-.3l30.8 0l-389.9 .5l2.2 2.1l1.2 .1l10.6-.1l10.9 .2l13.7-2.1l21.1 2l2.6-.2l46.9-1.7l44.3-.3l8.9 1.8l47.2-1.3l36.5 1.9l66.3-.5l-326.2 .7l8.3 2.3l7.6-.5l48.7-.1l7.8 0l6.1-1.8l14 2.5l12.3-2.1l5.5 1.6l39.5-1.8l20.1 2.1l14-2.1l5.6 1.9l7.6-.3l13.5 .1l28.2 0l71.9-1.6l5.5-.1l8.6 1.8l12.1-1.8l20.7 1.6l2.6 .5l13.4-.3l4.3-1.7l25.7-.1l-420.9 4.6l19.2-.4l5.4-.1l15.7 .2l45.3 .4l41.1-.2l9-1.7l50 1.6l4.3-.1l49.9-1.7l5.1-.2l88.5 2.1l55.2-1.8l30.6-.1l-402 2.8l9.8-.4l1.7 2.2l2.9 0l20.4-.1l129.2 0l83-1.9l70.9 1.6l34.1-1.4l34.3 1.8l12.8-.6l20.9 .5l-422.9 2.2l40.7-.1l23.4 0l33.6 .2l20.3 .5l14.6-.3l53.2 0l17.1-2l16.3 2.3l61.6-.5l35.7-.2l8 .2l24.9 .2l6.9-2l26.2 2.2l3.3-.5l4.9-.1l-395.6 1.2l2.2-.4l11.3 1.8l42.8-1.5l36.1-.1l4.2 .3l43.1 0l3.4 0l87.2 1.9l10.1-2.2l5.9 2.2l14.6-.3l12.6-1.7l36.4 1.9l31.1 .1l59.1-2.4l6.6 2l-393.8 2.5l2.3 .1l22.6-1.5l2.5-.2l13.2 1.4l3.3-1.5l9.8 2l62.8-2l4.1 .3l44.5-.5l6.4 2.1l124.3-.3l26.2-1.8l17.6 1.7l1.3-1.4l32.6 .1l38.9 1.5l-406.3 2.5l68.7-.2l7-1.7l59.6 2.4l31-.4l27.5 .5l6.3-2.5l14.6 2.5l1.9-.3l81.5-.1l11-.2l33.3 .5l-357.2 .6l7.2-.2l18.8 2.1l3.4-.2l2 .2l4.6-1.8l2.6 0l18 1.5l58.4-1.8l14.3-.2l4.4 2.1l35.6 .1l23.7-1.8l10 1.8l90.6-2.1l13.9 2.2l106.6-.4l-417.7 .6l5 .4l9.5 0l2.2 1.9l33.2-1.9l28.3 0l3.2 0l1.3 1.8l7.6 .3l19.9-.6l6.1-1.4l8.7-.2l41.3 1.8l33.3 .2l3.3 0l8.5-2.3l.4 1.8l48.3-1.8l64.3 2.2l12.3-.5l18.1 .4l7.7-.2l-375.1 2.6l1.4 .5l2.4-2.4l2.8 1.7l7.7 0l3.7-1.6l6.2 .2l.5 1.6l9.1-1.4l28.7-.5l37 2.1l21.8-.2l7.3-1.7l13 2.2l31.5-.4l8.7-2l1.9 2.1l59.1-2.1l2.5 0l2.7 .5l20.1-.2l4 1.7l25.8-.2l37.9 .1l40.9 .4l16.2-1.9l27.9 0l-422.4 4.6l19-2.5l.5 2.4l29.1 .1l38 0l19.5-2.3l11.3 2.3l7.9-.7l50.8 .2l12.2 .2l33.2-.4l7.1-1.7l14.9 .3l87.6 1.7l49.8-2.1l36.4 1.7l10.9 .8l-435.3 2.4l10.8-.2l6.8-.1l13.7 .2l40.5 0l18.7-2l20.1 1.8l43.1 .2l2.5 0l27.6-.2l40.7 .4l10.2-.2l17.6-.4l7.4-1.5l17.9-.3l10.4 .4l63.6 0l52 1.3l.4-1.3l18.2 0l26.7 1.4l-454.4 2.9l25.6-.5l17.3 .5l21 0l25.1 .3l6.8-2.3l.6 1.8l12.8 .4l3.5-2.1l8.9 2l11.6-2.1l16.7 2.2l4.8-.4l25.2-2l10.6 2.2l29-.4l2.6 .2l15.5-1.5l71.2 1.6l116.9-.2l.8-1.8l13.1 0l1.7 2l12.2-.2l-443.5 1l14.3 2l7.5-.6l6.6-1.5l18.7 1.8l61 .2l9.5-1.8l12.9 1.8l8.8 0l40.5-.3l24.6-.1l11.9-1.7l6.3 2.3l5.4-.2l.9-1.8l2.7 0l4.9-.1l24.4 2l21.8-1.9l25.3-.2l22.6 1.9l51-.2l48.2 .4l9.3-.4l20.5 0l-441.3 2.3l23.3-1.3l9.5 2l34.7 0l24.3-2.1l4.5 1.8l33 .3l16-2.2l3.2 0l21.7 1.7l2.7 .6l23.7-2.2l14.4 1.5l43.9 .7l30-.7l24.4-1.7l39.9 1.7l36.3-1.8l33.8 .3l-442.6 2.4l11.6 1.9l6.9 .2l4.7 .2l84.3-.4l10.2-.2l38.3 .3l10-2.1l33 .4l7.6-.3l.4 2l41.9-1.7l30.2 1.7l15.1 0l61.6-.4l31.2-1.6l22.2 2l2.4-.3l33.7-1.5l-455.8 4.4l28.4-.2l7.2 .5l27.5-2l23.2 1.5l9.9-1.9l10.1 .4l8.8 1.6l5.8-1.6l21.2-.1l35.9 1.9l7.7 .2l37.8-2.4l12.2-.1l17.3 1.8l4.4 0l9.5-1.8l21.6 2l25.7 .2l13.4-1.7l28.7 1.2l105.7 0l5.3-1.5l-442.3 2.8l8.5-.4l14.9 .4l26.7 1.3l4.5-1.5l4.9 .2l22 1.7l6.7-.3l5.6 .5l2.3-.4l21.2-1.8l17.5 2.3l4.7-.2l18.5-1.8l16.3-.2l46.9 2.1l7.6-.3l36.2-.2l5.2-1.6l17.3 1.8l69.1 .1l13.1-2.1l13.4 .3l.6 1.7l7.9 .1l8 .3l10-.3l31.4 .3l2.1-.7l12 .7l-481.6 .4l11.4 1.7l4.8-.2l16.2 .2l2.1-.2l41.2 .5l2.9 .2l3.4-2.4l26.2 1.6l54.6 .4l15.7-1.8l31.2-.2l42.1 2.4l14-2.2l9.5-.2l40.6 .4l13-.1l6.1 1.9l36.5 .2l18-.7l12.6 .1l21.5-1.4l29.8 2l-422.9 2.5l11.1-.6l7.4 .5l2.5 .1l47.5-.3l29.3-2.1l3.9 2.1l34 .3l37.3-2.2l9-.1l12.7 1.6l2.5 0l11.4-1.6l10.6 2.3l3.1 0l27-2l19.3 1.7l17.2 .1l60.3-1.8l5.6 1.6l22.6-1.8l2.7 2.1l7.2-1.8l-384.6 4l3.5-1.7l10.5 1.5l8.4 .1l10.6 .3l3.4-1.8l73.5 0l4.4 1.3l91 .1l3.5 .3l9.4-.2l93.5-1.6l18.2-.1l43.4 0l28 .2l21.6 1.5l21.3-1.4l-476.2 4.5l32.9-.3l11.2-1.7l55.3 2l77.3-2l28.2 .1l40.9-.3l7.2 .1l29.3 1.6l22.6-1.7l2.2-.1l6.6 1.6l12 .1l5.1 0l44.8-1.4l14.5 1.3l31.7-1.4l41.1 .1l5.6 1.4l2.3 0l3.5 .4l-471.4 2.8l5-2.3l3.6 2l30.3-.3l6.9 .2l17.5-2.1l6.7 .4l15.3 1.4l4.6 .2l17.3 .4l13.1-.5l48.3 .1l28.7 .2l1.5-.2l3.3 .2l18.6-2.1l38.6 0l27.9 .1l3.7 1.7l24.3-1.8l5.9 .2l48.9 1.4l28.6 .7l66.5-.3l6.7 .2l-475.4 2.2l2.6 .2l7.8 .1l69.8-1.8l26.9 1.7l8 0l18.9-1.7l8.9 1.3l10.4 0l6.4-1.6l25.6 .3l11.2 1.8l60.8 0l32.7-1.9l2.1 0l29.9 1.9l68.5 .2l22.2-.5l4.2-1.5l6-.2l.9 2l20.5 .1l22.6-.4l-470.4 3l2.7-.5l20.4 .5l1.2-2.1l2.1-.1l2 1.9l20.6-.4l17.9 .2l47.1 .2l15.8 .1l14.5-1.8l26.8 1.6l30.8 .4l9.9-.1l40.9-.6l28.1 .8l54.5-2.5l28.3 .5l26.1 1.3l1.3-1.4l40.4 1.5l12.1 .1l14.3-1.5l-466.3 4.2l15.9-2l31 .4l4.8-.5l64.7 2l16 .2l1.6-2.1l6.7 0l15.6 0l10.3-.1l16.6 2.3l16.3-2l26.4 1.6l7.7 .5l13.8-2.1l65-.1l12.5-.2l99.9 1.7l17.6-1.6l25 .2l17.9-.3l.8 2.1l-418.4 2.7l26.4-1.8l2.6-.5l7.2 .5l75.3 1.7l31.7-2l26.1-.1l18.5 2l7.7 0l50.8 .1l104.7 .1l69.2-.6l-473.6 3l9.4-1.8l3.4 1.8l2-1.7l11.8 0l8.8 0l3.7 1.3l34.5-1.7l2.8 .4l6.4-.2l28.8 .2l5.7 1.6l15.4-.2l10.7 .1l84.2 .5l12.6-.5l91.8-.2l93.6 0l-427.9 .8l4.9 .3l11.8 1.9l3.8-1.7l34 1.5l4.7-2l37.3 .2l32.5 2.3l20.9-.7l31.4-1.3l4.4 1.7l22.9-.4l37 .2l8.1 .2l7.3 .3l51.4-.3l5.8-.4l71.8-1.3l39.8 2l3.2-2.4l4.2 1.8l4.6-1.8l26.9 2.4l8.2-2.1l-487.8 2.4l7.1 .1l1.2 2.1l22-2.1l44.8 2l2.9-.6l26.2-1.3l57.9 1.6l5.1 0l22 .4l4.8-2.3l15.8 2.3l3.3-.4l1.7 .1l38.2 0l31.7-1.7l25.1 1.6l35-.2l68.9-.1l30-1.4l16.8 1.5l32.2 .1l-465.6 .8l6.9 .2l7.6-.4l4.5 2.5l10-.4l56.9-1.6l24.7 2l6.1-2.1l3-.1l32 0l2 2.1l14.7-.1l1.5-2l111.4 1.6l33.2 .1l40-.1l2.5-1.7l3.7 1.7l25.2 .4l4.3 0l10.4-.3l20.6 .2l6.5-2.1l1.2 1.7l7.6 .1l12.6-.1l11.6-1.4l-489.7 3.9l28.5 .3l17.3 .3l64.9-2l42.4 1.7l18.4 0l61.5-1.9l3.3 .4l19.6-.4l11.8 1.8l23.4-.1l113.1-1.6l3.2-.2l29.8 .4l36 0l1.7 1.6l-466.9 .6l27.4 1.9l.7-1.6l5 0l13.7 1.6l12.7 .2l12.7-.5l16.7-1.3l35.5 .1l40.3 1.5l27.7 .2l1.6-2.1l2.7 .4l3.3 1.6l12.5 0l23.5 0l91.7-.2l5.5 .2l19.3 .4l38.3-.2l44 .1l5.7-2l10.2 .1l34.2 0l-493.4 2.3l22 .2l7.9-.3l7.9 0l3.1 1.7l13.5-.1l40.5 .7l50.4-2.1l30.4-.3l23 0l37.3 .3l2.3 1.6l4.5 .5l43-.4l80.6-1.7l49.6 1.8l8.8-.1l5.7-1.6l15.7-.2l20.7 2.1l6.7-1.8l2.2-.2l-465.3 2.7l24.5 2l12.4-.7l2.4 .1l50.4-1.4l3.1-.5l7.8 2.4l7.7-.7l64.7 .3l4.1 .5l26.2 0l25.4 0l.8-2.5l65.6 1.9l63 .6l46.1-.2l19.1-2.3l2.6 .4l2.4-.4l32.8 1.8l17.3 .4l9.1-2.1l-496.6 2.5l17.9 2l10.1-.2l27.8 .6l28.4-2l31.8-.3l19.5 0l6.9 1.8l1.7-1.5l15.3 1.8l86.7-.2l36.8 0l15.5-.2l13.3-1.5l75.4 1.6l15.2-.2l16.3-1.3l9.9-.3l40.2 1.7l-461.5 .9l1.8 .1l74.7-.2l7.4 .4l3.5 1.5l9.7-1.5l3.4 2l9.2-2.2l2.6 .1l5.5 1.4l8.9-1.7l28.4 0l24.7 2.4l59-.2l12.7-.1l76.2 .1l10.7 0l84-.1l-417.4 2.2l43.9-1.6l14.5 2l32.4-2.2l38.2 .5l13.4 1.7l11.5-1.8l73 1.4l8.1 .5l71.2 0l24.6-2.2l6.9-.1l6.1 2.4l21.5-2.3l42.5 1.6l72.8-1.3l-505 3.8l5.8-1.6l23.7 .1l14.6 1.6l5 .3l24.5 .1l7.2-2.2l19.2 1.9l2.3 .4l74.7-2.3l50.4 1.8l.6-1.6l18.8 2l16.5-.1l26.1-1.8l8.9 1.8l45.5-.1l19.1-1.9l4.7 1.8l76.1 .3l20.6-.3l37.4-1.8l-480.1 4.3l23.6 .6l20.1-.1l20.3-.3l6.8-1.9l2.3 .4l13.9 1.6l7.8 .2l15.7-2.1l3.7 2.1l25.2-1.9l15.7 1.6l2.4-1.6l3.7 1.7l9.9 .3l4.9-.7l91.5 0l19.2-1.2l48 1.5l10 .3l4.1-.6l11.1 .4l33.4-.2l42.7 .4l7.5-.2l33-.2l-498.1 2.4l16.9-1.8l22.9 .1l10.1 .2l1.4 1.6l30.8 .3l8.6-2.2l11.7 2.4l12.8 .1l5-.7l.9-1.4l75 1.6l10 .1l20.5 .4l19.5-2.3l11.6 2.2l6.6-2.1l34.3 2.2l28.5-.6l46.7-1.6l37.9 0l32.8 .1l2.9 .1l55.6-.4l-489.6 2.5l23.4 2.4l2.2-1.9l13.7 1.5l10.4 .3l19.6-.2l51.5-.3l31.1-.1l1.1-1.6l9.8 0l.9 2l21.4-1.8l3.3 .1l24.4 1.8l25.4-.5l17.3 .3l35.3 .2l36.2-.4l50.2-1.6l3.5 1.9l8.3 0l3.6-1.6l2-.4l8.8 1.7l7.5 .4l3.1-.1l9.8-.4l3.2 .2l20.6-1.6l3.2-.1l.9 1.5l16.3 .4l-484.5 .8l35-.2l17.5 .1l9.3 2.1l8.6-2.2l5.9-.1l24.2 1.7l.9-1.6l1.2 1.9l1.7-1.7l6.5 1.7l14-2.1l2.9 2.4l7.5-2.3l47.1 2.3l38.2-2.2l5.9 .3l3.4 1.7l23.1-.2l10.3 0l2.5-.3l20.1 .5l3.7-2.1l7.3 1.8l88.1-1.7l76.3 .2l.9 1.6l17.1-1.5l32.4-.4l1.6 2.1l-518.2 2.2l59.2-1.8l18.5 1.8l3.4 .3l30.2-.1l20.5 .2l47.5-2.1l34.1 2l25.2 0l5.2-.2l35.9 .5l5.7 0l3.9-2.2l31.2 1.9l23.1-.4l10.3 .5l35.2 .1l2.3-.5l32.3-1.8l14.3 1.7l14.5 .4l10.2-.3l29.2 .6l.4-2.4l2.3 2.4l5.1-.6l24.4 0l-521.1 3.1l3.3-.6l7.6 .1l13.7-1.9l27.1 2.3l35.7-2l22.4 1.9l9.9-.5l5.1 .2l42.6-1.9l18.9 2.4l20.3 0l2.9-.3l54.8-2l29.4 2.2l91.4 .2l23-.3l14.5-1.9l43-.3l12.2 .5l36.7 0l-503.4 4.1l20-1.7l19.1 1.5l33.8-1.4l24.8 1.7l19-1.9l10.2 0l.4 1.6l37.9-1.4l1.8-.4l23.5 .2l40.5-.1l1.8 2.2l45.8 .1l42.4-2.4l16.7 2.1l49.9-.1l13.2 0l6.9-1.8l3.2 2l5 .1l4.4-2.3l5.6 2l29.5-2l3.5 1.8l10.1-1.4l5.1 1.9l37-.6l3.2-1.6l-513.1 4.3l63.8 .5l6.7-2.2l4.4 1.6l4.3 .1l5.1 .4l39.3-2.2l16.1 .1l6.6 1.9l17.2 .3l1.2-2.2l28.8 .2l24.2 1.5l5.3-1.8l13.8-.1l39.7 2.1l3.9-2l22.1 .4l18-.2l45.8-.2l4.2 2.3l13.7-2.4l47.1 1.8l11 .1l1-1.6l4.6-.3l22.4 2.1l2.5 .1l32.4 .2l10.1-.1l-513.3 2.7l30.7-.7l25.8 .7l4.5-.2l28.5-.4l22.4-.1l8.4 .6l2.3 0l2.8-.3l3-2l3 0l8 2l7.3-2l.4 1.9l29.2 .5l31-2.4l12.3 1.8l59.1-1.3l10.4 0l24.5 1.2l20 .6l2.6-.3l2.3-.2l16.4 .6l20.5-2.1l6.2 1.9l21.7-.1l11.6-.1l3.6 0l2.8-1.6l6.5 1.3l-437.1 3l22.9 0l8.3-.2l1.9-.1l3.2 .3l56.4-2l12.5 2l19.7 .3l12.4-.2l4.6-2.2l27.2 .2l32 1.9l48-1.9l21.9 2.2l25.9-2.4l6.1 1.6l15.1-1.7l47.4 .1l30.4 2.2l26.2-2.1l9.4 1.9l50.8 .1l4.1-1.7l6.6 1.9l-476.4 2.3l35.1-1.8l1.4-.1l33.7 .2l10.9 2l22.9-2.3l8.2 1.6l11.4-1.3l60.2 1.9l29.5-2l15 0l2 1.5l18.8-1.5l8.3 1.4l1.8-1.4l1.9 0l1.6 1.7l15.8 .1l16.7-1.7l.2 1.4l3.2 0l52.3-1.7l75.1 1.6l23.8-1.7l7.3 2.1l-470.9 2.7l2.7 0l40-2.3l.7 2.4l10.7-.6l11.9 .3l21.2-.4l18.9-1.6l.9 2l23.7 .3l58-.5l30 0l37.5-1.6l12.8 0l47 2.1l3.3-.2l16.7 .3l15.4-.5l8.9-1.9l16.4 1.8l4.1-1.9l8.6 .1l23.6 2.2l24-2l1.1 1.6l11.6-1.9l6.5 2.2l5.6 .2l3.7-2l12.9-.3l28.8 1.7l-516.8 1l.4 1.7l13.4-.2l13.3-1.5l1.6 1.5l8.3 .1l90.7 .6l5.3-.3l41.9-2.1l45.6 2l.3-1.8l11.2 1.8l21.9-1.6l8.6 0l18.3 1.4l16.1 .3l8-1.9l16.3 .2l12.1-.1l2-.2l8.1 .3l26.4 .1l4.5-.3l40.4-.1l2.3 .2l25.4 1.7l13.6-1.9l18.8 1.9l12.9 .3l24.1-2.3l-490 4.9l8.8-2.4l7.2 2.2l13.2 .1l11.7-.1l6.4-2.1l33.6 .4l14.8-.1l9.8 1.4l19-1.5l4.1-.1l2.6 1.7l5 .5l26.6-2.4l22.6 .1l34.8 1.9l3.7-1.5l6.4 1.6l63-.4l1.9-1.5l6 1.8l32.7-.1l46.8 0l28.4-1.7l5.2 1.6l.9-1.3l2 0l9.1 1.9l10.2-.1l38.8-.2l-471.1 2.3l53.4-.1l20.3 .4l10.2-.1l2.3-1.8l25.5 1.9l11.4 .3l17.9-.5l66.3-1.9l10.2 2l4.1 .3l13 0l8.2 .1l59.1-2.3l40.1 1.6l31 .1l22.5 .1l25.2 .4l18.5-.5l15.7-1.8l18.2 .4l3.8 1.7l7.9 .2l14.8-.2l9.9 .2l-516.3 .5l11.7 .1l1.5 2.1l16.9-2.2l47.4 2l12.4 0l55.1-2.3l32.2 .3l16.3 0l13.1 2l26.6-.3l13.8-1.7l3.9 1.6l7.6 .1l12.4 .1l17.4 .3l33.3-.7l7.4 .6l5-.2l9.3-1.8l21.4 1.7l15.9 0l45.1 .1l8.4 .2l1.3-2.3l16 1.9l5.3 .4l40.8-.1l-501.3 2.8l3.5-.7l19.7 .5l21.3 .1l20.1-.3l68.2 .3l9.4-2.1l16.7 2.2l8.6-2.3l.8 2.3l49.1-.7l31 .6l18-2l6.9 2l20.6-.3l21.5-1.7l2-.3l6.1 .3l7-.3l45.7 0l22.4 2.4l14.1-2.1l9.2 2l6.4-.1l8.8-.1l26.4-1.8l1.7 2.1l-455.9 2.5l2.8-.5l17.2-1.5l1.2-.2l1.8 1.8l49.2-2l34.1 .5l10.2-.1l3.1 1.3l12-1.6l.5 2.4l66.3-2.1l15.7 1.5l18.8 .3l1.6-.4l19.4-1.4l1.6 1.5l1.7 .6l13.4-.8l1.6-1.2l9.7-.2l31.2 1.8l14.2-1.6l3.7 1.8l4.4-1.9l46.7 2.1l23.7-.1l18.3-.5l35.3 .2l6.1-2.1l3.4 2.1l19.8-2l16.2 2.1l4.3-1.8l-441.5 4.5l11.6-2.3l17.5 .3l7.3 1.7l2.4-.1l.4-1.6l11.7 1.6l25 .5l13-.4l13.1 0l7.4 .4l1.1-2l12.7-.3l2.9 .1l33.2-.2l1 2.3l24-2.2l19.2 2.1l22.6-1.8l8.5 1.4l8.3-1.6l22.6 2.1l7.5-.6l22.5 .2l.9-1.6l6.7 1.9l17.8-.1l5 0l12.8 .1l3.4-.2l13.1-.3l10 .5l37.3 .1l2.8-.5l5.6-.1l-514.5 3.1l58.4-1.9l26.2 1.6l13.3-1.9l27.8 2.4l22.7-.1l38-.5l3.4-1.5l7.2 1.8l37.6-.1l8.7-1.9l48.9 .1l4.9-.1l16 0l26.7 1.7l49.9-1.9l13.1 1.9l29 .1l11.8 .1l38.1-.3l17.8-1.5l38.1 0l-518 4.5l13 .1l27.9 0l42.8-.1l18.9-2.2l10.2 1.7l87-1.4l16.2 2.1l26.7-1.9l3.6-.2l7.9 2.1l8.2-.5l34.9-1.8l28.3 0l23.9 1.9l30 .3l41.7-.4l58.5 .5l36.4-2.4l-513.2 2.8l12.5 .1l19.5-.1l12.2 2.2l7.8-.3l12.6-.4l34.7-1.4l39.6 2.1l17.2 0l4.5-2l16.3 1.7l14.5 0l35.1-2.2l6.1 2.4l2.4-.3l10-1.7l3.4 1.6l32.7 .4l30.5-.6l2.6-.1l4.2-1.4l1.1 2l10.2 0l2.5 .2l21.1-.4l7.6-.3l12.7 .4l58.1 .1l27.1-2.3l9.5 .2l6.2 .3l25.5 0l3.6 1.6l1.5-1.7l2 .1l-517.2 3.9l28.9-1.7l24.6 1.8l35.1-.1l30.9 .4l28.3 .2l13.5-2.3l13.2 .1l16.3 1.7l20.6-.1l35.5 .2l14.8 .3l42.9-2.3l.7 2.2l23.5 .2l35.2-.5l53.1 .5l8.1-.4l51.6 .1l5.3-1.7l51.4-.3l-495.2 4.7l23.1 .1l15.4-.5l8.7-.1l20.9-1.3l20.8-.4l4.4 .3l9.5 2.1l5.3 0l50.5-.8l30.9 .7l29.4-2.3l23.5 2.2l6.5-2.3l3.5 0l3.8 2.2l25.6-.4l19.1-1.7l5.9 2.3l66.1-.2l8.7-1.8l14.8 1.6l8.2-1.8l3.3-.1l36.9 2.3l11.9 .1l-497.6 1.8l4.7 .2l3.7-1.8l11.4 1.8l3.8-1.6l1.3 1.7l7.9 .3l3-2.3l34.3 .2l12.7-.2l12.1 .4l2.7-.2l6.7 2.1l30.5-.4l22-1.9l16.6 2.4l9.7-.1l13.3-1.9l8.9-.3l18.6 2.1l7.7 .2l.6-1.9l9.8 1.9l5.6-2.2l79.5 .3l26.5 1.9l10.8-.1l10-.1l36.5-1.8l14.4 1.9l59-.2l4.1-.2l13.7 .3l10-.3l6.8-1.5l7.4-.4l-503.4 2.8l52.7 .1l21.6 1.5l56.9-.1l42.4-1.8l11.7 .4l20.6-.1l2.1 1.5l1.2 .6l65.6-2.4l8.6 2.4l1.4-1.9l57.1 1.8l13.5 .1l102-.5l43.5 .6l-511.8 1.8l5.6 .1l1-1.4l52.8 2l4.5 0l3.7-2.1l9.3 1.7l3.2-1.6l25.5-.1l4.9 1.4l2.6 .5l15.9-1.8l26.5 1.8l5.3 0l9.8-.1l40.8 .1l18.2 .1l8.5-1.8l18.8-.3l9.9-.2l9.1 2.3l46.3-2.3l6.5 1.9l13.8 .1l2.3-.3l13.1-1.4l15.4 .2l9.7 1.3l5.3 .3l25.5 .2l45.7 .1l3-2.1l36.8-.3l6.2 2.3l-516.1 .6l4.8 1.9l12.1-.3l46.4-.3l14.5-1.2l14.6 0l53.2-.2l1.6 2.1l6.8-2.1l5.6 1.7l21.2-.1l20.7-1.6l17.2 1.9l23.5-2l9.8 2.1l31.9-2l5.4 0l1.3 1.4l12.6 .1l32.7 .5l33.4-.1l12-1.8l13.9 1.6l2.2 .4l31.3-2.3l61.9 .4l-432.5 2.2l8.6 2l13.6-2.1l55.6 1.9l4.6 0l3.2-.1l10 .5l28.4-.5l27.9 0l7.5-.1l36.3-1.5l24.6 1.7l4.9 .1l22.7 0l23.7-.1l46.8-1.8l11.9 1.7l23.8-1.7l18.7 .1l53.5 1.7l22.1-1.9l3.7 1.9l8.4 .2l-483.8 2.8l6.9-2.2l36.2 2l10.4-.4l11 .3l24-2.1l28.3 .2l35-.1l4.8 .1l2.3 1.7l4.1 .5l3.3 .1l25.9-2.1l9.9 1.6l6.9 .2l2.3-.4l21.1 .5l20.8-.4l84.1 .3l7.3 .3l25.6-.5l25.1 .3l10.7-.1l2.9-2.2l7.9 .1l20.1 2.3l43.6-2.4l7.5 2.3l-524.5 2.5l77.9-2.1l33.9 1.9l2.3-.1l19.6-1.5l6.5 1.4l13.1 0l1.4-1.5l28.7 1.7l26-.1l1-1.4l36.3 1.8l8.7-.1l14.9 .1l.6-2.2l67.5 1.7l19.8-1.7l44.1 2l31.9-2l4.6 1.9l6.3-1.7l19.4-.2l25.7 .3l7 1.5l7.4-.1l-445.5 3.2l4.3-2l14 2l18.2-.5l4.8 .3l18.3-.6l8-1.6l22 2.2l23.3 0l2.8-.3l15.6 .4l11.1-2.3l2.8 0l48.6 2.2l10.5 .2l8.6-2.5l1.4 2l2.8-.2l6.9-1.8l42.7 .1l6 0l73.6 .2l6.1 2.2l15.7-.6l55.5 0l-481 3l11.5 .1l49.5-2.4l33.7 2.3l34.5-1.8l34.9 1.9l5.3-.7l19.3 .6l4-2.1l71.2 1.6l62.9 .3l1.1-2.1l4.6 2l8.2-1.9l51.7 .2l3.1 1.4l17.5-1.6l8.6 1.9l28.6-2l2.3 1.9l15 .2l32.5-.3l8.1 .5l2.4-.4l-512 .7l43.3 .2l4.6-.1l17 2.1l74.3-.5l53.8-1.3l1.2 1.4l13.7 .6l6.7-.7l122.6 .5l32.4-1.8l1.4 1.6l31.8-1.6l2.4-.5l1 1.8l8.1-.1l61 .3l1.7-1.7l30.8 1.5l-448.7 1.1l3-.2l8.7 1.6l6.5-1.4l6.3 1.4l23.2 .7l10.1-.7l23 .7l63.5-.1l25-.5l12.6-1.7l16.9 .1l109.6 1.6l22.8 .1l25.9-1.5l3.5-.1l18.2 2l11.2-2.1l9.6 1.7l1.2-1.6l34.2 2l2.1-.2l7.9-.2l-509.3 .7l47.7 0l65.5 2.1l1.6-2l3 2l34.3-.1l.2-1.7l3.3-.3l6.7 .1l38.3-.1l10.3 .3l63.4 1.5l31-1.9l22.7 2l42.5 0l39-1.5l12.9 1.8l3.5-1.8l14.2 1.6l27.4-.1l2.6 .1l3.2-1.8l16.1-.2l31 .2l10.3 2.1l-514.9 .3l54.1 .1l6.3 2.2l13-.4l6.6-2l1.8 .4l29-.1l2.4 .1l13.5 1.9l25.8-.3l19.2-1.7l10.7 2.1l41.7-.5l90.3-1.4l28-.1l9.9 .1l50.3 1.4l10.8-1.5l14 1.9l15.1 0l5.6-.4l21-1.7l-464.3 2.3l53 0l35.2 0l23.3 .4l20.6 0l6.5 1.8l14.1-1.9l17.8 0l11.9-.2l101.5 1.6l4.7 .3l2.3-1.9l39.9 .2l18.9 2.2l2.5-.7l35.9 .6l19.1-2l11.9 1.5l23.2 .2l2 .4l5.9-2l14.3 1.6l.9-1.9l10.5 .3l17.8 0l-463.2 4.2l15.3 .3l3.6-2.3l9.7 0l62.9 1.7l13.1 .4l.9-2.1l48.9 .1l56.3 1.9l11.3-.2l65.3 0l19.6-1.8l10.8 1.8l3.1 .1l27.7 0l8.7 .2l10.6-1.8l38.4 0l24.8 1.3l26.7-1.5l-438.3 4.8l10.3-2.2l6.5 1.9l2.5-.4l44 .3l5.3 .4l9.5 0l44.2-2.1l17.3 2.1l86.4-.4l4.7-1.7l21.1 1.9l37.7-.6l24.3-1.3l14.2 1.7l10.9 .4l2.5-.1l21-2l31.9 1.4l16 0l14.3 0l-481 .8l15.4 .1l8.7 1.6l12.4 .6l26.6-2l55.1 2l12.9-.1l17.3-.1l2.8-.2l32.1-1.5l73.5-.2l10.9 .2l34 1.5l27.6 .3l3.7-1.9l4.6 1.5l14.7 0l4.2-1.4l26.3 .1l3 1.7l8.2 .1l4.1 .1l-382.6 2.6l16.2-2.4l35.6 .4l.5 1.5l11 .2l6.8-2.2l1.1 1.9l8.2-1.7l43.2 .2l20.3 0l21.4 .1l5-.4l52.7 .1l23.9-.1l32.8 .2l13.3 2.2l51-.2l5.4 .1l10.6-.7l5.2 .4l24.7-.2l3.3 .4l9.5-.4l31 .2l-442.8 2.7l5.2-.2l2.9 0l27-1.8l55.4 1.9l20.3-.2l15.2 .5l4.5-.7l.9-1.7l6.9 1.8l9.7 .5l16.9-2.3l6.9 2.2l3.8-2l24.7-.1l59.8 .3l22.9 2l23 0l13.5-.2l10.5 0l2.4-.5l5.2 0l13 0l57.1-1.7l6.3 2.1l11.2-1.8l35.6-.3l14.8 .4l-468.5 4.6l7.4-.2l17.3-2.3l15.4 2.4l28.2-.4l10.9 .4l11.6-1.9l9.4 0l20.5-.2l63.3 1.6l47.8 .5l18.2-.1l15.3 0l9.4 .1l34.5-1.9l36.8 1.9l13.7-.4l97.1-.1l-458 2.5l2.3 .3l38.9 0l7.2 .2l40.7-.1l33.4-.4l13.1-1.8l11.6 2.2l3.3-.3l53 .2l20.4-.1l12.8 .2l5.9-.2l62.5-2l.3 2.1l7.4-1.7l1.3-.3l2.9 .1l29 1.7l42.3-1.9l7.6 .4l-385.6 2.5l26.9 2.1l89.2 0l24.4-.8l14.6-1.3l4.6 1.4l6.9 .3l1.7-1.7l17.8 .1l30.1-.4l40.1 2.4l20.6 0l31.8-2.2l16.6 2.2l38.2-.7l1-1.6l25.1 0l48.2-.1l19.4 2l-442.8 2.9l61.5-.4l5.6-.1l4.6 .5l30.5-.5l4.9-.2l9.3-1.5l7.6-.1l12.7-.1l21.2 0l5.1 .2l59.6 1.9l15.1-.2l2.8-.2l55.2 .5l9.2-1.9l8.6-.1l49.3 1.6l7.5-.1l11.9-1.5l.2 2l46.1 .1l2.4-2l4.6-.1l-418.4 4.1l28.7 .3l24.6 0l43.2 .1l9.7-1.8l51.9 1.4l1.4-1.7l2.3 0l39.1 2.3l20.3-.2l85.1-.2l4.3-1.5l34.1 1.7l12.7 .1l22.6-.6l17.1-1.5l-355 4.6l10.1 .1l5.1 .1l96.7-.5l11 .4l4-.3l5.4-.3l21.3 .4l33.2-.2l3-1.5l32.5 1.8l49.9-1.8l31 1.7l51.6-.2l11.3-1.9l-438.5 5l49.2-2.3l8.9 1.6l16 .6l27.7-.6l1.8-1.3l46.3 1.3l38.7 .6l50.8-.6l16.3-1.8l45.8 .3l27.1 2.1l1-2.2l2.2 2.1l-315.7 2.3l11.4-2l21.6 2.4l12.3-2l23.6 1.9l9.3-2l14.7-.1l45.8 .1l27.2 1.8l26.5-1.8l7 1.6l15-.1l30-1.5l13.7 1.9l76.5-.1l25.8 .2l22.6-.1l24.5-2.2l3.9 1.9l1.1-1.8l4.5 .1l6.9 1.8l-427.8 2.3l30.2-1.4l59.3 1.5l17.6 .4l42.8-2.1l30.6 .2l28.5 1.8l17-1.7l11.7 1.3l13.6-1.7l20.7-.1l8.9 2.4l16.5-2.4l51.2 0l6.8 .3l40.5 2l7-.1l4.7 0l18.2-.1l-435.1 2.4l38.9 .3l7.3-.4l12.3-1.8l42.2 1.7l22.3 .2l23.4-.2l29.4-1.3l20.6-.1l24.3-.3l11.3 2.3l25-2l50.4-.1l16.8 2.2l12.7-.4l5.4 .3l2.4 .1l9.8-.6l5.4 .5l7.5-.2l19.8-1.9l13.9 2l7.5-.2l1.3-1.6l1.4 1.3l8.2 .6l9.1-.1l17.1-2.2l-423.7 4.4l6.2-1.4l39.2-.4l58.8 1.6l10.7 .1l5.5 .3l54.2-1.8l12.7 .2l16.2-.4l21.4 2.3l5.4-.1l16-2.3l23 .2l9.3 2l20.8-.4l3.7 0l57.3 .6l.5-2.2l29.1 1.5l1.8-1.2l6.7 1.9l.2-2.4l15.7 .5l8.6 1.5l5.3 .5l12.1-2.5l-466.7 4.3l133.3-1.2l42.4 1.6l25-2l14.5 .3l30.2 0l11.6 1.9l44.1-.2l13.3-1.7l25 1.4l1.4-1.5l13.6 1.6l18.9-1.4l25.9-.5l19.7 .4l26.2-.1l1.2 1.9l14.9 0l-453.7 .8l41.1-.5l11.6 2.4l13.3-1.9l60.6 1.4l9.2 .2l26.5-.3l32.6 .3l1.3-1.9l9.9 0l30.4 2l12.5-.1l6.6-2.1l3.3 2.2l91.2 0l2.4-1.9l.3 2.1l21.7-2.3l11.2-.1l26.1 1.7l29.5-1.6l-416.4 2.6l7.1 .3l29.1 1.8l3.3-2l6.5 1.9l47.3-2l94.7 0l19.5 1.9l18.1 0l40.6-.1l5.4 .5l11.4-2.3l12.7 .3l20.6 2l60.3-1.9l3.9 1.8l11.3-2l43.6 0l-421.8 2.3l70.9-.1l7.5 .3l141.3 1.6l19.8-1.9l22.8 .4l27.3 1.4l10.4 .4l9.4 0l21.9-1.9l33.1 .2l14 1.8l32.1-1.9l-259.2 2.2l26.9 2.4l30.8-.3l9.5 0l16.2 .3l63.5-.4l5.4 .3l80.3-2l12.9 .1l-377 2.3l96.6 2l56.6-1.9l2.5-.2l22.9-.1l14.6 1.9l25.6-.2l16.6-1.2l14.2 1.6l2.6-1.8l47.9 1.6l15.4 .5l13.1 0l2-.4l29.3-1.6l-332.1 2.2l8.1 2.4l127.6-.2l16.9-2.1l26.4 2.2l9.2-1.9l5.6 2l37.3-2.3l12 2l10.5 .2l4.5-.5l30 .4l48.5-.4l11.4-1.5l15.1 1.4l5.7-1.3l11-.3l-405.7 4.7l26.8-2.2l80.3 2.2l11.8-2.3l68.3 .3l9.6-.3l22 2.4l43.9-.2l4.9 .2l19.7-.6l11.8-1.6l64.9 1.7l3.3 .3l15.4 0l4.3-.1l15.2-.1l-363.1 2.4l120.6 .6l24.3-.7l45-1.3l35.3 1.4l2.5 0l7.5 .1l5.2-.1l55.4 0l54.3 .2l-404.2 3l44.5-2.2l151.7 2.2l14.8-.4l15.9-.2l19.3-1.6l15-.3l12.9 .2l2.5 .3l8.5 1.3l11.1-1.4l10.5-.4l49.5 1.8l10.9 .7l2.2-.2l5.1-.5l6.2-1.3l16.5 1.8l1.1-2.3l1.5 2.5l-389.2 2.1l20.1-1.6l135.1-.4l3.4 1.9l7.4-.1l27.6-1.3l106.6-.3l3 2.2l28.1-2.3l2.2 .3l8.8 1.3l30.1 .3l5 .4l-161.8 1.8l7.5 .1l8.8-1.5l63.3 2l27.3 .1l2.6 0l14.7-2l48.9 1.9l-335.3 .8l115.2 1.9l13.3-.2l21.2-1.9l14.6 1.5l35.6 .5l13.1-2l4.3 2.1l39-2.3l2.4 1.9l37.6-.1l22.5 .5l-220.6 2.4l71.2-1.8l44.7 2l21.1-2.3l58 .1l36 0l10.7-.3l-350.2 2.7l141.2 2.2l.6-2l13 .1l12.6-.1l48.9 .1l2.8-.2l7.6 0l8.4 1.7l13.9-1.5l45.4 1.9l-157.1 2.1l24.3-1.6l50.1 2.2l26.8-.8l8.6 .2l4.5 .1l4.6-1.8l14.7 0l23.8 1.6l21 0l9-1.5l3.7 2.2l3.2-.4l-204.3 1l25.7-.1l42.2 1.7l65-1.9l2.8 2l23.7-.4l19.9 .5l12.2-.5l18.3 .6l23-.6l-336 .8l70.4 .2l52.1 1.6l5.2-.1l23.5 .4l30.7-.2l40.9-.2l2.8 .1l4.7 .1l3.2 .2l10.6-1.7l24.2 1.7l36.2-.3l25.7 .6l-220.8 2.1l42.5 0l13.9 0l7.4 0l18.7-1.8l3.7 1.5l18.2 .4l19.7-.2l7.2-1.9l45.6 .1l3.8 1.8l28.2-.1l6.7-1.7l-244 2.9l14.6 1.8l49.2-2l9.2 2.2l19.9-.7l2-1.8l1.4 .5l10.2-.5l6.3 .5l12.3-.4l32.8-.1l26.3 0l18.4 1.9l18.3 .5l13.2 0l1.1-2.1l7.9 1.9l12.9-.3l-236.5 1.1l3.1 1.9l17.9-.2l8.7-.1l15.7-1.8l27.5 1.8l2.7-1.8l26.8 1.9l5.7 .3l1.9-.6l17.3-1.7l33.1 .1l28.8 1.8l6.2-1.8l9.5 1.7l13.5 .5l1.8-.1l-230.6 2.5l1.1-2.2l84.7 .4l70.1 1.3l14.5 .4l2.5 .1l6.6-2l3.2-.1l3.7 1.7l22.2 .2l9.2-1.9l-319.5 2.5l4.5 .2l101.4 1.5l33.5-1.7l29.3 2.3l75.7-2.4l15.1 .4l9.1 1.8l20 0l27.5-1.8l16.6 1.6l6.3-1.9l-202 4.6l25.6 .1l38.4-.4l2.1 .5l10.7-.5l9.2-1.5l.8 1.8l18.6-.3l3.6-1.6l26.1 2.1l1.1-2.4l6.4 2.3l25.3-2.3l11.1 2.4l18.4-.4l1.2 .5l-241 .4l22.9 1.7l38.6-.1l4.9-1.9l3.5 1.8l3.6-1.3l25.8-.5l19.2 1.8l61.7-1.6l13.3-.2l6.7 2.4l14.1-.7l7.8 .6l9-1.9l1.6 1.7l7.1-.2l-236.8 1.1l43.7-.5l46 0l19.2 2.4l5 0l20.6-.5l66.9-1.4l16.2-.3l31.8 1.8l-191.2 .7l4.4 .4l5.4-.1l44.4 1.7l8.3-.3l2.9-1.5l56.6 0l-136.5 2.7l44.6 1.7l2.2 .1l8.3-.4l9.6 .4l4.7-.2l4.4-1.7l28.6-.4l3.3 1.8l5.3 0l3.4-1.5l69.9 1.9l-180.2 .7l6.1 1.5l16.8-1.5l8.9 2l1.6-.5l13.9 0l19.9 .6l4.4-1.9l42.7-.2l26.1 .2l10.2-.3l-101.2 2.7l46.2-.3l31.2 1.7l1.3-1.7l26.5 1.8l15.4 .2l-181 .5l2.6 .4l35.8-.1l4.7 .1l35.7 1.7l17 .1l25.8-.5l15.8 .4l35.6-.4l4.6 .3l1.2-1.9l-175.6 4.7l22.6 .1l29.6-1.9l15.6-.2l5.3 1.6l8.8 .5l34.6-.6l-114.8 1l19.4 1.6l18 .5l27.7 .1l54.7-.7l9 .7l47.8-2.3l-150.5 4.1l45.6 .8l3.5-.7l45.3 .5l10.4 0l50.1-1.8l-163.5 4.1l4.7-.2l2.9 .6l18.9-2.3l26.1 0l7.7 2l82.5-.2l20.5-.2l.2-1.7l-139.1 4.3l33.8-1.5l14.4 2l17.8-.5l36.3-1.7l24.2 2.2l5.3-.4l-147.3 1l16.4 2l3.3-2.2l31.7 2l37.7-1.9l15.7 0l31.1 2.1l1.3-2.3l13.2 0l-142.4 4.5l29.5-.1l8.2 .3l59.5-2.1l19.3 2l-122.7 .8l6.6 1.7l6.3-1.6l9.6 1.8l7.3-.5l75.1-1.3l-100.5 2.2l38.8 .4l33.4 1.6l-59.1 2.7l-11.8 3.3l11.2 2.3l-3 2.7l15.4 6.5l-18.5 8.1l17.1-1.7l2.6 1.9l1.5-2.2l-10 4.4" fill="none" marker-start="url(#mG)" marker-mid="url(#mG)" marker-end="url(#mG)"/><g transform="translate(690,0)"><path d="M504.9 1105.1C510.1 1104.2 512.8 1104.3 518.4 1104.7C524.0 1105.1 532.3 1105.7 538.6 1107.2C544.9 1108.7 551.7 1112.0 556.2 1113.9C560.7 1115.8 561.9 1117.5 565.7 1118.6C569.5 1119.7 574.1 1120.0 579.2 1120.7C584.3 1121.4 591.6 1121.3 596.2 1123.0C600.8 1124.7 604.8 1128.6 607.0 1131.1C609.2 1133.6 607.5 1136.8 609.7 1137.8C612.0 1138.8 616.5 1136.5 620.5 1137.2C624.5 1137.9 629.5 1139.8 634.0 1141.9C638.5 1144.0 643.1 1147.5 647.6 1150.0C652.1 1152.5 656.8 1153.9 661.1 1156.8C665.4 1159.7 670.3 1164.0 673.2 1167.6C676.1 1171.2 677.5 1175.0 678.6 1178.4C679.7 1181.8 678.4 1185.8 680.0 1187.8C681.6 1189.8 684.5 1188.9 688.1 1190.5C691.7 1192.1 697.1 1194.1 701.6 1197.3C706.1 1200.5 710.6 1204.8 715.1 1209.5C719.6 1214.2 724.5 1219.9 728.6 1225.7C732.7 1231.5 736.6 1238.5 739.5 1244.6C742.4 1250.7 744.2 1255.9 746.2 1262.2C748.2 1268.5 749.8 1274.8 751.6 1282.4C753.4 1290.0 755.1 1300.6 756.8 1307.8C758.4 1315.0 760.1 1319.7 761.5 1325.6C762.9 1331.5 764.3 1337.5 765.1 1343.4C765.9 1349.3 766.2 1355.3 766.3 1361.2C766.4 1367.1 766.1 1373.1 765.7 1379.0C765.3 1384.9 765.0 1391.5 763.9 1396.8C762.8 1402.1 761.1 1406.8 759.1 1411.0C757.1 1415.2 754.8 1418.5 752.0 1421.7C749.2 1424.9 746.0 1427.8 742.5 1430.0C739.0 1432.2 734.5 1433.3 730.7 1434.7C727.0 1436.1 720.8 1436.7 720.0 1438.3C719.2 1439.9 723.7 1441.2 725.9 1444.2C728.1 1447.2 731.3 1452.1 733.0 1456.1C734.7 1460.1 735.5 1464.0 736.2 1468.0C736.9 1472.0 737.1 1474.6 737.0 1480.0C736.9 1485.4 736.5 1493.6 735.4 1500.5C734.3 1507.4 732.9 1515.4 730.5 1521.6C728.1 1527.8 725.1 1532.9 720.8 1537.8C716.5 1542.7 710.0 1547.0 704.6 1550.8C699.2 1554.6 693.8 1557.8 688.4 1560.5C683.0 1563.2 678.2 1565.4 672.2 1567.0C666.2 1568.6 659.5 1570.0 652.7 1570.3C645.9 1570.6 638.6 1569.0 631.6 1568.6C624.6 1568.2 616.7 1568.1 610.5 1567.8C604.3 1567.5 598.6 1567.5 594.3 1567.0C590.0 1566.5 586.8 1563.4 584.6 1564.5C582.4 1565.6 582.0 1569.3 581.3 1573.5C580.6 1577.7 581.6 1585.7 580.5 1589.7C579.4 1593.8 578.5 1596.2 574.9 1597.8C571.2 1599.4 563.5 1599.8 558.6 1599.5C553.7 1599.2 548.9 1598.4 545.7 1596.2C542.5 1594.0 541.4 1590.3 539.2 1586.5C537.0 1582.7 535.1 1577.8 532.7 1573.5C530.3 1569.2 527.3 1564.3 524.6 1560.5C521.9 1556.7 518.9 1553.0 516.5 1550.8C514.1 1548.6 513.7 1548.7 510.0 1547.6C506.3 1546.5 499.6 1545.6 494.3 1544.3C489.0 1543.0 483.5 1541.6 478.1 1540.0C472.7 1538.4 466.6 1536.4 461.9 1534.6C457.2 1532.8 453.1 1531.2 450.0 1529.2C446.9 1527.2 444.6 1525.4 443.5 1522.7C442.4 1520.0 442.8 1516.4 443.5 1513.0C444.2 1509.6 445.6 1506.2 447.8 1502.2C450.0 1498.2 454.3 1493.2 456.5 1489.2C458.7 1485.2 460.3 1480.9 460.8 1478.4C461.3 1475.9 460.4 1474.3 459.7 1474.1C459.0 1473.9 457.8 1475.5 456.5 1477.3C455.2 1479.1 454.0 1482.4 452.2 1484.9C450.4 1487.4 448.2 1490.6 445.7 1492.4C443.2 1494.2 440.6 1495.5 437.0 1495.7C433.4 1495.9 428.0 1494.6 424.0 1493.5C420.0 1492.4 415.9 1488.8 413.2 1489.2C410.5 1489.6 409.9 1492.5 407.8 1495.7C405.7 1498.9 403.0 1505.0 400.3 1508.6C397.6 1512.2 394.9 1515.2 391.6 1517.3C388.4 1519.4 384.5 1520.7 380.8 1521.1C377.1 1521.5 373.7 1521.0 369.7 1519.7C365.7 1518.4 360.8 1515.9 356.9 1513.3C353.0 1510.7 349.6 1505.6 346.6 1504.3C343.6 1503.0 341.9 1505.2 338.9 1505.6C335.9 1506.0 332.0 1507.3 328.6 1506.9C325.2 1506.5 321.8 1505.2 318.4 1503.0C315.0 1500.8 310.9 1497.0 308.1 1494.0C305.3 1491.0 304.7 1487.2 301.7 1485.1C298.7 1483.0 294.8 1482.5 290.1 1481.2C285.4 1479.9 278.3 1478.9 273.4 1477.4C268.5 1475.9 264.9 1474.6 260.6 1472.2C256.3 1469.8 252.1 1466.6 247.8 1463.2C243.5 1459.8 239.2 1456.0 234.9 1451.7C230.6 1447.4 226.2 1442.3 222.1 1437.6C218.0 1432.9 213.7 1427.9 210.5 1423.4C207.3 1418.9 204.5 1415.9 202.8 1410.6C201.1 1405.2 200.5 1397.7 200.3 1391.3C200.1 1384.9 200.5 1378.5 201.6 1372.1C202.7 1365.7 204.9 1358.4 206.7 1352.8C208.5 1347.2 209.3 1345.8 212.3 1338.3C215.3 1330.8 220.1 1317.9 224.5 1307.8C228.9 1297.7 233.6 1286.5 238.7 1277.4C243.8 1268.3 248.8 1261.5 254.9 1253.1C261.0 1244.7 268.4 1235.2 275.1 1226.8C281.9 1218.3 287.6 1210.2 295.4 1202.4C303.2 1194.6 312.3 1187.2 321.8 1180.1C331.3 1173.0 342.1 1165.6 352.2 1159.9C362.3 1154.2 372.9 1150.2 382.6 1145.7C392.3 1141.2 402.3 1136.4 410.3 1132.8C418.3 1129.2 423.8 1126.5 430.5 1124.0C437.2 1121.5 444.0 1119.7 450.8 1118.0C457.6 1116.3 465.0 1115.2 471.1 1113.9C477.2 1112.6 481.7 1111.4 487.3 1109.9C492.9 1108.4 499.7 1106.0 504.9 1105.1Z" fill="#dfdfe9" stroke="#cdcddb" stroke-width="1"/><path d="M504.9 1105.1C510.1 1104.2 512.8 1104.3 518.4 1104.7C524.0 1105.1 532.3 1105.7 538.6 1107.2C544.9 1108.7 551.7 1112.0 556.2 1113.9C560.7 1115.8 561.9 1117.5 565.7 1118.6C569.5 1119.7 574.1 1120.0 579.2 1120.7C584.3 1121.4 591.6 1121.3 596.2 1123.0C600.8 1124.7 604.8 1128.6 607.0 1131.1C609.2 1133.6 607.5 1136.8 609.7 1137.8C612.0 1138.8 616.5 1136.5 620.5 1137.2C624.5 1137.9 629.5 1139.8 634.0 1141.9C638.5 1144.0 643.1 1147.5 647.6 1150.0C652.1 1152.5 656.8 1153.9 661.1 1156.8C665.4 1159.7 670.3 1164.0 673.2 1167.6C676.1 1171.2 677.5 1175.0 678.6 1178.4C679.7 1181.8 678.4 1185.8 680.0 1187.8C681.6 1189.8 684.5 1188.9 688.1 1190.5C691.7 1192.1 697.1 1194.1 701.6 1197.3C706.1 1200.5 710.6 1204.8 715.1 1209.5C719.6 1214.2 724.5 1219.9 728.6 1225.7C732.7 1231.5 736.6 1238.5 739.5 1244.6C742.4 1250.7 744.2 1255.9 746.2 1262.2C748.2 1268.5 749.8 1274.8 751.6 1282.4C753.4 1290.0 755.1 1300.6 756.8 1307.8C758.4 1315.0 760.1 1319.7 761.5 1325.6C762.9 1331.5 764.3 1337.5 765.1 1343.4C765.9 1349.3 766.2 1355.3 766.3 1361.2C766.4 1367.1 766.1 1373.1 765.7 1379.0C765.3 1384.9 765.0 1391.5 763.9 1396.8C762.8 1402.1 761.1 1406.8 759.1 1411.0C757.1 1415.2 754.8 1418.5 752.0 1421.7C749.2 1424.9 746.0 1427.8 742.5 1430.0C739.0 1432.2 734.5 1433.3 730.7 1434.7C727.0 1436.1 720.8 1436.7 720.0 1438.3C719.2 1439.9 723.7 1441.2 725.9 1444.2C728.1 1447.2 731.3 1452.1 733.0 1456.1C734.7 1460.1 735.5 1464.0 736.2 1468.0C736.9 1472.0 737.1 1474.6 737.0 1480.0C736.9 1485.4 736.5 1493.6 735.4 1500.5C734.3 1507.4 732.9 1515.4 730.5 1521.6C728.1 1527.8 725.1 1532.9 720.8 1537.8C716.5 1542.7 710.0 1547.0 704.6 1550.8C699.2 1554.6 693.8 1557.8 688.4 1560.5C683.0 1563.2 678.2 1565.4 672.2 1567.0C666.2 1568.6 659.5 1570.0 652.7 1570.3C645.9 1570.6 638.6 1569.0 631.6 1568.6C624.6 1568.2 616.7 1568.1 610.5 1567.8C604.3 1567.5 598.6 1567.5 594.3 1567.0C590.0 1566.5 586.8 1563.4 584.6 1564.5C582.4 1565.6 582.0 1569.3 581.3 1573.5C580.6 1577.7 581.6 1585.7 580.5 1589.7C579.4 1593.8 578.5 1596.2 574.9 1597.8C571.2 1599.4 563.5 1599.8 558.6 1599.5C553.7 1599.2 548.9 1598.4 545.7 1596.2C542.5 1594.0 541.4 1590.3 539.2 1586.5C537.0 1582.7 535.1 1577.8 532.7 1573.5C530.3 1569.2 527.3 1564.3 524.6 1560.5C521.9 1556.7 518.9 1553.0 516.5 1550.8C514.1 1548.6 513.7 1548.7 510.0 1547.6C506.3 1546.5 499.6 1545.6 494.3 1544.3C489.0 1543.0 483.5 1541.6 478.1 1540.0C472.7 1538.4 466.6 1536.4 461.9 1534.6C457.2 1532.8 453.1 1531.2 450.0 1529.2C446.9 1527.2 444.6 1525.4 443.5 1522.7C442.4 1520.0 442.8 1516.4 443.5 1513.0C444.2 1509.6 445.6 1506.2 447.8 1502.2C450.0 1498.2 454.3 1493.2 456.5 1489.2C458.7 1485.2 460.3 1480.9 460.8 1478.4C461.3 1475.9 460.4 1474.3 459.7 1474.1C459.0 1473.9 457.8 1475.5 456.5 1477.3C455.2 1479.1 454.0 1482.4 452.2 1484.9C450.4 1487.4 448.2 1490.6 445.7 1492.4C443.2 1494.2 440.6 1495.5 437.0 1495.7C433.4 1495.9 428.0 1494.6 424.0 1493.5C420.0 1492.4 415.9 1488.8 413.2 1489.2C410.5 1489.6 409.9 1492.5 407.8 1495.7C405.7 1498.9 403.0 1505.0 400.3 1508.6C397.6 1512.2 394.9 1515.2 391.6 1517.3C388.4 1519.4 384.5 1520.7 380.8 1521.1C377.1 1521.5 373.7 1521.0 369.7 1519.7C365.7 1518.4 360.8 1515.9 356.9 1513.3C353.0 1510.7 349.6 1505.6 346.6 1504.3C343.6 1503.0 341.9 1505.2 338.9 1505.6C335.9 1506.0 332.0 1507.3 328.6 1506.9C325.2 1506.5 321.8 1505.2 318.4 1503.0C315.0 1500.8 310.9 1497.0 308.1 1494.0C305.3 1491.0 304.7 1487.2 301.7 1485.1C298.7 1483.0 294.8 1482.5 290.1 1481.2C285.4 1479.9 278.3 1478.9 273.4 1477.4C268.5 1475.9 264.9 1474.6 260.6 1472.2C256.3 1469.8 252.1 1466.6 247.8 1463.2C243.5 1459.8 239.2 1456.0 234.9 1451.7C230.6 1447.4 226.2 1442.3 222.1 1437.6C218.0 1432.9 213.7 1427.9 210.5 1423.4C207.3 1418.9 204.5 1415.9 202.8 1410.6C201.1 1405.2 200.5 1397.7 200.3 1391.3C200.1 1384.9 200.5 1378.5 201.6 1372.1C202.7 1365.7 204.9 1358.4 206.7 1352.8C208.5 1347.2 209.3 1345.8 212.3 1338.3C215.3 1330.8 220.1 1317.9 224.5 1307.8C228.9 1297.7 233.6 1286.5 238.7 1277.4C243.8 1268.3 248.8 1261.5 254.9 1253.1C261.0 1244.7 268.4 1235.2 275.1 1226.8C281.9 1218.3 287.6 1210.2 295.4 1202.4C303.2 1194.6 312.3 1187.2 321.8 1180.1C331.3 1173.0 342.1 1165.6 352.2 1159.9C362.3 1154.2 372.9 1150.2 382.6 1145.7C392.3 1141.2 402.3 1136.4 410.3 1132.8C418.3 1129.2 423.8 1126.5 430.5 1124.0C437.2 1121.5 444.0 1119.7 450.8 1118.0C457.6 1116.3 465.0 1115.2 471.1 1113.9C477.2 1112.6 481.7 1111.4 487.3 1109.9C492.9 1108.4 499.7 1106.0 504.9 1105.1Z" fill="#bfbfd3" clip-path="url(#bclip)" stroke="#e4e4ec" stroke-width="24" filter="url(#bblur)"/><rect x="190" y="1095" width="590" height="507" clip-path="url(#bclip)" filter="url(#mottle2)"/><g clip-path="url(#bclip)" fill="#ffffff" fill-opacity="0.14" stroke="#8a8ab0" stroke-opacity="0.28" stroke-width="1"><ellipse cx="507.0" cy="1116.8" rx="19.9" ry="15.9" transform="rotate(-10 507.0 1116.8)"/><ellipse cx="534.3" cy="1119.3" rx="21.2" ry="17.0" transform="rotate(12 534.3 1119.3)"/><ellipse cx="567.4" cy="1133.5" rx="23.8" ry="19.0" transform="rotate(9 567.4 1133.5)"/><ellipse cx="592.6" cy="1132.9" rx="17.6" ry="14.1" transform="rotate(20 592.6 1132.9)"/><ellipse cx="622.1" cy="1150.1" rx="20.1" ry="16.1" transform="rotate(18 622.1 1150.1)"/><ellipse cx="645.3" cy="1167.2" rx="27.5" ry="22.0" transform="rotate(25 645.3 1167.2)"/><ellipse cx="662.5" cy="1179.7" rx="25.9" ry="20.7" transform="rotate(65 662.5 1179.7)"/><ellipse cx="689.3" cy="1206.7" rx="23.9" ry="19.1" transform="rotate(27 689.3 1206.7)"/><ellipse cx="706.8" cy="1221.6" rx="23.8" ry="19.1" transform="rotate(47 706.8 1221.6)"/><ellipse cx="726.5" cy="1249.1" rx="22.7" ry="18.2" transform="rotate(64 726.5 1249.1)"/><ellipse cx="736.2" cy="1280.4" rx="24.2" ry="19.4" transform="rotate(76 736.2 1280.4)"/><ellipse cx="741.2" cy="1307.0" rx="25.1" ry="20.1" transform="rotate(78 741.2 1307.0)"/><ellipse cx="752.0" cy="1339.8" rx="20.5" ry="16.4" transform="rotate(79 752.0 1339.8)"/><ellipse cx="750.6" cy="1362.8" rx="26.2" ry="20.9" transform="rotate(90 750.6 1362.8)"/><ellipse cx="749.6" cy="1392.9" rx="24.7" ry="19.8" transform="rotate(100 749.6 1392.9)"/><ellipse cx="736.2" cy="1416.4" rx="24.6" ry="19.7" transform="rotate(143 736.2 1416.4)"/><ellipse cx="717.0" cy="1453.9" rx="21.4" ry="17.2" transform="rotate(56 717.0 1453.9)"/><ellipse cx="723.8" cy="1481.0" rx="21.9" ry="17.6" transform="rotate(92 723.8 1481.0)"/><ellipse cx="716.2" cy="1514.8" rx="26.3" ry="21.0" transform="rotate(109 716.2 1514.8)"/><ellipse cx="708.6" cy="1533.9" rx="18.9" ry="15.1" transform="rotate(140 708.6 1533.9)"/><ellipse cx="684.6" cy="1544.1" rx="27.2" ry="21.7" transform="rotate(151 684.6 1544.1)"/><ellipse cx="658.9" cy="1555.4" rx="23.8" ry="19.0" transform="rotate(171 658.9 1555.4)"/><ellipse cx="632.5" cy="1555.1" rx="22.6" ry="18.1" transform="rotate(-176 632.5 1555.1)"/><ellipse cx="600.9" cy="1554.9" rx="21.0" ry="16.8" transform="rotate(-177 600.9 1554.9)"/><ellipse cx="567.0" cy="1581.6" rx="23.3" ry="18.7" transform="rotate(90 567.0 1581.6)"/><ellipse cx="556.9" cy="1584.7" rx="24.3" ry="19.5" transform="rotate(-172 556.9 1584.7)"/><ellipse cx="545.0" cy="1563.5" rx="26.1" ry="20.9" transform="rotate(-120 545.0 1563.5)"/><ellipse cx="505.5" cy="1531.8" rx="24.2" ry="19.4" transform="rotate(-169 505.5 1531.8)"/><ellipse cx="480.0" cy="1524.2" rx="26.1" ry="20.9" transform="rotate(-163 480.0 1524.2)"/><ellipse cx="458.7" cy="1518.4" rx="26.5" ry="21.2" transform="rotate(-95 458.7 1518.4)"/><ellipse cx="443.6" cy="1481.9" rx="24.6" ry="19.7" transform="rotate(-61 443.6 1481.9)"/><ellipse cx="465.7" cy="1492.6" rx="25.8" ry="20.7" transform="rotate(123 465.7 1492.6)"/><ellipse cx="427.2" cy="1481.7" rx="20.3" ry="16.3" transform="rotate(-160 427.2 1481.7)"/><ellipse cx="390.5" cy="1494.5" rx="26.0" ry="20.8" transform="rotate(119 390.5 1494.5)"/><ellipse cx="375.1" cy="1509.8" rx="18.4" ry="14.7" transform="rotate(-167 375.1 1509.8)"/><ellipse cx="336.8" cy="1492.7" rx="21.6" ry="17.3" transform="rotate(161 336.8 1492.7)"/><ellipse cx="322.6" cy="1490.9" rx="20.4" ry="16.4" transform="rotate(-141 322.6 1490.9)"/><ellipse cx="289.6" cy="1464.9" rx="26.2" ry="21.0" transform="rotate(-168 289.6 1464.9)"/><ellipse cx="267.5" cy="1459.8" rx="23.6" ry="18.9" transform="rotate(-151 267.5 1459.8)"/><ellipse cx="250.2" cy="1445.8" rx="24.7" ry="19.7" transform="rotate(-138 250.2 1445.8)"/><ellipse cx="231.0" cy="1423.8" rx="26.3" ry="21.0" transform="rotate(-130 231.0 1423.8)"/><ellipse cx="214.3" cy="1398.3" rx="22.6" ry="18.0" transform="rotate(-96 214.3 1398.3)"/><ellipse cx="216.2" cy="1363.9" rx="20.6" ry="16.5" transform="rotate(-74 216.2 1363.9)"/><ellipse cx="227.1" cy="1339.3" rx="23.5" ry="18.8" transform="rotate(-69 227.1 1339.3)"/><ellipse cx="234.2" cy="1314.9" rx="19.5" ry="15.6" transform="rotate(-67 234.2 1314.9)"/><ellipse cx="248.8" cy="1288.6" rx="23.6" ry="18.9" transform="rotate(-63 248.8 1288.6)"/><ellipse cx="260.7" cy="1263.5" rx="17.9" ry="14.3" transform="rotate(-54 260.7 1263.5)"/><ellipse cx="284.8" cy="1234.5" rx="20.6" ry="16.5" transform="rotate(-52 284.8 1234.5)"/><ellipse cx="310.3" cy="1210.1" rx="26.5" ry="21.2" transform="rotate(-43 310.3 1210.1)"/><ellipse cx="332.0" cy="1189.0" rx="22.1" ry="17.7" transform="rotate(-36 332.0 1189.0)"/><ellipse cx="359.2" cy="1172.4" rx="23.9" ry="19.2" transform="rotate(-29 359.2 1172.4)"/><ellipse cx="388.4" cy="1158.3" rx="23.1" ry="18.5" transform="rotate(-25 388.4 1158.3)"/><ellipse cx="422.6" cy="1144.9" rx="26.9" ry="21.5" transform="rotate(-25 422.6 1144.9)"/><ellipse cx="449.1" cy="1131.9" rx="21.8" ry="17.4" transform="rotate(-15 449.1 1131.9)"/><ellipse cx="484.9" cy="1122.8" rx="19.9" ry="15.9" transform="rotate(-14 484.9 1122.8)"/></g><g clip-path="url(#bclip)" fill="#6e6e9a" filter="url(#sblur)"><path d="M212 1418C240 1450 290 1478 340 1488C380 1496 420 1492 452 1478L452 1458C420 1470 380 1472 340 1466C290 1456 250 1436 222 1402Z" fill-opacity="0.32"/><path d="M300 1440C350 1465 400 1470 450 1455L455 1470C405 1485 350 1482 298 1458Z" fill-opacity="0.15"/><ellipse cx="600" cy="1505" rx="125" ry="45" fill-opacity="0.10"/><path d="M455 1455C520 1430 600 1425 700 1438L705 1450C600 1440 520 1445 460 1470Z" fill-opacity="0.18"/><ellipse cx="560" cy="1575" rx="18" ry="20" fill-opacity="0.08"/></g><path clip-path="url(#bclip)" d="M445 1436C500 1418 560 1405 640 1396" stroke="#ececf3" stroke-width="7" fill="none" filter="url(#sblur)" opacity="0.9"/></g><path d="M1205.4 1112.9l-23.4 12.5l20.1 0l-31.2 2.9l46.4-.1l-21.5 2.7l78.5 .4l-62.5 2.8l5.9-1.2l-12.8 3.6l37.3 5.8l34.8 .1l-105.2 2.7l12.9 2.9l57.7-.5l8.8-.1l-12.4 3.7l20.1 0l-25.5 3.3l11.4-1.2l6.5 .3l29.4 .2l-56.9 3.1l-65.2 2.8l11.4 .4l60.7-.9l20.6 .3l31.6-.2l-157.3 3.7l8.8 .2l106-.8l64.1-.4l-206.4 3.2l7.8 .5l26.3 .2l90.3 0l11.6-.4l39.8-.5l-166.6 3.1l2.7-.3l64.8 .5l28.8-.1l46.2 .5l-189.5 3.3l178.6-.2l-172.5 1.9l53.2 1.1l40.5-.8l35.2 .6l46.4 0l34.2-.8l48.6-.1l-288 3.4l11.1-.4l91 .6l-83.1 3l8.6-1l11.8 1l14 0l8.5 .1l3.7-.1l90.1-.5l8.7 .2l34.1-.2l87.9-.2l-269.4 3.3l47.5 .5l2.7-.9l8.4 0l20.3 .9l3 .1l28.8-.5l38.1 .2l43.1 0l104.7-.4l-259.9 3.6l3.2-.1l9-.3l60.2-.2l2.8 .2l18 .2l32.2-.9l33.5 .7l-183.7 2.2l151.4 .7l32.2-.2l74.7 .2l-256.1 2l26.2 1.3l109.6-.9l122.2 .6l-218.9 1.9l143.9 1.1l-221.4 2.3l3.7 .4l69.5 .3l10.9-1.2l5.4 0l18.2 1.3l54.6 0l139-.8l-328 2.7l60 .9l121.9-.9l185.1 .9l-305 3l52.5-1.1l25.9 .2l8.5 .5l37.3 .2l25.6-.8l-195.6 3.2l9.8 0l16.9-.1l22.9 .2l3.4-.1l45.6-.2l23.4 .6l58.3 .2l8.6-.9l35.5 .8l78.1 0l-309.9 3l18.5-.1l32-.3l49.1 .4l26-1.1l78.2 .2l60.4 0l-276.1 3.1l11.8-.1l34.6 .4l20.3-.7l150.7 .2l25.7 1.1l37.6-.9l-265.8 3.7l15.1-1.2l2.6 .2l6.5 .3l22.6-.5l26.9 1l17.3 0l11.5-.5l-129.2 3.3l46.6-.2l19.5-.4l3.4 0l2.1 .1l9.6 .8l17.6-.2l2.2-.5l18 .5l2.2-.8l49.7 .4l6-.6l-175.4 2.9l34 .1l34.7 0l35.1-.2l52.6 1.2l36.9-.5l40.6-.7l9 .3l-230.5 3.1l20.4-.4l14.9 .9l17.4-.3l132.5 .3l79.4-1l-251.4 3.2l5.5 .6l2.7 .4l3.1-.7l4 .5l150-.7l66.2 1l20.7-.3l81.8 .1l16.7-1.1l-380.8 3.5l5.1-.6l41.3 .8l11.6 .1l8.9-.1l100.8 .3l180.4 0l-349.3 2.3l22.4-.2l23.4-.4l5.7 0l22.8 .6l29.7 .7l32.5-1l89.1 .9l165-.2l6.2-.4l20.6 .1l3.2-.1l-428.5 2.6l31.9 .3l34.9 .3l2.8 0l35.2-.2l104.9 .6l2.8 0l55.1-.8l147.5 .8l-396.5 2.2l20.6 .4l2.4 .4l15.1-.2l2.4 .1l12.5-.9l156.2 .6l11.6-.7l58.5-.1l10.7 .8l35.4-.9l55.4 1.1l19.5-.5l-386.4 3l19.6-.7l28.7 .6l6.4 .4l84.7-.8l40.3 .2l2.4 0l24.1 .3l2.6-.7l162.1 0l5.2 0l2.8 1.2l-372.4 2.6l24.2-.1l16.2-.7l3.7 .7l10.9-.5l21.2 .6l14.3-.5l31.9 .4l26 .1l32.4-.9l100.6 0l11.7 .8l8.9-.3l29.3-.4l-309.4 3.1l3.6 .8l10.5 .1l43.8 0l26.1-.6l6.4 .1l26.2-.5l22.5 .5l6.5 .2l8.8 .2l164.4-.5l20.2-.5l17.7 .5l-395.8 2.7l43.8 .4l20.7-.5l5.4-.1l20.6 .6l8.7-.7l5.9 .6l17.3 .1l5.3 0l2.6-.7l47.2 .7l7.8 .2l3.1-.3l8.4-.3l24.4 .4l1.8 .1l69.9-.1l17-.9l29.8 0l8.6 .3l5.3-.2l64.7 .9l-359 2.1l44.5 .7l4.9-.8l49.4-.1l14 .8l40.5 .3l64.6-.6l5.2-.2l5.7 .5l3.9 .3l78.6-1.1l39.5 .9l-374.7 2.9l25.4 .5l5.7-1.1l6.4 .4l6 .5l2.9-.2l57.6 .2l54.8 .1l81.5-.7l58.2-.5l5.2 .7l20.7 0l41-.1l-384.9 2.8l3.4 .6l7.7-.9l13 .6l56.7 0l3.8 .4l28-.3l15.9-.8l45.9-.1l8.7 1.1l6.1-.7l2.9 .3l8.1-.3l51.8 .3l76.5 .4l-308.8 2.8l22.4-.8l17.5 .2l5.6 .2l53.1-.4l10.4 0l24.4 .3l28.2-.4l15.1 .9l4.8-.9l65-.1l54.5 1l-280.1 3.2l8.5-.6l3-.7l6.6 .4l57.9-.2l2.8 .8l22.4-.7l3.2 .4l55.6 .1l2.2 .4l35-.2l69.8 0l29.6 .2l63-1.2l-454.1 3.5l6.3 .7l8.9-.7l155.9-.2l26.8 0l57.4-.5l96.2 1.1l25.4-.1l12.4-1l10.8 1.2l-409.4 2.2l11.1 .7l5.8-.6l6.4 .1l184.7-.4l20.7 .4l35.2-.1l54.4 .1l31.9 0l64.3-.2l8.6 .5l-407 2.9l3 .3l39.7-1l14.2-.1l3.3-.1l8.3 1.2l7-.2l16.9 .1l11.3-1.2l87.8 .1l8.2 1l25.3-.1l24.5-.4l205.3-.2l6.3-.4l-475.4 4l6.9-.5l7.8 .4l58.6-.2l101-.3l29-.3l6.6 1.1l4.8-.3l58.8 .2l49-.5l29.3-.1l34.9 .5l35 .2l-410.8 2.6l3.1-1l2.2 .6l18.1 .5l10.8 .2l37.8-.9l15.4-.3l8.8 .5l23.1 .2l45.3-.4l5.8 .7l21.3-.9l7.7 .3l128.1-.2l49 .5l20.6-.7l17.6 .4l-430.6 3l34.4-.6l8.4 1.4l14.4-1.4l43.6 .2l9.8 .9l8.5-1.1l2.2 1.2l3.4-.5l17.6 .6l52.1-.6l5.1-.2l5.7 .6l105.2-.4l23.3 .5l40.5 0l11-.4l5.7-.6l-395.8 2.9l6.2 .9l43.8-.3l28.4-.7l47-.1l43.5 1.3l48.8-.9l105 .4l86.3-.6l5.6 .2l61.3 1l-471.5 2l3 0l14.7 .8l32.3-1l14.3 .3l14.7 0l14.3 .3l22.6-.2l4-.4l10.6-.1l23.3 .7l23.9 .1l2.4-.1l2.5 .3l8.8-.7l8.4-.5l15 .3l40.2 .7l61.1 .2l2.6 .1l41.7-.8l29.2-.4l56.8 .4l-400.4 3.3l31.3-.1l37.7 .3l17.7-.6l5 .1l73.3-.2l3.2-.3l2.8 1.3l30.9-1l6.3 .3l69.2 0l-290.6 2.8l16.7 .5l5.4-.2l44.7-.8l14.1 .9l25.6-.8l17.2 .1l29.1-.3l11.8 1.2l35.4-.6l110.4-.1l-335.5 3.6l20.4 0l12-.8l5.5-.1l54.6 .4l20.5 .2l35.5-.1l22.8-.5l8.5 .1l3.5 .8l8.5-.2l2.7-.7l97.8 .9l-294.4 3l15-.2l37.2-.7l24 .3l25.9-.7l8.8 1.1l58-.5l3.2-.2l14.4 0l2.5 .9l13.9-.9l5.8 .6l17.9 .1l11.3 0l20.4-.1l38.4 .1l7.8-.3l56 .3l63.2-.4l47.3-.3l-431.3 3.5l57.7-.5l5.8 .6l55.8-.6l8.1-.1l9.4 .5l14-.6l22.7 .3l12.6 .3l4.7-.3l12.3-.1l46.7 .6l2.1-.5l2.9 .2l23.5 .2l5.5-.8l31.7 .4l-340.6 2.7l34.9-.1l9.2 .1l14.5-.3l3.3 .2l8 .1l6.2 .7l23.5-1l59.8 .2l47.3 .5l3-.1l104.1-.7l60.2 .9l5.8 .2l4-.1l5.9 0l-404.9 2.5l43.9 .1l27.8 .2l12.8-.4l5.1 .2l57.8 .5l29.3-.2l49.7 .3l106.7 0l44.2-.9l34.6 .1l-425.2 3.7l9.2-1.2l2.8 .2l19.7-.1l5.8-.2l12 .5l26.3 .7l3-1l40.6 1l4.8-.2l35.5-.9l20.4 1.3l8.5-.1l46.4-1.2l2.6 1.2l9.2-.5l74.5 .6l3.7-1.1l10.9 .8l5.8-.9l6.8 1.2l66.5-1l25.7 .6l17.3-.1l-447.8 2.2l122.2 1.1l7.9-.8l107.5-.1l63.5-.2l24.1 .4l19.8 0l3.3 .3l2.7-.4l54.9 .7l43.1-.8l3.4 .5l-463.1 2.3l27.1 .9l124.6-1.1l4.7 .3l23.5 .7l6.2-.7l98.5 .2l14.6-.1l75.1-.3l78.1 .1l8.6 .7l-453.2 2l8.1 1.2l32.5-.7l20.5 .2l5.7-.6l2.3-.1l43.9 1.1l107.8-.1l11.4 .1l49.3-1.2l11.1 .8l20.7 .2l8.4-.6l8.5 0l5.8-.1l76.2 .2l-362 2.5l21.3 1.3l31.7-.7l23.4-.4l127.1-.2l29.3 0l23.4 .5l25.1-.5l9 .4l12.2-.4l40.1 .5l29.1-.2l23.1 .1l21 .1l-422.1 3.5l25.3-.3l3.1 .3l86.7-.2l6.7-.8l25.2 .4l55 .7l23.8-.6l9.3 .1l1.8-.6l26.6 .8l11.3-.5l72.7 0l23.3 .5l6.2 .2l14.5-1.1l37.8 1.3l-422.4 1.7l51.9 .6l55.2 .5l46.6-1l17-.2l37.6 1l64.6-1l-341.4 3.6l28.8-.3l14.9 .6l37.8-.5l2.6 .3l35 .4l3.5-1.1l7.5 1l17.8 0l52.2-.5l12 0l20.6-.4l51.9-.1l75.5-.2l11.4 .1l15 .3l74.7-.2l46.9 .8l-419 3l29.1 .1l60.8-.9l51.7 0l3.5-.2l34.9 .1l31.7 0l22.7 .1l44.1 .8l2.4-.4l5.9 .2l29-.2l16.6-.7l3.4 1.3l-430 1.9l77.5 1l122.6 .1l17.2-1l36.8 .8l6.9-.9l58.1 .1l25.9 .1l2.8-.3l34.2-.1l78.1 .1l-413.1 2.9l8.8-.2l32.7 1.4l2.3-.7l26.9 .1l5.3-.2l2.3 .3l5.6-.3l32.3-.3l41.5-.3l25.8 .9l19.5 .4l6.5-.2l17.2 .1l63.8-.2l46.2 .3l46.9-1.2l16.6 .4l14.8 .2l-430.5 3.2l14.6-.7l49 .8l18.2-.8l7.5 .1l85.1 .2l4.8 .5l26.9-.9l80.8 .8l43.7-.7l5.5-.1l5.9 .5l8.7-.3l11.6 .6l77.9-.2l8.6-.5l-458.7 3.9l19.8-.1l5.8 0l6.5-.5l34.3-.5l23.8 1.1l8.3-.5l9 .3l49.1-.3l2 0l52.1 .5l7.1-.6l2-.3l5.5 .9l9.3-.3l48.7 .3l102.1-.1l46.6-.4l-428.4 2.5l9.4 .9l4.9-.7l67.5-.3l11.6 .1l3-.3l2 .4l26.1 .3l55.1-.1l12.8 .6l5.8-1.1l19.9 1l3.2-.5l2.6-.6l5.2 0l9.4 1.3l2-.3l8.8-.4l40.9 .2l55.4-.9l22.5 .5l6.7-.1l-413.5 3.1l46.1 .2l20.9-.7l31.3 .7l81.2-.7l12 .8l34.2-.5l31.8 .1l15.2-.1l11.2-.2l26.3 1l12.3-.3l2.8-.8l66.8 .6l69.1 0l2.6-.6l-428 3.4l14.5 .3l8.9-.4l49.9 0l2.7 .5l13.7-.4l12.8 .7l95.7-.6l8.1-.5l46.7 .5l13.9 .7l17.9-.4l40.3-.6l25.6 .4l-356.8 2.5l27.8 .3l3.8 .5l72.6-.6l3-.2l5.5 .7l13.6-.4l3.3-.5l92.6 .6l29.8 .3l19.3 .3l6.6-.2l8.3-.8l70.1 .4l5.4 .1l3.6 .2l69.1-.3l17-.6l2.7 .5l3.6-.5l48.8 .6l-508.9 2.7l3.2-.2l20.7-.2l19.3 1.1l70.5 .1l107.4-1.3l37.7 .5l14.4-.5l7.8 1.2l3.6-1.2l77.7 1.3l3.8-.4l118.5 .2l-483.6 2l4 .5l14.1-.3l14.3 .2l23.7-.2l31.4 .4l46.2-.2l32.6 .1l3.1 .2l34 .4l9.6-1.3l34.4 .6l16.8 0l6.2 0l136.2 .2l40.8 .3l35.3-.3l-468.7 3.3l22.7-.4l9.6 0l56.7-.8l8.7 .9l6.3-.5l81.7-.1l2.8 .5l10.8 .1l32.6-.8l25.6 0l6.4 1.1l2.2-1.3l17.6 .3l46.8 .2l112.9 .4l26.7-.9l-492.1 3.7l29 .2l133.8-.8l19.2 .9l18.4-1.1l49.6 .9l34.6 .2l17.3-.4l86.2-.5l58.8 .1l14.4 .1l5.4 .3l23.3-.3l-468.8 3.3l72.8-.3l3.4-.3l9 .2l5.6 .5l14.8-.2l13.2 .2l58.9 .3l86.2-.3l9.1-.9l11.8 .7l9.3-.5l8.6 .2l39.6 .7l6.7-.8l2.2 .2l47.3-.4l28.9 .7l11 .1l2.4-.2l3.2 .2l9.5-.9l-456.7 3.2l5.2 .8l72.5-.2l16.8 0l17.5 .3l3.9-.4l14.2 .3l10.9-.7l87 .4l29 .6l56-.2l2.1-.8l11.4 .4l38.5-.6l20.7 1.1l5.8-.8l36.9 .4l18.1 .1l-448.2 3.2l2.6 0l2.9-1.3l22.6 .4l27.2 .3l4.9 .4l32.2-.7l6.2 .6l8.9 .3l63.1-1l6.5 .8l5.4 .2l49.7-.5l14.6 .1l2.4 .1l19.7 .2l21.3-.8l13.9 .4l31.3-.4l38.1-.3l11.3 .6l64.1-.1l5.8 .5l-395.5 3.1l45.6-.1l75.8-.3l52-.2l104.3 0l148.3 .5l-467.7 2.1l62.9-.3l32.1 0l15.4 .4l14-.3l39.9 .7l6.5-.2l2.9-.2l63.9 .8l202.7-.6l-480.3 3l136.8 0l51.4-.7l44 .7l76 .4l54.4-.8l26 .8l11.5 0l-383.3 2.7l2.2 .1l37.8-.9l44 0l37.5 1.1l60.6-.9l3.2 .3l26.1-.3l16.7 .4l69.7 .1l49.7-.3l40.6-.6l54.9 1.3l-456.9 2l58.4-.2l11.3 1.1l64.4-.4l34.1-.5l15.4-.2l59.8-.1l59 1.2l10.5-.7l20.7-.1l35.2 .6l75.3-.8l-450.3 2.9l77.4 .9l40.5-.8l3.1-.2l19.8 1l9.5-1.1l29 1l3-.9l8.8 .8l89.2-.7l3.5-.3l2.4 1.2l3.1-1l147.9-.1l38.3 .2l-457.6 2.6l9.6 .1l56.9 .1l41.1 .8l12-.3l5.4-.5l67.2 .5l13.6-.1l29.4 .6l2.7-.7l11.7-.2l34.9 .9l20.9-.1l19-.2l75.5 .4l-435.9 1.7l14 1.2l66.8 0l55.9-.1l8.7-1l19.6 1.1l17.9-.2l11.9-1.1l26.2 .7l28.7 .5l10.7-.2l6.9-.9l37.9 .2l51.1 .1l12.1 .5l34.9-.9l14.2 1.1l73.2-.4l-425.3 2.6l20.6 .9l20.6 0l40.1-.3l2.4-.8l11.8 1.2l29.7-.9l22.2-.3l31.9 .7l18 0l19.8 .3l55.5 0l5.7-1l8.5 .3l29.6-.5l86 1.1l23.5-.9l46.3 .2l-494.7 2.7l12.5 .9l34.5-.2l20.6 .2l2.8-.2l38.2-.5l2.5 .7l3.3-.4l13.9-.3l116.6 .4l59.7 0l148.5 0l16.7-.1l-484.6 3.4l48.1-.3l35.9-.2l54.5 .2l72.7-.8l75.5 1l26-.5l20.9 0l13.4 .6l3-.6l29.1-.1l63.4 .4l11.6-.4l8.7 .2l12-.1l6-.1l-428.2 2.5l9.8 0l10.4 .9l3.7-.9l31.8 .9l125.3-.5l25.2 .7l58.3-.5l8.5 .6l35-.8l49.9 .5l2.7-.8l-401.4 2.8l92.1 .4l29.1-.2l2.2 0l3.4-.2l2.6 1l14.3-.9l6.5 .5l12.2 .5l2.6-.3l19.7-.2l86.9-.7l76.3 .7l22.9 .7l38.1-1.2l46.2 0l-469.4 2.8l55 .6l17.4 .5l65 .1l19.1-.1l38.9-.6l60.4-.2l90.4-.4l56.8 .3l-398.2 3.5l54.8-.6l2.8 .6l23.2-.1l58-.3l29.6 .6l61.1-1.1l147.4 .6l22.8 .7l15.4-.9l16.7 .1l20.9 0l-341.3 2.6l12.2 .1l13.9 .3l70 0l5.3 .1l3.3-.2l55 .4l-270.8 2.7l84.1-.4l8.1 1l40.6 0l24-1.2l34.6 .1l23.2 1l16.6-.5l14.6 .3l90.1 .1l75.2-.6l-407.3 3.8l64.7-1.2l80.5 .9l12 .2l26.1-.3l40.5-.7l20.6-.1l74.7 .4l52 0l55.1 .2l9.3-.6l5.4 .2l-357.5 3.2l34.2 .1l14.3-.4l63.6-.2l44.3 .9l37.9 .1l36.9 0l75.2-.6l3.5 .1l9.3-.4l-395.9 3.4l150.9 .4l8.3-.7l2.2 .4l3.2-.2l273-.1l-392.9 2.9l87.2 .7l48.6 0l-106.3 2.4l17.4 .3l27-.4l22.8-.5l8.5-.2l20.1 .9l3 0l21.2-.5l141.6 .1l2.4 .4l59-.5l17.4-.4l19.2 .1l-287.9 3.1l197.9 .6l31.1 0l15 .5l-341.3 2.9l84.2-.5l41.2-.6l2.5 .1l14.3 .2l3.1 .4l34.5 .4l35.2-1.3l112.7 1l2.4 .1l29.4-1l-358 4.1l177.7-.3l28.2-.1l8.9-.6l55.2-.3l2.2 1.1l93.4-.7l37.1-.5l-371.6 3.5l31.8 .2l40.2 .3l61.4-.9l33.9 .8l148.7 .4l-329 1.6l17.3 .4l45.9-.5l35.4 .1l28.8 1.2l14.7-.4l104.3 .4l34.6-.6l2.4 .4l6.4-.2l22.8-.1l84.4-.7l-367.3 4l29-.5l38.5-.2l72.2 .7l2.3-.4l101.1-.4l9.2 .9l26.3-1.3l-303.5 3.1l35.5 .9l8-.2l101.4 0l35.1-.3l121.4-.2l2.9 .5l8.9-.2l6.9 .3l28.8 .1l2.3-.2l-343.4 2.9l173.2 .4l26.6-1.1l23.9 .8l8.1 .2l66.8-1.1l3.2 1.3l5.4-.5l6.1-.5l14.4 .4l23.3 .1l-346.3 3.2l179.6-1.1l84.4 .3l4.7 0l3.9 .8l2.5-1l20.5 .8l5.6 .1l2.4-.9l3.5 .3l-132 3.6l16.9 .2l58-1l14.4 .7l35.3-.8l25.7 .9l6.1-.2l-143.7 2.3l60.7 1l14.4-.8l9.3-.3l2.6-.2l3.3 .6l2.5 .1l2.8 .4l-125.7 1.8l2.9 .4l64-.1l8-.4l63.5 .8l70.8 .5l11.7-.3l-239.4 3.2l19.6-.7l44.2 .4l42.7 0l17-.1l15.6 .1l2.9-.8l10.7 .3l12.1 .1l9.2-.5l19.2 1.2l-296.9 3l95.7-1l2.6 .9l12.2-1.3l3 0l20.4 1.1l31.3-.9l52.1 .7l20.7 .3l11.2-1.2l37.9 1.4l43.4-.8l6.6-.6l-223 3.7l142.2-.4l3.7-.1l-239.9 3.9l137.4-.6l49.1-.6l28.7 1.2l52-1.3l-190.1 4.1l20.5 0l11.9-.9l29.2 1l85.9-.5l12.4 .5l28.9-.2l5.4-.6l-140.1 3.1l57.1 .3l6.3 .3l3.1-1.2l5.7 0l2.9 .3l122.3-.1l-251.1 3.5l32.2-.4l19.7 .3l40.4 .3l38-.6l3.2-.3l29.4 .4l20.1 .3l5.5-.7l-184.1 3.9l29-.5l11.1 .4l84.9 .3l2.8-.1l16.8-.1l6.4 0l25.1-.9l-172.1 2.8l83.9 .9l2.8-.4l14.8 .7l23.9-.3l16.6 .1l34.8-.6l12.3-.2l11.6 .4l-208.2 2.1l23.9 .7l32 .6l69.7-.8l11.4-.2l25.9-.1l38.1 .7l-118.4 2.1l47.2 .1l8.9 1l2.7-.2l11.7 .3l10.6-.1l53.4-1l-205.8 2.8l4.2 .6l14.2 .2l2.3 .4l49.3-.4l23.7-.7l3.3 .8l51.8-.7l5.6 .7l55.7-.2l10.7-.4l-230.7 3.5l21.3-.3l2.4 .1l66.7-.3l92.5 .4l37.9 .4l5.4 .1l2.8-.6l-224.6 3.3l40.7 .1l15.2-.4l68.6-.3l21 .7l5.2-.3l61.8-.4l2.6 .7l-147.3 2.1l3.4 .8l25.6 0l8.1 2.4l39.9 .1l52.9-.4l-120.4 2.5l17.3 .1l44 .8l-98.3 2.1l29.8-.1l68.8 0l7 .3l-75 3.6l15.3-.9l28.7 .6l-102.3 2.5l40.5 .2l8.1 .7l17.4-.5l19.8 .3l9.9-1l126.5 .7l-15.8 3.5l-137.4 1.7l17.3 .2l12.2-.2l95.1 1l-100.2 2l102.2 .4l-106.9 3.4l24.3-.5l89.3 .2l-77.4 2.2l37.7 1.1l-104.8 2.6l8.3-.8l15 .9l-27.7 2.3l2.3 .7l14.9 11l-15 6.3l21.6 13.6" fill="none" marker-start="url(#mbd)" marker-mid="url(#mbd)" marker-end="url(#mbd)"/><path d="M1178 1119.7l38.9-.3l-18.8 2.6l19.1 .5l-28.9 5.6l-49.9 2.5l8.4-.4l8.3 .9l9.8-.6l-3.6 5.5l12 .3l52.4 .6l-2.7 1.9l-44.8 3.6l58.2 .4l-79.5 2.7l62 2.6l18 .6l11.9-.9l-149.9 3.6l107.8 0l13.8-1.1l20.6 .4l12.1 .8l24.9 .1l13.2 1.9l-195.5 2.7l11.9 .7l14.8-.6l2.5-.2l32.5 1.1l75.2-1.1l2.2 .2l55 .9l-154.2 2.7l54 .2l18.2-.1l26.4 .2l-111.5 2.6l16.2-.4l35.6 .6l26.3-1l4.8 .1l6.1-.2l2.6 0l76.1 .7l-198.7 2.9l25.8-.5l75.7-.2l4.2 3.8l133-.8l-207.2 3.2l79.1 .8l17.6 0l1.8-1.3l116.4 .5l-294.3 3.4l52.5-1l28 .8l-44.5 3.5l15.1-.6l2.2 .3l99.5 .1l17.2-.6l2 .1l3.4-.4l6.3 .2l5.9-.1l106.6-.4l-228.1 3.2l6.1 .6l82.1-.1l11 .5l8.8-1.3l37.3 1.4l72.3-1.3l-230.3 3.3l8.9-.1l66.5 0l49.6 1l25.6-.1l61.8-.3l36.7 .3l-308 2.7l5.2-.4l23.8-.2l31.8 .5l100.7-.4l55.4-.2l37.9 .5l57.4 .4l-316.4 2.2l8.2 .6l11.3-1.1l52.3 1.1l51.9-.4l49.6-.2l43.1 .7l79-.7l3.2 .7l-300.4 2.1l78-.4l3.2 .5l109.7-.2l9.4 .1l72.1 .1l-235.8 2.7l31.8 .1l115.2 .2l4 0l13.3-.1l-162.9 3.1l40.6-.3l54.3-.2l9.4-.2l13.7 .4l5.6 .9l29.9-.4l51.6-.3l-210.2 2.5l8.6 .8l20.1-.8l49.9 .5l3.1 .1l3.1-.1l2.2 .2l79.3-.9l28.5 .1l29.2-.1l37.1 .5l-265.1 3.7l6.1-.2l65.9-.7l43.5 .5l3.3-.3l73.1 .3l77.1 .3l-265.2 2.5l111.2-.5l26.2 0l13.6 .9l12.2-.8l2.2 .4l43.2-.2l-279.7 3.4l38.5 .1l37.8 0l2.8-1.2l51.4 .9l2.9-.9l26.4 .2l55.3 .9l-177.8 2.5l1.9 .1l23.3-.1l6.7 .5l11.7-.2l8-.8l67.5 .1l2.8-.2l19.1 .5l12.7 .7l39.9-1l-226.9 3.7l95.6-.4l153.4-.1l11.2 .6l-221.4 2.5l54.6-.7l141.7 1l76.7-1.1l-309.9 4.1l179.6-.5l38.6 .2l43.8-.9l65.5-.1l20.6 1.3l-369.7 1.6l69.6 1.2l110.6-.5l23.4-.6l17.8 .6l-144.2 2.8l54.7 0l87.7 .2l118.7-.7l51.9 .3l-366.9 3.1l3.3 .5l14.7-.1l25.7 .3l11.2-.2l3.6-.6l5.4 .4l51.9-.2l72.6 .4l116.2-.2l-309 2.6l3.6 0l46.6-.5l7.5 1l121.7-.9l18.4 1.1l197.1 0l-381.4 1.9l3-.1l39.6 .2l43.5 .1l101.8 .4l107.2-.6l34.9 .1l70.2-.1l-425.2 3.9l14.3-.9l25.8 .6l3.3-.4l11.9-.1l72.9 .1l42.6-.4l142.2 .7l-253.2 2.9l8 .3l12.2 .2l20.5-1.2l28.3 1.1l8.4-.9l88.3 .2l31.3 .2l101.9-.6l-347.5 3.1l6.2-.3l31.5 .7l52.6 .5l47.1-.3l34.9 .4l10.4-1.1l9.5 .9l58.1-1l-268 3l5.3 .8l8-.8l9.6 .2l29.2 .2l25.3 0l40.4 .3l46.4-.1l49.4-.1l23.6-.4l80.6 .9l6.7-.3l-271.5 2.8l5.3 .2l11.8 .2l23.9-.5l2.8 .4l93-.9l19.4 .2l154.3 .8l-335.6 2.6l26.3-.8l17.9 .7l17-.2l12.4-.3l106.6-.3l3.4 1.1l66.4-.6l-201.2 3.4l127.8-.6l14.3 .3l5.8-.6l84.1 .1l16.3 .7l47.4-.3l-376.1 2.7l8.5 .4l49.8-.2l25.6-.6l3.2 .2l3.5-.3l16.2 .6l87.4-.3l46 .7l44.4 .1l34.1-.5l-235.6 3.6l8.8-.4l89.1 0l6.8-.4l14 .8l8.2-1l26.5 .3l136.3-.5l-387.2 2.8l9 .4l77.9 .2l2.7 .7l6.7-.5l135.1-.2l29.7 .4l78.4 .3l42.9-.1l-338 2.9l15.8-.2l23.2-.5l8-.1l20.1 .6l81.6-.7l11.5 .1l26.5 .8l8.5-.2l11.3-.7l14.5 .4l108 0l10.3 .6l-380.9 3l17-.5l6.5 .1l58.2-.3l5.1-.7l168.4 .4l58-.3l35.4 0l34.3 1.1l-367 2.9l3.1-.7l8.5 .5l145.5-.3l14.9-.5l16.8 .2l11.2 .2l78.3-.3l61.7 1.1l10.5-.5l4.2-.6l11.4 .9l-395.8 2.9l22.1-.2l49.8-.5l16.8-.1l6-.1l3.9 .3l31 0l125.5 0l211.2-.5l-442 4.1l19.7-.6l12 .3l32.2 .2l28.1-1l73.4 .4l96.1 .6l45.9-.5l49 .6l22.7-.5l61.3-.5l-395.5 3.6l8.8 0l17.1-.5l28.9 .8l43.3-.9l133.7 .1l17.7 .4l37.9 .1l17.6-.3l31.2 .2l-398.1 2.5l2.6 .4l25.2-.7l17.6 .8l15.2 .3l13.6-1.3l3.3 .4l2.5-.3l40.6 1l15.4-1.1l5 .2l55.7-.2l11.1 1.2l92.8 0l70-.1l8.3-.4l-250.5 2.2l2.9 .4l8.5 .9l55.3-1l26.6 .3l98.1-.4l84.7 .6l-364.7 2.8l37.3-.4l18.2 0l22.4 .7l11.8-.2l9-.3l3.7-.2l5.7 .2l245.8 .4l14.6-.3l-407.9 3.6l3.3 0l11.2-.2l60.9-.8l86.8 .6l15.2-.8l29.1 .3l29.4 0l71.8 .2l11.2 .7l127.6-.2l-427.1 2.6l17.8-.4l2 .8l12.2 .1l17.9-1.2l24.9 .9l5.8-1l58.4 .9l6.3-.2l16.9 .6l25.9-.8l21.1-.3l5.3 1.2l80.8-.5l3.2-.4l8.6-.1l29.3 0l34.6 .1l-384.6 3.3l14.9-.3l81.9-.6l66.5 .6l19.5 .3l23-.8l14.6 .7l143.2-.2l-393.5 2.9l25.5 0l9.4 .1l34.1 .2l15-.2l2.9-.1l14.4 .5l60.5-.3l30-.5l14.6 .8l5.2 .2l206.6-.3l66.2 0l-482.5 2.4l1.7 0l11.9 .1l2.6 .3l24.3-.4l37.5 .4l6.2-.9l40 .7l3.2-.1l81-.2l9.1 .1l17.1 .3l16.9-.1l8.9-.3l101.1 .4l24.3 .2l37.2 .3l14.3-1.1l9.4 1.1l-329.5 2.4l69.8-.8l57.9 .6l220.6-.2l-321.1 2.6l12 .8l22.5 .3l14.3-.2l69.5-.9l116 .7l67.6-.2l-361.2 2.9l38.3-.2l2 .3l104.6-.5l14 .9l85.2-.1l37.6 .4l42.5 0l21.5-1.2l14.1-.1l2.6 1.2l49.9-1.3l-462.9 4.1l6.2-1.1l20.1 .2l5.9 .6l57-.5l40.9 1l78.4-1l8.9-.3l6.4 .2l57.7 .5l5.6-.6l13.8 .1l20.3 .8l8.5-1.1l15.2 .6l28.7 .3l5.7-.8l21.3 0l-419.3 4.1l11.8-.2l223.3-1l17.5 .8l4.9 0l8.8-.2l67-.4l31.8 .3l75-.3l-430.8 3.6l3.5 0l5.5-.6l20.1 .9l41.4-.5l25.6 .5l8.3-.8l3.8 .2l35-.6l28.6 0l17.6 1.2l43.3-.5l48.9-.7l47.1 1.1l16.4-.3l63.6-.1l14.9 .4l18.2-.8l2.2 .4l23.9-.5l-454.7 4l70.1-.1l101.1-.7l105.3-.1l43 .9l5.7-.9l16.8 .8l30-1.2l8.5 .4l34 .4l23.8-.4l15 .5l-405.4 2.6l34.7 .7l160.5-1.3l34 .8l23.4-.8l20.1 1.2l5.9-1.2l5.5 .8l60.9-.2l-241.4 3.4l54.7-.4l63.2 .2l62.1-.1l2.7 .2l43.2-.8l2.3 .9l27.3 0l39.4-1l8.8 .8l-506.2 3.1l3.5-1.1l3.3 .8l11.4 .2l63.5-.6l3.2-.4l133.8 .5l2.1-.2l49.5 .3l28.8 .2l67 .3l75.4-.1l-415.7 3.1l135.7-.5l40.6 .2l49.8-.1l57.9-.6l17.3 .6l5.7-.5l37.2 0l26.6-.3l3.2 .5l20-.2l51.7 1l2.7 0l-436.4 1.7l186.7 1.1l7.8-1.2l31.8 1l50.4-.8l5 .8l6.5-.1l42.5-.8l35 1.1l3.6-.4l57.2 .2l-436.4 2.9l43.8 .2l37.3-.3l54.8-.7l3.2 1.1l5.6 0l6.6-1l28.8 .1l17.9 .4l16.3-.8l41 .3l26.1 .5l20.4 .2l11.1-.2l3.7-.5l3.3 0l86 .3l14.7-.1l14.2 .6l21.4-.8l-461 3.8l20.9-.3l40.3-.2l61.1-.7l17.4 .1l34.8 0l110.6 .2l14.7 .4l13.5-.1l41.4 .7l5.2-1.3l43.6 .1l18.1 1l19.9-1l-384.4 3.2l28.7 .6l61.9 .3l29.1-.9l13.4 .2l21.4-.3l2.8-.1l19.2 .3l20.9-.1l11.1 .1l23.8 .8l37.8 0l11.7-.6l60.3-.5l-375.5 3.7l52.1-.2l5.4-.7l6.2 .7l12.2-.8l28.7 1.2l17.4-.4l5.7 .4l28.6-.2l15.2-.1l37.7-.2l11.7-.5l4.8 0l82.6 .4l43.2-.1l20.3 .3l26-.4l38.1 .3l-431 2.3l2.1 .5l92.8 .5l9.8 .1l74.3 0l30-1l4.9 .6l26 0l62-.2l42.2 .1l87.9 .1l5-.7l-496.3 3.4l49-.5l20.3 .7l43.8-.4l28.6 .7l90.3-.4l10.9-.8l77.8 .7l8.7-.6l78.8 .1l17.3 .7l38.1-.9l-404 3.7l51.1-.1l125.5-.2l78.3 .1l31 .8l64-.2l110.8-.4l2.6 .1l-488 3l31.1-.4l52.2-.3l5.8 .5l11.3 .6l9.4-.1l144.7-.1l15.1-.2l8.8 .2l8-.8l104.1 0l29.4 .2l6.3-.4l2.1 .6l43.8-.1l-467.9 2.2l26 1.3l52 0l19.7-.9l9.6 0l72.4 .7l87.1 0l16.6 .3l12.5-.2l11 .1l6.1-.2l25.7 .1l73.3-.9l22.7 .7l20.6-.4l26.1-.3l-387 4l2-.2l3-.5l3.1 0l6.1-.5l31.9 .8l42.6 .4l14.9-.6l55.9-.6l34.6-.1l22.8 .7l8.2 .1l24.2 .4l-358 2l14.2-.1l8.2-.1l44.3 .2l42.9-.2l9.1 1.1l74.4-1l55.6 1l3.4-.3l19.2-.1l78.4-.3l-375.4 3.2l8.6-.4l26.4 .1l14 .3l43.9 .1l44.2-.1l54.2-.6l21.5-.3l74.1 1.2l96.6-.9l89.6 .9l8.1-.9l18.7 .9l-452.3 2.6l118.9-.1l29.8-.6l3-.1l16.9 .3l40.6-.3l104 1l12.9-.6l21.9 .9l81.6-.6l6.4-.2l-460.6 3l12.2 .6l66.8-.5l37.8-.3l8.9-.5l43.3 .8l95.6-.2l29.4 .2l5.7 .3l8.9-.2l11.2-.1l28.7-.3l15.3 .3l2.5 0l89.7-.4l-486.5 3.4l18.1 .1l17.6 .2l2.2-1.1l50.4 .7l57.2 .5l12-.8l13.7-.2l174.1 .6l136.8-.3l44 .5l-434.2 2.2l11.7-.2l32.6 .9l11.6-.4l60.7-.4l51.8 .6l12 .3l7.6-.6l70.5 .6l23.1-.6l26.1-.2l121.4-.1l9.6 .1l-519 2.6l17.8 0l66.7 .4l55.8-.4l118 .3l23.2 0l6.5 0l54.8 .4l5.2-.4l11.6 0l-327.9 3.1l2-.6l40.6 .1l64.5 .9l39.6-.4l76.2 .5l69.3-.8l69.9 .7l8.7 .1l43 .1l8.5-1.1l17.5 .5l-369 3.3l3.2-.2l91.5-.4l6.8-.3l8.2 .8l2.5 .5l64.6-.6l43.2 .4l170.9-.2l-467.9 2.8l31.4-.9l34.4 .3l154.2 .6l-160.8 2.5l3.2-.1l17.7 .6l8-.1l95.4-.1l32.5-.2l29.3 .6l39.8-.1l9 .3l6.5-.4l153-.5l35.4 .5l-489.7 2.5l49.8-.1l44 .2l27.9-.5l3.7 .3l2.2-.2l9.2 .3l15.1 .3l26.1-.1l23.3-.4l5.6 .3l8.4 .4l20.1 .2l38.2-.6l20.4-.2l5.7 .8l75.5-.6l81.1-.2l-446 3l41.5 0l66.1-.2l13.9 .9l58.2-.3l14.5-.6l89.7 .6l29.9-.7l98.6 .7l40.4-.3l-453.6 3.3l54.4-.7l67.1-.2l16.8 .6l55-.6l105.4 .7l179-.1l-459.1 2.1l14.8 .2l11.7 .2l19.4 .7l11.9-.8l29.1 1l2.6-1.3l14.3 .5l3.4 .7l16.9-.2l32.2 0l70.4-.5l34.3 .5l125-.2l10.7-.3l20.9 0l-393.4 2.5l44.3 1.2l2.1-.3l113.9 .2l30.9 .1l174.1-1.2l32.2-.1l20.9 .2l-405.4 3.9l41.5-.2l2.2-.3l5.4 .6l58.4-.8l95.3-.4l69.6 1l87.2-.8l11.9 1l14.9-1.2l8.2 .8l-395.2 2.4l110.2 1l25.3-.9l122.1-.3l40.6 .5l5.5 .6l90.2-.2l-454 2.2l2.5 .4l12.1-.5l47.2 .1l2.2 .6l14.5-.2l81.3-.6l8 .9l47.5-.8l77.7 .5l133.8 .3l-265.3 2.5l22.3-.1l125 .8l61.8-.1l1.7-.1l52.4-.1l8.6 0l-447.3 2.4l113.4 .5l22.1 .1l44.3-.7l20.2-.3l14.5 .5l57.3-.6l79.5 1.2l31.4-1.3l28.2 .7l-322.9 3.2l69.7 .4l157.2-.8l25.6-.3l5.8 .3l55.4 .3l11.5 .4l-314.5 1.8l31.1 .9l9-.7l14.4 .4l3.8 .6l77.6-1.3l23.8 1.2l43.5-.9l40.6 .3l2.7-.1l-288.5 3.4l25.3-1l14.4 .2l15.3 1.1l48.3-.2l37.9 0l166.3-.1l23.4 0l-353.6 2l98.8 .5l125.4 .4l54.6-.1l12.2 0l34-.9l69.5 1l-421.8 2.7l180.3-.7l75.1 .5l61 .3l57.5-.2l9.2 .1l52.3-.4l-328.9 2.9l60.1 .8l15.2-.1l5.9-.3l11.6 .2l20.5-.2l211.6 0l31.8 .2l-361.6 2.9l38-.2l19.6-.4l4.1 .2l31.1-.6l115.8 .6l3.9-.4l106.6 1l-381.3 2.7l84-.2l25.9 .1l30 .1l54.8-.9l80.5 1.2l12.5 0l19.3-1.4l15 .4l46.9-.3l45.3 .6l6.1-.3l2.6 1l-413.1 2.1l113.2-.4l150.7 .2l95.8-.3l11.4 .2l-220.9 3.4l126.7-.8l58.1 .1l17.6 .7l2.5-.1l-276.9 2.9l144.9-.2l18.7 .2l28.6-.3l43.8-.2l2.6-.2l64.1 .3l-104.1 3.6l43.6-.7l52.6 1.1l23.4-.9l-231.2 2.6l40.8 0l3.4 .3l127.5 .8l70-.8l5.6 .6l-126.5 2.9l20.8-.2l72.7-.3l5.2 0l10.9 .4l-163.8 2.4l93.3 .9l8.8-1.2l8.5 .5l18-.1l36.7-.4l23.1 .8l-346.4 2.8l21-.8l107.2 .9l12.1-.3l92.8 .5l66.8-.6l-184.4 3l104 .3l34.4-.4l80.8 3l-114.7 3.2l16.7-1l11.7 .2l5.6 .2l-119.7 3.8l-10 2.9l3-.7l40.1 .3l32.2 .1l49.2 .1l40.4-.8l39.9 .5l-224.6 2.8l70.1-.7l29.5 1.3l37.4-.3l26.3 .4l2.3-.9l17.8 0l5.5 .2l-83 2.3l6.7 .9l19.3 0l17.6-.1l29.6-.2l25.7-.5l-325.6 4l127.7 0l8.4-.4l57.2-.8l33 .4l77.8 .7l10.9 .1l-137.5 1.7l38.3 .3l28-.3l30.3 1.2l-19.9 2.6l2.8-.8l36 .5l43.4 .2l-179.6 2.9l58.2-.4l11.4-.5l21.7 .8l54.5 .3l-149 1.9l91.9 1l49.1-.7l56.4-.1l-207.4 2.9l32 0l13.7 .7l57.6-.7l2.9 .7l3.4-.4l25.8 .5l6.4-1l-172.3 4.1l205.9-1.2l-187.7 3.5l3.1-.3l14.7-.3l32.3 1.3l54.9-.6l5.9-.8l28 .5l52.8 .8l16.9-1l-190.3 3.9l49.6-.1l3-.2l41.1-.7l16.5 .8l84.6-.2l12.4-.5l-188.2 3.9l20.4-.9l3.7-.4l3.1 1l8.3-.9l25.7 .5l8.4 .2l105.2-.7l-139.5 6.6l6.4-.6l19.4 .5l32.6 .3l49.5 .1l-95.5 1.8l50 1.1l-48.5 2.1l-27.3 2.5l56 1l74.5-.8l-123.5 3.9l15.3-.1l8.5 0l3.5-.8l23.2-.3l-68.1 2.9l68.8 .5l74.9 .2l-99.9 3.1l75.5 0l-74.1 2.7l82-.6l-109 4l1.2 3l63.6-1.3l37.3 4l-111.3 5.8" fill="none" marker-start="url(#mGd)" marker-mid="url(#mGd)" marker-end="url(#mGd)"/><path d="M1201.7 1119.2l-48.3 8.6l40 3.2l-13.9 2.4l61.9 6.1l-90.2 5l-43.1 6l1.6 8.7l68.9 6.1l-55.8 8.2l92.4 0l-102.6 3.2l144.8-.4l-57.9 6.2l-32.3 6.6l60.9-.7l-39.8 3.3l-84.4 2.2l64.5 15l-154.8 2.9l116.1-.1l223.5-.5l-164.9 14.6l198.3 .1l-349.6 2.7l76.8 3.6l40.3 .6l228.9 5.1l-245 2.8l16.3 8.8l-107.3 5.6l176.4 .3l26.6-.5l118.8 .5l-405.6 5.9l56.5 3l196.3 5.6l-222.9 5.3l166 .1l86.1-.3l-185.6 6.2l90 .6l212.2-.2l-245.4 2.9l182.2 .3l-299.5 2.1l52.7 .6l17 .1l85.4 2.5l135.5 .4l-282 2.4l116.5 .5l22.9-.7l-143.5 3.4l117.9 5.9l108-.4l-117.4 8.5l249.4 .3l64.2 .1l2.7-.6l-471.6 3.1l217.7 .3l84.1-.3l-286.1 2.5l61.9 1.4l214.3-.9l-280.2 3.2l322.7 3l38.2 .3l-221.7 1.8l-107.5 5.8l198.2 4.1l209.7-.7l-425.2 3.4l330.4-.8l3 .4l-134.5 2.8l72.9 .4l141.5-.9l-76.9 3.1l93.7 2.6l-370.5 6.1l10.8-.3l141.4 3.3l-27.1 2.8l96.7 2.8l23.7 1.1l65.9-.7l-29.5 2.6l57 .8l20.8-.7l-434.7 6.5l-1.7 2l32.1 .1l55.8 3.8l25.9-.8l291.7 2.7l-430.6 2.7l507.2 .3l-380.5 3.5l129.5 .5l-163 1.8l15.6 3.4l54.8 .3l94.8 2.7l52.8 .3l4.7-1l-308.6 3.8l148.1-.2l-18.6 2.4l178.9 .3l23.9 .2l-346.7 2.3l178.3 3.4l49 0l-201.2 3.4l5.3-.7l380.6 .3l-414.4 6l3.6 2.3l49.9 .3l69.8 .1l60.5-.4l-164.6 3.7l284.4 5.1l24.1 .6l-265.1 1.9l341.9 .8l-83.1 3.3l137.2 14l-32.7 2.2l-21.9 3.1l-343.4 3.3l89.1 .3l188.8 5.1l57.7-.1l5.9 .4l-74.9 11.1l8.8 5.7l67.8 3.7l-258.6 3l-24.6 14.8l115.3 5.2l22.8-.7l142.1 5.9l-151.4 4.2l144.3-1.2l12.3 6.4l-1.2 3.5l-146.5 7.4l34.8 1.2l128.2 7.7l-79.9 3.7" fill="none" marker-start="url(#myd)" marker-mid="url(#myd)" marker-end="url(#myd)"/><path d="M1196 1124.4l18.5 3.1l-40 6.3l28.8 .4l29.2-.2l33.3 2.5l-77.5 3.3l-53.1 1.9l3.3 .4l25.4 .1l81-.1l-126.3 3.1l9.8 .6l40.7-.1l71.7-.6l4.9 2.8l1.4 2.6l-41.7 3.8l47.3 2.2l29.2 .3l-115.3 2.5l30 .3l43.4 .2l-175.3 3.3l72.3-.1l65.9-.2l17.7-.5l52.4 .2l-163.6 2.3l2.5 .9l58 .3l37.4-.7l37.5 .6l78.9 .1l-201.4 2.9l61.3-.6l80.6-.2l57.7 .9l-221 2.4l103.8-.7l6.5 .4l17 .5l16.8-.9l20.2 .2l11.9 .5l66.7 0l-282.6 2.6l31.4 .1l38.9-.1l20.6 2.5l41.2-.1l40.6 1l-193.4 2.9l37.5-.3l4.2 .1l23.2-.3l135.8 .4l-176.2 2l8.7 1.2l101.8-.1l15.4 .1l25.5-.6l60.9-.4l-228.1 3.7l75.9 .1l95.8-.9l5-.2l58 0l30.2 .8l-138.6 3.1l11.8-.7l35 .7l35.1-.1l-211.2 2.8l3.3-.4l142.5-.3l26.3 .9l28.4-1.1l-194.9 3.8l80.8 0l51.5-.6l142.1 .6l-233.3 2.7l41.4-.3l5.3 .9l43.5 .1l-115 2.8l70.5-1l17 .5l11.4 .2l11.5-.7l11.9 1l89.6-.4l55.1-.5l-331.9 2.6l21 1l10.6-.5l14.6 .5l64.6-.6l72.6-.1l168 .8l-355.7 2.1l23.3 .7l202.6-.6l14.7-.4l60.5 1.2l-285 2.2l77.5-.6l102.2 .2l40.9 .2l-228.1 3.4l17.3 .3l14.9 .1l58 0l43.4-.9l132.6 .4l65.2 .2l-333.3 3.1l52.3-.5l9.1-.3l2.4 .3l197.3-.4l75.3 .7l-302.7 3.3l6-1.1l321.8 .9l-352.2 2l3.4 .7l19.9-.8l2.5 1.1l58.9-1.1l-37.3 2.9l12.3 .7l8.2 .2l9.6-.4l27.9-.2l9.4 .2l22.3-.2l81.8 .3l113.6 .2l-364.3 2.6l11.1-.3l38.3-.4l8 1l171.3-1l15.1 .9l11.3-.7l153.4 .6l-337.2 2.7l112.3 .2l17.2 .3l-194.5 2.5l5.6 .1l22.6-.4l6.6-.2l20-.1l22.8 .9l165.5-.4l89.1 .6l-322.5 2.4l19.9 .4l17.5-.3l153.7-.4l17.8 .4l22.3-.3l90.8 .1l-317.4 3.4l33.7-1.1l6.2 .8l6.4 0l7.8 .5l47.5-1.2l208.6 .9l37.1-.8l-364.3 3.6l29.4 .4l32-.8l110.4-.2l63.4 .8l69.5-.8l-245.1 2.7l6.9 .1l31.4 .1l8.1 .6l35.2-.1l76.1-.7l5.7 .7l75.3-.1l103.8 .2l-389.6 3.1l42.7-.5l17.9 .3l11.6-.9l5.5 .9l15.3-.5l16.9 .4l15 .6l8-.9l66.5 .2l69.5 .3l18-.8l130.6 .2l-436.4 3.8l63.2-.5l35.1-.2l6-.5l5.9 .5l3.3 .1l5.4-.2l99-.3l142 .4l-297.8 2.5l17.1 .7l3.2 .2l11.4-.4l46-.1l3.7-.3l16.9 .8l44.1-.8l20.1-.2l3.3 .6l42.3-.6l4.1 .8l-271.3 2.8l54.7 .2l70-.2l20.1 0l34.5-.6l5.6 1.1l133.9-1l61.3 .1l-356 3.6l96.4-.4l34.4-.3l35.1 .1l71.7 .9l9.7-.6l95.1-.6l8.1 .3l-333.7 2.6l36.4 .5l23.5 .5l29.3-.1l5.4 .2l55-.5l134.1 .1l2.7-.7l28.4 .4l15.5 .2l-341 2.7l46.4 0l89.6-.2l32.6 .1l4.8-.3l125.1 1.1l3-.2l20.1-1l11.8 .2l17.3 .4l-410.9 3.1l23.7 .4l6.5-.9l39.6 .2l17.6-.1l29.7 .8l98.4-.8l35.1-.2l56.9 .5l89.8 .5l64.8-.6l-457 2.6l66.4-.4l8.5 1l6.7-.2l31.4-.1l81.2 .2l14.1-.8l3.6 .7l11.9 0l28.6-.4l31.3 .9l6 0l17.1-.2l38.7-.4l32.1 .5l-373.9 2.5l9.9 .3l5.5-.3l54.5-.1l6 .5l14.6-.1l75.9-.8l72.2 .7l66.2-.1l15.2 .1l132.5-.5l-383.4 2.4l2.1 .3l18 .2l11.1-.4l3.8 1.3l20-1.3l2.8 .2l29.1 1l154.1-1.1l19.3 0l3.5 .4l5.6 0l-318 3.7l9.5-.5l8.2 .4l151-.9l116.4 .5l4.7 .3l6.7-.1l55.2-.6l-366.8 3.1l17.4 .7l13.5-.1l40.6-.8l84.2 .4l73.4-.7l65.6 1.2l31.9-.9l-296 3.5l72.2-.9l2.7 0l220.9 1l127.6-.9l-417.2 2.7l41.6 .2l74.3 0l12.6 .3l8.4-.1l7.9 .2l98.9 .2l44.1 .4l3.1-.5l72.3 .4l-408.3 2.1l67 .8l99.1-.7l5.3 .4l8.8-.6l-183.8 3.7l34.2-.4l8.5-.2l142.5 0l11.2 .9l142.6-1.2l26.2 .2l11.7 .1l28.8-.3l2.8 .2l-395.1 3.3l54.6-.5l11.5 .8l29.7-1.1l42.7 1.1l5.4-.8l14.4 .8l2.9 .1l29.2-1l122.9 .8l45.7 .1l2.4-.9l32.1-.1l-400.7 4l31.5-.3l14.4-.5l2.2 0l26.9-.2l115.9 .1l116.4 .2l17.5 .1l42.9 .7l29.1-.5l5 .2l9.9 .1l4.8 .2l-395.1 1.9l17.6-.1l5.6 .3l46.4 .2l45.9-.5l3.8 .2l4.5 .3l6.6 .2l67.1 .3l30.9-.2l84.6 .2l40.7-.4l-389.9 2.8l83.7 .3l78.5-.6l20.6 .3l49.5-.3l46.3 .4l68.8-.5l29.1 0l-319.7 3.2l5.6 .7l289.4-1.2l6.4 .9l6.1-.4l20 .6l35.1-.6l17.3-.5l-382.5 3.2l177.8 .5l2.3-.5l9 .3l179.8 .4l63.7-.6l-500.4 3.2l54.7 .3l59.1-.4l40-.6l17.6 .6l9-.5l8.9 .1l48.4 .5l11.4-.7l84.4 1.2l12-.9l63.1 .1l9.9 .2l-285.9 3.5l46.4-.4l84 .1l11.1 .3l118.6-.2l21.4 0l5.2 .1l-352.6 2.7l64.5 .1l51.5 0l17.9-.1l57.8-.9l49.6 .4l2.9 .4l8.6-.9l34.4 1.2l11.3-.2l4 .2l4.5-.4l6.8 .2l20.6-.5l-274.2 2.4l36.9 1l26.5 .1l5.7 0l6.2-.9l11.5 .4l23-.5l66.2 .7l99.4 .1l37.7 0l20.4-.8l-411.1 3.9l104.9-.4l8.4 0l38.2 .7l100.9-.6l24-.7l36.5 1l-325.2 2.1l34.3 .7l6-.7l122 .8l11.6-1l57.8 .4l9-.2l8.5-.2l37.5 1.1l52.1-.2l14.7-.5l60.9 .7l20.4-.1l5.3-.8l-433.9 3.8l197.4-.1l9.2-.3l19.9-.2l14.5 .5l12.2 .1l42.6-.5l20.7 .1l3.4-.6l43.8 .4l34 .3l28.8-.8l-433.2 3.1l61.2 .7l34.2 0l2.7-.1l95.7-.5l38-.1l11.3-.1l20.1 .6l41.2-.4l93.5-.3l7.7 0l-410.2 3.7l99.3-.2l72.1-.4l14.6-.3l49.5 1.3l3.2-.4l4.7 .5l9.1-.5l17.6-.6l2.6 .3l44-.5l25.4 .6l3.6 .1l36.9-.3l6.3-.1l5.6 .3l-337.2 3.4l11.5-.1l95.7-1.1l5.8 1.1l26.1 0l22.5-1l102.1 .8l2.8 .1l69.2-.4l2.7 .7l17.4 0l-351.5 2.5l94.9-.8l31.6 1.1l2.9-.3l14.8-.3l8.6-.4l11.7 .4l55.7 .4l55.5 .1l5.5-.7l33.8 .8l21.3-.3l-413 2.6l34.2 .5l35.5-.6l34.3 .1l70-.1l10.8 .5l14.7-1l63.5 .4l29.1-.1l72.3 .6l75.8 .5l2.5-.5l11.7-.6l41.2 .3l-480.1 2.5l84.3 .7l164.4-.8l5.7 .8l6.9 .2l141.4-1.1l-421.4 3.3l66.3 0l5.5 .7l11.5-.3l6.4-.1l28.3-.6l90.6 .3l14.4-.2l14.9 0l69.7 1.2l10.5-.4l2.9-.5l14.9 .3l2.8 .4l-319.8 2.3l61 .4l25.4 .1l3.8-.2l104.1 .5l60.4-.7l11.1 .6l50.1-.7l78.3 .8l26.3-1l34.7 0l-471.8 2.9l25.9 .8l58.8-1.1l86.2 1.3l102-.7l17.1-.4l31.8 .3l20.5 .2l139.5-.2l-482.4 2.8l89.6 .7l2.2-.9l160.6 .6l13.6 .4l64-.8l12.1 .3l-344.5 3.3l14.8-.4l12.3-.4l2.9 .5l86.5 .2l263.9 0l3.2-.8l-364.5 3l98.5-.4l37.5 .8l56.2-.1l4.7-.1l40.8-.5l73.4 1.1l19-.8l67-.2l17.2 .8l-441.8 2.7l96 .6l72.4-1.4l80.5 .3l38.5 .7l2.6-.2l66.6 .3l46.5-.8l8.1 .1l6.7 .6l43-.7l5.8 .2l-459.8 3.2l108.2 .1l11-.6l202.7 .7l29.6-.5l35.2 .5l100.4-.8l-505.8 3.7l40.3 .1l9.4 .2l17.1-1l35.5 .5l10.7 0l5.6-.2l2.9 .4l87 .1l11.8-.7l17.4 .7l75.8-.9l8.9 .8l2.2 .1l33-.8l58 .1l28.8 .8l31.9 .2l-459.5 1.7l103.7 .9l8.9 0l127.1 .2l18.2-.3l91.8-.4l5.9 .2l136.5 .6l-465.3 2.1l162.5-.5l6 .3l26.5 .4l20-.3l139.3 .6l-286.3 2.1l17.4 .2l15.3 .6l14.4-.2l28 .4l52.3-.4l38.5 0l31.3 .4l145.1-.9l-387 2.7l23.8-.1l100.6 .1l9.7 .2l249.2 .7l-282.7 3.1l39.5 0l26.1-.1l26.2-.9l56.2 .3l10.7 .8l55-1.3l11.9 .2l-357.6 3.8l26.2-.5l25.2 .2l34.8-.3l5.6-.4l59 1l20.6 .1l1.8-.2l46.5-.9l25.8 .7l177.1-.6l43.8 .2l-421.2 3.6l8.5-.4l19.9-.6l31.3 .5l82.2-.3l107.4-.2l66.3 1l-392.7 1.9l72.5 .3l31.7 0l13.7-.1l38.7 .2l1.8 .3l6.4 .2l63.2 0l78.8-1l134 .2l-259.3 3.4l34-.4l26 .9l197.6-1.1l61.2 0l-419.9 3.8l3.2-.2l46.1-.5l14.5 .6l32.2-.4l28.8 .3l275.2-.2l-433 2.7l29.5 .1l39.6 .2l44.4-.3l23.1 .2l23-.5l29.6 .2l66 .4l20.6-.2l16.6-.5l-314.1 3.2l72.5 .7l104.7-1l2.3 .6l8.8-.2l17 .5l38.7-.1l94.8-.3l67.9-.2l28.8 0l16.6-.2l-406.6 3.1l14.4 .6l5.9-1l13.6 .9l113.6 .3l57.9-.9l139.3 .9l-347.3 2.1l23.9 .1l23.1 .9l29-.4l14 .1l73.6 .1l144.6-1.1l19.7 1l40.7-.8l35 .2l-430.9 3.7l84.9 0l175.8 .1l12.4-1l-251.1 3.5l35.5 .4l344.7-.8l-413.4 3.1l31.7-.5l263.8 1l69.2-.5l58.7-.7l-447.7 3.1l84.1 .1l20.4 .6l66.7 0l5.9-.6l2.9 .4l14.3-.6l170.2 .9l12.2-.9l58.2 1.1l-318.2 1.8l-62.6 3.2l99.7 .4l45.5 .1l104.5-.2l67-.4l-346.7 3.5l28.8-.4l20.3 0l69.5-.2l6.7 .8l103.6-.9l61.5 .1l81.1-.2l-351.9 3.9l92-1l162.7 .1l14.1 .8l58.4-.5l75.7-.4l-361.8 3.7l67.3-.9l11.7 .9l66.1-.2l162.3 .2l17.8-.6l35.3 .5l-434.5 2.2l20.2 .5l12.7-.3l98.1-.3l46.6 .3l153.1 .3l5.9-.6l45.9 .3l64.7-.3l-386.8 3.4l158.3 .5l21-.8l49.9 .1l34.6-.3l-176.3 2.9l84.4 .6l77.9-.1l23.2 .7l50.4-.5l-242.9 2.4l20.4 1l9-.4l34.7 0l61.4 0l46.4-.4l2.2 .7l-117.1 2.4l106.9 .3l8.3-.4l9.2 .1l19.8 .2l38.5-.4l6-.2l-323.9 2.6l17.4 .9l69.8 .5l9.1-1l16.7 .3l19.8 .2l122.8 .1l25.5-.8l25.9 .3l47 .8l6.2-1.1l-320.5 3.1l94.8 .7l43.9-.6l97.9-.3l67.6 .7l-121.1 2.6l-52.5 2.9l11.1 .5l25.9-.5l177.3-.3l-167.5 3.9l18.2 0l54.9-.5l32.2 .2l8.5-.7l-289 3.8l20.6 0l35.4 .1l17.1-.6l170.6-.3l76.1 .5l20 .3l25.6-.2l-180.9 2.3l95.7 .9l8.4-1l21 .7l-188 3.1l52.1-1l8.5-.1l137.4 0l-124.1 3.5l20.4 .1l60.8 .1l15 .2l60.9 0l-372.7 2l228.8 .7l20.8-.6l23.2-.1l3 .3l3.1-.3l42.4-.1l-137.2 4.2l81-.2l31.6 .2l30-1.2l40.3 1l-131.6 1.8l8.5 .4l11.6-.4l38 .3l17 1l-160.8 2l136.6-.1l31 .9l-108.3 2.7l25.4-.7l21.1 .2l23.3-.5l-97.1 2.9l40 .3l22.8 .5l9.6-.9l34.5 .4l-41.8 3.7l19.5-.3l3.7-.2l25.8-.6l-129 4l8.8 .2l61.2-.3l11.1-.6l16.9 .7l34.9-1l-131.2 3.3l25.4-.5l-64.5 3.3l87.1 .1l3.1-.4l46 .8l69.5-.4l23.3-.4l17.3 .8l-187.8 2.5l32.9 0l28.1 .5l61.9-.9l-115.5 3.6l75.4-.9l26.4 .2l-120.4 3.9l93.5-.5l19.9-.3l5.2 0l12.6 .2l37.6-.4l-149.6 3.2l100.7 .2l-55.7 3.6l37.6-.2l-65.9 1.7l2.9 1.1l12.6 .2l8.8-.5l112.3 .6l3-1.3l-189.9 3.7l32-.1l48.8 .4l110.5-.4l-106 2.8l106.4 2.8l-120.7 15.2l73.6 3l23.8-1.3l-118 3.7l-14.9 3" fill="none" marker-start="url(#mtd)" marker-mid="url(#mtd)" marker-end="url(#mtd)"/><path d="M1225.3 1130.7l-92.1 14.9l89.2 7.8l12.8 9.2l-21.1 2.5l-94.2 3.1l92.4-.4l-163.9 4l150.9-.3l9-.9l29.1 .7l76.2 2.2l34.7 .9l-181.9 3.1l-100 3l181.1-.6l-10.7 2.7l58.1 .3l-111.6 8.1l69 1l-71.1 2.3l157.3-.6l-134.6 3.9l42.6-.9l2.9 .1l-207.6 3.5l241.7 5.5l-144.2 2.8l58.8 .7l-192.8 3.1l22.4-1l92.9 .1l161.9 .1l-299.3 3.1l37.2-.4l63 2.7l152.8 0l15.5 .3l-74.9 3.6l-131.5 2.8l118.8-.1l67.2-.5l-109.6 2.9l-111 3.8l188-.2l203.8-1.1l-415.5 6.9l249.5-.6l-247.2 3.2l356.4-.2l-161.1 2.8l7 2.8l-186.6 3.6l63.7-.4l327.3 0l-419.9 5.2l90.2 1.2l-48.5 2.2l181.6 3.3l-30.3 2.2l104 .1l-304.9 6.8l23.9-.4l40.7 .4l153.1-.2l145.1 .1l-352 2.7l57.7 .2l301.3-.9l-309.7 6.3l13.5 0l304.7-.5l-389.1 3.8l.8 2.4l339.4-.2l-27.1 3.7l52.4 0l-267.2 4.9l307.3 .5l-393.3 2.8l93.4 .4l206.2-.8l-321.5 3.7l23.3-.4l30.8 2.3l319.9 2.6l-157.5 4l20-.1l36.9 2.4l36.9-.2l35.3 .2l39.8 .1l2.7 3.4l-172.9 2.1l83.6 6.2l-38.6 2.9l-1.6 3.1l-160.4 2.7l214.1-.4l19.9 .2l-174.7 3.3l-8 3.2l93.5-.8l153.4-.2l-349.4 3.9l101.8-1.2l290 .1l-293.8 6.4l84.2 .4l61.8-.3l158.9 .3l19.7-.5l-438.9 3.7l342.5-.7l-212.7 3.5l170.6-.3l9.2-.9l-327.1 3.1l420.7-.1l-352.7 3.1l35.1 .8l-33.8 3.1l21.7 2.4l3 .2l2.8-.6l164.7 2.6l52.3 .9l-303.7 2.6l299.3 .3l-225.8 1.9l191.6 .7l17.8 0l-305.7 2.5l249.4 1l238.1-.7l-491.5 3.2l222.7-.7l-213.1 3.6l3.6-.7l52.2 .1l125 3.7l282.2-.4l-306.6 2.1l32.2 .3l111.2 3.2l-258.8 3.3l95.2 .3l142.3-.9l-140.6 3.9l152.4 2.5l144.4-1l-361.1 3.9l142.4 .3l217.9-.2l-425.7 3.1l119.1-1.1l110.8 1l-201.2 2.4l25.1 .6l3.6-1.3l137.7 3.9l159-.5l-282.6 3.1l64.3-.2l17.1-.3l150.5 1.1l-74.4 2.1l88-.4l-306.4 3l51.8 0l110.3 1.1l32.9 .1l-203.1 5.2l37.2 .4l28.4 .1l23.4-.4l81-.8l-131 2.9l237.6 6.7l91.6 8.4l-215.7 5.5l196 3.8l-30.1 2l109.9 .5l-308.6 2.8l283.9-.3l-354.9 3.3l227.8 3.2l63.6 .1l-14.3 4.9l28.7-.4l-137.7 3.3l86.6-.1l-56.5 3.2l-173.7 5.5l246.1 .9l-19.1 4.6l41.7 9.7l-90.6 5.1l-24.1 3.4l132.6 2.3l-101.1 2.7l53.2 .5l-118.1 2.5l84.3 1.1l28.9 0l-18.5 2.5l46.5-.5l48.9 .3l-138.3 2.9l37.5 5.9l-78.9 8l92.2 5.9l16.1 14.6l-28 8.6" fill="none" marker-start="url(#mod)" marker-mid="url(#mod)" marker-end="url(#mod)"/><path d="M1134.6 1131.2l75.4 5.4l18.1-.2l-88.4 8.9l28.1 3.2l-29.1 11.2l37.2-.7l72.9 0l-104.3 5.8l57.9 1.1l3.1 .1l-12 4.9l31.8 .3l21.9 2.4l5.3 1.1l-37.7 5.4l-145.9 2.1l20.6 .9l77.1-.5l145.9-.1l-83.4 3.6l-39.2 2.9l44.3-.8l63 0l36 4l-305.6 2.5l148.6-.7l-162.9 6l180.5 .1l89.1 .5l-36.5 3.1l-168.1 5l200.3 .8l22.8 0l-79.4 2.9l92.9-.3l-195.5 2.4l49.3-.4l29.4 .6l-195.8 2.5l20.1 .8l144.1-.7l38.6-.3l11.9 .3l43.5 0l112.1 0l-368.8 2.7l45.7 1.1l144.6-.4l15-.1l-167 3l61.8-.7l119 .7l33.9-.6l-208.8 6.1l165.2 .3l166.1 .1l-230.8 2.4l-144.1 2.7l47-.2l57.9 1.3l188.9-.5l26.3 2.5l-343.6 3.3l32.5-.7l75.8 .2l-59.3 3.1l34.5 .7l60.7-.6l243.9 .4l-378.8 3.2l168-.9l19.9 .8l8.7-1.2l119.7 1.1l8.7 .1l-349 2.9l63.4 0l4.9-.5l30.2 .5l-51.3 2.6l14.1 .2l3.1-.6l72.7-.3l46.3-.2l-79.7 9.4l147.8-.5l118.6-.2l-331.2 3.7l240.8 .2l155.5-.5l-354 3.7l1.9-.5l169 .4l71.7-1.1l-334.3 3.8l205.4-.5l46.3-.3l52.5 1.1l-258.9 2.3l1.7 .1l41.1-.6l81.7 .2l202.6-.1l-352.7 3.7l3.5-1l92.7 0l51.7 1.2l52.3-1.1l23.5 .1l77.6-.2l12.8-.1l-337.8 2.9l8.1 .5l17.6-.1l3.2 .3l62.9-.2l31.6-.2l200.7 .1l52.5 .8l-386.8 1.7l110.2 .5l68.3 .1l163.3-.2l81.3 .6l-364.7 2.7l56.1 0l81-.4l11.6 .8l13.8-.6l203-.3l-258.8 3l49.3 .8l-141 1.7l127.3 .5l-131.6 2.4l87.1 .4l32.2 .5l176.1-.7l47.1 .4l2.4 .7l-413 1.6l8.4 .3l-12.2 3.6l42.4 .1l148.2-.7l14.2 .2l29.1-.5l-221 3.7l1.9 .2l108.4-.5l110.2-.3l-211.1 3.3l95.3 .2l200.3 .3l34.8-1l-279.4 3.2l90.3-.4l23.3 1.1l5.8-.6l4.7-.3l58.7 .6l92.8 .1l-282.8 2.8l90-.3l211.2 .6l17.6-.8l-183.6 3.4l237.2-.3l32-.3l-459.8 2.9l2.7 .5l218.4 0l115.1 .3l-320.4 2.6l6.1-.1l57.6-.4l322.1 .4l9.6-.4l40.5 .9l-373.4 2.5l73.2-.5l19.7 0l32.1 .6l8.6-.9l153.2 1.1l-392.1 2.5l106.4 .1l174.4-.7l81.7 .3l77.6 0l-363 3.5l13.4-.2l128.2-.8l55.5 .4l42.9 .3l-221.6 2.8l77.9-.5l73.4 1.2l65.8-.4l18.2 .1l124.1-1l8.1 1.3l-256 1.7l23.5 .6l33.9 .5l21.3-.6l36.7-.6l15.6 .5l123.8 .5l14.6-.8l-363.2 3.3l11.1-.1l124.5 .8l55.7-1.1l31 .5l38.8-.2l81 .3l-375.7 2.2l35-.2l177 .3l14.7 0l33.8-.1l31.5 .1l7 .5l45.4 .1l3.2 0l23.5-.2l-393.7 3.3l44.2-.9l162 .1l34.5 .7l56.1 0l-228.7 2.5l70.5-.4l20 .9l52.3 0l26.8-.9l86.5 .9l-183.7 2l109.9 .3l60.3 0l96 .6l-399.4 2l200.2 .1l84.7 .4l84.1 .2l-311.6 3.3l359.6-.4l-86.4 3.3l37.9-.7l-293.3 2.9l13.7 .1l131.2 .1l5 .1l15.3-.8l103.8 .6l26.5 .1l40.9-.6l-367.1 3.2l13.6 .8l12.8-.6l152.5 .1l-252.6 3.4l69.2-.9l40.2 .5l125.4-.5l19.8-.2l122.2 .3l-373.6 3.6l28.9-.7l47.2 .3l234.3 .2l21-.1l28.8-.2l73 .7l-419.5 2.8l234.8-.1l17.6-1.1l147.5 .1l-438.6 3.1l22 .8l3.7-.7l19.8-.3l214.7 1.1l90.1-1l81.7 .8l-280.4 2.9l164.8-.7l-227.2 3.7l119.1-1.2l46.7 .1l-144.4 3.4l61.4 .2l147.9 .3l3.4-.8l8.6 .2l37.1-.3l-279.8 2.7l139.4 .2l60.8 .9l188.2-1l-468 3.8l69.6 .2l104.8-.8l54.9-.3l-140.3 3.5l153.5-.3l61.1 .5l112.7 .4l-305.9 1.9l51.8-.2l19.8 .6l32.3-.4l3.4 1l66.2-.2l17.3-.6l26.6-.2l-305.7 4l130.3-1.2l-97.4 2.9l64.4 .8l48.6-.9l20.4 1.1l41-.9l-245.1 2.7l124.2-.1l174.2 .8l104.3-.3l-335.5 3.8l44.5-.4l37-.8l185.8-.1l-326.2 4.1l127.8-.6l182.9 .6l69.1-.8l-56.5 2.6l60.6 1.1l-96.7 2l14-.3l149 .2l-413.3 2.8l16.8 .5l333.5-.1l93.5 .6l-367.3 2.4l100.6-.1l122.2 .5l130.4 0l-427.6 3.1l151.5-.8l28 .3l188.7 .4l32.9-.6l-431.1 3.3l63.1-.8l217.9 .2l121.3 .7l-360.1 2.8l37.3 .3l38.2 0l-35.7 5.6l293-.3l-140 2.5l184.8 1l-183.8 2.7l90.7-.2l-165.1 2.2l217 3.7l-250.6 2.6l213.8 .1l-94.7 2.2l75.8 1l-83.1 1.9l-110.5 3.1l147.2 .4l64.6-.1l34.7-.2l-268.3 2.9l136.1 .3l121.2-.1l-13.2 3.1l18.4 .4l59.9-.1l-117.2 2.8l78.9-.9l-234 3.1l93.6 .5l122.4 2.9l-278.1 5.8l313.4-.7l-172.9 2.8l139.7 .5l31.9-.3l9 0l46 .6l-214 2.4l-17.8 2.8l155.8 .4l-134.5 8.3l89.2 .4l9.6 .1l-100.4 3.5l-12.6 2.8l2.7-.6l191.6 .2l-308.6 2.3l123.9 .1l118.6 .9l3.3-.1l-27.9 2.2l41.1 .4l15.5 3.1l-175 2.8l103.8-.8l-78.8 3.1l45.6 .8l98.5 .2l14.9-.4l-111.8 2.6l55.5-.5l-56.8 2.8l69.7 .7l75.7-.5l-74.2 3.8l93.4-.2l-95.2 3l-111.5 3l28.8-1l63.7 .8l20.5 0l52.7-.1l-123.4 3.3l110.8-1l7.6-.2l-122.3 3.2l8.9 .8l25.2-.8l-4 9.3l-10.9 8.7l92.1 2.3l-97.6 3.6" fill="none" marker-start="url(#mrd)" marker-mid="url(#mrd)" marker-end="url(#mrd)"/><path d="M1172.9 1124.2l25.7 1l-47.3 2.3l39.4 2.9l14.5 .1l44.7 3.2l-109.2 2.6l67.7-.1l-66 2.8l108.6 3.7l-97 2.6l5.8-.4l28.6-.5l3.7 .4l54.4 .2l25.9-.1l-175.2 2.4l43.4 .9l103.7 2.8l54.8-.2l-221.7 2.5l101.1 .7l5.2 2.7l94.6-.1l-163.9 2.6l12.3 .9l3-.5l92.9 .6l48.9-1l-129.7 3l49.7 .1l17.4 .8l8.4-.8l26.5-.4l25.4 3.6l-175.6 3.3l112.4-1l104.6 .4l-131.8 3.6l124.1 .1l37.5-1.3l-136.5 3.4l127.7 .8l-272.3 2.5l186.3-.4l6.1 .5l69.3 .1l-250.5 2.2l97.7-.3l169.2 .5l-274.8 2.9l168.4 .5l23.8-.2l71.6 .3l-229.7 1.9l80.9 1l20-.1l-94.7 2.7l17.9-.4l20.8 0l89.1 .1l-129.5 2.9l160.5 .6l-216.5 1.9l148.5 .7l65.9-.1l23.4 .4l52.8-.9l-295.2 3l26 .8l133.5-.9l8.5 .6l20.8-.1l-184.3 3.3l125.4-.1l6 .1l124.5-.8l52.4-.2l-321.6 3.6l9.1-.4l166-.1l-164.8 2.8l34.8 .4l137.1-.6l7.9 .2l25.8 .5l6.2 .1l14.1-.2l44.6 0l-306.6 2.3l11.7 .9l23.2-.1l22.8-.2l84.7-.6l72.5 .7l77.6-.6l-262.2 3.3l34.8-.3l40.4 .8l15.1-.9l16.8 .2l18.1 .4l17-.6l67.1-.2l40.7 .7l42.6-.4l-293.4 2.8l17.5 .9l31.9-.8l106.2-.3l21.3 1l-198.7 2.3l17.1 .8l40-.6l102-.4l12 .1l38.1 1l97.5-1.1l22.9 .6l-333.9 3.2l20.5-.3l2.4-.7l51.8 .4l6.7-.5l26.2 1l13.8 .2l23-.9l53.1 .2l8.2-.3l11.5 .8l2.6-.8l110.7 .8l-332.4 2.5l11.4-.5l8.3 .4l29.7 .7l28.4-.2l12.6-.5l16.3-.4l101.8 .1l26.3 .2l101.8 .9l11.6-1.3l-349.2 3l32.2 .7l21.9-.2l33.1 .2l74.7-.6l3.3 .1l31.2 .1l6.1 .6l15.3-1.1l-202 3.4l11.4 .4l6.2 .3l132.7-.6l67-.3l116 0l-369.1 3.3l65.5 .3l38.1 .1l18.2-.3l8 .4l197.1 .2l73.2-1.3l-347.1 4.2l20.5-1.1l106.4 0l4 .9l54 .2l15.5-.5l95.4 .5l-262 2.3l14.6 .2l86.8-.6l14.5-.2l60.7 1.1l66.6-.7l14.1-.2l-328.2 3.7l33.7-1.1l6.7 .6l17.1-.5l8.4 .6l6 .4l9.4-.7l22.2 .8l43.7-.6l15 .4l216.7-.7l-375.4 3.5l55-.7l34.6 .8l3 .1l154.6-1l-245.7 3.8l26.7-.5l13.6-.4l366.5 .1l-344.9 2.8l41.1-.1l192.2 1.1l-330 2.1l46.4 .2l6.3-.1l11.6-.2l1.9 .2l70.8 .1l43.3-.4l25.5 1l17.7-.6l6.1-.6l43.2 .4l3.1 0l49.8 .5l103.2 .4l-374.6 2.3l2.9 0l43.2-.4l66.6 .5l48.6-.7l58.7 .3l66.9 .1l-245.6 3.3l12.2-.6l40.2 .4l14.6 .1l13.9-.6l29 .9l33.1-.5l-246.1 3.3l11.5-.2l40.7-.7l3.4 1.1l119.5-.1l57.9-1l103.4 .3l41.3 .3l23.2 .5l-399.3 2.2l15.2-.1l46.7 .5l92.3-.8l14 1l3.1-1.1l28.4 0l32.4 .1l6.4 0l123.7 .2l3.1-.1l9.2 0l-355.8 3.7l43.9 .4l8.1-.8l172.3 0l83.9 .5l-323.3 3l60.8-.8l22.4 .4l9.2 .6l2.8-1.2l84.4 .5l95.2-.6l29.5-.1l8.8 1.2l13.9-.2l130.4-.1l-467.3 2.1l86.7 .1l28.1-.1l69.8 .2l8.7 .3l9 .6l20.5 .2l101.5-1.2l96.1-.2l31.7 .4l-428.2 3l166.1-.5l50.8 1l47.5-.2l94.9 .3l12.4-.5l-366.7 3l39.4-.7l12.7 1.3l83-.7l6.1-.1l11.7 .1l142.8-.3l-323.7 3.6l39.9-.1l29.9-.9l2.1 .2l3.8 .7l5.7 .2l19.5-.2l66.7-.3l9.1-.1l17.5 .6l8-.9l178 .2l25.7-.3l47.1 .2l-431.6 3.6l6.7-.8l106.2 .7l17.9-.2l12 .1l2-.7l18.2 .6l106.6-.6l26.2 1.1l24.1-.5l-315.6 2.6l3.9 .2l66.1 .3l17.6-.6l37 .6l226.6-.6l-387.5 3.4l6 .1l12.2 0l34.8-.3l36.7 .1l78.3 .6l128.8 .1l72.1-1.2l-367.6 3.4l15-.2l20.8 .4l59.7-.8l64.1 0l5.8 0l32.2 0l162.4 .9l89.6 0l-436.2 3.1l17.4-.7l16.9-.3l70.8 .1l34.8-.1l37 1l29.8 0l58-1l25.9 1.2l112.3-.7l32.7-.3l-466.4 3.1l20.7-.3l17-.1l27.1 .5l31.7 .3l145.1-.3l173.5 .3l21-.3l-428 2.6l45.4 0l70.3 0l133.5 .8l11.6-1.1l52.1 .5l118.2 .2l-368.7 2.2l2 .3l38.5 .6l75.5 .1l13.8-.2l73.1 .2l46.8-.3l31.5 .3l52.4-1l-390 3.2l23.1-.2l11.1 .6l78.4-.7l11.9 .9l100.5-.1l75.5-.2l3.9-.2l2.7 .4l57.6-.4l32.3 .4l14.8-.3l26 .4l8.7-.3l16.4-.1l-470.8 3.1l23.5-.4l113.6-.1l42.3 .5l49.6-.7l17.3 1.1l96.1-1l72.2 .7l51.9-.1l-412.8 2.8l182.5 0l78.5 .7l49.8-.1l-137.7 2.8l226.1-1.1l14.1-.1l-428.2 4.1l314.3-.7l2 .1l-293.5 3.7l139-.7l23.1-.6l49 1l66.5-1l29.6 1.2l54.8-.8l31.5 .5l26.2-.3l-427.9 2.6l15.3 .5l202.7-.5l19.6 .8l76.5-.1l1.8 .2l-332.1 1.7l38.4 .9l103.7-.8l6.2 .6l50.1 0l8.5-.5l68.7 .4l17.9-.1l26.3 0l93.1-.6l-301 3.8l110.4-.6l23.9 1l37.5-.3l20.4-.7l8.7 0l66.7 .5l2.1-.4l47.2 .6l20.1 .1l-436.3 2.9l22.6-.2l90.5-.4l5.4 .6l8.8 .2l48.8-.2l64.5-.9l26.4 .5l33.7-.4l18.4 .7l30.9 .1l55.7-.9l-471 2.9l35 1l11.2-.8l31.3 .4l6.2-.3l67-.5l5.6 1l17.7 0l65.7-.8l21.4 .1l2.6-.1l23.2 .3l51.5-.2l63.9 .9l8.7 .2l3.6-.1l-251 1.9l55.1 .4l72.3-.5l127.1 1l47-.3l-247.9 2.6l9.3 .5l31.4-.5l34.2 .2l112.9-.5l-375.6 3l82.5 .2l7.9-.6l44 .8l43.3-.5l14.9 .2l10.9 .1l15.2 .7l8.5-.5l10.7 .4l78.3-1l23.5 .9l32-.7l-224.1 3.7l167.3-.9l6.8-.1l77.2 .8l9.3-.9l-294.7 4l84.1-.7l136.8-.5l90.1 1.2l60.2-.6l-497.7 3.4l12.5-.9l70 1.1l42.2-1.3l15.7 1l42.8-.5l76.2 .2l22.9 .1l39.7 .2l29.7-.2l6.1-.8l5.3 1.3l49.4-1.1l-318.2 3.5l23.5-.4l40.3-.1l2.8 .6l21.3-.9l2.6 .5l38 0l22.7 .7l26.6-.2l5.5-.4l9.3-.1l45.3 .1l2.8 .4l-323.4 3l235.8-.1l34.4 0l29.2-.1l148.2-.8l8.3 .4l-465.5 2.9l55.5 .1l29.1 .1l48.4-.2l104.7 .8l14.2-1.3l91.1 .6l137.8 .3l-475.7 2.9l150.7-.2l17.5 .4l37.6 0l11.1-.9l80.8 .5l52.6 .4l-317.4 2.2l84 0l133.5-.1l-263 3.5l258.6-.6l26 .4l8 .5l30.2-.6l49.1 .5l25.8-.2l22.8-.4l56 .1l-495.4 3l23.7-.3l64.2 .4l10.5 .5l14.5-.9l44.5 .3l69 .2l191.5-.7l49.8 .1l54.5 .4l-457 2.3l76.3 .4l4.7-.2l14.5 .5l6.9 .2l83.5-.9l20.2 .6l55.2-.5l-248.3 3.2l53-.1l36.8 .8l29.2 0l15.4 .1l16.6-.4l40.4 0l35.8-.2l2.1-.4l38.3-.2l2.3 1.2l26.8-.6l49.1 .5l104.8-.5l-286.6 2.6l46.6 .1l188.2 .9l-389 1.6l115.1 .7l12.5 0l57.5-.7l37.8 .1l20.5 .6l2.6 .1l22.7-.1l52.1-.3l64.5-.4l-380.9 3.6l30.9-.3l58.4 .1l11.7-.4l51.6 1.1l33-.7l40.6-.5l33.6-.1l33.1 .2l43.3 .1l-366.8 4l19.7-.8l73.1-.2l48.6 .2l25.9-.5l99.3 1l8-.4l29.8 .2l4.9-.6l62.1 .1l-407.8 3.3l101.8 .1l19.7-.8l8 0l32.1 1.3l64.5-.8l2.4 .2l118.6-.1l93.5-.6l-477.8 3.9l49.6-.1l26.2-.8l18.1-.1l107.5 1.2l18.9-1.1l12.9 0l8.4 0l34.4 .2l14.2 .5l3.8 .1l49 0l93.2-.9l25.4 .1l-416.2 3.9l29.1-1l61.1 .9l20.8-.5l31.1 .8l12.3-1.3l30.9 .6l17.8 .2l26.7 .2l213.7-.2l8.8-.8l-407 3.6l38.1 .4l75.2-.6l153.4 0l154 .5l-453.6 2l62.5 0l93.1 .9l3.2 .1l69.3-.3l17.7-.6l-210.2 3.7l19.7 .2l3.5 .1l19.8-.3l17.9-.6l2.4-.2l15.1 .7l34.5 .3l15.4-1.3l31.8 .3l-210.4 2.8l62.7 .8l12.3-.3l49.3 .1l17.3-.6l52.5-.2l8.8 .5l2.9-.2l159.3 .6l37.8-.8l28.9 .9l-424.6 3.1l7.9 0l15.1-.4l2.3-.7l139.9 .6l38.1 .5l16.6-.6l46.7-.5l72.4 1l46.5 0l-399.3 2.6l17.4-.6l25.9 .2l111.1 0l8.8 .6l25.5 .1l241.3-1l34.7 1.1l-451 2.7l90.1-.7l86.6 .4l49.7 0l72.5 0l107 0l28.8-.3l-213.2 2.6l17.4 .6l116.5-.3l2.9 .4l57.1 .6l23-.7l3.1-.3l-456 3.3l72.8-.7l104 .2l70 1l136.4-.7l34.4 0l-415.8 2.9l156.5-.5l138.6 .7l73.1-.3l14-.3l-224.7 3.5l5.8-.1l158.7-.1l39-.3l-292.1 3l173.6-.3l14.4 1.2l69.7-.8l90.8-.5l-190.2 3.9l206-.8l-329.9 4l76.2-1.1l26 0l92.6 .3l12.8 2.9l-242.2 3.5l23.5-.8l154 1.1l4.2 2.9l74.6-.5l64.7 .1l11.6 .3l29 0l-109.5 2.5l-142.6 2.1l77.4 .5l17.9 .6l9.2-1l56.8 .7l27.2 .2l95.7-.1l-387.5 2.9l167.9-.8l5.9 .2l28.8 .1l6.4-.4l48.8 .1l-201.1 3l40.1 .6l162.4-.6l55 .5l12.2-.7l11.1 .8l-102.2 3.1l5.4-.2l34.1-.7l87 1l21.3-1.2l-352.7 3.4l209.1-.4l57.3 .7l26.1-.3l-29.9 3l-69 3.6l17.8-1l58.3 .4l8.7-.5l17.5 .9l-343.2 2.3l173.6-.3l57.6 .3l32.6 .2l55.2-.2l2.7-.5l19.5 .9l-76.8 3l29.7-.2l1.9 .1l18 .1l8.6-.7l-34.6 6.9l-212.9 2.8l109.9-.4l10.2 3.2l22.6 .1l110.7 0l77.8-1.2l-53.3 3.7l8.7-.7l-210.2 3.2l9.9 2.8l139.8 .5l20.7-.8l22.9 .7l-147.3 3.1l24.2-.2l25 .2l20.2-.9l38.4 .4l2.3-.4l35.7 .2l-268.9 2.8l171.7 .1l2.8 .5l14.4 .5l25.8-.8l28.7 .8l26.3-.2l11.9-.2l34.2-.3l21-.6l-224.6 3.4l77.8-.1l75.9 .3l41-.1l17.2 0l-161.1 3.3l74.8-.3l17.7-.4l-128.9 3.5l107-.8l21.2 0l42.5 1.1l-175.7 2l99.4 .4l14.1 .7l31.7-1l47.4 .7l-196.8 1.9l111.1 0l2.8 1.1l57.9-.2l-132.6 2.6l6.3 .1l25.8 .5l11.6 0l46.7-.5l34.5-.4l5.9-.1l5.2 .2l-186.6 2.4l2.9 1.1l49.4 0l-13.2 2.9l11.7-.1l2.4-.2l30.1-.7l11.6 .9l109.1-.3l-151.7 2.3l2.6 1.1l29.3 .2l15-.2l41.2 3l-6.3 2.8l-19.9 1.8l-33.2 4.1l11.4 11.5l71.3 1.9l-97.3 2.7l-8 11.8" fill="none" marker-start="url(#mgd)" marker-mid="url(#mgd)" marker-end="url(#mgd)"/></svg></body></html>
